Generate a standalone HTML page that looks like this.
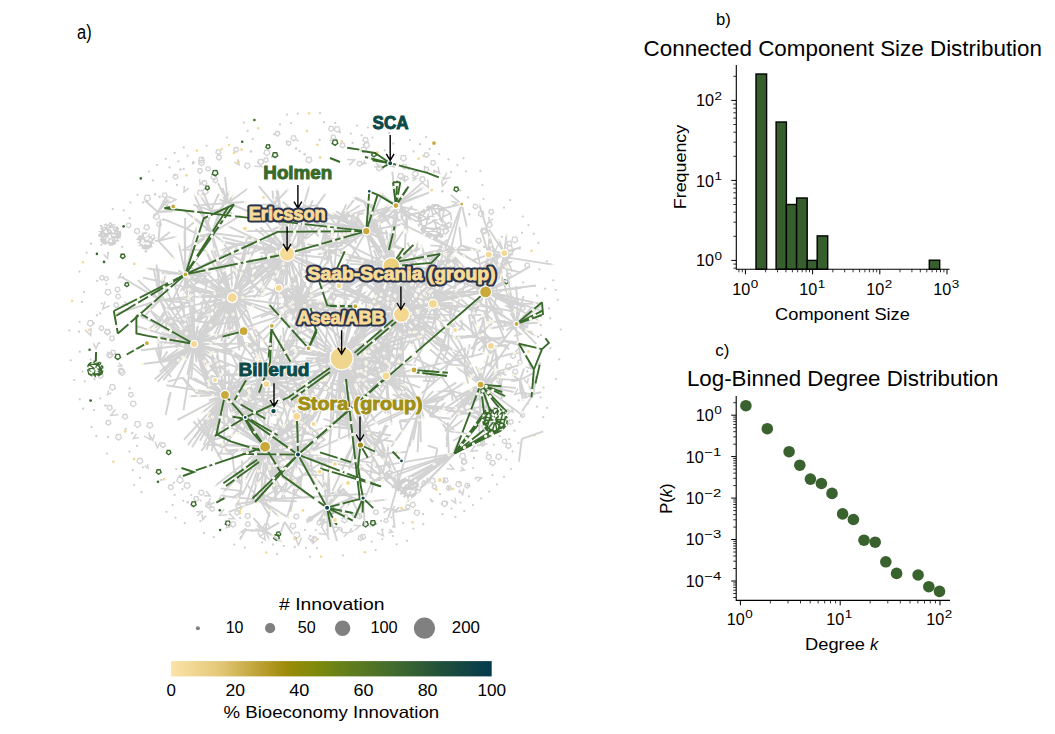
<!DOCTYPE html>
<html><head><meta charset="utf-8"><style>
html,body{margin:0;padding:0;background:#fff;width:1055px;height:734px;overflow:hidden}
svg{display:block}
text{font-family:"Liberation Sans", sans-serif}
</style></head><body>
<svg width="1055" height="734" viewBox="0 0 1055 734">
<rect width="1055" height="734" fill="#fff"/>
<circle cx="559.3" cy="359.4" r="1.1" fill="#cdcdcd"/>
<circle cx="555.9" cy="379.0" r="1.1" fill="#cdcdcd"/>
<circle cx="547.1" cy="407.8" r="1.1" fill="#cdcdcd"/>
<circle cx="543.3" cy="417.2" r="1.1" fill="#cdcdcd"/>
<circle cx="534.2" cy="435.3" r="1.3" fill="#f3d998"/>
<circle cx="510.9" cy="469.0" r="1.1" fill="#cdcdcd"/>
<circle cx="504.0" cy="476.8" r="1.1" fill="#cdcdcd"/>
<circle cx="496.8" cy="484.3" r="1.1" fill="#cdcdcd"/>
<circle cx="489.2" cy="491.6" r="1.1" fill="#cdcdcd"/>
<circle cx="481.2" cy="498.5" r="1.1" fill="#cdcdcd"/>
<circle cx="472.9" cy="505.0" r="1.1" fill="#cdcdcd"/>
<circle cx="464.3" cy="511.2" r="1.1" fill="#cdcdcd"/>
<circle cx="455.4" cy="517.1" r="1.1" fill="#cdcdcd"/>
<circle cx="407.0" cy="540.8" r="1.1" fill="#cdcdcd"/>
<circle cx="396.7" cy="544.3" r="1.1" fill="#cdcdcd"/>
<circle cx="375.6" cy="550.0" r="1.1" fill="#cdcdcd"/>
<circle cx="364.8" cy="552.3" r="1.3" fill="#f3d998"/>
<circle cx="343.0" cy="555.4" r="1.1" fill="#cdcdcd"/>
<circle cx="321.0" cy="556.8" r="1.3" fill="#f3d998"/>
<circle cx="310.0" cy="556.8" r="1.1" fill="#cdcdcd"/>
<circle cx="277.1" cy="554.2" r="1.1" fill="#cdcdcd"/>
<circle cx="266.2" cy="552.5" r="1.3" fill="#f3d998"/>
<circle cx="244.8" cy="547.6" r="1.1" fill="#cdcdcd"/>
<circle cx="234.3" cy="544.6" r="1.1" fill="#cdcdcd"/>
<circle cx="213.8" cy="537.2" r="1.1" fill="#cdcdcd"/>
<circle cx="203.9" cy="532.9" r="1.1" fill="#cdcdcd"/>
<circle cx="184.7" cy="523.1" r="1.1" fill="#cdcdcd"/>
<circle cx="175.5" cy="517.7" r="1.1" fill="#cdcdcd"/>
<circle cx="166.5" cy="511.8" r="1.1" fill="#cdcdcd"/>
<circle cx="141.6" cy="492.2" r="1.1" fill="#cdcdcd"/>
<circle cx="134.0" cy="485.0" r="1.1" fill="#cdcdcd"/>
<circle cx="113.3" cy="461.7" r="1.3" fill="#f3d998"/>
<circle cx="107.2" cy="453.5" r="1.1" fill="#cdcdcd"/>
<circle cx="96.3" cy="436.2" r="1.1" fill="#cdcdcd"/>
<circle cx="91.5" cy="427.2" r="1.1" fill="#cdcdcd"/>
<circle cx="83.2" cy="408.7" r="1.1" fill="#cdcdcd"/>
<circle cx="79.8" cy="399.3" r="1.1" fill="#cdcdcd"/>
<circle cx="74.3" cy="380.0" r="1.1" fill="#cdcdcd"/>
<circle cx="70.8" cy="360.3" r="1.1" fill="#cdcdcd"/>
<circle cx="69.3" cy="330.5" r="1.1" fill="#cdcdcd"/>
<circle cx="72.2" cy="300.8" r="1.3" fill="#f3d998"/>
<circle cx="79.5" cy="271.6" r="1.1" fill="#cdcdcd"/>
<circle cx="82.9" cy="262.2" r="1.3" fill="#f3d998"/>
<circle cx="86.7" cy="252.8" r="1.1" fill="#cdcdcd"/>
<circle cx="91.0" cy="243.7" r="1.1" fill="#cdcdcd"/>
<circle cx="101.0" cy="225.9" r="1.1" fill="#cdcdcd"/>
<circle cx="112.7" cy="209.0" r="1.1" fill="#cdcdcd"/>
<circle cx="140.8" cy="178.4" r="1.3" fill="#386a2a"/>
<circle cx="148.8" cy="171.5" r="1.1" fill="#cdcdcd"/>
<circle cx="157.1" cy="165.0" r="1.1" fill="#cdcdcd"/>
<circle cx="165.7" cy="158.8" r="1.1" fill="#cdcdcd"/>
<circle cx="174.6" cy="152.9" r="1.1" fill="#cdcdcd"/>
<circle cx="183.8" cy="147.4" r="1.1" fill="#cdcdcd"/>
<circle cx="243.8" cy="122.6" r="1.1" fill="#cdcdcd"/>
<circle cx="254.4" cy="120.0" r="1.3" fill="#386a2a"/>
<circle cx="287.0" cy="114.6" r="1.1" fill="#cdcdcd"/>
<circle cx="297.9" cy="113.7" r="1.1" fill="#cdcdcd"/>
<circle cx="309.0" cy="113.2" r="1.3" fill="#f3d998"/>
<circle cx="320.0" cy="113.2" r="1.1" fill="#cdcdcd"/>
<circle cx="395.7" cy="125.4" r="1.1" fill="#cdcdcd"/>
<circle cx="426.1" cy="137.1" r="1.1" fill="#cdcdcd"/>
<circle cx="463.5" cy="158.2" r="1.1" fill="#cdcdcd"/>
<circle cx="480.4" cy="170.9" r="1.1" fill="#cdcdcd"/>
<circle cx="510.2" cy="200.2" r="1.1" fill="#cdcdcd"/>
<circle cx="522.8" cy="216.5" r="1.1" fill="#cdcdcd"/>
<circle cx="528.5" cy="225.1" r="1.1" fill="#cdcdcd"/>
<circle cx="533.7" cy="233.8" r="1.1" fill="#cdcdcd"/>
<circle cx="538.5" cy="242.8" r="1.1" fill="#cdcdcd"/>
<circle cx="546.8" cy="261.3" r="1.1" fill="#cdcdcd"/>
<circle cx="553.2" cy="280.3" r="1.1" fill="#cdcdcd"/>
<circle cx="555.7" cy="290.0" r="1.1" fill="#cdcdcd"/>
<circle cx="557.7" cy="299.8" r="1.1" fill="#cdcdcd"/>
<circle cx="560.7" cy="329.5" r="1.1" fill="#cdcdcd"/>
<circle cx="550.4" cy="348.2" r="1.1" fill="#cdcdcd"/>
<circle cx="543.6" cy="387.6" r="1.1" fill="#cdcdcd"/>
<circle cx="540.6" cy="397.3" r="1.1" fill="#cdcdcd"/>
<circle cx="537.1" cy="406.7" r="1.1" fill="#cdcdcd"/>
<circle cx="518.4" cy="442.9" r="1.1" fill="#cdcdcd"/>
<circle cx="512.6" cy="451.4" r="1.1" fill="#cdcdcd"/>
<circle cx="506.3" cy="459.6" r="1.1" fill="#cdcdcd"/>
<circle cx="492.5" cy="475.2" r="1.1" fill="#cdcdcd"/>
<circle cx="469.0" cy="496.3" r="1.1" fill="#cdcdcd"/>
<circle cx="460.5" cy="502.6" r="1.1" fill="#cdcdcd"/>
<circle cx="451.6" cy="508.6" r="1.1" fill="#cdcdcd"/>
<circle cx="442.4" cy="514.2" r="1.1" fill="#cdcdcd"/>
<circle cx="423.3" cy="524.2" r="1.1" fill="#cdcdcd"/>
<circle cx="413.4" cy="528.6" r="1.1" fill="#cdcdcd"/>
<circle cx="392.9" cy="536.0" r="1.1" fill="#cdcdcd"/>
<circle cx="382.3" cy="539.1" r="1.1" fill="#cdcdcd"/>
<circle cx="371.7" cy="541.7" r="1.1" fill="#cdcdcd"/>
<circle cx="316.9" cy="548.0" r="1.1" fill="#cdcdcd"/>
<circle cx="305.9" cy="547.8" r="1.1" fill="#cdcdcd"/>
<circle cx="294.8" cy="547.2" r="1.1" fill="#cdcdcd"/>
<circle cx="283.8" cy="546.1" r="1.1" fill="#cdcdcd"/>
<circle cx="272.9" cy="544.5" r="1.1" fill="#cdcdcd"/>
<circle cx="262.1" cy="542.5" r="1.1" fill="#cdcdcd"/>
<circle cx="240.8" cy="537.1" r="1.1" fill="#cdcdcd"/>
<circle cx="220.1" cy="530.0" r="1.3" fill="#386a2a"/>
<circle cx="200.3" cy="521.1" r="1.1" fill="#cdcdcd"/>
<circle cx="172.6" cy="504.8" r="1.1" fill="#cdcdcd"/>
<circle cx="140.0" cy="477.8" r="1.1" fill="#cdcdcd"/>
<circle cx="132.8" cy="470.2" r="1.1" fill="#cdcdcd"/>
<circle cx="108.0" cy="437.2" r="1.1" fill="#cdcdcd"/>
<circle cx="94.2" cy="410.0" r="1.1" fill="#cdcdcd"/>
<circle cx="90.6" cy="400.6" r="1.3" fill="#386a2a"/>
<circle cx="84.8" cy="381.3" r="1.1" fill="#cdcdcd"/>
<circle cx="82.6" cy="371.5" r="1.1" fill="#cdcdcd"/>
<circle cx="79.8" cy="351.7" r="1.1" fill="#cdcdcd"/>
<circle cx="79.1" cy="331.7" r="1.1" fill="#cdcdcd"/>
<circle cx="79.6" cy="321.8" r="1.1" fill="#cdcdcd"/>
<circle cx="82.0" cy="301.9" r="1.1" fill="#cdcdcd"/>
<circle cx="84.0" cy="292.1" r="1.1" fill="#cdcdcd"/>
<circle cx="96.9" cy="253.9" r="1.3" fill="#386a2a"/>
<circle cx="101.3" cy="244.8" r="1.1" fill="#cdcdcd"/>
<circle cx="106.2" cy="235.9" r="1.1" fill="#cdcdcd"/>
<circle cx="123.7" cy="210.4" r="1.1" fill="#cdcdcd"/>
<circle cx="130.4" cy="202.5" r="1.1" fill="#cdcdcd"/>
<circle cx="137.5" cy="194.8" r="1.1" fill="#cdcdcd"/>
<circle cx="152.8" cy="180.4" r="1.1" fill="#cdcdcd"/>
<circle cx="169.5" cy="167.4" r="1.1" fill="#cdcdcd"/>
<circle cx="178.4" cy="161.4" r="1.1" fill="#cdcdcd"/>
<circle cx="187.6" cy="155.8" r="1.1" fill="#cdcdcd"/>
<circle cx="197.0" cy="150.6" r="1.3" fill="#f3d998"/>
<circle cx="206.7" cy="145.8" r="1.1" fill="#cdcdcd"/>
<circle cx="226.8" cy="137.5" r="1.1" fill="#cdcdcd"/>
<circle cx="247.7" cy="130.9" r="1.1" fill="#cdcdcd"/>
<circle cx="258.3" cy="128.3" r="1.3" fill="#f3d998"/>
<circle cx="280.0" cy="124.4" r="1.1" fill="#cdcdcd"/>
<circle cx="291.0" cy="123.1" r="1.1" fill="#cdcdcd"/>
<circle cx="324.1" cy="122.2" r="1.1" fill="#cdcdcd"/>
<circle cx="335.2" cy="122.8" r="1.1" fill="#cdcdcd"/>
<circle cx="357.1" cy="125.5" r="1.1" fill="#cdcdcd"/>
<circle cx="367.9" cy="127.5" r="1.1" fill="#cdcdcd"/>
<circle cx="378.7" cy="129.9" r="1.1" fill="#cdcdcd"/>
<circle cx="389.2" cy="132.9" r="1.1" fill="#cdcdcd"/>
<circle cx="409.9" cy="140.0" r="1.1" fill="#cdcdcd"/>
<circle cx="419.9" cy="144.2" r="1.1" fill="#cdcdcd"/>
<circle cx="429.7" cy="148.9" r="1.1" fill="#cdcdcd"/>
<circle cx="439.2" cy="154.0" r="1.1" fill="#cdcdcd"/>
<circle cx="448.5" cy="159.4" r="1.1" fill="#cdcdcd"/>
<circle cx="457.4" cy="165.2" r="1.1" fill="#cdcdcd"/>
<circle cx="466.1" cy="171.5" r="1.1" fill="#cdcdcd"/>
<circle cx="482.4" cy="185.0" r="1.1" fill="#cdcdcd"/>
<circle cx="504.0" cy="207.6" r="1.1" fill="#cdcdcd"/>
<circle cx="522.0" cy="232.8" r="1.1" fill="#cdcdcd"/>
<circle cx="531.6" cy="250.8" r="1.3" fill="#f3d998"/>
<circle cx="539.4" cy="269.4" r="1.1" fill="#cdcdcd"/>
<circle cx="545.2" cy="288.7" r="1.1" fill="#cdcdcd"/>
<circle cx="549.0" cy="308.4" r="1.1" fill="#cdcdcd"/>
<circle cx="550.2" cy="318.3" r="1.1" fill="#cdcdcd"/>
<circle cx="541.0" cy="335.2" r="1.1" fill="#cdcdcd"/>
<circle cx="538.6" cy="364.9" r="1.1" fill="#cdcdcd"/>
<circle cx="534.3" cy="384.4" r="1.1" fill="#cdcdcd"/>
<circle cx="531.4" cy="394.0" r="1.1" fill="#cdcdcd"/>
<circle cx="527.9" cy="403.4" r="1.1" fill="#cdcdcd"/>
<circle cx="519.6" cy="421.8" r="1.1" fill="#cdcdcd"/>
<circle cx="514.6" cy="430.7" r="1.1" fill="#cdcdcd"/>
<circle cx="509.2" cy="439.3" r="1.1" fill="#cdcdcd"/>
<circle cx="490.3" cy="463.7" r="1.1" fill="#cdcdcd"/>
<circle cx="475.6" cy="478.5" r="1.1" fill="#cdcdcd"/>
<circle cx="467.7" cy="485.4" r="1.1" fill="#cdcdcd"/>
<circle cx="459.4" cy="492.0" r="1.1" fill="#cdcdcd"/>
<circle cx="441.8" cy="503.9" r="1.1" fill="#cdcdcd"/>
<circle cx="423.0" cy="514.2" r="1.1" fill="#cdcdcd"/>
<circle cx="403.2" cy="522.9" r="1.1" fill="#cdcdcd"/>
<circle cx="393.0" cy="526.5" r="1.1" fill="#cdcdcd"/>
<circle cx="382.6" cy="529.7" r="1.1" fill="#cdcdcd"/>
<circle cx="328.6" cy="538.7" r="1.1" fill="#cdcdcd"/>
<circle cx="317.6" cy="539.0" r="1.3" fill="#f3d998"/>
<circle cx="295.6" cy="538.3" r="1.3" fill="#386a2a"/>
<circle cx="252.3" cy="531.0" r="1.1" fill="#cdcdcd"/>
<circle cx="201.8" cy="511.6" r="1.1" fill="#cdcdcd"/>
<circle cx="192.4" cy="506.4" r="1.1" fill="#cdcdcd"/>
<circle cx="183.3" cy="500.8" r="1.1" fill="#cdcdcd"/>
<circle cx="174.6" cy="494.9" r="1.1" fill="#cdcdcd"/>
<circle cx="158.0" cy="481.8" r="1.3" fill="#386a2a"/>
<circle cx="142.9" cy="467.3" r="1.1" fill="#cdcdcd"/>
<circle cx="129.5" cy="451.6" r="1.1" fill="#cdcdcd"/>
<circle cx="100.2" cy="398.4" r="1.1" fill="#cdcdcd"/>
<circle cx="94.4" cy="379.2" r="1.1" fill="#cdcdcd"/>
<circle cx="92.2" cy="369.4" r="1.1" fill="#cdcdcd"/>
<circle cx="90.6" cy="359.6" r="1.1" fill="#cdcdcd"/>
<circle cx="89.6" cy="349.7" r="1.3" fill="#386a2a"/>
<circle cx="89.1" cy="329.9" r="1.3" fill="#f3d998"/>
<circle cx="97.1" cy="280.8" r="1.1" fill="#cdcdcd"/>
<circle cx="104.0" cy="261.9" r="1.3" fill="#386a2a"/>
<circle cx="108.2" cy="252.8" r="1.1" fill="#cdcdcd"/>
<circle cx="112.8" cy="243.8" r="1.1" fill="#cdcdcd"/>
<circle cx="123.6" cy="226.4" r="1.3" fill="#386a2a"/>
<circle cx="129.7" cy="218.2" r="1.1" fill="#cdcdcd"/>
<circle cx="143.2" cy="202.4" r="1.1" fill="#cdcdcd"/>
<circle cx="166.4" cy="181.3" r="1.1" fill="#cdcdcd"/>
<circle cx="174.9" cy="174.9" r="1.1" fill="#cdcdcd"/>
<circle cx="183.7" cy="168.9" r="1.1" fill="#cdcdcd"/>
<circle cx="192.8" cy="163.4" r="1.1" fill="#cdcdcd"/>
<circle cx="202.2" cy="158.2" r="1.1" fill="#cdcdcd"/>
<circle cx="221.7" cy="149.1" r="1.3" fill="#f3d998"/>
<circle cx="242.2" cy="141.8" r="1.3" fill="#386a2a"/>
<circle cx="252.7" cy="138.9" r="1.1" fill="#cdcdcd"/>
<circle cx="274.1" cy="134.3" r="1.1" fill="#cdcdcd"/>
<circle cx="306.9" cy="131.1" r="1.3" fill="#f3d998"/>
<circle cx="339.9" cy="132.2" r="1.1" fill="#cdcdcd"/>
<circle cx="350.8" cy="133.5" r="1.1" fill="#cdcdcd"/>
<circle cx="361.6" cy="135.3" r="1.1" fill="#cdcdcd"/>
<circle cx="372.4" cy="137.6" r="1.1" fill="#cdcdcd"/>
<circle cx="393.3" cy="143.6" r="1.1" fill="#cdcdcd"/>
<circle cx="413.6" cy="151.4" r="1.1" fill="#cdcdcd"/>
<circle cx="423.4" cy="155.9" r="1.3" fill="#f3d998"/>
<circle cx="451.1" cy="172.1" r="1.1" fill="#cdcdcd"/>
<circle cx="483.5" cy="199.0" r="1.1" fill="#cdcdcd"/>
<circle cx="519.7" cy="248.6" r="1.1" fill="#cdcdcd"/>
<circle cx="534.4" cy="286.0" r="1.1" fill="#cdcdcd"/>
<circle cx="536.8" cy="295.7" r="1.1" fill="#cdcdcd"/>
<circle cx="540.0" cy="315.3" r="1.1" fill="#cdcdcd"/>
<circle cx="540.7" cy="325.2" r="1.1" fill="#cdcdcd"/>
<circle cx="529.1" cy="361.6" r="1.1" fill="#cdcdcd"/>
<circle cx="527.3" cy="371.4" r="1.1" fill="#cdcdcd"/>
<circle cx="518.7" cy="400.3" r="1.1" fill="#cdcdcd"/>
<circle cx="499.8" cy="436.2" r="1.1" fill="#cdcdcd"/>
<circle cx="493.8" cy="444.6" r="1.1" fill="#cdcdcd"/>
<circle cx="487.4" cy="452.7" r="1.1" fill="#cdcdcd"/>
<circle cx="473.2" cy="468.0" r="1.1" fill="#cdcdcd"/>
<circle cx="448.8" cy="488.2" r="1.1" fill="#cdcdcd"/>
<circle cx="440.0" cy="494.2" r="1.1" fill="#cdcdcd"/>
<circle cx="430.8" cy="499.7" r="1.1" fill="#cdcdcd"/>
<circle cx="391.4" cy="517.5" r="1.1" fill="#cdcdcd"/>
<circle cx="381.0" cy="520.8" r="1.1" fill="#cdcdcd"/>
<circle cx="359.7" cy="525.9" r="1.1" fill="#cdcdcd"/>
<circle cx="326.8" cy="529.8" r="1.1" fill="#cdcdcd"/>
<circle cx="315.8" cy="530.1" r="1.1" fill="#cdcdcd"/>
<circle cx="304.8" cy="529.9" r="1.1" fill="#cdcdcd"/>
<circle cx="240.1" cy="518.0" r="1.1" fill="#cdcdcd"/>
<circle cx="229.9" cy="514.3" r="1.1" fill="#cdcdcd"/>
<circle cx="219.8" cy="510.2" r="1.3" fill="#386a2a"/>
<circle cx="200.5" cy="500.5" r="1.1" fill="#cdcdcd"/>
<circle cx="191.3" cy="495.0" r="1.1" fill="#cdcdcd"/>
<circle cx="182.4" cy="489.1" r="1.1" fill="#cdcdcd"/>
<circle cx="173.9" cy="482.8" r="1.1" fill="#cdcdcd"/>
<circle cx="137.1" cy="445.8" r="1.1" fill="#cdcdcd"/>
<circle cx="125.5" cy="428.9" r="1.1" fill="#cdcdcd"/>
<circle cx="101.1" cy="363.0" r="1.1" fill="#cdcdcd"/>
<circle cx="99.1" cy="343.2" r="1.1" fill="#cdcdcd"/>
<circle cx="100.2" cy="313.4" r="1.1" fill="#cdcdcd"/>
<circle cx="101.7" cy="303.5" r="1.1" fill="#cdcdcd"/>
<circle cx="106.4" cy="284.0" r="1.1" fill="#cdcdcd"/>
<circle cx="122.2" cy="246.8" r="1.1" fill="#cdcdcd"/>
<circle cx="176.9" cy="184.9" r="1.1" fill="#cdcdcd"/>
<circle cx="286.7" cy="141.6" r="1.1" fill="#cdcdcd"/>
<circle cx="297.6" cy="140.5" r="1.1" fill="#cdcdcd"/>
<circle cx="319.7" cy="139.9" r="1.1" fill="#cdcdcd"/>
<circle cx="330.7" cy="140.4" r="1.1" fill="#cdcdcd"/>
<circle cx="341.7" cy="141.4" r="1.3" fill="#f3d998"/>
<circle cx="352.6" cy="142.9" r="1.1" fill="#cdcdcd"/>
<circle cx="363.5" cy="144.8" r="1.1" fill="#cdcdcd"/>
<circle cx="384.7" cy="150.3" r="1.1" fill="#cdcdcd"/>
<circle cx="424.7" cy="166.9" r="1.1" fill="#cdcdcd"/>
<circle cx="434.1" cy="172.2" r="1.1" fill="#cdcdcd"/>
<circle cx="443.2" cy="177.9" r="1.1" fill="#cdcdcd"/>
<circle cx="460.2" cy="190.5" r="1.1" fill="#cdcdcd"/>
<circle cx="468.2" cy="197.4" r="1.1" fill="#cdcdcd"/>
<circle cx="483.0" cy="212.2" r="1.1" fill="#cdcdcd"/>
<circle cx="501.8" cy="236.8" r="1.1" fill="#cdcdcd"/>
<circle cx="511.9" cy="254.5" r="1.1" fill="#cdcdcd"/>
<circle cx="523.2" cy="282.6" r="1.1" fill="#cdcdcd"/>
<circle cx="529.6" cy="311.9" r="1.1" fill="#cdcdcd"/>
<circle cx="531.1" cy="331.8" r="1.3" fill="#f3d998"/>
<polygon points="207.0,183.7 204.5,185.7 201.9,183.8 202.8,180.8 206.0,180.7" fill="none" stroke="#d3d3d3" stroke-width="1.3"/>
<circle cx="161.3" cy="479.9" r="1.2" fill="#cdcdcd"/>
<polygon points="161.4,225.0 159.0,226.8 156.6,225.0 157.5,222.2 160.5,222.1" fill="none" stroke="#d3d3d3" stroke-width="1.3"/>
<path d="M301.7,537.7 l-3.3,7.2 l-3.2,-7.3" fill="none" stroke="#d3d3d3" stroke-width="1.5"/>
<polygon points="295.9,526.7 293.0,528.8 290.1,526.8 291.2,523.4 294.8,523.3" fill="none" stroke="#d3d3d3" stroke-width="1.3"/>
<circle cx="538.1" cy="336.7" r="1.2" fill="#cdcdcd"/>
<polygon points="403.5,177.0 400.7,179.1 397.8,177.1 398.9,173.7 402.4,173.7" fill="none" stroke="#d3d3d3" stroke-width="1.3"/>
<path d="M487.4,443.9 l-6.3,0.9 l3.5,-5.3" fill="none" stroke="#d3d3d3" stroke-width="1.5"/>
<circle cx="442.3" cy="191.2" r="1.2" fill="#cdcdcd"/>
<polygon points="121.5,437.9 118.6,440.1 115.6,438.0 116.7,434.5 120.3,434.4" fill="none" stroke="#d3d3d3" stroke-width="1.3"/>
<path d="M370.0,520.6 l6.4,3.5 l-6.9,2.5" fill="none" stroke="#d3d3d3" stroke-width="1.5"/>
<polygon points="240.6,506.5 238.2,508.3 235.8,506.6 236.6,503.8 239.6,503.7" fill="none" stroke="#d3d3d3" stroke-width="1.3"/>
<polygon points="103.3,376.3 100.5,378.4 97.7,376.4 98.7,373.1 102.2,373.0" fill="none" stroke="#d3d3d3" stroke-width="1.3"/>
<path d="M478.2,450.4 l-7.3,0.8 l4.3,-5.9" fill="none" stroke="#d3d3d3" stroke-width="1.5"/>
<polygon points="208.2,192.3 205.4,194.4 202.6,192.4 203.6,189.1 207.1,189.0" fill="none" stroke="#d3d3d3" stroke-width="1.3"/>
<path d="M331.8,527.2 l8.0,0.3 l-5.5,5.8" fill="none" stroke="#d3d3d3" stroke-width="1.5"/>
<path d="M376.2,162.8 l3.4,4.4 l-5.5,-0.4" fill="none" stroke="#d3d3d3" stroke-width="1.5"/>
<polygon points="120.1,290.3 117.7,292.2 115.1,290.4 116.0,287.4 119.1,287.4" fill="none" stroke="#d3d3d3" stroke-width="1.3"/>
<polygon points="216.8,177.8 214.0,179.9 211.1,177.9 212.1,174.5 215.7,174.5" fill="none" stroke="#d3d3d3" stroke-width="1.3"/>
<path d="M206.1,515.5 l-3.4,4.1 l-0.7,-5.3" fill="none" stroke="#d3d3d3" stroke-width="1.5"/>
<polygon points="408.3,178.9 406.1,180.5 403.9,179.0 404.7,176.4 407.4,176.3" fill="none" stroke="#d3d3d3" stroke-width="1.3"/>
<polygon points="221.5,158.2 219.0,160.1 216.4,158.3 217.4,155.3 220.5,155.3" fill="none" stroke="#d3d3d3" stroke-width="1.3"/>
<polygon points="428.8,170.1 426.5,171.9 424.2,170.2 425.0,167.5 427.9,167.4" fill="none" stroke="#d3d3d3" stroke-width="1.3"/>
<polygon points="425.9,484.3 423.8,485.9 421.6,484.3 422.4,481.8 425.0,481.7" fill="none" stroke="#d3d3d3" stroke-width="1.3"/>
<path d="M498.1,245.0 l-3.2,6.3 l-2.6,-6.6" fill="none" stroke="#d3d3d3" stroke-width="1.5"/>
<polygon points="407.0,167.3 404.5,169.1 401.9,167.3 402.8,164.4 405.9,164.3" fill="none" stroke="#d3d3d3" stroke-width="1.3"/>
<path d="M521.5,353.1 l-7.1,0.4 l4.5,-5.6" fill="none" stroke="#d3d3d3" stroke-width="1.5"/>
<polygon points="202.4,171.6 200.0,173.4 197.5,171.6 198.4,168.7 201.4,168.7" fill="none" stroke="#d3d3d3" stroke-width="1.3"/>
<polygon points="198.8,499.5 196.3,501.4 193.8,499.6 194.7,496.7 197.8,496.6" fill="none" stroke="#d3d3d3" stroke-width="1.3"/>
<circle cx="93.5" cy="323.2" r="1.2" fill="#cdcdcd"/>
<circle cx="163.2" cy="219.5" r="1.2" fill="#cdcdcd"/>
<polygon points="492.3,225.7 489.7,227.7 487.0,225.8 488.0,222.7 491.2,222.7" fill="none" stroke="#d3d3d3" stroke-width="1.3"/>
<circle cx="452.8" cy="488.8" r="1.4" fill="#f3d998"/>
<circle cx="96.9" cy="315.1" r="1.2" fill="#cdcdcd"/>
<path d="M389.1,529.3 l3.5,2.5 l-4.2,0.9" fill="none" stroke="#d3d3d3" stroke-width="1.5"/>
<path d="M322.3,528.1 l3.9,6.6 l-7.6,-1.5" fill="none" stroke="#d3d3d3" stroke-width="1.5"/>
<polygon points="183.2,481.0 180.1,483.3 176.9,481.1 178.1,477.4 181.9,477.4" fill="none" stroke="#d3d3d3" stroke-width="1.3"/>
<path d="M463.9,488.7 l-1.2,6.1 l-3.8,-5.0" fill="none" stroke="#d3d3d3" stroke-width="1.5"/>
<circle cx="294.6" cy="538.5" r="1.4" fill="#f3d998"/>
<polygon points="406.4,159.1 403.5,161.2 400.5,159.1 401.6,155.7 405.3,155.6" fill="none" stroke="#d3d3d3" stroke-width="1.3"/>
<polygon points="263.5,533.8 260.8,535.8 258.1,533.9 259.1,530.7 262.4,530.7" fill="none" stroke="#d3d3d3" stroke-width="1.3"/>
<path d="M412.0,177.5 l4.0,1.0 l-3.4,2.3" fill="none" stroke="#d3d3d3" stroke-width="1.5"/>
<circle cx="412.5" cy="522.3" r="1.4" fill="#f3d998"/>
<path d="M203.9,180.5 l-3.8,4.1 l-0.5,-5.5" fill="none" stroke="#d3d3d3" stroke-width="1.5"/>
<polygon points="130.9,226.1 128.7,227.8 126.3,226.2 127.2,223.4 130.0,223.4" fill="none" stroke="#d3d3d3" stroke-width="1.3"/>
<polygon points="123.7,371.5 121.1,373.5 118.3,371.6 119.3,368.4 122.7,368.4" fill="none" stroke="#d3d3d3" stroke-width="1.3"/>
<polygon points="415.5,505.6 412.8,507.6 410.1,505.7 411.1,502.5 414.4,502.4" fill="none" stroke="#d3d3d3" stroke-width="1.3"/>
<polygon points="211.0,505.8 208.3,507.9 205.5,505.9 206.5,502.6 209.9,502.6" fill="none" stroke="#d3d3d3" stroke-width="1.3"/>
<path d="M455.2,497.6 l0.5,5.6 l-4.5,-3.3" fill="none" stroke="#d3d3d3" stroke-width="1.5"/>
<circle cx="159.6" cy="196.8" r="1.2" fill="#cdcdcd"/>
<circle cx="317.3" cy="144.8" r="1.4" fill="#f3d998"/>
<polygon points="435.7,163.6 433.1,165.5 430.6,163.7 431.5,160.7 434.6,160.6" fill="none" stroke="#d3d3d3" stroke-width="1.3"/>
<path d="M108.0,252.8 l-0.4,5.7 l-4.0,-4.1" fill="none" stroke="#d3d3d3" stroke-width="1.5"/>
<polygon points="486.5,231.4 483.7,233.5 480.8,231.5 481.9,228.1 485.4,228.1" fill="none" stroke="#d3d3d3" stroke-width="1.3"/>
<path d="M492.9,218.5 l-3.7,3.7 l-0.3,-5.2" fill="none" stroke="#d3d3d3" stroke-width="1.5"/>
<polygon points="155.0,238.2 152.5,240.0 149.9,238.2 150.8,235.2 154.0,235.2" fill="none" stroke="#d3d3d3" stroke-width="1.3"/>
<polygon points="110.5,332.8 107.7,334.9 104.9,332.9 105.9,329.5 109.4,329.5" fill="none" stroke="#d3d3d3" stroke-width="1.3"/>
<polygon points="118.7,305.9 116.2,307.8 113.7,306.0 114.6,303.1 117.7,303.0" fill="none" stroke="#d3d3d3" stroke-width="1.3"/>
<polygon points="335.1,511.4 332.3,513.5 329.5,511.5 330.5,508.2 334.0,508.1" fill="none" stroke="#386a2a" stroke-width="1.4"/>
<polygon points="204.4,160.8 201.5,163.0 198.5,160.9 199.6,157.4 203.2,157.4" fill="none" stroke="#d3d3d3" stroke-width="1.3"/>
<path d="M353.9,530.8 l-4.2,1.3 l1.8,-4.0" fill="none" stroke="#d3d3d3" stroke-width="1.5"/>
<path d="M366.9,163.2 l-4.0,0.6 l2.2,-3.4" fill="none" stroke="#d3d3d3" stroke-width="1.5"/>
<polygon points="324.9,519.5 322.8,521.1 320.6,519.5 321.4,517.0 324.1,517.0" fill="none" stroke="#d3d3d3" stroke-width="1.3"/>
<polygon points="493.7,212.6 491.2,214.4 488.8,212.6 489.7,209.7 492.7,209.7" fill="none" stroke="#d3d3d3" stroke-width="1.3"/>
<polygon points="151.1,246.1 148.1,248.4 145.0,246.2 146.1,242.6 149.9,242.6" fill="none" stroke="#d3d3d3" stroke-width="1.3"/>
<circle cx="239.9" cy="513.2" r="1.4" fill="#f3d998"/>
<polygon points="525.4,308.7 523.1,310.5 520.6,308.8 521.5,306.0 524.5,305.9" fill="none" stroke="#d3d3d3" stroke-width="1.3"/>
<polygon points="517.7,240.7 514.8,242.9 511.8,240.7 512.9,237.2 516.5,237.2" fill="none" stroke="#d3d3d3" stroke-width="1.3"/>
<polygon points="190.1,486.5 187.1,488.7 184.1,486.6 185.2,483.0 188.9,483.0" fill="none" stroke="#d3d3d3" stroke-width="1.3"/>
<path d="M515.1,329.8 l6.2,4.3 l-7.3,1.8" fill="none" stroke="#d3d3d3" stroke-width="1.5"/>
<circle cx="502.0" cy="389.8" r="1.2" fill="#cdcdcd"/>
<polygon points="230.5,524.1 227.9,526.0 225.3,524.2 226.2,521.1 229.4,521.1" fill="none" stroke="#386a2a" stroke-width="1.4"/>
<circle cx="459.6" cy="482.8" r="1.4" fill="#f3d998"/>
<polygon points="133.3,395.4 130.9,397.2 128.5,395.5 129.4,392.6 132.4,392.6" fill="none" stroke="#d3d3d3" stroke-width="1.3"/>
<polygon points="268.3,160.7 266.0,162.5 263.6,160.8 264.5,158.0 267.3,158.0" fill="none" stroke="#d3d3d3" stroke-width="1.3"/>
<polygon points="204.3,163.7 201.6,165.7 198.8,163.7 199.8,160.4 203.2,160.4" fill="none" stroke="#d3d3d3" stroke-width="1.3"/>
<polygon points="477.8,207.2 475.4,208.9 473.0,207.2 473.9,204.4 476.9,204.3" fill="none" stroke="#d3d3d3" stroke-width="1.3"/>
<polygon points="512.5,248.7 509.8,250.7 507.0,248.8 508.0,245.5 511.4,245.5" fill="none" stroke="#d3d3d3" stroke-width="1.3"/>
<polygon points="511.1,446.6 508.5,448.6 505.8,446.7 506.8,443.6 510.0,443.5" fill="none" stroke="#d3d3d3" stroke-width="1.3"/>
<path d="M124.3,301.2 l3.1,3.9 l-5.0,-0.3" fill="none" stroke="#d3d3d3" stroke-width="1.5"/>
<polygon points="382.2,168.8 379.3,171.0 376.4,168.9 377.5,165.5 381.0,165.5" fill="none" stroke="#d3d3d3" stroke-width="1.3"/>
<path d="M320.2,518.2 l6.3,4.2 l-7.3,1.9" fill="none" stroke="#d3d3d3" stroke-width="1.5"/>
<path d="M508.3,321.5 l-3.9,3.9 l-0.3,-5.5" fill="none" stroke="#d3d3d3" stroke-width="1.5"/>
<polygon points="508.4,253.9 505.7,255.8 503.0,253.9 504.0,250.8 507.3,250.7" fill="none" stroke="#d3d3d3" stroke-width="1.3"/>
<path d="M188.7,188.1 l-4.7,3.8 l0.3,-6.1" fill="none" stroke="#d3d3d3" stroke-width="1.5"/>
<path d="M91.2,327.8 l-0.5,7.8 l-5.5,-5.6" fill="none" stroke="#d3d3d3" stroke-width="1.5"/>
<polygon points="419.7,513.4 417.0,515.5 414.2,513.5 415.2,510.3 418.6,510.3" fill="none" stroke="#d3d3d3" stroke-width="1.3"/>
<circle cx="334.2" cy="522.9" r="1.2" fill="#cdcdcd"/>
<polygon points="368.2,140.7 365.6,142.6 363.0,140.7 363.9,137.7 367.1,137.6" fill="none" stroke="#d3d3d3" stroke-width="1.3"/>
<path d="M353.5,525.2 l6.3,0.7 l-4.8,4.3" fill="none" stroke="#d3d3d3" stroke-width="1.5"/>
<polygon points="270.1,147.3 268.0,148.8 265.9,147.3 266.7,144.9 269.2,144.8" fill="none" stroke="#386a2a" stroke-width="1.4"/>
<path d="M426.8,477.4 l1.2,5.6 l-5.0,-2.9" fill="none" stroke="#d3d3d3" stroke-width="1.5"/>
<polygon points="300.0,535.9 297.0,538.2 293.9,536.0 295.0,532.4 298.8,532.4" fill="none" stroke="#d3d3d3" stroke-width="1.3"/>
<circle cx="121.8" cy="254.4" r="1.2" fill="#cdcdcd"/>
<polygon points="332.1,514.0 330.0,515.6 327.8,514.0 328.6,511.5 331.2,511.5" fill="none" stroke="#d3d3d3" stroke-width="1.3"/>
<path d="M230.1,514.0 l4.3,4.7 l-6.4,0.1" fill="none" stroke="#d3d3d3" stroke-width="1.5"/>
<polygon points="506.8,442.0 504.5,443.8 502.1,442.1 503.0,439.3 505.9,439.2" fill="none" stroke="#d3d3d3" stroke-width="1.3"/>
<circle cx="432.2" cy="501.2" r="1.2" fill="#cdcdcd"/>
<polygon points="362.0,164.4 359.6,166.3 357.1,164.5 358.0,161.6 361.1,161.5" fill="none" stroke="#d3d3d3" stroke-width="1.3"/>
<polygon points="365.6,537.6 363.0,539.5 360.4,537.7 361.3,534.6 364.6,534.6" fill="none" stroke="#d3d3d3" stroke-width="1.3"/>
<polygon points="333.8,129.4 331.2,131.3 328.7,129.5 329.6,126.4 332.8,126.4" fill="none" stroke="#d3d3d3" stroke-width="1.3"/>
<polygon points="311.9,160.8 308.9,163.0 305.8,160.9 306.9,157.3 310.7,157.2" fill="none" stroke="#d3d3d3" stroke-width="1.3"/>
<polygon points="448.1,481.1 445.6,483.0 443.0,481.2 443.9,478.2 447.1,478.1" fill="none" stroke="#d3d3d3" stroke-width="1.3"/>
<circle cx="487.0" cy="415.9" r="1.4" fill="#f3d998"/>
<polygon points="335.7,137.9 333.4,139.7 331.0,138.0 331.8,135.2 334.8,135.2" fill="none" stroke="#d3d3d3" stroke-width="1.3"/>
<path d="M124.0,276.7 l-5.3,1.1 l2.7,-4.7" fill="none" stroke="#d3d3d3" stroke-width="1.5"/>
<path d="M195.9,511.6 l5.6,0.7 l-4.2,3.7" fill="none" stroke="#d3d3d3" stroke-width="1.5"/>
<polygon points="203.1,193.7 200.3,195.8 197.5,193.8 198.5,190.5 202.0,190.4" fill="none" stroke="#d3d3d3" stroke-width="1.3"/>
<polygon points="458.6,190.0 456.3,191.7 454.0,190.0 454.8,187.3 457.7,187.2" fill="none" stroke="#386a2a" stroke-width="1.4"/>
<polygon points="142.8,461.9 139.9,464.0 137.0,461.9 138.1,458.5 141.6,458.5" fill="none" stroke="#d3d3d3" stroke-width="1.3"/>
<polygon points="362.0,517.0 359.4,519.0 356.7,517.1 357.7,513.9 361.0,513.9" fill="none" stroke="#d3d3d3" stroke-width="1.3"/>
<polygon points="420.7,490.7 418.2,492.6 415.6,490.8 416.5,487.7 419.7,487.7" fill="none" stroke="#d3d3d3" stroke-width="1.3"/>
<circle cx="239.8" cy="511.3" r="1.4" fill="#f3d998"/>
<polygon points="220.8,152.7 218.4,154.6 215.9,152.8 216.8,149.8 219.8,149.8" fill="none" stroke="#d3d3d3" stroke-width="1.3"/>
<polygon points="513.2,422.8 510.9,424.5 508.5,422.8 509.3,420.0 512.3,420.0" fill="none" stroke="#d3d3d3" stroke-width="1.3"/>
<polygon points="515.6,356.7 513.1,358.6 510.6,356.8 511.5,353.8 514.6,353.8" fill="none" stroke="#d3d3d3" stroke-width="1.3"/>
<polygon points="511.8,244.4 509.4,246.2 506.9,244.4 507.8,241.5 510.9,241.5" fill="none" stroke="#d3d3d3" stroke-width="1.3"/>
<polygon points="447.4,504.6 444.6,506.7 441.7,504.7 442.7,501.3 446.3,501.2" fill="none" stroke="#d3d3d3" stroke-width="1.3"/>
<polygon points="279.9,134.3 277.5,136.1 275.0,134.4 275.9,131.5 278.9,131.5" fill="none" stroke="#d3d3d3" stroke-width="1.3"/>
<polygon points="170.9,453.0 168.7,454.7 166.5,453.1 167.3,450.5 170.0,450.5" fill="none" stroke="#386a2a" stroke-width="1.4"/>
<polygon points="345.0,146.1 342.5,147.9 340.0,146.2 340.9,143.2 344.0,143.2" fill="none" stroke="#d3d3d3" stroke-width="1.3"/>
<polygon points="332.0,510.7 329.3,512.7 326.6,510.8 327.6,507.5 330.9,507.5" fill="none" stroke="#d3d3d3" stroke-width="1.3"/>
<polygon points="517.8,372.4 515.2,374.4 512.5,372.5 513.5,369.3 516.8,369.3" fill="none" stroke="#d3d3d3" stroke-width="1.3"/>
<polygon points="461.5,484.9 458.7,487.0 455.8,485.0 456.9,481.6 460.4,481.6" fill="none" stroke="#d3d3d3" stroke-width="1.3"/>
<polygon points="217.8,181.1 215.4,182.9 213.0,181.2 213.9,178.4 216.9,178.3" fill="none" stroke="#d3d3d3" stroke-width="1.3"/>
<polygon points="269.9,153.5 266.9,155.8 263.9,153.6 265.0,150.1 268.7,150.0" fill="none" stroke="#d3d3d3" stroke-width="1.3"/>
<polygon points="347.8,517.4 345.5,519.1 343.2,517.4 344.1,514.7 346.9,514.6" fill="none" stroke="#d3d3d3" stroke-width="1.3"/>
<path d="M502.3,379.2 l-1.5,7.1 l-4.3,-5.8" fill="none" stroke="#d3d3d3" stroke-width="1.5"/>
<path d="M516.3,306.9 l-4.7,1.2 l2.2,-4.3" fill="none" stroke="#d3d3d3" stroke-width="1.5"/>
<circle cx="234.0" cy="152.9" r="1.4" fill="#f3d998"/>
<path d="M451.3,201.2 l5.5,1.6 l-4.8,3.0" fill="none" stroke="#d3d3d3" stroke-width="1.5"/>
<polygon points="165.4,445.8 163.0,447.6 160.5,445.9 161.4,443.0 164.4,443.0" fill="none" stroke="#d3d3d3" stroke-width="1.3"/>
<polygon points="114.5,339.1 112.0,341.0 109.5,339.2 110.4,336.2 113.5,336.2" fill="none" stroke="#d3d3d3" stroke-width="1.3"/>
<path d="M118.6,362.8 l3.2,3.0 l-4.4,0.4" fill="none" stroke="#d3d3d3" stroke-width="1.5"/>
<polygon points="204.1,493.5 201.4,495.5 198.7,493.5 199.7,490.3 203.0,490.3" fill="none" stroke="#d3d3d3" stroke-width="1.3"/>
<circle cx="250.9" cy="151.5" r="1.2" fill="#cdcdcd"/>
<polygon points="522.2,362.7 520.0,364.3 517.8,362.7 518.6,360.2 521.3,360.1" fill="none" stroke="#d3d3d3" stroke-width="1.3"/>
<path d="M154.4,434.4 l-1.6,5.7 l-3.2,-4.9" fill="none" stroke="#d3d3d3" stroke-width="1.5"/>
<polygon points="225.1,498.0 222.7,499.8 220.2,498.1 221.1,495.2 224.2,495.1" fill="none" stroke="#d3d3d3" stroke-width="1.3"/>
<polygon points="483.9,214.6 481.1,216.7 478.3,214.7 479.3,211.4 482.8,211.3" fill="none" stroke="#d3d3d3" stroke-width="1.3"/>
<path d="M397.2,509.5 l-5.4,0.8 l3.0,-4.5" fill="none" stroke="#d3d3d3" stroke-width="1.5"/>
<circle cx="113.0" cy="240.4" r="1.2" fill="#cdcdcd"/>
<polygon points="167.3,196.1 164.8,198.0 162.2,196.2 163.2,193.2 166.3,193.1" fill="none" stroke="#d3d3d3" stroke-width="1.3"/>
<polygon points="280.7,534.7 278.5,536.4 276.2,534.7 277.0,532.1 279.8,532.0" fill="none" stroke="#386a2a" stroke-width="1.4"/>
<polygon points="481.2,241.6 478.6,243.5 476.0,241.6 477.0,238.5 480.2,238.5" fill="none" stroke="#d3d3d3" stroke-width="1.3"/>
<circle cx="240.8" cy="508.5" r="1.4" fill="#f3d998"/>
<polygon points="435.4,481.7 432.6,483.8 429.8,481.8 430.8,478.5 434.3,478.4" fill="none" stroke="#d3d3d3" stroke-width="1.3"/>
<path d="M333.7,508.2 l1.6,4.7 l-4.6,-1.9" fill="none" stroke="#d3d3d3" stroke-width="1.5"/>
<path d="M98.4,342.9 l-2.4,5.8 l-2.7,-5.6" fill="none" stroke="#d3d3d3" stroke-width="1.5"/>
<polygon points="429.0,155.6 426.5,157.4 424.0,155.7 424.9,152.8 428.0,152.8" fill="none" stroke="#d3d3d3" stroke-width="1.3"/>
<circle cx="469.4" cy="214.2" r="1.2" fill="#cdcdcd"/>
<circle cx="241.6" cy="149.6" r="1.4" fill="#f3d998"/>
<path d="M404.5,175.0 l0.2,6.3 l-4.8,-4.0" fill="none" stroke="#d3d3d3" stroke-width="1.5"/>
<circle cx="176.3" cy="469.1" r="1.2" fill="#cdcdcd"/>
<polygon points="120.6,297.2 118.2,299.0 115.7,297.3 116.6,294.4 119.6,294.4" fill="none" stroke="#d3d3d3" stroke-width="1.3"/>
<polygon points="410.0,507.5 407.8,509.1 405.6,507.5 406.4,505.0 409.1,504.9" fill="none" stroke="#d3d3d3" stroke-width="1.3"/>
<circle cx="493.4" cy="409.2" r="1.2" fill="#cdcdcd"/>
<circle cx="474.0" cy="458.0" r="1.2" fill="#cdcdcd"/>
<polygon points="120.5,357.5 117.8,359.6 115.1,357.6 116.1,354.4 119.4,354.4" fill="none" stroke="#386a2a" stroke-width="1.4"/>
<path d="M505.8,395.1 l-4.5,3.3 l0.5,-5.5" fill="none" stroke="#d3d3d3" stroke-width="1.5"/>
<circle cx="272.1" cy="156.8" r="1.2" fill="#cdcdcd"/>
<circle cx="219.8" cy="498.9" r="1.2" fill="#cdcdcd"/>
<path d="M437.9,166.6 l1.7,6.6 l-6.1,-3.2" fill="none" stroke="#d3d3d3" stroke-width="1.5"/>
<circle cx="155.0" cy="194.2" r="1.2" fill="#cdcdcd"/>
<path d="M460.9,467.1 l3.5,3.1 l-4.7,0.5" fill="none" stroke="#d3d3d3" stroke-width="1.5"/>
<circle cx="528.6" cy="351.7" r="1.4" fill="#f3d998"/>
<path d="M509.2,302.0 l1.6,6.3 l-5.8,-3.0" fill="none" stroke="#d3d3d3" stroke-width="1.5"/>
<circle cx="134.0" cy="459.0" r="1.4" fill="#f3d998"/>
<polygon points="526.1,395.2 523.9,396.8 521.8,395.3 522.6,392.8 525.2,392.7" fill="none" stroke="#d3d3d3" stroke-width="1.3"/>
<circle cx="265.7" cy="528.3" r="1.4" fill="#f3d998"/>
<polygon points="466.9,462.6 464.3,464.5 461.6,462.7 462.6,459.5 465.8,459.5" fill="none" stroke="#d3d3d3" stroke-width="1.3"/>
<polygon points="112.6,355.7 109.7,357.9 106.8,355.8 107.8,352.4 111.5,352.3" fill="none" stroke="#d3d3d3" stroke-width="1.3"/>
<polygon points="425.2,180.2 422.5,182.2 419.7,180.2 420.7,177.0 424.1,177.0" fill="none" stroke="#d3d3d3" stroke-width="1.3"/>
<polygon points="339.9,130.1 337.1,132.2 334.3,130.2 335.3,126.8 338.8,126.8" fill="none" stroke="#d3d3d3" stroke-width="1.3"/>
<polygon points="104.2,278.6 101.9,280.2 99.6,278.6 100.5,275.9 103.3,275.9" fill="none" stroke="#d3d3d3" stroke-width="1.3"/>
<polygon points="495.3,463.7 492.7,465.6 490.1,463.8 491.1,460.7 494.3,460.7" fill="none" stroke="#d3d3d3" stroke-width="1.3"/>
<polygon points="466.6,462.6 463.9,464.6 461.2,462.7 462.2,459.5 465.5,459.5" fill="none" stroke="#d3d3d3" stroke-width="1.3"/>
<polygon points="451.1,488.7 448.8,490.4 446.4,488.7 447.3,486.0 450.1,485.9" fill="none" stroke="#d3d3d3" stroke-width="1.3"/>
<polygon points="112.2,356.4 110.1,358.0 107.9,356.5 108.7,354.0 111.4,353.9" fill="none" stroke="#d3d3d3" stroke-width="1.3"/>
<polygon points="524.7,415.9 522.5,417.5 520.4,415.9 521.1,413.4 523.8,413.3" fill="none" stroke="#d3d3d3" stroke-width="1.3"/>
<circle cx="401.7" cy="508.3" r="1.4" fill="#f3d998"/>
<path d="M381.5,528.9 l1.9,7.0 l-6.5,-3.2" fill="none" stroke="#d3d3d3" stroke-width="1.5"/>
<path d="M160.4,442.0 l-3.1,5.7 l-2.2,-6.1" fill="none" stroke="#d3d3d3" stroke-width="1.5"/>
<polygon points="279.3,538.3 276.5,540.4 273.6,538.3 274.7,535.0 278.2,534.9" fill="none" stroke="#386a2a" stroke-width="1.4"/>
<circle cx="105.5" cy="405.5" r="1.2" fill="#cdcdcd"/>
<polygon points="404.2,491.9 402.0,493.5 399.8,492.0 400.6,489.3 403.3,489.3" fill="none" stroke="#d3d3d3" stroke-width="1.3"/>
<circle cx="498.7" cy="419.1" r="1.2" fill="#cdcdcd"/>
<polygon points="239.4,513.4 237.1,515.1 234.8,513.5 235.6,510.8 238.5,510.7" fill="none" stroke="#d3d3d3" stroke-width="1.3"/>
<path d="M501.8,290.9 l-5.9,4.0 l0.9,-7.1" fill="none" stroke="#d3d3d3" stroke-width="1.5"/>
<circle cx="296.0" cy="148.5" r="1.2" fill="#cdcdcd"/>
<circle cx="418.7" cy="158.7" r="1.4" fill="#f3d998"/>
<polygon points="501.5,457.7 498.7,459.8 495.8,457.8 496.9,454.4 500.4,454.4" fill="none" stroke="#d3d3d3" stroke-width="1.3"/>
<polygon points="317.0,540.2 314.3,542.2 311.6,540.3 312.6,537.1 315.9,537.0" fill="none" stroke="#d3d3d3" stroke-width="1.3"/>
<polygon points="347.3,520.9 344.6,522.9 341.8,521.0 342.8,517.7 346.2,517.6" fill="none" stroke="#d3d3d3" stroke-width="1.3"/>
<path d="M391.8,162.3 l2.3,4.6 l-4.9,-1.4" fill="none" stroke="#d3d3d3" stroke-width="1.5"/>
<polygon points="486.8,232.1 484.3,233.9 481.9,232.2 482.8,229.3 485.8,229.2" fill="none" stroke="#d3d3d3" stroke-width="1.3"/>
<circle cx="304.5" cy="154.2" r="1.2" fill="#cdcdcd"/>
<polygon points="108.5,279.3 106.3,281.0 104.1,279.4 104.9,276.8 107.6,276.8" fill="none" stroke="#d3d3d3" stroke-width="1.3"/>
<polygon points="445.2,480.9 443.2,482.4 441.0,480.9 441.8,478.4 444.4,478.4" fill="none" stroke="#d3d3d3" stroke-width="1.3"/>
<polygon points="110.1,332.8 107.5,334.8 104.8,332.9 105.8,329.7 109.0,329.7" fill="none" stroke="#d3d3d3" stroke-width="1.3"/>
<polygon points="508.5,282.3 506.3,283.9 504.1,282.4 504.9,279.8 507.7,279.7" fill="none" stroke="#386a2a" stroke-width="1.4"/>
<circle cx="320.1" cy="157.5" r="1.4" fill="#f3d998"/>
<polygon points="110.9,423.4 108.4,425.3 105.8,423.5 106.8,420.5 109.9,420.5" fill="none" stroke="#d3d3d3" stroke-width="1.3"/>
<polygon points="263.5,162.8 260.7,164.9 257.9,162.9 258.9,159.6 262.4,159.5" fill="none" stroke="#d3d3d3" stroke-width="1.3"/>
<polygon points="511.1,276.1 508.7,278.0 506.2,276.2 507.1,273.3 510.1,273.3" fill="none" stroke="#d3d3d3" stroke-width="1.3"/>
<path d="M512.7,323.2 l2.5,6.1 l-6.2,-2.2" fill="none" stroke="#d3d3d3" stroke-width="1.5"/>
<polygon points="368.3,525.0 365.6,527.0 362.9,525.0 363.9,521.8 367.2,521.8" fill="none" stroke="#386a2a" stroke-width="1.4"/>
<path d="M169.0,197.0 l6.9,2.6 l-6.5,3.4" fill="none" stroke="#d3d3d3" stroke-width="1.5"/>
<path d="M237.7,159.3 l1.4,5.4 l-4.9,-2.5" fill="none" stroke="#d3d3d3" stroke-width="1.5"/>
<path d="M341.9,527.5 l-0.2,4.1 l-2.9,-2.9" fill="none" stroke="#d3d3d3" stroke-width="1.5"/>
<path d="M169.2,199.5 l-2.3,7.4 l-4.0,-6.6" fill="none" stroke="#d3d3d3" stroke-width="1.5"/>
<circle cx="436.4" cy="489.7" r="1.4" fill="#f3d998"/>
<circle cx="299.6" cy="151.1" r="1.2" fill="#cdcdcd"/>
<polygon points="524.1,323.2 522.1,324.7 520.1,323.2 520.8,320.8 523.3,320.8" fill="none" stroke="#386a2a" stroke-width="1.4"/>
<polygon points="528.4,324.1 525.5,326.3 522.5,324.1 523.6,320.6 527.2,320.6" fill="none" stroke="#d3d3d3" stroke-width="1.3"/>
<circle cx="180.4" cy="169.5" r="1.2" fill="#cdcdcd"/>
<circle cx="377.4" cy="152.5" r="1.4" fill="#f3d998"/>
<circle cx="521.5" cy="415.4" r="1.2" fill="#cdcdcd"/>
<path d="M314.0,535.9 l-0.8,7.4 l-5.0,-5.6" fill="none" stroke="#d3d3d3" stroke-width="1.5"/>
<path d="M382.6,507.8 l6.1,1.4 l-5.1,3.6" fill="none" stroke="#d3d3d3" stroke-width="1.5"/>
<polygon points="366.7,150.7 363.8,152.9 360.8,150.8 361.9,147.3 365.5,147.3" fill="none" stroke="#d3d3d3" stroke-width="1.3"/>
<path d="M450.6,177.2 l-6.9,2.1 l3.0,-6.5" fill="none" stroke="#d3d3d3" stroke-width="1.5"/>
<polygon points="436.5,487.5 434.4,489.1 432.2,487.6 433.0,485.0 435.6,485.0" fill="none" stroke="#d3d3d3" stroke-width="1.3"/>
<circle cx="187.8" cy="502.2" r="1.2" fill="#cdcdcd"/>
<polygon points="465.6,457.0 462.6,459.2 459.6,457.1 460.7,453.6 464.4,453.5" fill="none" stroke="#d3d3d3" stroke-width="1.3"/>
<polygon points="150.5,199.0 147.4,201.3 144.3,199.1 145.4,195.4 149.3,195.4" fill="none" stroke="#d3d3d3" stroke-width="1.3"/>
<polygon points="375.6,523.6 373.0,525.6 370.4,523.7 371.4,520.6 374.6,520.6" fill="none" stroke="#386a2a" stroke-width="1.4"/>
<polygon points="388.1,521.2 386.0,522.8 383.9,521.3 384.7,518.8 387.3,518.7" fill="none" stroke="#d3d3d3" stroke-width="1.3"/>
<path d="M206.0,491.0 l4.1,4.9 l-6.4,-0.2" fill="none" stroke="#d3d3d3" stroke-width="1.5"/>
<polygon points="250.1,166.6 247.3,168.7 244.5,166.7 245.5,163.3 249.0,163.3" fill="none" stroke="#d3d3d3" stroke-width="1.3"/>
<polygon points="125.0,373.2 122.0,375.5 118.9,373.3 120.0,369.7 123.8,369.6" fill="none" stroke="#d3d3d3" stroke-width="1.3"/>
<polygon points="159.5,217.5 156.4,219.8 153.2,217.5 154.4,213.8 158.3,213.8" fill="none" stroke="#d3d3d3" stroke-width="1.3"/>
<polygon points="238.6,150.4 236.2,152.2 233.8,150.4 234.6,147.6 237.6,147.5" fill="none" stroke="#d3d3d3" stroke-width="1.3"/>
<path d="M148.9,432.5 l1.7,7.1 l-6.4,-3.4" fill="none" stroke="#d3d3d3" stroke-width="1.5"/>
<path d="M138.8,437.4 l-5.3,1.0 l2.8,-4.6" fill="none" stroke="#d3d3d3" stroke-width="1.5"/>
<path d="M257.1,160.9 l4.7,5.8 l-7.5,-0.4" fill="none" stroke="#d3d3d3" stroke-width="1.5"/>
<path d="M264.0,532.2 l1.1,7.7 l-6.4,-4.3" fill="none" stroke="#d3d3d3" stroke-width="1.5"/>
<path d="M147.4,464.0 l0.7,4.2 l-3.6,-2.3" fill="none" stroke="#d3d3d3" stroke-width="1.5"/>
<polygon points="140.7,425.2 137.6,427.5 134.5,425.3 135.6,421.6 139.5,421.6" fill="none" stroke="#d3d3d3" stroke-width="1.3"/>
<path d="M256.8,525.0 l4.1,3.9 l-5.6,0.4" fill="none" stroke="#d3d3d3" stroke-width="1.5"/>
<polygon points="469.9,486.3 467.4,488.2 464.8,486.4 465.7,483.4 468.9,483.3" fill="none" stroke="#d3d3d3" stroke-width="1.3"/>
<polygon points="196.1,504.7 193.7,506.6 191.2,504.8 192.1,501.9 195.1,501.8" fill="none" stroke="#386a2a" stroke-width="1.4"/>
<polygon points="128.8,285.2 126.8,286.6 124.8,285.2 125.5,282.9 128.0,282.8" fill="none" stroke="#386a2a" stroke-width="1.4"/>
<circle cx="179.8" cy="476.0" r="1.2" fill="#cdcdcd"/>
<polygon points="217.9,173.8 215.2,175.9 212.3,173.9 213.4,170.6 216.8,170.5" fill="none" stroke="#386a2a" stroke-width="1.4"/>
<path d="M528.8,363.4 l2.5,5.3 l-5.6,-1.7" fill="none" stroke="#d3d3d3" stroke-width="1.5"/>
<path d="M227.3,514.7 l-7.9,0.7 l4.7,-6.4" fill="none" stroke="#d3d3d3" stroke-width="1.5"/>
<circle cx="522.1" cy="326.3" r="1.2" fill="#cdcdcd"/>
<circle cx="186.4" cy="175.3" r="1.4" fill="#f3d998"/>
<polygon points="509.5,412.8 506.8,414.8 503.9,412.9 505.0,409.6 508.4,409.5" fill="none" stroke="#d3d3d3" stroke-width="1.3"/>
<polygon points="363.2,538.7 360.7,540.5 358.2,538.7 359.1,535.8 362.2,535.8" fill="none" stroke="#d3d3d3" stroke-width="1.3"/>
<circle cx="444.1" cy="481.4" r="1.2" fill="#cdcdcd"/>
<path d="M487.1,425.0 l-2.6,6.5 l-3.1,-6.3" fill="none" stroke="#d3d3d3" stroke-width="1.5"/>
<circle cx="310.2" cy="536.0" r="1.2" fill="#cdcdcd"/>
<path d="M347.1,159.4 l7.4,0.4 l-5.2,5.3" fill="none" stroke="#d3d3d3" stroke-width="1.5"/>
<polygon points="529.7,266.1 527.3,268.0 524.8,266.2 525.7,263.3 528.8,263.3" fill="none" stroke="#d3d3d3" stroke-width="1.3"/>
<polygon points="110.9,293.0 108.0,295.2 105.0,293.1 106.1,289.7 109.7,289.6" fill="none" stroke="#d3d3d3" stroke-width="1.3"/>
<polygon points="250.4,516.8 247.7,518.8 245.0,516.9 246.0,513.7 249.3,513.7" fill="none" stroke="#d3d3d3" stroke-width="1.3"/>
<path d="M449.4,463.7 l4.3,5.7 l-7.1,-0.6" fill="none" stroke="#d3d3d3" stroke-width="1.5"/>
<polygon points="321.5,523.5 319.2,525.2 316.9,523.5 317.8,520.8 320.6,520.8" fill="none" stroke="#d3d3d3" stroke-width="1.3"/>
<path d="M111.4,392.6 l-3.9,2.0 l1.1,-4.3" fill="none" stroke="#d3d3d3" stroke-width="1.5"/>
<circle cx="431.7" cy="190.2" r="1.4" fill="#f3d998"/>
<path d="M109.8,305.7 l-7.1,3.3 l2.3,-7.5" fill="none" stroke="#d3d3d3" stroke-width="1.5"/>
<polygon points="152.8,426.2 149.9,428.3 146.9,426.2 148.0,422.8 151.6,422.7" fill="none" stroke="#d3d3d3" stroke-width="1.3"/>
<polygon points="296.3,139.0 293.7,141.0 291.0,139.1 291.9,135.9 295.2,135.9" fill="none" stroke="#d3d3d3" stroke-width="1.3"/>
<polygon points="511.7,367.6 508.6,369.9 505.5,367.7 506.6,364.1 510.5,364.0" fill="none" stroke="#d3d3d3" stroke-width="1.3"/>
<polygon points="178.0,177.5 175.5,179.3 173.0,177.5 173.9,174.6 177.0,174.5" fill="none" stroke="#d3d3d3" stroke-width="1.3"/>
<polygon points="496.4,422.3 493.3,424.5 490.3,422.4 491.4,418.8 495.1,418.7" fill="none" stroke="#d3d3d3" stroke-width="1.3"/>
<path d="M214.9,502.5 l-7.3,2.7 l2.8,-7.2" fill="none" stroke="#d3d3d3" stroke-width="1.5"/>
<polygon points="125.0,256.8 122.8,258.5 120.5,256.8 121.3,254.2 124.1,254.1" fill="none" stroke="#386a2a" stroke-width="1.4"/>
<polygon points="250.3,525.0 247.9,526.8 245.4,525.0 246.3,522.1 249.4,522.1" fill="none" stroke="#d3d3d3" stroke-width="1.3"/>
<polygon points="127.7,417.4 125.1,419.3 122.6,417.5 123.5,414.5 126.7,414.5" fill="none" stroke="#d3d3d3" stroke-width="1.3"/>
<circle cx="129.7" cy="388.4" r="1.2" fill="#cdcdcd"/>
<path d="M511.5,407.5 l1.5,4.7 l-4.5,-2.0" fill="none" stroke="#d3d3d3" stroke-width="1.5"/>
<polygon points="485.2,444.6 482.7,446.5 480.0,444.7 481.0,441.6 484.2,441.5" fill="none" stroke="#d3d3d3" stroke-width="1.3"/>
<path d="M342.2,532.5 l5.6,0.2 l-3.9,4.1" fill="none" stroke="#d3d3d3" stroke-width="1.5"/>
<path d="M503.6,298.4 l-5.4,0.7 l3.1,-4.5" fill="none" stroke="#d3d3d3" stroke-width="1.5"/>
<polygon points="149.4,228.2 146.7,230.2 143.9,228.3 144.9,225.1 148.3,225.0" fill="none" stroke="#d3d3d3" stroke-width="1.3"/>
<path d="M142.1,236.7 l-0.4,7.0 l-5.0,-4.9" fill="none" stroke="#d3d3d3" stroke-width="1.5"/>
<polygon points="502.7,393.7 500.3,395.4 497.9,393.7 498.8,390.9 501.7,390.9" fill="none" stroke="#d3d3d3" stroke-width="1.3"/>
<polygon points="376.3,155.2 374.0,156.9 371.7,155.3 372.5,152.6 375.3,152.6" fill="none" stroke="#386a2a" stroke-width="1.4"/>
<polygon points="269.6,527.7 266.5,530.0 263.3,527.8 264.5,524.1 268.3,524.1" fill="none" stroke="#d3d3d3" stroke-width="1.3"/>
<polygon points="418.4,174.7 415.4,176.9 412.5,174.8 413.5,171.3 417.2,171.3" fill="none" stroke="#d3d3d3" stroke-width="1.3"/>
<polygon points="369.5,146.1 366.6,148.2 363.7,146.2 364.8,142.8 368.3,142.7" fill="none" stroke="#d3d3d3" stroke-width="1.3"/>
<path d="M521.1,392.8 l-6.4,1.5 l3.1,-5.7" fill="none" stroke="#d3d3d3" stroke-width="1.5"/>
<circle cx="540.0" cy="363.7" r="1.2" fill="#cdcdcd"/>
<circle cx="145.9" cy="251.3" r="1.2" fill="#cdcdcd"/>
<circle cx="125.2" cy="431.5" r="1.4" fill="#f3d998"/>
<circle cx="484.3" cy="246.9" r="1.2" fill="#cdcdcd"/>
<polygon points="112.3,408.5 109.8,410.4 107.2,408.5 108.1,405.5 111.3,405.5" fill="none" stroke="#d3d3d3" stroke-width="1.3"/>
<polygon points="136.1,404.6 133.3,406.7 130.4,404.7 131.5,401.3 135.0,401.3" fill="none" stroke="#d3d3d3" stroke-width="1.3"/>
<circle cx="492.4" cy="412.2" r="1.2" fill="#cdcdcd"/>
<polygon points="210.3,169.4 208.1,171.1 205.8,169.5 206.6,166.9 209.4,166.8" fill="none" stroke="#d3d3d3" stroke-width="1.3"/>
<path d="M231.0,526.4 l-4.7,1.2 l2.3,-4.3" fill="none" stroke="#d3d3d3" stroke-width="1.5"/>
<circle cx="132.2" cy="432.9" r="1.2" fill="#cdcdcd"/>
<path d="M475.8,477.2 l5.7,0.6 l-4.2,3.9" fill="none" stroke="#d3d3d3" stroke-width="1.5"/>
<polygon points="161.1,472.5 158.7,474.2 156.3,472.5 157.2,469.7 160.1,469.7" fill="none" stroke="#386a2a" stroke-width="1.4"/>
<circle cx="238.3" cy="161.4" r="1.2" fill="#cdcdcd"/>
<polygon points="491.5,457.9 488.8,459.9 486.1,458.0 487.1,454.8 490.4,454.7" fill="none" stroke="#d3d3d3" stroke-width="1.3"/>
<polygon points="378.4,513.0 375.9,514.8 373.4,513.0 374.3,510.1 377.4,510.1" fill="none" stroke="#d3d3d3" stroke-width="1.3"/>
<polygon points="139.8,231.9 137.1,233.9 134.4,232.0 135.4,228.8 138.7,228.7" fill="none" stroke="#d3d3d3" stroke-width="1.3"/>
<path d="M427.8,179.5 l0.5,7.9 l-6.2,-4.9" fill="none" stroke="#d3d3d3" stroke-width="1.5"/>
<polygon points="214.5,509.8 212.2,511.5 209.8,509.8 210.6,507.0 213.6,507.0" fill="none" stroke="#d3d3d3" stroke-width="1.3"/>
<polygon points="290.9,144.0 288.8,145.6 286.6,144.0 287.4,141.5 290.0,141.4" fill="none" stroke="#d3d3d3" stroke-width="1.3"/>
<circle cx="408.6" cy="168.7" r="1.2" fill="#cdcdcd"/>
<path d="M118.4,414.8 l-7.6,0.6 l4.6,-6.1" fill="none" stroke="#d3d3d3" stroke-width="1.5"/>
<polygon points="115.3,388.1 112.4,390.2 109.5,388.1 110.6,384.7 114.1,384.7" fill="none" stroke="#d3d3d3" stroke-width="1.3"/>
<circle cx="478.3" cy="445.4" r="1.2" fill="#cdcdcd"/>
<path d="M528.3,378.1 l-0.9,5.3 l-3.4,-4.1" fill="none" stroke="#d3d3d3" stroke-width="1.5"/>
<circle cx="447.1" cy="502.6" r="1.2" fill="#cdcdcd"/>
<circle cx="382.4" cy="168.6" r="1.2" fill="#cdcdcd"/>
<path d="M354.3,512.1 l-1.5,4.2 l-2.1,-3.9" fill="none" stroke="#d3d3d3" stroke-width="1.5"/>
<polygon points="337.8,143.3 335.1,145.3 332.2,143.4 333.3,140.1 336.7,140.0" fill="none" stroke="#386a2a" stroke-width="1.4"/>
<circle cx="238.2" cy="162.3" r="1.4" fill="#f3d998"/>
<polygon points="277.7,155.7 275.1,157.6 272.5,155.8 273.4,152.7 276.7,152.7" fill="none" stroke="#386a2a" stroke-width="1.4"/>
<polygon points="299.0,517.3 296.4,519.3 293.7,517.4 294.7,514.3 298.0,514.2" fill="none" stroke="#d3d3d3" stroke-width="1.3"/>
<polygon points="312.7,519.4 310.5,521.0 308.2,519.5 309.0,516.8 311.8,516.8" fill="none" stroke="#d3d3d3" stroke-width="1.3"/>
<polygon points="115.5,353.1 113.2,354.9 110.8,353.2 111.7,350.4 114.6,350.3" fill="none" stroke="#d3d3d3" stroke-width="1.3"/>
<polygon points="93.3,324.2 90.4,326.4 87.4,324.3 88.5,320.7 92.2,320.7" fill="none" stroke="#d3d3d3" stroke-width="1.3"/>
<path d="M446.6,181.3 l-4.1,4.6 l-0.7,-6.1" fill="none" stroke="#d3d3d3" stroke-width="1.5"/>
<circle cx="193.5" cy="162.2" r="1.2" fill="#cdcdcd"/>
<circle cx="303.0" cy="510.4" r="1.4" fill="#f3d998"/>
<polygon points="173.3,487.9 170.8,489.8 168.2,488.0 169.1,485.0 172.3,484.9" fill="none" stroke="#d3d3d3" stroke-width="1.3"/>
<circle cx="164.1" cy="479.2" r="1.4" fill="#f3d998"/>
<polygon points="103.8,328.9 101.5,330.6 99.2,329.0 100.0,326.2 102.9,326.2" fill="none" stroke="#d3d3d3" stroke-width="1.3"/>
<circle cx="502.1" cy="280.0" r="1.4" fill="#f3d998"/>
<polygon points="209.4,188.4 207.4,189.9 205.4,188.5 206.1,186.1 208.6,186.1" fill="none" stroke="#386a2a" stroke-width="1.4"/>
<circle cx="134.3" cy="263.9" r="1.4" fill="#f3d998"/>
<polygon points="235.9,525.0 233.1,527.1 230.3,525.1 231.3,521.8 234.8,521.8" fill="none" stroke="#d3d3d3" stroke-width="1.3"/>
<path d="M491.4,407.4 l-6.7,0.4 l4.2,-5.3" fill="none" stroke="#d3d3d3" stroke-width="1.5"/>
<line x1="341.6" y1="358.3" x2="388.0" y2="298.8" stroke="#d3d3d3" stroke-width="1.9"/>
<line x1="341.6" y1="358.3" x2="314.1" y2="354.6" stroke="#d3d3d3" stroke-width="1.9"/>
<line x1="341.6" y1="358.3" x2="307.1" y2="352.4" stroke="#d3d3d3" stroke-width="1.9"/>
<line x1="341.6" y1="358.3" x2="295.8" y2="350.5" stroke="#d3d3d3" stroke-width="1.9"/>
<line x1="341.6" y1="358.3" x2="305.8" y2="358.5" stroke="#d3d3d3" stroke-width="1.9"/>
<line x1="341.6" y1="358.3" x2="327.5" y2="309.6" stroke="#d3d3d3" stroke-width="1.9"/>
<line x1="341.6" y1="358.3" x2="313.9" y2="360.8" stroke="#d3d3d3" stroke-width="1.9"/>
<line x1="341.6" y1="358.3" x2="281.7" y2="363.2" stroke="#d3d3d3" stroke-width="1.9"/>
<line x1="341.6" y1="358.3" x2="401.1" y2="347.9" stroke="#d3d3d3" stroke-width="1.9"/>
<line x1="341.6" y1="358.3" x2="369.9" y2="390.4" stroke="#d3d3d3" stroke-width="1.9"/>
<line x1="341.6" y1="358.3" x2="305.8" y2="418.3" stroke="#d3d3d3" stroke-width="1.9"/>
<line x1="341.6" y1="358.3" x2="423.5" y2="325.2" stroke="#d3d3d3" stroke-width="1.9"/>
<line x1="341.6" y1="358.3" x2="422.4" y2="332.0" stroke="#d3d3d3" stroke-width="1.9"/>
<line x1="341.6" y1="358.3" x2="395.6" y2="291.9" stroke="#d3d3d3" stroke-width="1.9"/>
<line x1="341.6" y1="358.3" x2="396.7" y2="365.3" stroke="#d3d3d3" stroke-width="1.9"/>
<line x1="341.6" y1="358.3" x2="283.7" y2="321.2" stroke="#d3d3d3" stroke-width="1.9"/>
<line x1="341.6" y1="358.3" x2="293.1" y2="316.7" stroke="#d3d3d3" stroke-width="1.9"/>
<line x1="341.6" y1="358.3" x2="367.5" y2="346.8" stroke="#d3d3d3" stroke-width="1.9"/>
<line x1="341.6" y1="358.3" x2="255.0" y2="347.8" stroke="#d3d3d3" stroke-width="1.9"/>
<line x1="341.6" y1="358.3" x2="371.0" y2="364.3" stroke="#d3d3d3" stroke-width="1.9"/>
<line x1="341.6" y1="358.3" x2="400.8" y2="294.4" stroke="#d3d3d3" stroke-width="1.9"/>
<line x1="341.6" y1="358.3" x2="366.0" y2="362.0" stroke="#d3d3d3" stroke-width="1.9"/>
<line x1="341.6" y1="358.3" x2="374.7" y2="297.8" stroke="#d3d3d3" stroke-width="1.9"/>
<line x1="341.6" y1="358.3" x2="280.4" y2="350.7" stroke="#d3d3d3" stroke-width="1.9"/>
<line x1="341.6" y1="358.3" x2="345.2" y2="281.4" stroke="#d3d3d3" stroke-width="1.9"/>
<line x1="341.6" y1="358.3" x2="368.7" y2="358.4" stroke="#d3d3d3" stroke-width="1.9"/>
<line x1="341.6" y1="358.3" x2="365.8" y2="273.3" stroke="#d3d3d3" stroke-width="1.9"/>
<line x1="341.6" y1="358.3" x2="366.6" y2="315.0" stroke="#d3d3d3" stroke-width="1.9"/>
<line x1="341.6" y1="358.3" x2="318.1" y2="397.7" stroke="#d3d3d3" stroke-width="1.9"/>
<line x1="341.6" y1="358.3" x2="415.8" y2="365.3" stroke="#d3d3d3" stroke-width="1.9"/>
<line x1="341.6" y1="358.3" x2="336.8" y2="420.1" stroke="#d3d3d3" stroke-width="1.9"/>
<line x1="341.6" y1="358.3" x2="297.1" y2="350.9" stroke="#d3d3d3" stroke-width="1.9"/>
<line x1="341.6" y1="358.3" x2="317.4" y2="310.9" stroke="#d3d3d3" stroke-width="1.9"/>
<line x1="341.6" y1="358.3" x2="349.6" y2="439.9" stroke="#d3d3d3" stroke-width="1.9"/>
<line x1="341.6" y1="358.3" x2="356.3" y2="387.4" stroke="#d3d3d3" stroke-width="1.9"/>
<line x1="341.6" y1="358.3" x2="340.4" y2="413.1" stroke="#d3d3d3" stroke-width="1.9"/>
<line x1="341.6" y1="358.3" x2="351.0" y2="314.3" stroke="#d3d3d3" stroke-width="1.9"/>
<line x1="341.6" y1="358.3" x2="346.5" y2="424.8" stroke="#d3d3d3" stroke-width="1.9"/>
<line x1="341.6" y1="358.3" x2="337.9" y2="416.0" stroke="#d3d3d3" stroke-width="1.9"/>
<line x1="341.6" y1="358.3" x2="339.1" y2="440.0" stroke="#d3d3d3" stroke-width="1.9"/>
<line x1="341.6" y1="358.3" x2="356.9" y2="393.3" stroke="#d3d3d3" stroke-width="1.9"/>
<line x1="341.6" y1="358.3" x2="327.4" y2="400.7" stroke="#d3d3d3" stroke-width="1.9"/>
<line x1="341.6" y1="358.3" x2="331.6" y2="291.0" stroke="#d3d3d3" stroke-width="1.9"/>
<line x1="341.6" y1="358.3" x2="356.4" y2="301.2" stroke="#d3d3d3" stroke-width="1.9"/>
<line x1="341.6" y1="358.3" x2="406.8" y2="393.4" stroke="#d3d3d3" stroke-width="1.9"/>
<line x1="341.6" y1="358.3" x2="342.9" y2="395.5" stroke="#d3d3d3" stroke-width="1.9"/>
<line x1="341.6" y1="358.3" x2="264.9" y2="404.1" stroke="#d3d3d3" stroke-width="1.9"/>
<line x1="341.6" y1="358.3" x2="309.6" y2="392.1" stroke="#d3d3d3" stroke-width="1.9"/>
<line x1="341.6" y1="358.3" x2="417.3" y2="310.9" stroke="#d3d3d3" stroke-width="1.9"/>
<line x1="341.6" y1="358.3" x2="317.6" y2="378.9" stroke="#d3d3d3" stroke-width="1.9"/>
<line x1="341.6" y1="358.3" x2="360.2" y2="285.3" stroke="#d3d3d3" stroke-width="1.9"/>
<line x1="341.6" y1="358.3" x2="301.7" y2="422.8" stroke="#d3d3d3" stroke-width="1.9"/>
<line x1="341.6" y1="358.3" x2="311.2" y2="387.1" stroke="#d3d3d3" stroke-width="1.9"/>
<line x1="341.6" y1="358.3" x2="281.2" y2="318.2" stroke="#d3d3d3" stroke-width="1.9"/>
<line x1="341.6" y1="358.3" x2="264.8" y2="370.0" stroke="#d3d3d3" stroke-width="1.9"/>
<line x1="341.6" y1="358.3" x2="397.6" y2="363.2" stroke="#d3d3d3" stroke-width="1.9"/>
<line x1="341.6" y1="358.3" x2="321.9" y2="376.7" stroke="#d3d3d3" stroke-width="1.9"/>
<line x1="341.6" y1="358.3" x2="369.3" y2="341.8" stroke="#d3d3d3" stroke-width="1.9"/>
<line x1="341.6" y1="358.3" x2="364.1" y2="436.9" stroke="#d3d3d3" stroke-width="1.9"/>
<line x1="341.6" y1="358.3" x2="424.4" y2="337.3" stroke="#d3d3d3" stroke-width="1.9"/>
<line x1="341.6" y1="358.3" x2="295.0" y2="429.8" stroke="#d3d3d3" stroke-width="1.9"/>
<line x1="341.6" y1="358.3" x2="386.1" y2="413.3" stroke="#d3d3d3" stroke-width="1.9"/>
<line x1="341.6" y1="358.3" x2="375.1" y2="346.4" stroke="#d3d3d3" stroke-width="1.9"/>
<line x1="341.6" y1="358.3" x2="386.5" y2="409.7" stroke="#d3d3d3" stroke-width="1.9"/>
<line x1="341.6" y1="358.3" x2="394.5" y2="310.2" stroke="#d3d3d3" stroke-width="1.9"/>
<line x1="341.6" y1="358.3" x2="392.1" y2="341.6" stroke="#d3d3d3" stroke-width="1.9"/>
<line x1="341.6" y1="358.3" x2="320.3" y2="380.3" stroke="#d3d3d3" stroke-width="1.9"/>
<line x1="341.6" y1="358.3" x2="329.2" y2="443.3" stroke="#d3d3d3" stroke-width="1.9"/>
<line x1="341.6" y1="358.3" x2="373.1" y2="373.5" stroke="#d3d3d3" stroke-width="1.9"/>
<line x1="341.6" y1="358.3" x2="326.7" y2="379.4" stroke="#d3d3d3" stroke-width="1.9"/>
<line x1="341.6" y1="358.3" x2="329.4" y2="390.9" stroke="#d3d3d3" stroke-width="1.9"/>
<line x1="341.6" y1="358.3" x2="383.2" y2="398.8" stroke="#d3d3d3" stroke-width="1.9"/>
<line x1="341.6" y1="358.3" x2="282.7" y2="343.1" stroke="#d3d3d3" stroke-width="1.9"/>
<line x1="341.6" y1="358.3" x2="346.1" y2="300.4" stroke="#d3d3d3" stroke-width="1.9"/>
<line x1="341.6" y1="358.3" x2="368.1" y2="349.2" stroke="#d3d3d3" stroke-width="1.9"/>
<line x1="341.6" y1="358.3" x2="346.3" y2="385.6" stroke="#d3d3d3" stroke-width="1.9"/>
<line x1="341.6" y1="358.3" x2="314.7" y2="427.1" stroke="#d3d3d3" stroke-width="1.9"/>
<line x1="341.6" y1="358.3" x2="391.8" y2="332.4" stroke="#d3d3d3" stroke-width="1.9"/>
<line x1="341.6" y1="358.3" x2="365.5" y2="396.2" stroke="#d3d3d3" stroke-width="1.9"/>
<line x1="341.6" y1="358.3" x2="303.1" y2="340.6" stroke="#d3d3d3" stroke-width="1.9"/>
<line x1="341.6" y1="358.3" x2="365.0" y2="273.3" stroke="#d3d3d3" stroke-width="1.9"/>
<line x1="341.6" y1="358.3" x2="280.4" y2="374.1" stroke="#d3d3d3" stroke-width="1.9"/>
<line x1="341.6" y1="358.3" x2="372.2" y2="313.9" stroke="#d3d3d3" stroke-width="1.9"/>
<line x1="341.6" y1="358.3" x2="372.9" y2="438.6" stroke="#d3d3d3" stroke-width="1.9"/>
<line x1="341.6" y1="358.3" x2="365.5" y2="355.0" stroke="#d3d3d3" stroke-width="1.9"/>
<line x1="341.6" y1="358.3" x2="345.5" y2="308.9" stroke="#d3d3d3" stroke-width="1.9"/>
<line x1="341.6" y1="358.3" x2="373.3" y2="369.0" stroke="#d3d3d3" stroke-width="1.9"/>
<line x1="341.6" y1="358.3" x2="375.2" y2="422.2" stroke="#d3d3d3" stroke-width="1.9"/>
<line x1="341.6" y1="358.3" x2="347.3" y2="381.4" stroke="#d3d3d3" stroke-width="1.9"/>
<line x1="341.6" y1="358.3" x2="356.0" y2="433.4" stroke="#d3d3d3" stroke-width="1.9"/>
<line x1="401.5" y1="314.4" x2="340.5" y2="314.7" stroke="#d3d3d3" stroke-width="1.9"/>
<line x1="401.5" y1="314.4" x2="370.3" y2="321.3" stroke="#d3d3d3" stroke-width="1.9"/>
<line x1="401.5" y1="314.4" x2="440.8" y2="318.2" stroke="#d3d3d3" stroke-width="1.9"/>
<line x1="401.5" y1="314.4" x2="437.0" y2="323.9" stroke="#d3d3d3" stroke-width="1.9"/>
<line x1="401.5" y1="314.4" x2="369.6" y2="284.9" stroke="#d3d3d3" stroke-width="1.9"/>
<line x1="401.5" y1="314.4" x2="343.1" y2="324.4" stroke="#d3d3d3" stroke-width="1.9"/>
<line x1="401.5" y1="314.4" x2="384.0" y2="353.3" stroke="#d3d3d3" stroke-width="1.9"/>
<line x1="401.5" y1="314.4" x2="443.7" y2="276.7" stroke="#d3d3d3" stroke-width="1.9"/>
<line x1="401.5" y1="314.4" x2="354.6" y2="341.3" stroke="#d3d3d3" stroke-width="1.9"/>
<line x1="401.5" y1="314.4" x2="361.6" y2="324.6" stroke="#d3d3d3" stroke-width="1.9"/>
<line x1="401.5" y1="314.4" x2="431.5" y2="296.3" stroke="#d3d3d3" stroke-width="1.9"/>
<line x1="401.5" y1="314.4" x2="469.0" y2="285.6" stroke="#d3d3d3" stroke-width="1.9"/>
<line x1="401.5" y1="314.4" x2="424.1" y2="293.7" stroke="#d3d3d3" stroke-width="1.9"/>
<line x1="401.5" y1="314.4" x2="320.1" y2="309.9" stroke="#d3d3d3" stroke-width="1.9"/>
<line x1="401.5" y1="314.4" x2="394.0" y2="344.7" stroke="#d3d3d3" stroke-width="1.9"/>
<line x1="401.5" y1="314.4" x2="395.6" y2="279.7" stroke="#d3d3d3" stroke-width="1.9"/>
<line x1="401.5" y1="314.4" x2="375.2" y2="299.2" stroke="#d3d3d3" stroke-width="1.9"/>
<line x1="401.5" y1="314.4" x2="437.6" y2="302.0" stroke="#d3d3d3" stroke-width="1.9"/>
<line x1="401.5" y1="314.4" x2="453.3" y2="350.5" stroke="#d3d3d3" stroke-width="1.9"/>
<line x1="401.5" y1="314.4" x2="369.9" y2="359.7" stroke="#d3d3d3" stroke-width="1.9"/>
<line x1="401.5" y1="314.4" x2="323.8" y2="315.8" stroke="#d3d3d3" stroke-width="1.9"/>
<line x1="401.5" y1="314.4" x2="357.6" y2="310.5" stroke="#d3d3d3" stroke-width="1.9"/>
<line x1="401.5" y1="314.4" x2="452.8" y2="314.9" stroke="#d3d3d3" stroke-width="1.9"/>
<line x1="401.5" y1="314.4" x2="394.8" y2="370.2" stroke="#d3d3d3" stroke-width="1.9"/>
<line x1="401.5" y1="314.4" x2="368.2" y2="278.1" stroke="#d3d3d3" stroke-width="1.9"/>
<line x1="401.5" y1="314.4" x2="444.9" y2="341.9" stroke="#d3d3d3" stroke-width="1.9"/>
<line x1="401.5" y1="314.4" x2="341.6" y2="321.3" stroke="#d3d3d3" stroke-width="1.9"/>
<line x1="401.5" y1="314.4" x2="438.8" y2="307.3" stroke="#d3d3d3" stroke-width="1.9"/>
<line x1="401.5" y1="314.4" x2="377.3" y2="323.5" stroke="#d3d3d3" stroke-width="1.9"/>
<line x1="401.5" y1="314.4" x2="412.3" y2="281.0" stroke="#d3d3d3" stroke-width="1.9"/>
<line x1="401.5" y1="314.4" x2="434.9" y2="252.9" stroke="#d3d3d3" stroke-width="1.9"/>
<line x1="401.5" y1="314.4" x2="399.3" y2="390.9" stroke="#d3d3d3" stroke-width="1.9"/>
<line x1="401.5" y1="314.4" x2="354.5" y2="313.2" stroke="#d3d3d3" stroke-width="1.9"/>
<line x1="401.5" y1="314.4" x2="327.1" y2="287.5" stroke="#d3d3d3" stroke-width="1.9"/>
<line x1="401.5" y1="314.4" x2="351.1" y2="317.6" stroke="#d3d3d3" stroke-width="1.9"/>
<line x1="401.5" y1="314.4" x2="383.2" y2="384.7" stroke="#d3d3d3" stroke-width="1.9"/>
<line x1="401.5" y1="314.4" x2="359.7" y2="313.6" stroke="#d3d3d3" stroke-width="1.9"/>
<line x1="401.5" y1="314.4" x2="412.7" y2="346.4" stroke="#d3d3d3" stroke-width="1.9"/>
<line x1="401.5" y1="314.4" x2="437.0" y2="253.7" stroke="#d3d3d3" stroke-width="1.9"/>
<line x1="401.5" y1="314.4" x2="478.2" y2="304.1" stroke="#d3d3d3" stroke-width="1.9"/>
<line x1="401.5" y1="314.4" x2="373.8" y2="250.2" stroke="#d3d3d3" stroke-width="1.9"/>
<line x1="401.5" y1="314.4" x2="384.6" y2="245.7" stroke="#d3d3d3" stroke-width="1.9"/>
<line x1="401.5" y1="314.4" x2="411.5" y2="284.5" stroke="#d3d3d3" stroke-width="1.9"/>
<line x1="401.5" y1="314.4" x2="417.1" y2="278.2" stroke="#d3d3d3" stroke-width="1.9"/>
<line x1="401.5" y1="314.4" x2="404.4" y2="391.9" stroke="#d3d3d3" stroke-width="1.9"/>
<line x1="401.5" y1="314.4" x2="453.3" y2="321.9" stroke="#d3d3d3" stroke-width="1.9"/>
<line x1="401.5" y1="314.4" x2="363.0" y2="372.4" stroke="#d3d3d3" stroke-width="1.9"/>
<line x1="401.5" y1="314.4" x2="342.3" y2="265.1" stroke="#d3d3d3" stroke-width="1.9"/>
<line x1="401.5" y1="314.4" x2="456.6" y2="289.5" stroke="#d3d3d3" stroke-width="1.9"/>
<line x1="401.5" y1="314.4" x2="458.4" y2="338.8" stroke="#d3d3d3" stroke-width="1.9"/>
<line x1="401.5" y1="314.4" x2="464.4" y2="366.0" stroke="#d3d3d3" stroke-width="1.9"/>
<line x1="401.5" y1="314.4" x2="429.0" y2="285.6" stroke="#d3d3d3" stroke-width="1.9"/>
<line x1="401.5" y1="314.4" x2="426.4" y2="372.9" stroke="#d3d3d3" stroke-width="1.9"/>
<line x1="401.5" y1="314.4" x2="405.7" y2="232.9" stroke="#d3d3d3" stroke-width="1.9"/>
<line x1="401.5" y1="314.4" x2="381.2" y2="294.6" stroke="#d3d3d3" stroke-width="1.9"/>
<line x1="401.5" y1="314.4" x2="398.0" y2="290.4" stroke="#d3d3d3" stroke-width="1.9"/>
<line x1="401.5" y1="314.4" x2="447.5" y2="264.0" stroke="#d3d3d3" stroke-width="1.9"/>
<line x1="401.5" y1="314.4" x2="418.0" y2="241.6" stroke="#d3d3d3" stroke-width="1.9"/>
<line x1="401.5" y1="314.4" x2="329.8" y2="281.1" stroke="#d3d3d3" stroke-width="1.9"/>
<line x1="401.5" y1="314.4" x2="368.7" y2="275.2" stroke="#d3d3d3" stroke-width="1.9"/>
<line x1="401.5" y1="314.4" x2="369.7" y2="342.6" stroke="#d3d3d3" stroke-width="1.9"/>
<line x1="401.5" y1="314.4" x2="431.8" y2="318.8" stroke="#d3d3d3" stroke-width="1.9"/>
<line x1="401.5" y1="314.4" x2="411.3" y2="281.0" stroke="#d3d3d3" stroke-width="1.9"/>
<line x1="391.3" y1="266.2" x2="355.8" y2="214.9" stroke="#d3d3d3" stroke-width="1.9"/>
<line x1="391.3" y1="266.2" x2="375.0" y2="221.3" stroke="#d3d3d3" stroke-width="1.9"/>
<line x1="391.3" y1="266.2" x2="377.6" y2="297.4" stroke="#d3d3d3" stroke-width="1.9"/>
<line x1="391.3" y1="266.2" x2="412.5" y2="317.2" stroke="#d3d3d3" stroke-width="1.9"/>
<line x1="391.3" y1="266.2" x2="363.3" y2="200.1" stroke="#d3d3d3" stroke-width="1.9"/>
<line x1="391.3" y1="266.2" x2="356.9" y2="328.2" stroke="#d3d3d3" stroke-width="1.9"/>
<line x1="391.3" y1="266.2" x2="421.1" y2="247.7" stroke="#d3d3d3" stroke-width="1.9"/>
<line x1="391.3" y1="266.2" x2="442.5" y2="250.3" stroke="#d3d3d3" stroke-width="1.9"/>
<line x1="391.3" y1="266.2" x2="451.9" y2="251.7" stroke="#d3d3d3" stroke-width="1.9"/>
<line x1="391.3" y1="266.2" x2="374.1" y2="296.0" stroke="#d3d3d3" stroke-width="1.9"/>
<line x1="391.3" y1="266.2" x2="345.6" y2="259.7" stroke="#d3d3d3" stroke-width="1.9"/>
<line x1="391.3" y1="266.2" x2="456.9" y2="281.0" stroke="#d3d3d3" stroke-width="1.9"/>
<line x1="391.3" y1="266.2" x2="347.1" y2="256.2" stroke="#d3d3d3" stroke-width="1.9"/>
<line x1="391.3" y1="266.2" x2="390.2" y2="233.4" stroke="#d3d3d3" stroke-width="1.9"/>
<line x1="391.3" y1="266.2" x2="407.4" y2="315.0" stroke="#d3d3d3" stroke-width="1.9"/>
<line x1="391.3" y1="266.2" x2="393.3" y2="303.3" stroke="#d3d3d3" stroke-width="1.9"/>
<line x1="391.3" y1="266.2" x2="410.9" y2="275.4" stroke="#d3d3d3" stroke-width="1.9"/>
<line x1="391.3" y1="266.2" x2="361.6" y2="304.4" stroke="#d3d3d3" stroke-width="1.9"/>
<line x1="391.3" y1="266.2" x2="443.2" y2="248.9" stroke="#d3d3d3" stroke-width="1.9"/>
<line x1="391.3" y1="266.2" x2="355.5" y2="287.5" stroke="#d3d3d3" stroke-width="1.9"/>
<line x1="391.3" y1="266.2" x2="395.5" y2="311.4" stroke="#d3d3d3" stroke-width="1.9"/>
<line x1="391.3" y1="266.2" x2="416.1" y2="259.7" stroke="#d3d3d3" stroke-width="1.9"/>
<line x1="391.3" y1="266.2" x2="339.0" y2="289.6" stroke="#d3d3d3" stroke-width="1.9"/>
<line x1="391.3" y1="266.2" x2="395.2" y2="216.4" stroke="#d3d3d3" stroke-width="1.9"/>
<line x1="391.3" y1="266.2" x2="346.1" y2="210.8" stroke="#d3d3d3" stroke-width="1.9"/>
<line x1="391.3" y1="266.2" x2="418.2" y2="247.3" stroke="#d3d3d3" stroke-width="1.9"/>
<line x1="391.3" y1="266.2" x2="318.9" y2="247.0" stroke="#d3d3d3" stroke-width="1.9"/>
<line x1="391.3" y1="266.2" x2="362.3" y2="261.1" stroke="#d3d3d3" stroke-width="1.9"/>
<line x1="391.3" y1="266.2" x2="393.5" y2="244.4" stroke="#d3d3d3" stroke-width="1.9"/>
<line x1="391.3" y1="266.2" x2="420.5" y2="306.5" stroke="#d3d3d3" stroke-width="1.9"/>
<line x1="391.3" y1="266.2" x2="382.9" y2="324.8" stroke="#d3d3d3" stroke-width="1.9"/>
<line x1="391.3" y1="266.2" x2="386.0" y2="229.9" stroke="#d3d3d3" stroke-width="1.9"/>
<line x1="391.3" y1="266.2" x2="397.2" y2="211.3" stroke="#d3d3d3" stroke-width="1.9"/>
<line x1="391.3" y1="266.2" x2="379.2" y2="223.5" stroke="#d3d3d3" stroke-width="1.9"/>
<line x1="391.3" y1="266.2" x2="368.7" y2="276.4" stroke="#d3d3d3" stroke-width="1.9"/>
<line x1="391.3" y1="266.2" x2="319.8" y2="277.6" stroke="#d3d3d3" stroke-width="1.9"/>
<line x1="391.3" y1="266.2" x2="408.0" y2="252.1" stroke="#d3d3d3" stroke-width="1.9"/>
<line x1="391.3" y1="266.2" x2="421.9" y2="280.8" stroke="#d3d3d3" stroke-width="1.9"/>
<line x1="391.3" y1="266.2" x2="376.5" y2="225.4" stroke="#d3d3d3" stroke-width="1.9"/>
<line x1="391.3" y1="266.2" x2="420.9" y2="296.9" stroke="#d3d3d3" stroke-width="1.9"/>
<line x1="391.3" y1="266.2" x2="337.0" y2="239.3" stroke="#d3d3d3" stroke-width="1.9"/>
<line x1="391.3" y1="266.2" x2="346.0" y2="297.8" stroke="#d3d3d3" stroke-width="1.9"/>
<line x1="391.3" y1="266.2" x2="369.0" y2="217.7" stroke="#d3d3d3" stroke-width="1.9"/>
<line x1="391.3" y1="266.2" x2="447.5" y2="283.1" stroke="#d3d3d3" stroke-width="1.9"/>
<line x1="391.3" y1="266.2" x2="406.4" y2="282.0" stroke="#d3d3d3" stroke-width="1.9"/>
<line x1="391.3" y1="266.2" x2="371.9" y2="269.4" stroke="#d3d3d3" stroke-width="1.9"/>
<line x1="391.3" y1="266.2" x2="427.8" y2="284.2" stroke="#d3d3d3" stroke-width="1.9"/>
<line x1="391.3" y1="266.2" x2="367.1" y2="271.0" stroke="#d3d3d3" stroke-width="1.9"/>
<line x1="391.3" y1="266.2" x2="455.2" y2="247.1" stroke="#d3d3d3" stroke-width="1.9"/>
<line x1="391.3" y1="266.2" x2="339.7" y2="270.5" stroke="#d3d3d3" stroke-width="1.9"/>
<line x1="391.3" y1="266.2" x2="361.6" y2="334.1" stroke="#d3d3d3" stroke-width="1.9"/>
<line x1="391.3" y1="266.2" x2="417.5" y2="290.7" stroke="#d3d3d3" stroke-width="1.9"/>
<line x1="391.3" y1="266.2" x2="403.5" y2="332.5" stroke="#d3d3d3" stroke-width="1.9"/>
<line x1="391.3" y1="266.2" x2="349.5" y2="263.9" stroke="#d3d3d3" stroke-width="1.9"/>
<line x1="287.1" y1="253.7" x2="237.4" y2="290.4" stroke="#d3d3d3" stroke-width="1.9"/>
<line x1="287.1" y1="253.7" x2="284.4" y2="310.6" stroke="#d3d3d3" stroke-width="1.9"/>
<line x1="287.1" y1="253.7" x2="276.8" y2="215.5" stroke="#d3d3d3" stroke-width="1.9"/>
<line x1="287.1" y1="253.7" x2="261.2" y2="282.8" stroke="#d3d3d3" stroke-width="1.9"/>
<line x1="287.1" y1="253.7" x2="255.7" y2="263.3" stroke="#d3d3d3" stroke-width="1.9"/>
<line x1="287.1" y1="253.7" x2="260.3" y2="227.2" stroke="#d3d3d3" stroke-width="1.9"/>
<line x1="287.1" y1="253.7" x2="268.6" y2="306.5" stroke="#d3d3d3" stroke-width="1.9"/>
<line x1="287.1" y1="253.7" x2="247.9" y2="265.1" stroke="#d3d3d3" stroke-width="1.9"/>
<line x1="287.1" y1="253.7" x2="316.1" y2="226.3" stroke="#d3d3d3" stroke-width="1.9"/>
<line x1="287.1" y1="253.7" x2="242.7" y2="297.5" stroke="#d3d3d3" stroke-width="1.9"/>
<line x1="287.1" y1="253.7" x2="343.1" y2="245.3" stroke="#d3d3d3" stroke-width="1.9"/>
<line x1="287.1" y1="253.7" x2="245.7" y2="283.2" stroke="#d3d3d3" stroke-width="1.9"/>
<line x1="287.1" y1="253.7" x2="285.3" y2="221.9" stroke="#d3d3d3" stroke-width="1.9"/>
<line x1="287.1" y1="253.7" x2="276.5" y2="189.6" stroke="#d3d3d3" stroke-width="1.9"/>
<line x1="287.1" y1="253.7" x2="258.8" y2="211.6" stroke="#d3d3d3" stroke-width="1.9"/>
<line x1="287.1" y1="253.7" x2="241.2" y2="273.5" stroke="#d3d3d3" stroke-width="1.9"/>
<line x1="287.1" y1="253.7" x2="295.5" y2="308.9" stroke="#d3d3d3" stroke-width="1.9"/>
<line x1="287.1" y1="253.7" x2="222.6" y2="237.5" stroke="#d3d3d3" stroke-width="1.9"/>
<line x1="287.1" y1="253.7" x2="258.3" y2="298.1" stroke="#d3d3d3" stroke-width="1.9"/>
<line x1="287.1" y1="253.7" x2="324.8" y2="257.7" stroke="#d3d3d3" stroke-width="1.9"/>
<line x1="287.1" y1="253.7" x2="290.2" y2="223.8" stroke="#d3d3d3" stroke-width="1.9"/>
<line x1="287.1" y1="253.7" x2="265.9" y2="235.3" stroke="#d3d3d3" stroke-width="1.9"/>
<line x1="287.1" y1="253.7" x2="233.2" y2="293.7" stroke="#d3d3d3" stroke-width="1.9"/>
<line x1="287.1" y1="253.7" x2="307.9" y2="313.3" stroke="#d3d3d3" stroke-width="1.9"/>
<line x1="287.1" y1="253.7" x2="330.3" y2="270.7" stroke="#d3d3d3" stroke-width="1.9"/>
<line x1="287.1" y1="253.7" x2="312.8" y2="200.3" stroke="#d3d3d3" stroke-width="1.9"/>
<line x1="287.1" y1="253.7" x2="250.8" y2="283.2" stroke="#d3d3d3" stroke-width="1.9"/>
<line x1="287.1" y1="253.7" x2="274.0" y2="199.8" stroke="#d3d3d3" stroke-width="1.9"/>
<line x1="287.1" y1="253.7" x2="286.1" y2="207.5" stroke="#d3d3d3" stroke-width="1.9"/>
<line x1="287.1" y1="253.7" x2="286.6" y2="306.3" stroke="#d3d3d3" stroke-width="1.9"/>
<line x1="287.1" y1="253.7" x2="245.9" y2="237.0" stroke="#d3d3d3" stroke-width="1.9"/>
<line x1="287.1" y1="253.7" x2="310.8" y2="251.8" stroke="#d3d3d3" stroke-width="1.9"/>
<line x1="287.1" y1="253.7" x2="293.5" y2="221.0" stroke="#d3d3d3" stroke-width="1.9"/>
<line x1="287.1" y1="253.7" x2="277.6" y2="189.4" stroke="#d3d3d3" stroke-width="1.9"/>
<line x1="287.1" y1="253.7" x2="280.1" y2="298.8" stroke="#d3d3d3" stroke-width="1.9"/>
<line x1="287.1" y1="253.7" x2="245.8" y2="246.3" stroke="#d3d3d3" stroke-width="1.9"/>
<line x1="287.1" y1="253.7" x2="311.3" y2="295.8" stroke="#d3d3d3" stroke-width="1.9"/>
<line x1="287.1" y1="253.7" x2="326.7" y2="222.4" stroke="#d3d3d3" stroke-width="1.9"/>
<line x1="287.1" y1="253.7" x2="273.1" y2="309.6" stroke="#d3d3d3" stroke-width="1.9"/>
<line x1="287.1" y1="253.7" x2="265.9" y2="265.4" stroke="#d3d3d3" stroke-width="1.9"/>
<line x1="287.1" y1="253.7" x2="255.5" y2="228.9" stroke="#d3d3d3" stroke-width="1.9"/>
<line x1="287.1" y1="253.7" x2="221.2" y2="241.2" stroke="#d3d3d3" stroke-width="1.9"/>
<line x1="287.1" y1="253.7" x2="228.1" y2="226.2" stroke="#d3d3d3" stroke-width="1.9"/>
<line x1="287.1" y1="253.7" x2="253.9" y2="297.9" stroke="#d3d3d3" stroke-width="1.9"/>
<line x1="287.1" y1="253.7" x2="315.7" y2="268.3" stroke="#d3d3d3" stroke-width="1.9"/>
<line x1="232.3" y1="297.7" x2="213.8" y2="249.3" stroke="#d3d3d3" stroke-width="1.9"/>
<line x1="232.3" y1="297.7" x2="249.4" y2="265.9" stroke="#d3d3d3" stroke-width="1.9"/>
<line x1="232.3" y1="297.7" x2="227.1" y2="332.3" stroke="#d3d3d3" stroke-width="1.9"/>
<line x1="232.3" y1="297.7" x2="214.7" y2="293.5" stroke="#d3d3d3" stroke-width="1.9"/>
<line x1="232.3" y1="297.7" x2="196.9" y2="333.3" stroke="#d3d3d3" stroke-width="1.9"/>
<line x1="232.3" y1="297.7" x2="251.7" y2="323.9" stroke="#d3d3d3" stroke-width="1.9"/>
<line x1="232.3" y1="297.7" x2="277.0" y2="251.7" stroke="#d3d3d3" stroke-width="1.9"/>
<line x1="232.3" y1="297.7" x2="232.3" y2="323.6" stroke="#d3d3d3" stroke-width="1.9"/>
<line x1="232.3" y1="297.7" x2="248.0" y2="312.0" stroke="#d3d3d3" stroke-width="1.9"/>
<line x1="232.3" y1="297.7" x2="247.1" y2="245.5" stroke="#d3d3d3" stroke-width="1.9"/>
<line x1="232.3" y1="297.7" x2="228.5" y2="339.2" stroke="#d3d3d3" stroke-width="1.9"/>
<line x1="232.3" y1="297.7" x2="226.1" y2="280.5" stroke="#d3d3d3" stroke-width="1.9"/>
<line x1="232.3" y1="297.7" x2="257.6" y2="242.9" stroke="#d3d3d3" stroke-width="1.9"/>
<line x1="232.3" y1="297.7" x2="244.9" y2="348.6" stroke="#d3d3d3" stroke-width="1.9"/>
<line x1="232.3" y1="297.7" x2="221.7" y2="265.5" stroke="#d3d3d3" stroke-width="1.9"/>
<line x1="232.3" y1="297.7" x2="252.5" y2="278.4" stroke="#d3d3d3" stroke-width="1.9"/>
<line x1="232.3" y1="297.7" x2="200.0" y2="303.0" stroke="#d3d3d3" stroke-width="1.9"/>
<line x1="232.3" y1="297.7" x2="178.1" y2="318.4" stroke="#d3d3d3" stroke-width="1.9"/>
<line x1="232.3" y1="297.7" x2="189.1" y2="277.4" stroke="#d3d3d3" stroke-width="1.9"/>
<line x1="232.3" y1="297.7" x2="260.4" y2="295.4" stroke="#d3d3d3" stroke-width="1.9"/>
<line x1="232.3" y1="297.7" x2="240.5" y2="345.2" stroke="#d3d3d3" stroke-width="1.9"/>
<line x1="232.3" y1="297.7" x2="270.8" y2="350.9" stroke="#d3d3d3" stroke-width="1.9"/>
<line x1="232.3" y1="297.7" x2="211.1" y2="330.6" stroke="#d3d3d3" stroke-width="1.9"/>
<line x1="232.3" y1="297.7" x2="178.9" y2="322.3" stroke="#d3d3d3" stroke-width="1.9"/>
<line x1="232.3" y1="297.7" x2="276.4" y2="271.8" stroke="#d3d3d3" stroke-width="1.9"/>
<line x1="232.3" y1="297.7" x2="248.8" y2="328.4" stroke="#d3d3d3" stroke-width="1.9"/>
<line x1="232.3" y1="297.7" x2="224.8" y2="270.9" stroke="#d3d3d3" stroke-width="1.9"/>
<line x1="232.3" y1="297.7" x2="277.5" y2="256.7" stroke="#d3d3d3" stroke-width="1.9"/>
<line x1="232.3" y1="297.7" x2="237.5" y2="332.6" stroke="#d3d3d3" stroke-width="1.9"/>
<line x1="232.3" y1="297.7" x2="239.4" y2="350.5" stroke="#d3d3d3" stroke-width="1.9"/>
<line x1="232.3" y1="297.7" x2="282.1" y2="312.9" stroke="#d3d3d3" stroke-width="1.9"/>
<line x1="232.3" y1="297.7" x2="287.2" y2="320.5" stroke="#d3d3d3" stroke-width="1.9"/>
<line x1="232.3" y1="297.7" x2="187.6" y2="285.2" stroke="#d3d3d3" stroke-width="1.9"/>
<line x1="232.3" y1="297.7" x2="248.1" y2="308.5" stroke="#d3d3d3" stroke-width="1.9"/>
<line x1="232.3" y1="297.7" x2="192.0" y2="350.9" stroke="#d3d3d3" stroke-width="1.9"/>
<line x1="232.3" y1="297.7" x2="183.4" y2="262.1" stroke="#d3d3d3" stroke-width="1.9"/>
<line x1="232.3" y1="297.7" x2="252.6" y2="306.1" stroke="#d3d3d3" stroke-width="1.9"/>
<line x1="232.3" y1="297.7" x2="284.0" y2="304.5" stroke="#d3d3d3" stroke-width="1.9"/>
<line x1="232.3" y1="297.7" x2="246.0" y2="325.2" stroke="#d3d3d3" stroke-width="1.9"/>
<line x1="232.3" y1="297.7" x2="206.4" y2="252.5" stroke="#d3d3d3" stroke-width="1.9"/>
<line x1="232.3" y1="297.7" x2="214.5" y2="334.1" stroke="#d3d3d3" stroke-width="1.9"/>
<line x1="232.3" y1="297.7" x2="221.3" y2="341.6" stroke="#d3d3d3" stroke-width="1.9"/>
<line x1="232.3" y1="297.7" x2="210.6" y2="325.3" stroke="#d3d3d3" stroke-width="1.9"/>
<line x1="232.3" y1="297.7" x2="232.5" y2="329.4" stroke="#d3d3d3" stroke-width="1.9"/>
<line x1="232.3" y1="297.7" x2="231.1" y2="315.4" stroke="#d3d3d3" stroke-width="1.9"/>
<line x1="232.3" y1="297.7" x2="214.9" y2="341.2" stroke="#d3d3d3" stroke-width="1.9"/>
<line x1="232.3" y1="297.7" x2="229.7" y2="320.1" stroke="#d3d3d3" stroke-width="1.9"/>
<line x1="232.3" y1="297.7" x2="255.3" y2="264.2" stroke="#d3d3d3" stroke-width="1.9"/>
<line x1="232.3" y1="297.7" x2="199.7" y2="295.3" stroke="#d3d3d3" stroke-width="1.9"/>
<line x1="232.3" y1="297.7" x2="274.1" y2="261.8" stroke="#d3d3d3" stroke-width="1.9"/>
<line x1="232.3" y1="297.7" x2="196.2" y2="262.7" stroke="#d3d3d3" stroke-width="1.9"/>
<line x1="232.3" y1="297.7" x2="217.4" y2="258.2" stroke="#d3d3d3" stroke-width="1.9"/>
<line x1="232.3" y1="297.7" x2="201.0" y2="316.7" stroke="#d3d3d3" stroke-width="1.9"/>
<line x1="232.3" y1="297.7" x2="191.7" y2="296.6" stroke="#d3d3d3" stroke-width="1.9"/>
<line x1="232.3" y1="297.7" x2="189.2" y2="289.8" stroke="#d3d3d3" stroke-width="1.9"/>
<line x1="232.3" y1="297.7" x2="247.2" y2="237.5" stroke="#d3d3d3" stroke-width="1.9"/>
<line x1="232.3" y1="297.7" x2="235.2" y2="315.5" stroke="#d3d3d3" stroke-width="1.9"/>
<line x1="232.3" y1="297.7" x2="226.5" y2="315.2" stroke="#d3d3d3" stroke-width="1.9"/>
<line x1="232.3" y1="297.7" x2="246.2" y2="251.5" stroke="#d3d3d3" stroke-width="1.9"/>
<line x1="232.3" y1="297.7" x2="226.4" y2="323.6" stroke="#d3d3d3" stroke-width="1.9"/>
<line x1="232.3" y1="297.7" x2="272.5" y2="254.2" stroke="#d3d3d3" stroke-width="1.9"/>
<line x1="232.3" y1="297.7" x2="211.3" y2="250.3" stroke="#d3d3d3" stroke-width="1.9"/>
<line x1="232.3" y1="297.7" x2="230.9" y2="257.8" stroke="#d3d3d3" stroke-width="1.9"/>
<line x1="366.3" y1="231.1" x2="338.4" y2="252.1" stroke="#d3d3d3" stroke-width="1.9"/>
<line x1="366.3" y1="231.1" x2="404.4" y2="195.5" stroke="#d3d3d3" stroke-width="1.9"/>
<line x1="366.3" y1="231.1" x2="406.2" y2="208.2" stroke="#d3d3d3" stroke-width="1.9"/>
<line x1="366.3" y1="231.1" x2="386.7" y2="241.4" stroke="#d3d3d3" stroke-width="1.9"/>
<line x1="366.3" y1="231.1" x2="400.3" y2="224.8" stroke="#d3d3d3" stroke-width="1.9"/>
<line x1="366.3" y1="231.1" x2="341.1" y2="228.7" stroke="#d3d3d3" stroke-width="1.9"/>
<line x1="366.3" y1="231.1" x2="388.0" y2="205.6" stroke="#d3d3d3" stroke-width="1.9"/>
<line x1="366.3" y1="231.1" x2="382.4" y2="230.1" stroke="#d3d3d3" stroke-width="1.9"/>
<line x1="366.3" y1="231.1" x2="379.9" y2="230.5" stroke="#d3d3d3" stroke-width="1.9"/>
<line x1="366.3" y1="231.1" x2="383.3" y2="253.9" stroke="#d3d3d3" stroke-width="1.9"/>
<line x1="366.3" y1="231.1" x2="355.1" y2="217.7" stroke="#d3d3d3" stroke-width="1.9"/>
<line x1="366.3" y1="231.1" x2="320.0" y2="211.9" stroke="#d3d3d3" stroke-width="1.9"/>
<line x1="366.3" y1="231.1" x2="326.7" y2="248.1" stroke="#d3d3d3" stroke-width="1.9"/>
<line x1="366.3" y1="231.1" x2="336.1" y2="211.4" stroke="#d3d3d3" stroke-width="1.9"/>
<line x1="366.3" y1="231.1" x2="380.9" y2="258.9" stroke="#d3d3d3" stroke-width="1.9"/>
<line x1="366.3" y1="231.1" x2="398.4" y2="207.9" stroke="#d3d3d3" stroke-width="1.9"/>
<line x1="366.3" y1="231.1" x2="372.7" y2="261.2" stroke="#d3d3d3" stroke-width="1.9"/>
<line x1="366.3" y1="231.1" x2="340.9" y2="224.0" stroke="#d3d3d3" stroke-width="1.9"/>
<line x1="366.3" y1="231.1" x2="332.8" y2="213.3" stroke="#d3d3d3" stroke-width="1.9"/>
<line x1="366.3" y1="231.1" x2="388.0" y2="233.5" stroke="#d3d3d3" stroke-width="1.9"/>
<line x1="366.3" y1="231.1" x2="354.4" y2="213.1" stroke="#d3d3d3" stroke-width="1.9"/>
<line x1="366.3" y1="231.1" x2="405.0" y2="250.1" stroke="#d3d3d3" stroke-width="1.9"/>
<line x1="366.3" y1="231.1" x2="340.7" y2="275.0" stroke="#d3d3d3" stroke-width="1.9"/>
<line x1="366.3" y1="231.1" x2="350.3" y2="224.9" stroke="#d3d3d3" stroke-width="1.9"/>
<line x1="366.3" y1="231.1" x2="351.0" y2="213.3" stroke="#d3d3d3" stroke-width="1.9"/>
<line x1="366.3" y1="231.1" x2="382.7" y2="192.8" stroke="#d3d3d3" stroke-width="1.9"/>
<line x1="366.3" y1="231.1" x2="367.1" y2="215.7" stroke="#d3d3d3" stroke-width="1.9"/>
<line x1="485.6" y1="291.9" x2="541.5" y2="304.1" stroke="#d3d3d3" stroke-width="1.9"/>
<line x1="485.6" y1="291.9" x2="502.8" y2="312.8" stroke="#d3d3d3" stroke-width="1.9"/>
<line x1="485.6" y1="291.9" x2="510.3" y2="296.6" stroke="#d3d3d3" stroke-width="1.9"/>
<line x1="485.6" y1="291.9" x2="421.1" y2="302.7" stroke="#d3d3d3" stroke-width="1.9"/>
<line x1="485.6" y1="291.9" x2="472.6" y2="318.9" stroke="#d3d3d3" stroke-width="1.9"/>
<line x1="485.6" y1="291.9" x2="497.9" y2="268.8" stroke="#d3d3d3" stroke-width="1.9"/>
<line x1="485.6" y1="291.9" x2="453.9" y2="255.9" stroke="#d3d3d3" stroke-width="1.9"/>
<line x1="485.6" y1="291.9" x2="503.1" y2="284.4" stroke="#d3d3d3" stroke-width="1.9"/>
<line x1="485.6" y1="291.9" x2="452.2" y2="277.9" stroke="#d3d3d3" stroke-width="1.9"/>
<line x1="485.6" y1="291.9" x2="498.8" y2="265.4" stroke="#d3d3d3" stroke-width="1.9"/>
<line x1="485.6" y1="291.9" x2="479.9" y2="266.3" stroke="#d3d3d3" stroke-width="1.9"/>
<line x1="485.6" y1="291.9" x2="419.7" y2="293.9" stroke="#d3d3d3" stroke-width="1.9"/>
<line x1="485.6" y1="291.9" x2="487.6" y2="322.8" stroke="#d3d3d3" stroke-width="1.9"/>
<line x1="485.6" y1="291.9" x2="529.9" y2="266.6" stroke="#d3d3d3" stroke-width="1.9"/>
<line x1="485.6" y1="291.9" x2="509.7" y2="302.5" stroke="#d3d3d3" stroke-width="1.9"/>
<line x1="485.6" y1="291.9" x2="488.1" y2="323.3" stroke="#d3d3d3" stroke-width="1.9"/>
<line x1="485.6" y1="291.9" x2="514.9" y2="248.5" stroke="#d3d3d3" stroke-width="1.9"/>
<line x1="485.6" y1="291.9" x2="536.0" y2="285.5" stroke="#d3d3d3" stroke-width="1.9"/>
<line x1="485.6" y1="291.9" x2="460.4" y2="265.8" stroke="#d3d3d3" stroke-width="1.9"/>
<line x1="485.6" y1="291.9" x2="477.1" y2="250.9" stroke="#d3d3d3" stroke-width="1.9"/>
<line x1="485.6" y1="291.9" x2="524.6" y2="307.0" stroke="#d3d3d3" stroke-width="1.9"/>
<line x1="485.6" y1="291.9" x2="452.9" y2="321.0" stroke="#d3d3d3" stroke-width="1.9"/>
<line x1="485.6" y1="291.9" x2="503.0" y2="297.4" stroke="#d3d3d3" stroke-width="1.9"/>
<line x1="485.6" y1="291.9" x2="521.1" y2="288.1" stroke="#d3d3d3" stroke-width="1.9"/>
<line x1="485.6" y1="291.9" x2="473.8" y2="313.3" stroke="#d3d3d3" stroke-width="1.9"/>
<line x1="485.6" y1="291.9" x2="432.8" y2="257.2" stroke="#d3d3d3" stroke-width="1.9"/>
<line x1="485.6" y1="291.9" x2="503.5" y2="330.1" stroke="#d3d3d3" stroke-width="1.9"/>
<line x1="485.6" y1="291.9" x2="430.0" y2="292.0" stroke="#d3d3d3" stroke-width="1.9"/>
<line x1="485.6" y1="291.9" x2="459.0" y2="280.4" stroke="#d3d3d3" stroke-width="1.9"/>
<line x1="485.6" y1="291.9" x2="505.4" y2="341.7" stroke="#d3d3d3" stroke-width="1.9"/>
<line x1="485.6" y1="291.9" x2="539.1" y2="320.5" stroke="#d3d3d3" stroke-width="1.9"/>
<line x1="485.6" y1="291.9" x2="511.5" y2="297.4" stroke="#d3d3d3" stroke-width="1.9"/>
<line x1="485.6" y1="291.9" x2="427.2" y2="303.9" stroke="#d3d3d3" stroke-width="1.9"/>
<line x1="485.6" y1="291.9" x2="445.7" y2="254.6" stroke="#d3d3d3" stroke-width="1.9"/>
<line x1="485.6" y1="291.9" x2="489.3" y2="238.6" stroke="#d3d3d3" stroke-width="1.9"/>
<line x1="485.6" y1="291.9" x2="541.2" y2="310.6" stroke="#d3d3d3" stroke-width="1.9"/>
<line x1="194.1" y1="344.0" x2="209.1" y2="364.1" stroke="#d3d3d3" stroke-width="1.9"/>
<line x1="194.1" y1="344.0" x2="211.9" y2="348.3" stroke="#d3d3d3" stroke-width="1.9"/>
<line x1="194.1" y1="344.0" x2="220.0" y2="318.7" stroke="#d3d3d3" stroke-width="1.9"/>
<line x1="194.1" y1="344.0" x2="210.6" y2="353.9" stroke="#d3d3d3" stroke-width="1.9"/>
<line x1="194.1" y1="344.0" x2="221.0" y2="305.1" stroke="#d3d3d3" stroke-width="1.9"/>
<line x1="194.1" y1="344.0" x2="210.3" y2="334.6" stroke="#d3d3d3" stroke-width="1.9"/>
<line x1="194.1" y1="344.0" x2="218.0" y2="364.4" stroke="#d3d3d3" stroke-width="1.9"/>
<line x1="194.1" y1="344.0" x2="202.3" y2="365.0" stroke="#d3d3d3" stroke-width="1.9"/>
<line x1="194.1" y1="344.0" x2="209.2" y2="390.9" stroke="#d3d3d3" stroke-width="1.9"/>
<line x1="194.1" y1="344.0" x2="206.6" y2="366.1" stroke="#d3d3d3" stroke-width="1.9"/>
<line x1="194.1" y1="344.0" x2="159.1" y2="336.1" stroke="#d3d3d3" stroke-width="1.9"/>
<line x1="194.1" y1="344.0" x2="221.0" y2="380.9" stroke="#d3d3d3" stroke-width="1.9"/>
<line x1="194.1" y1="344.0" x2="157.6" y2="342.2" stroke="#d3d3d3" stroke-width="1.9"/>
<line x1="194.1" y1="344.0" x2="175.5" y2="347.0" stroke="#d3d3d3" stroke-width="1.9"/>
<line x1="194.1" y1="344.0" x2="174.1" y2="326.4" stroke="#d3d3d3" stroke-width="1.9"/>
<line x1="194.1" y1="344.0" x2="185.2" y2="358.9" stroke="#d3d3d3" stroke-width="1.9"/>
<line x1="194.1" y1="344.0" x2="229.6" y2="313.8" stroke="#d3d3d3" stroke-width="1.9"/>
<line x1="194.1" y1="344.0" x2="159.6" y2="371.8" stroke="#d3d3d3" stroke-width="1.9"/>
<line x1="194.1" y1="344.0" x2="216.0" y2="335.3" stroke="#d3d3d3" stroke-width="1.9"/>
<line x1="194.1" y1="344.0" x2="154.9" y2="379.3" stroke="#d3d3d3" stroke-width="1.9"/>
<line x1="194.1" y1="344.0" x2="157.5" y2="381.9" stroke="#d3d3d3" stroke-width="1.9"/>
<line x1="194.1" y1="344.0" x2="210.0" y2="333.7" stroke="#d3d3d3" stroke-width="1.9"/>
<line x1="194.1" y1="344.0" x2="187.3" y2="375.0" stroke="#d3d3d3" stroke-width="1.9"/>
<line x1="194.1" y1="344.0" x2="194.2" y2="287.4" stroke="#d3d3d3" stroke-width="1.9"/>
<line x1="194.1" y1="344.0" x2="174.2" y2="283.5" stroke="#d3d3d3" stroke-width="1.9"/>
<line x1="194.1" y1="344.0" x2="208.6" y2="377.8" stroke="#d3d3d3" stroke-width="1.9"/>
<line x1="194.1" y1="344.0" x2="227.6" y2="299.6" stroke="#d3d3d3" stroke-width="1.9"/>
<line x1="194.1" y1="344.0" x2="244.6" y2="387.2" stroke="#d3d3d3" stroke-width="1.9"/>
<line x1="194.1" y1="344.0" x2="190.5" y2="283.4" stroke="#d3d3d3" stroke-width="1.9"/>
<line x1="194.1" y1="344.0" x2="163.3" y2="380.2" stroke="#d3d3d3" stroke-width="1.9"/>
<line x1="194.1" y1="344.0" x2="254.4" y2="328.0" stroke="#d3d3d3" stroke-width="1.9"/>
<line x1="194.1" y1="344.0" x2="139.3" y2="315.2" stroke="#d3d3d3" stroke-width="1.9"/>
<line x1="194.1" y1="344.0" x2="253.5" y2="343.6" stroke="#d3d3d3" stroke-width="1.9"/>
<line x1="194.1" y1="344.0" x2="157.6" y2="289.6" stroke="#d3d3d3" stroke-width="1.9"/>
<line x1="194.1" y1="344.0" x2="217.2" y2="373.3" stroke="#d3d3d3" stroke-width="1.9"/>
<line x1="194.1" y1="344.0" x2="172.4" y2="334.8" stroke="#d3d3d3" stroke-width="1.9"/>
<line x1="194.1" y1="344.0" x2="197.9" y2="324.4" stroke="#d3d3d3" stroke-width="1.9"/>
<line x1="194.1" y1="344.0" x2="172.7" y2="321.5" stroke="#d3d3d3" stroke-width="1.9"/>
<line x1="194.1" y1="344.0" x2="173.1" y2="386.7" stroke="#d3d3d3" stroke-width="1.9"/>
<line x1="194.1" y1="344.0" x2="208.3" y2="380.9" stroke="#d3d3d3" stroke-width="1.9"/>
<line x1="194.1" y1="344.0" x2="235.8" y2="291.8" stroke="#d3d3d3" stroke-width="1.9"/>
<line x1="194.1" y1="344.0" x2="191.3" y2="379.3" stroke="#d3d3d3" stroke-width="1.9"/>
<line x1="194.1" y1="344.0" x2="184.9" y2="319.2" stroke="#d3d3d3" stroke-width="1.9"/>
<line x1="194.1" y1="344.0" x2="209.8" y2="322.1" stroke="#d3d3d3" stroke-width="1.9"/>
<line x1="194.1" y1="344.0" x2="162.2" y2="332.1" stroke="#d3d3d3" stroke-width="1.9"/>
<line x1="194.1" y1="344.0" x2="211.0" y2="344.1" stroke="#d3d3d3" stroke-width="1.9"/>
<line x1="194.1" y1="344.0" x2="227.6" y2="344.4" stroke="#d3d3d3" stroke-width="1.9"/>
<line x1="194.1" y1="344.0" x2="183.5" y2="410.2" stroke="#d3d3d3" stroke-width="1.9"/>
<line x1="194.1" y1="344.0" x2="181.0" y2="328.6" stroke="#d3d3d3" stroke-width="1.9"/>
<line x1="194.1" y1="344.0" x2="188.0" y2="316.0" stroke="#d3d3d3" stroke-width="1.9"/>
<line x1="194.1" y1="344.0" x2="141.0" y2="350.2" stroke="#d3d3d3" stroke-width="1.9"/>
<line x1="194.1" y1="344.0" x2="234.0" y2="293.7" stroke="#d3d3d3" stroke-width="1.9"/>
<line x1="194.1" y1="344.0" x2="165.1" y2="359.7" stroke="#d3d3d3" stroke-width="1.9"/>
<line x1="194.1" y1="344.0" x2="167.9" y2="363.6" stroke="#d3d3d3" stroke-width="1.9"/>
<line x1="194.1" y1="344.0" x2="192.0" y2="303.7" stroke="#d3d3d3" stroke-width="1.9"/>
<line x1="194.1" y1="344.0" x2="184.4" y2="321.4" stroke="#d3d3d3" stroke-width="1.9"/>
<line x1="194.1" y1="344.0" x2="207.6" y2="279.6" stroke="#d3d3d3" stroke-width="1.9"/>
<line x1="194.1" y1="344.0" x2="208.1" y2="390.0" stroke="#d3d3d3" stroke-width="1.9"/>
<line x1="194.1" y1="344.0" x2="203.9" y2="359.9" stroke="#d3d3d3" stroke-width="1.9"/>
<line x1="194.1" y1="344.0" x2="171.7" y2="357.5" stroke="#d3d3d3" stroke-width="1.9"/>
<line x1="194.1" y1="344.0" x2="188.6" y2="298.5" stroke="#d3d3d3" stroke-width="1.9"/>
<line x1="194.1" y1="344.0" x2="164.0" y2="285.4" stroke="#d3d3d3" stroke-width="1.9"/>
<line x1="194.1" y1="344.0" x2="214.5" y2="351.8" stroke="#d3d3d3" stroke-width="1.9"/>
<line x1="194.1" y1="344.0" x2="233.2" y2="352.9" stroke="#d3d3d3" stroke-width="1.9"/>
<line x1="194.1" y1="344.0" x2="217.3" y2="298.0" stroke="#d3d3d3" stroke-width="1.9"/>
<line x1="194.1" y1="344.0" x2="136.6" y2="326.2" stroke="#d3d3d3" stroke-width="1.9"/>
<line x1="194.1" y1="344.0" x2="178.4" y2="360.3" stroke="#d3d3d3" stroke-width="1.9"/>
<line x1="194.1" y1="344.0" x2="182.7" y2="329.9" stroke="#d3d3d3" stroke-width="1.9"/>
<line x1="194.1" y1="344.0" x2="196.5" y2="362.2" stroke="#d3d3d3" stroke-width="1.9"/>
<line x1="194.1" y1="344.0" x2="204.7" y2="361.1" stroke="#d3d3d3" stroke-width="1.9"/>
<line x1="194.1" y1="344.0" x2="171.2" y2="339.4" stroke="#d3d3d3" stroke-width="1.9"/>
<line x1="194.1" y1="344.0" x2="147.4" y2="308.5" stroke="#d3d3d3" stroke-width="1.9"/>
<line x1="265.1" y1="446.8" x2="252.3" y2="465.8" stroke="#d3d3d3" stroke-width="1.9"/>
<line x1="265.1" y1="446.8" x2="239.6" y2="399.5" stroke="#d3d3d3" stroke-width="1.9"/>
<line x1="265.1" y1="446.8" x2="298.6" y2="416.9" stroke="#d3d3d3" stroke-width="1.9"/>
<line x1="265.1" y1="446.8" x2="212.4" y2="416.9" stroke="#d3d3d3" stroke-width="1.9"/>
<line x1="265.1" y1="446.8" x2="235.9" y2="387.4" stroke="#d3d3d3" stroke-width="1.9"/>
<line x1="265.1" y1="446.8" x2="252.2" y2="501.4" stroke="#d3d3d3" stroke-width="1.9"/>
<line x1="265.1" y1="446.8" x2="237.8" y2="416.7" stroke="#d3d3d3" stroke-width="1.9"/>
<line x1="265.1" y1="446.8" x2="306.0" y2="449.6" stroke="#d3d3d3" stroke-width="1.9"/>
<line x1="265.1" y1="446.8" x2="261.1" y2="494.0" stroke="#d3d3d3" stroke-width="1.9"/>
<line x1="265.1" y1="446.8" x2="222.5" y2="444.3" stroke="#d3d3d3" stroke-width="1.9"/>
<line x1="265.1" y1="446.8" x2="287.0" y2="455.3" stroke="#d3d3d3" stroke-width="1.9"/>
<line x1="265.1" y1="446.8" x2="224.9" y2="414.8" stroke="#d3d3d3" stroke-width="1.9"/>
<line x1="265.1" y1="446.8" x2="322.0" y2="443.4" stroke="#d3d3d3" stroke-width="1.9"/>
<line x1="265.1" y1="446.8" x2="255.1" y2="485.5" stroke="#d3d3d3" stroke-width="1.9"/>
<line x1="265.1" y1="446.8" x2="207.6" y2="444.7" stroke="#d3d3d3" stroke-width="1.9"/>
<line x1="265.1" y1="446.8" x2="215.1" y2="485.9" stroke="#d3d3d3" stroke-width="1.9"/>
<line x1="265.1" y1="446.8" x2="228.3" y2="450.5" stroke="#d3d3d3" stroke-width="1.9"/>
<line x1="265.1" y1="446.8" x2="230.4" y2="451.2" stroke="#d3d3d3" stroke-width="1.9"/>
<line x1="265.1" y1="446.8" x2="284.3" y2="446.8" stroke="#d3d3d3" stroke-width="1.9"/>
<line x1="265.1" y1="446.8" x2="248.2" y2="459.1" stroke="#d3d3d3" stroke-width="1.9"/>
<line x1="265.1" y1="446.8" x2="254.4" y2="424.8" stroke="#d3d3d3" stroke-width="1.9"/>
<line x1="265.1" y1="446.8" x2="287.8" y2="477.7" stroke="#d3d3d3" stroke-width="1.9"/>
<line x1="265.1" y1="446.8" x2="220.6" y2="413.6" stroke="#d3d3d3" stroke-width="1.9"/>
<line x1="265.1" y1="446.8" x2="235.2" y2="457.7" stroke="#d3d3d3" stroke-width="1.9"/>
<line x1="265.1" y1="446.8" x2="223.4" y2="492.4" stroke="#d3d3d3" stroke-width="1.9"/>
<line x1="265.1" y1="446.8" x2="269.1" y2="463.8" stroke="#d3d3d3" stroke-width="1.9"/>
<line x1="265.1" y1="446.8" x2="296.2" y2="419.6" stroke="#d3d3d3" stroke-width="1.9"/>
<line x1="265.1" y1="446.8" x2="281.1" y2="464.4" stroke="#d3d3d3" stroke-width="1.9"/>
<line x1="265.1" y1="446.8" x2="307.4" y2="412.0" stroke="#d3d3d3" stroke-width="1.9"/>
<line x1="265.1" y1="446.8" x2="312.0" y2="466.9" stroke="#d3d3d3" stroke-width="1.9"/>
<line x1="265.1" y1="446.8" x2="274.0" y2="485.2" stroke="#d3d3d3" stroke-width="1.9"/>
<line x1="265.1" y1="446.8" x2="249.7" y2="434.9" stroke="#d3d3d3" stroke-width="1.9"/>
<line x1="265.1" y1="446.8" x2="296.2" y2="433.5" stroke="#d3d3d3" stroke-width="1.9"/>
<line x1="265.1" y1="446.8" x2="300.0" y2="491.1" stroke="#d3d3d3" stroke-width="1.9"/>
<line x1="265.1" y1="446.8" x2="279.6" y2="458.7" stroke="#d3d3d3" stroke-width="1.9"/>
<line x1="265.1" y1="446.8" x2="241.6" y2="413.6" stroke="#d3d3d3" stroke-width="1.9"/>
<line x1="265.1" y1="446.8" x2="311.3" y2="413.5" stroke="#d3d3d3" stroke-width="1.9"/>
<line x1="265.1" y1="446.8" x2="270.3" y2="465.2" stroke="#d3d3d3" stroke-width="1.9"/>
<line x1="265.1" y1="446.8" x2="232.7" y2="422.2" stroke="#d3d3d3" stroke-width="1.9"/>
<line x1="265.1" y1="446.8" x2="245.1" y2="506.9" stroke="#d3d3d3" stroke-width="1.9"/>
<line x1="265.1" y1="446.8" x2="277.9" y2="494.6" stroke="#d3d3d3" stroke-width="1.9"/>
<line x1="265.1" y1="446.8" x2="322.1" y2="475.2" stroke="#d3d3d3" stroke-width="1.9"/>
<line x1="265.1" y1="446.8" x2="310.8" y2="431.6" stroke="#d3d3d3" stroke-width="1.9"/>
<line x1="265.1" y1="446.8" x2="242.2" y2="495.2" stroke="#d3d3d3" stroke-width="1.9"/>
<line x1="265.1" y1="446.8" x2="312.0" y2="414.2" stroke="#d3d3d3" stroke-width="1.9"/>
<line x1="265.1" y1="446.8" x2="306.1" y2="457.5" stroke="#d3d3d3" stroke-width="1.9"/>
<line x1="265.1" y1="446.8" x2="293.5" y2="481.1" stroke="#d3d3d3" stroke-width="1.9"/>
<line x1="265.1" y1="446.8" x2="322.8" y2="428.1" stroke="#d3d3d3" stroke-width="1.9"/>
<line x1="265.1" y1="446.8" x2="265.4" y2="491.6" stroke="#d3d3d3" stroke-width="1.9"/>
<line x1="265.1" y1="446.8" x2="254.7" y2="470.0" stroke="#d3d3d3" stroke-width="1.9"/>
<line x1="265.1" y1="446.8" x2="262.9" y2="391.5" stroke="#d3d3d3" stroke-width="1.9"/>
<line x1="265.1" y1="446.8" x2="245.3" y2="479.4" stroke="#d3d3d3" stroke-width="1.9"/>
<line x1="265.1" y1="446.8" x2="247.4" y2="396.1" stroke="#d3d3d3" stroke-width="1.9"/>
<line x1="265.1" y1="446.8" x2="242.8" y2="452.0" stroke="#d3d3d3" stroke-width="1.9"/>
<line x1="265.1" y1="446.8" x2="286.1" y2="461.2" stroke="#d3d3d3" stroke-width="1.9"/>
<line x1="265.1" y1="446.8" x2="284.5" y2="409.5" stroke="#d3d3d3" stroke-width="1.9"/>
<line x1="265.1" y1="446.8" x2="243.4" y2="419.0" stroke="#d3d3d3" stroke-width="1.9"/>
<line x1="265.1" y1="446.8" x2="247.6" y2="465.7" stroke="#d3d3d3" stroke-width="1.9"/>
<line x1="265.1" y1="446.8" x2="312.0" y2="439.2" stroke="#d3d3d3" stroke-width="1.9"/>
<line x1="265.1" y1="446.8" x2="301.3" y2="484.7" stroke="#d3d3d3" stroke-width="1.9"/>
<line x1="265.1" y1="446.8" x2="226.0" y2="419.1" stroke="#d3d3d3" stroke-width="1.9"/>
<line x1="265.1" y1="446.8" x2="271.0" y2="399.5" stroke="#d3d3d3" stroke-width="1.9"/>
<line x1="265.1" y1="446.8" x2="312.2" y2="400.6" stroke="#d3d3d3" stroke-width="1.9"/>
<line x1="480.6" y1="384.6" x2="443.8" y2="409.0" stroke="#d3d3d3" stroke-width="1.9"/>
<line x1="480.6" y1="384.6" x2="457.0" y2="408.4" stroke="#d3d3d3" stroke-width="1.9"/>
<line x1="480.6" y1="384.6" x2="451.2" y2="417.5" stroke="#d3d3d3" stroke-width="1.9"/>
<line x1="480.6" y1="384.6" x2="462.1" y2="409.3" stroke="#d3d3d3" stroke-width="1.9"/>
<line x1="480.6" y1="384.6" x2="509.7" y2="342.8" stroke="#d3d3d3" stroke-width="1.9"/>
<line x1="480.6" y1="384.6" x2="456.9" y2="337.2" stroke="#d3d3d3" stroke-width="1.9"/>
<line x1="480.6" y1="384.6" x2="447.5" y2="413.4" stroke="#d3d3d3" stroke-width="1.9"/>
<line x1="480.6" y1="384.6" x2="480.4" y2="413.8" stroke="#d3d3d3" stroke-width="1.9"/>
<line x1="480.6" y1="384.6" x2="521.7" y2="414.7" stroke="#d3d3d3" stroke-width="1.9"/>
<line x1="480.6" y1="384.6" x2="505.8" y2="371.0" stroke="#d3d3d3" stroke-width="1.9"/>
<line x1="480.6" y1="384.6" x2="466.0" y2="398.6" stroke="#d3d3d3" stroke-width="1.9"/>
<line x1="480.6" y1="384.6" x2="508.0" y2="418.7" stroke="#d3d3d3" stroke-width="1.9"/>
<line x1="480.6" y1="384.6" x2="495.2" y2="372.8" stroke="#d3d3d3" stroke-width="1.9"/>
<line x1="480.6" y1="384.6" x2="479.2" y2="433.7" stroke="#d3d3d3" stroke-width="1.9"/>
<line x1="480.6" y1="384.6" x2="488.8" y2="438.5" stroke="#d3d3d3" stroke-width="1.9"/>
<line x1="480.6" y1="384.6" x2="458.7" y2="413.6" stroke="#d3d3d3" stroke-width="1.9"/>
<line x1="480.6" y1="384.6" x2="489.0" y2="411.4" stroke="#d3d3d3" stroke-width="1.9"/>
<line x1="480.6" y1="384.6" x2="456.1" y2="397.2" stroke="#d3d3d3" stroke-width="1.9"/>
<line x1="480.6" y1="384.6" x2="478.5" y2="368.4" stroke="#d3d3d3" stroke-width="1.9"/>
<line x1="480.6" y1="384.6" x2="447.7" y2="345.5" stroke="#d3d3d3" stroke-width="1.9"/>
<line x1="480.6" y1="384.6" x2="469.7" y2="405.6" stroke="#d3d3d3" stroke-width="1.9"/>
<line x1="480.6" y1="384.6" x2="494.1" y2="397.2" stroke="#d3d3d3" stroke-width="1.9"/>
<line x1="480.6" y1="384.6" x2="491.6" y2="343.9" stroke="#d3d3d3" stroke-width="1.9"/>
<line x1="480.6" y1="384.6" x2="515.8" y2="388.0" stroke="#d3d3d3" stroke-width="1.9"/>
<line x1="480.6" y1="384.6" x2="456.7" y2="367.5" stroke="#d3d3d3" stroke-width="1.9"/>
<line x1="480.6" y1="384.6" x2="513.7" y2="392.0" stroke="#d3d3d3" stroke-width="1.9"/>
<line x1="480.6" y1="384.6" x2="445.0" y2="431.3" stroke="#d3d3d3" stroke-width="1.9"/>
<line x1="516.5" y1="323.9" x2="496.7" y2="347.9" stroke="#d3d3d3" stroke-width="1.9"/>
<line x1="516.5" y1="323.9" x2="531.7" y2="307.3" stroke="#d3d3d3" stroke-width="1.9"/>
<line x1="516.5" y1="323.9" x2="536.3" y2="344.0" stroke="#d3d3d3" stroke-width="1.9"/>
<line x1="516.5" y1="323.9" x2="535.1" y2="335.7" stroke="#d3d3d3" stroke-width="1.9"/>
<line x1="516.5" y1="323.9" x2="525.1" y2="329.9" stroke="#d3d3d3" stroke-width="1.9"/>
<line x1="516.5" y1="323.9" x2="506.2" y2="330.4" stroke="#d3d3d3" stroke-width="1.9"/>
<line x1="516.5" y1="323.9" x2="539.0" y2="322.8" stroke="#d3d3d3" stroke-width="1.9"/>
<line x1="516.5" y1="323.9" x2="542.0" y2="304.7" stroke="#d3d3d3" stroke-width="1.9"/>
<line x1="516.5" y1="323.9" x2="517.7" y2="299.7" stroke="#d3d3d3" stroke-width="1.9"/>
<line x1="516.5" y1="323.9" x2="489.4" y2="328.5" stroke="#d3d3d3" stroke-width="1.9"/>
<line x1="516.5" y1="323.9" x2="510.6" y2="313.3" stroke="#d3d3d3" stroke-width="1.9"/>
<line x1="516.5" y1="323.9" x2="498.3" y2="320.4" stroke="#d3d3d3" stroke-width="1.9"/>
<line x1="516.5" y1="323.9" x2="490.7" y2="321.4" stroke="#d3d3d3" stroke-width="1.9"/>
<line x1="516.5" y1="323.9" x2="508.1" y2="303.2" stroke="#d3d3d3" stroke-width="1.9"/>
<line x1="516.5" y1="323.9" x2="523.4" y2="296.1" stroke="#d3d3d3" stroke-width="1.9"/>
<line x1="516.5" y1="323.9" x2="526.4" y2="330.4" stroke="#d3d3d3" stroke-width="1.9"/>
<line x1="516.5" y1="323.9" x2="528.2" y2="327.5" stroke="#d3d3d3" stroke-width="1.9"/>
<line x1="516.5" y1="323.9" x2="531.9" y2="319.8" stroke="#d3d3d3" stroke-width="1.9"/>
<line x1="386.0" y1="376.0" x2="356.8" y2="387.8" stroke="#d3d3d3" stroke-width="1.9"/>
<line x1="386.0" y1="376.0" x2="363.8" y2="366.5" stroke="#d3d3d3" stroke-width="1.9"/>
<line x1="386.0" y1="376.0" x2="390.7" y2="350.2" stroke="#d3d3d3" stroke-width="1.9"/>
<line x1="386.0" y1="376.0" x2="411.3" y2="339.1" stroke="#d3d3d3" stroke-width="1.9"/>
<line x1="386.0" y1="376.0" x2="420.7" y2="376.2" stroke="#d3d3d3" stroke-width="1.9"/>
<line x1="386.0" y1="376.0" x2="426.0" y2="402.5" stroke="#d3d3d3" stroke-width="1.9"/>
<line x1="386.0" y1="376.0" x2="407.4" y2="386.0" stroke="#d3d3d3" stroke-width="1.9"/>
<line x1="386.0" y1="376.0" x2="390.3" y2="339.9" stroke="#d3d3d3" stroke-width="1.9"/>
<line x1="386.0" y1="376.0" x2="371.4" y2="350.5" stroke="#d3d3d3" stroke-width="1.9"/>
<line x1="386.0" y1="376.0" x2="365.0" y2="373.3" stroke="#d3d3d3" stroke-width="1.9"/>
<line x1="386.0" y1="376.0" x2="363.4" y2="381.4" stroke="#d3d3d3" stroke-width="1.9"/>
<line x1="386.0" y1="376.0" x2="378.2" y2="360.5" stroke="#d3d3d3" stroke-width="1.9"/>
<line x1="386.0" y1="376.0" x2="399.6" y2="391.9" stroke="#d3d3d3" stroke-width="1.9"/>
<line x1="386.0" y1="376.0" x2="350.7" y2="368.6" stroke="#d3d3d3" stroke-width="1.9"/>
<line x1="386.0" y1="376.0" x2="438.0" y2="377.0" stroke="#d3d3d3" stroke-width="1.9"/>
<line x1="386.0" y1="376.0" x2="400.4" y2="351.9" stroke="#d3d3d3" stroke-width="1.9"/>
<line x1="386.0" y1="376.0" x2="410.7" y2="414.4" stroke="#d3d3d3" stroke-width="1.9"/>
<line x1="386.0" y1="376.0" x2="405.9" y2="373.1" stroke="#d3d3d3" stroke-width="1.9"/>
<line x1="386.0" y1="376.0" x2="387.7" y2="330.7" stroke="#d3d3d3" stroke-width="1.9"/>
<line x1="386.0" y1="376.0" x2="405.7" y2="367.8" stroke="#d3d3d3" stroke-width="1.9"/>
<line x1="386.0" y1="376.0" x2="400.2" y2="389.5" stroke="#d3d3d3" stroke-width="1.9"/>
<line x1="386.0" y1="376.0" x2="391.7" y2="424.2" stroke="#d3d3d3" stroke-width="1.9"/>
<line x1="386.0" y1="376.0" x2="412.8" y2="359.0" stroke="#d3d3d3" stroke-width="1.9"/>
<line x1="386.0" y1="376.0" x2="404.8" y2="395.4" stroke="#d3d3d3" stroke-width="1.9"/>
<line x1="386.0" y1="376.0" x2="388.1" y2="414.6" stroke="#d3d3d3" stroke-width="1.9"/>
<line x1="386.0" y1="376.0" x2="377.8" y2="333.1" stroke="#d3d3d3" stroke-width="1.9"/>
<line x1="386.0" y1="376.0" x2="357.3" y2="388.0" stroke="#d3d3d3" stroke-width="1.9"/>
<line x1="433.0" y1="303.8" x2="405.9" y2="309.4" stroke="#d3d3d3" stroke-width="1.9"/>
<line x1="433.0" y1="303.8" x2="394.5" y2="315.0" stroke="#d3d3d3" stroke-width="1.9"/>
<line x1="433.0" y1="303.8" x2="426.7" y2="278.6" stroke="#d3d3d3" stroke-width="1.9"/>
<line x1="433.0" y1="303.8" x2="415.8" y2="296.1" stroke="#d3d3d3" stroke-width="1.9"/>
<line x1="433.0" y1="303.8" x2="460.2" y2="311.7" stroke="#d3d3d3" stroke-width="1.9"/>
<line x1="433.0" y1="303.8" x2="423.9" y2="314.9" stroke="#d3d3d3" stroke-width="1.9"/>
<line x1="433.0" y1="303.8" x2="459.2" y2="318.1" stroke="#d3d3d3" stroke-width="1.9"/>
<line x1="433.0" y1="303.8" x2="476.1" y2="287.4" stroke="#d3d3d3" stroke-width="1.9"/>
<line x1="433.0" y1="303.8" x2="458.1" y2="308.6" stroke="#d3d3d3" stroke-width="1.9"/>
<line x1="433.0" y1="303.8" x2="415.8" y2="322.4" stroke="#d3d3d3" stroke-width="1.9"/>
<line x1="433.0" y1="303.8" x2="456.7" y2="331.4" stroke="#d3d3d3" stroke-width="1.9"/>
<line x1="433.0" y1="303.8" x2="447.9" y2="279.9" stroke="#d3d3d3" stroke-width="1.9"/>
<line x1="433.0" y1="303.8" x2="440.7" y2="319.3" stroke="#d3d3d3" stroke-width="1.9"/>
<line x1="433.0" y1="303.8" x2="476.1" y2="307.9" stroke="#d3d3d3" stroke-width="1.9"/>
<line x1="433.0" y1="303.8" x2="438.0" y2="345.1" stroke="#d3d3d3" stroke-width="1.9"/>
<line x1="433.0" y1="303.8" x2="437.2" y2="287.9" stroke="#d3d3d3" stroke-width="1.9"/>
<line x1="433.0" y1="303.8" x2="442.6" y2="327.5" stroke="#d3d3d3" stroke-width="1.9"/>
<line x1="433.0" y1="303.8" x2="438.0" y2="262.0" stroke="#d3d3d3" stroke-width="1.9"/>
<line x1="433.0" y1="303.8" x2="422.9" y2="333.0" stroke="#d3d3d3" stroke-width="1.9"/>
<line x1="433.0" y1="303.8" x2="413.6" y2="328.8" stroke="#d3d3d3" stroke-width="1.9"/>
<line x1="433.0" y1="303.8" x2="439.3" y2="281.2" stroke="#d3d3d3" stroke-width="1.9"/>
<line x1="433.0" y1="303.8" x2="451.3" y2="258.0" stroke="#d3d3d3" stroke-width="1.9"/>
<line x1="433.0" y1="303.8" x2="392.0" y2="273.6" stroke="#d3d3d3" stroke-width="1.9"/>
<line x1="433.0" y1="303.8" x2="451.4" y2="296.3" stroke="#d3d3d3" stroke-width="1.9"/>
<line x1="433.0" y1="303.8" x2="454.0" y2="302.7" stroke="#d3d3d3" stroke-width="1.9"/>
<line x1="433.0" y1="303.8" x2="439.0" y2="286.9" stroke="#d3d3d3" stroke-width="1.9"/>
<line x1="433.0" y1="303.8" x2="423.1" y2="332.7" stroke="#d3d3d3" stroke-width="1.9"/>
<line x1="327.1" y1="507.7" x2="342.3" y2="483.5" stroke="#d3d3d3" stroke-width="1.9"/>
<line x1="327.1" y1="507.7" x2="337.0" y2="540.9" stroke="#d3d3d3" stroke-width="1.9"/>
<line x1="327.1" y1="507.7" x2="342.8" y2="490.0" stroke="#d3d3d3" stroke-width="1.9"/>
<line x1="327.1" y1="507.7" x2="343.6" y2="513.1" stroke="#d3d3d3" stroke-width="1.9"/>
<line x1="327.1" y1="507.7" x2="321.5" y2="528.1" stroke="#d3d3d3" stroke-width="1.9"/>
<line x1="327.1" y1="507.7" x2="351.5" y2="498.5" stroke="#d3d3d3" stroke-width="1.9"/>
<line x1="327.1" y1="507.7" x2="331.9" y2="497.4" stroke="#d3d3d3" stroke-width="1.9"/>
<line x1="327.1" y1="507.7" x2="327.9" y2="537.6" stroke="#d3d3d3" stroke-width="1.9"/>
<line x1="327.1" y1="507.7" x2="318.6" y2="521.0" stroke="#d3d3d3" stroke-width="1.9"/>
<line x1="327.1" y1="507.7" x2="337.1" y2="511.9" stroke="#d3d3d3" stroke-width="1.9"/>
<line x1="327.1" y1="507.7" x2="306.0" y2="520.6" stroke="#d3d3d3" stroke-width="1.9"/>
<line x1="327.1" y1="507.7" x2="306.7" y2="522.6" stroke="#d3d3d3" stroke-width="1.9"/>
<line x1="327.1" y1="507.7" x2="324.6" y2="517.2" stroke="#d3d3d3" stroke-width="1.9"/>
<line x1="298.0" y1="454.6" x2="285.9" y2="431.2" stroke="#d3d3d3" stroke-width="1.9"/>
<line x1="298.0" y1="454.6" x2="270.0" y2="456.1" stroke="#d3d3d3" stroke-width="1.9"/>
<line x1="298.0" y1="454.6" x2="296.1" y2="469.6" stroke="#d3d3d3" stroke-width="1.9"/>
<line x1="298.0" y1="454.6" x2="290.8" y2="478.4" stroke="#d3d3d3" stroke-width="1.9"/>
<line x1="298.0" y1="454.6" x2="308.7" y2="464.0" stroke="#d3d3d3" stroke-width="1.9"/>
<line x1="298.0" y1="454.6" x2="284.2" y2="456.3" stroke="#d3d3d3" stroke-width="1.9"/>
<line x1="298.0" y1="454.6" x2="317.8" y2="435.8" stroke="#d3d3d3" stroke-width="1.9"/>
<line x1="298.0" y1="454.6" x2="266.3" y2="466.3" stroke="#d3d3d3" stroke-width="1.9"/>
<line x1="298.0" y1="454.6" x2="314.9" y2="457.2" stroke="#d3d3d3" stroke-width="1.9"/>
<line x1="298.0" y1="454.6" x2="305.7" y2="420.4" stroke="#d3d3d3" stroke-width="1.9"/>
<line x1="298.0" y1="454.6" x2="271.4" y2="455.7" stroke="#d3d3d3" stroke-width="1.9"/>
<line x1="298.0" y1="454.6" x2="298.3" y2="421.7" stroke="#d3d3d3" stroke-width="1.9"/>
<line x1="298.0" y1="454.6" x2="310.1" y2="410.2" stroke="#d3d3d3" stroke-width="1.9"/>
<line x1="298.0" y1="454.6" x2="330.8" y2="428.8" stroke="#d3d3d3" stroke-width="1.9"/>
<line x1="298.0" y1="454.6" x2="283.6" y2="426.8" stroke="#d3d3d3" stroke-width="1.9"/>
<line x1="298.0" y1="454.6" x2="262.9" y2="447.1" stroke="#d3d3d3" stroke-width="1.9"/>
<line x1="298.0" y1="454.6" x2="253.2" y2="447.4" stroke="#d3d3d3" stroke-width="1.9"/>
<line x1="298.0" y1="454.6" x2="307.5" y2="442.8" stroke="#d3d3d3" stroke-width="1.9"/>
<line x1="298.0" y1="454.6" x2="298.5" y2="417.2" stroke="#d3d3d3" stroke-width="1.9"/>
<line x1="298.0" y1="454.6" x2="258.2" y2="426.3" stroke="#d3d3d3" stroke-width="1.9"/>
<line x1="298.0" y1="454.6" x2="328.3" y2="464.4" stroke="#d3d3d3" stroke-width="1.9"/>
<line x1="298.0" y1="454.6" x2="262.2" y2="490.2" stroke="#d3d3d3" stroke-width="1.9"/>
<line x1="298.0" y1="454.6" x2="316.0" y2="484.9" stroke="#d3d3d3" stroke-width="1.9"/>
<line x1="298.0" y1="454.6" x2="324.4" y2="488.3" stroke="#d3d3d3" stroke-width="1.9"/>
<line x1="298.0" y1="454.6" x2="256.0" y2="457.5" stroke="#d3d3d3" stroke-width="1.9"/>
<line x1="298.0" y1="454.6" x2="281.2" y2="499.5" stroke="#d3d3d3" stroke-width="1.9"/>
<line x1="298.0" y1="454.6" x2="319.9" y2="455.6" stroke="#d3d3d3" stroke-width="1.9"/>
<line x1="395.9" y1="205.6" x2="392.3" y2="171.7" stroke="#d3d3d3" stroke-width="1.9"/>
<line x1="395.9" y1="205.6" x2="398.8" y2="188.7" stroke="#d3d3d3" stroke-width="1.9"/>
<line x1="395.9" y1="205.6" x2="421.5" y2="219.9" stroke="#d3d3d3" stroke-width="1.9"/>
<line x1="395.9" y1="205.6" x2="394.6" y2="194.6" stroke="#d3d3d3" stroke-width="1.9"/>
<line x1="395.9" y1="205.6" x2="418.1" y2="196.0" stroke="#d3d3d3" stroke-width="1.9"/>
<line x1="395.9" y1="205.6" x2="418.3" y2="210.4" stroke="#d3d3d3" stroke-width="1.9"/>
<line x1="395.9" y1="205.6" x2="389.4" y2="216.1" stroke="#d3d3d3" stroke-width="1.9"/>
<line x1="395.9" y1="205.6" x2="422.7" y2="182.1" stroke="#d3d3d3" stroke-width="1.9"/>
<line x1="395.9" y1="205.6" x2="411.5" y2="221.0" stroke="#d3d3d3" stroke-width="1.9"/>
<line x1="395.9" y1="205.6" x2="391.8" y2="233.6" stroke="#d3d3d3" stroke-width="1.9"/>
<line x1="395.9" y1="205.6" x2="410.4" y2="217.5" stroke="#d3d3d3" stroke-width="1.9"/>
<line x1="395.9" y1="205.6" x2="376.7" y2="217.7" stroke="#d3d3d3" stroke-width="1.9"/>
<line x1="395.9" y1="205.6" x2="371.9" y2="216.0" stroke="#d3d3d3" stroke-width="1.9"/>
<line x1="395.9" y1="205.6" x2="429.0" y2="192.5" stroke="#d3d3d3" stroke-width="1.9"/>
<line x1="395.9" y1="205.6" x2="423.2" y2="187.6" stroke="#d3d3d3" stroke-width="1.9"/>
<line x1="395.9" y1="205.6" x2="398.1" y2="221.7" stroke="#d3d3d3" stroke-width="1.9"/>
<line x1="395.9" y1="205.6" x2="369.3" y2="212.5" stroke="#d3d3d3" stroke-width="1.9"/>
<line x1="395.9" y1="205.6" x2="380.8" y2="193.7" stroke="#d3d3d3" stroke-width="1.9"/>
<line x1="185.4" y1="274.4" x2="210.8" y2="273.1" stroke="#d3d3d3" stroke-width="1.9"/>
<line x1="185.4" y1="274.4" x2="202.0" y2="276.4" stroke="#d3d3d3" stroke-width="1.9"/>
<line x1="185.4" y1="274.4" x2="196.0" y2="314.9" stroke="#d3d3d3" stroke-width="1.9"/>
<line x1="185.4" y1="274.4" x2="193.4" y2="262.0" stroke="#d3d3d3" stroke-width="1.9"/>
<line x1="185.4" y1="274.4" x2="187.3" y2="297.0" stroke="#d3d3d3" stroke-width="1.9"/>
<line x1="185.4" y1="274.4" x2="196.4" y2="227.2" stroke="#d3d3d3" stroke-width="1.9"/>
<line x1="185.4" y1="274.4" x2="184.0" y2="291.5" stroke="#d3d3d3" stroke-width="1.9"/>
<line x1="185.4" y1="274.4" x2="235.7" y2="263.8" stroke="#d3d3d3" stroke-width="1.9"/>
<line x1="185.4" y1="274.4" x2="178.8" y2="243.4" stroke="#d3d3d3" stroke-width="1.9"/>
<line x1="185.4" y1="274.4" x2="184.5" y2="231.1" stroke="#d3d3d3" stroke-width="1.9"/>
<line x1="185.4" y1="274.4" x2="161.6" y2="273.0" stroke="#d3d3d3" stroke-width="1.9"/>
<line x1="185.4" y1="274.4" x2="146.7" y2="268.2" stroke="#d3d3d3" stroke-width="1.9"/>
<line x1="185.4" y1="274.4" x2="168.2" y2="308.6" stroke="#d3d3d3" stroke-width="1.9"/>
<line x1="185.4" y1="274.4" x2="216.4" y2="315.3" stroke="#d3d3d3" stroke-width="1.9"/>
<line x1="185.4" y1="274.4" x2="190.7" y2="295.8" stroke="#d3d3d3" stroke-width="1.9"/>
<line x1="185.4" y1="274.4" x2="234.4" y2="261.9" stroke="#d3d3d3" stroke-width="1.9"/>
<line x1="185.4" y1="274.4" x2="226.6" y2="253.5" stroke="#d3d3d3" stroke-width="1.9"/>
<line x1="185.4" y1="274.4" x2="211.8" y2="237.4" stroke="#d3d3d3" stroke-width="1.9"/>
<line x1="228.0" y1="203.0" x2="219.6" y2="199.3" stroke="#d3d3d3" stroke-width="1.9"/>
<line x1="228.0" y1="203.0" x2="225.0" y2="176.9" stroke="#d3d3d3" stroke-width="1.9"/>
<line x1="228.0" y1="203.0" x2="232.4" y2="195.8" stroke="#d3d3d3" stroke-width="1.9"/>
<line x1="228.0" y1="203.0" x2="250.2" y2="212.0" stroke="#d3d3d3" stroke-width="1.9"/>
<line x1="228.0" y1="203.0" x2="200.5" y2="205.1" stroke="#d3d3d3" stroke-width="1.9"/>
<line x1="228.0" y1="203.0" x2="245.5" y2="202.0" stroke="#d3d3d3" stroke-width="1.9"/>
<line x1="228.0" y1="203.0" x2="217.9" y2="183.0" stroke="#d3d3d3" stroke-width="1.9"/>
<line x1="228.0" y1="203.0" x2="222.5" y2="188.2" stroke="#d3d3d3" stroke-width="1.9"/>
<line x1="228.0" y1="203.0" x2="222.2" y2="196.1" stroke="#d3d3d3" stroke-width="1.9"/>
<line x1="228.0" y1="203.0" x2="247.2" y2="189.0" stroke="#d3d3d3" stroke-width="1.9"/>
<line x1="212.0" y1="233.0" x2="220.7" y2="207.6" stroke="#d3d3d3" stroke-width="1.9"/>
<line x1="212.0" y1="233.0" x2="219.4" y2="258.4" stroke="#d3d3d3" stroke-width="1.9"/>
<line x1="212.0" y1="233.0" x2="199.4" y2="206.0" stroke="#d3d3d3" stroke-width="1.9"/>
<line x1="212.0" y1="233.0" x2="220.8" y2="240.2" stroke="#d3d3d3" stroke-width="1.9"/>
<line x1="212.0" y1="233.0" x2="196.4" y2="244.7" stroke="#d3d3d3" stroke-width="1.9"/>
<line x1="212.0" y1="233.0" x2="214.7" y2="251.5" stroke="#d3d3d3" stroke-width="1.9"/>
<line x1="212.0" y1="233.0" x2="182.0" y2="250.5" stroke="#d3d3d3" stroke-width="1.9"/>
<line x1="212.0" y1="233.0" x2="241.1" y2="215.3" stroke="#d3d3d3" stroke-width="1.9"/>
<line x1="212.0" y1="233.0" x2="252.2" y2="238.3" stroke="#d3d3d3" stroke-width="1.9"/>
<line x1="212.0" y1="233.0" x2="184.1" y2="210.3" stroke="#d3d3d3" stroke-width="1.9"/>
<line x1="212.0" y1="233.0" x2="194.5" y2="217.8" stroke="#d3d3d3" stroke-width="1.9"/>
<line x1="212.0" y1="233.0" x2="204.7" y2="244.6" stroke="#d3d3d3" stroke-width="1.9"/>
<line x1="212.0" y1="233.0" x2="205.3" y2="221.8" stroke="#d3d3d3" stroke-width="1.9"/>
<line x1="212.0" y1="233.0" x2="194.4" y2="194.9" stroke="#d3d3d3" stroke-width="1.9"/>
<line x1="212.0" y1="233.0" x2="196.4" y2="205.4" stroke="#d3d3d3" stroke-width="1.9"/>
<line x1="212.0" y1="233.0" x2="227.6" y2="192.2" stroke="#d3d3d3" stroke-width="1.9"/>
<line x1="212.0" y1="233.0" x2="229.1" y2="191.7" stroke="#d3d3d3" stroke-width="1.9"/>
<line x1="212.0" y1="233.0" x2="200.6" y2="235.9" stroke="#d3d3d3" stroke-width="1.9"/>
<line x1="158.0" y1="212.0" x2="144.8" y2="200.5" stroke="#d3d3d3" stroke-width="1.9"/>
<line x1="158.0" y1="212.0" x2="169.1" y2="199.1" stroke="#d3d3d3" stroke-width="1.9"/>
<line x1="158.0" y1="212.0" x2="154.0" y2="216.6" stroke="#d3d3d3" stroke-width="1.9"/>
<line x1="158.0" y1="212.0" x2="166.4" y2="196.9" stroke="#d3d3d3" stroke-width="1.9"/>
<line x1="158.0" y1="212.0" x2="174.6" y2="210.5" stroke="#d3d3d3" stroke-width="1.9"/>
<line x1="158.0" y1="212.0" x2="170.0" y2="196.1" stroke="#d3d3d3" stroke-width="1.9"/>
<line x1="158.0" y1="212.0" x2="172.3" y2="211.2" stroke="#d3d3d3" stroke-width="1.9"/>
<line x1="225.0" y1="394.9" x2="252.5" y2="374.1" stroke="#d3d3d3" stroke-width="1.9"/>
<line x1="225.0" y1="394.9" x2="256.1" y2="397.1" stroke="#d3d3d3" stroke-width="1.9"/>
<line x1="225.0" y1="394.9" x2="187.8" y2="445.3" stroke="#d3d3d3" stroke-width="1.9"/>
<line x1="225.0" y1="394.9" x2="202.3" y2="412.5" stroke="#d3d3d3" stroke-width="1.9"/>
<line x1="225.0" y1="394.9" x2="217.6" y2="375.9" stroke="#d3d3d3" stroke-width="1.9"/>
<line x1="225.0" y1="394.9" x2="213.2" y2="427.2" stroke="#d3d3d3" stroke-width="1.9"/>
<line x1="225.0" y1="394.9" x2="256.2" y2="425.9" stroke="#d3d3d3" stroke-width="1.9"/>
<line x1="225.0" y1="394.9" x2="177.5" y2="419.9" stroke="#d3d3d3" stroke-width="1.9"/>
<line x1="225.0" y1="394.9" x2="192.0" y2="447.3" stroke="#d3d3d3" stroke-width="1.9"/>
<line x1="225.0" y1="394.9" x2="238.7" y2="433.4" stroke="#d3d3d3" stroke-width="1.9"/>
<line x1="225.0" y1="394.9" x2="227.4" y2="411.1" stroke="#d3d3d3" stroke-width="1.9"/>
<line x1="225.0" y1="394.9" x2="206.5" y2="449.9" stroke="#d3d3d3" stroke-width="1.9"/>
<line x1="225.0" y1="394.9" x2="215.0" y2="432.4" stroke="#d3d3d3" stroke-width="1.9"/>
<line x1="225.0" y1="394.9" x2="197.0" y2="390.6" stroke="#d3d3d3" stroke-width="1.9"/>
<line x1="225.0" y1="394.9" x2="206.6" y2="390.8" stroke="#d3d3d3" stroke-width="1.9"/>
<line x1="225.0" y1="394.9" x2="207.9" y2="418.6" stroke="#d3d3d3" stroke-width="1.9"/>
<line x1="225.0" y1="394.9" x2="245.8" y2="347.1" stroke="#d3d3d3" stroke-width="1.9"/>
<line x1="225.0" y1="394.9" x2="211.7" y2="353.1" stroke="#d3d3d3" stroke-width="1.9"/>
<line x1="225.0" y1="394.9" x2="258.9" y2="357.1" stroke="#d3d3d3" stroke-width="1.9"/>
<line x1="225.0" y1="394.9" x2="245.6" y2="402.4" stroke="#d3d3d3" stroke-width="1.9"/>
<line x1="225.0" y1="394.9" x2="224.3" y2="339.5" stroke="#d3d3d3" stroke-width="1.9"/>
<line x1="225.0" y1="394.9" x2="277.3" y2="391.4" stroke="#d3d3d3" stroke-width="1.9"/>
<line x1="225.0" y1="394.9" x2="248.3" y2="430.5" stroke="#d3d3d3" stroke-width="1.9"/>
<line x1="225.0" y1="394.9" x2="193.5" y2="363.7" stroke="#d3d3d3" stroke-width="1.9"/>
<line x1="225.0" y1="394.9" x2="265.8" y2="440.9" stroke="#d3d3d3" stroke-width="1.9"/>
<line x1="225.0" y1="394.9" x2="196.6" y2="393.0" stroke="#d3d3d3" stroke-width="1.9"/>
<line x1="225.0" y1="394.9" x2="258.7" y2="390.8" stroke="#d3d3d3" stroke-width="1.9"/>
<line x1="225.0" y1="394.9" x2="267.9" y2="415.1" stroke="#d3d3d3" stroke-width="1.9"/>
<line x1="225.0" y1="394.9" x2="223.4" y2="420.9" stroke="#d3d3d3" stroke-width="1.9"/>
<line x1="225.0" y1="394.9" x2="210.6" y2="436.9" stroke="#d3d3d3" stroke-width="1.9"/>
<line x1="225.0" y1="394.9" x2="205.0" y2="437.6" stroke="#d3d3d3" stroke-width="1.9"/>
<line x1="225.0" y1="394.9" x2="276.8" y2="359.8" stroke="#d3d3d3" stroke-width="1.9"/>
<line x1="225.0" y1="394.9" x2="270.4" y2="356.8" stroke="#d3d3d3" stroke-width="1.9"/>
<line x1="225.0" y1="394.9" x2="223.9" y2="449.6" stroke="#d3d3d3" stroke-width="1.9"/>
<line x1="225.0" y1="394.9" x2="261.5" y2="418.0" stroke="#d3d3d3" stroke-width="1.9"/>
<line x1="225.0" y1="394.9" x2="243.2" y2="404.2" stroke="#d3d3d3" stroke-width="1.9"/>
<line x1="225.0" y1="394.9" x2="245.6" y2="388.0" stroke="#d3d3d3" stroke-width="1.9"/>
<line x1="225.0" y1="394.9" x2="216.7" y2="355.1" stroke="#d3d3d3" stroke-width="1.9"/>
<line x1="225.0" y1="394.9" x2="278.2" y2="395.3" stroke="#d3d3d3" stroke-width="1.9"/>
<line x1="225.0" y1="394.9" x2="278.5" y2="416.4" stroke="#d3d3d3" stroke-width="1.9"/>
<line x1="225.0" y1="394.9" x2="241.4" y2="359.3" stroke="#d3d3d3" stroke-width="1.9"/>
<line x1="225.0" y1="394.9" x2="208.9" y2="400.5" stroke="#d3d3d3" stroke-width="1.9"/>
<line x1="225.0" y1="394.9" x2="219.6" y2="378.2" stroke="#d3d3d3" stroke-width="1.9"/>
<line x1="225.0" y1="394.9" x2="166.3" y2="385.2" stroke="#d3d3d3" stroke-width="1.9"/>
<line x1="225.0" y1="394.9" x2="215.7" y2="375.8" stroke="#d3d3d3" stroke-width="1.9"/>
<line x1="225.0" y1="394.9" x2="216.2" y2="346.8" stroke="#d3d3d3" stroke-width="1.9"/>
<line x1="225.0" y1="394.9" x2="200.1" y2="440.8" stroke="#d3d3d3" stroke-width="1.9"/>
<line x1="225.0" y1="394.9" x2="193.9" y2="378.1" stroke="#d3d3d3" stroke-width="1.9"/>
<line x1="225.0" y1="394.9" x2="196.6" y2="390.3" stroke="#d3d3d3" stroke-width="1.9"/>
<line x1="225.0" y1="394.9" x2="211.6" y2="451.1" stroke="#d3d3d3" stroke-width="1.9"/>
<line x1="225.0" y1="394.9" x2="194.5" y2="437.2" stroke="#d3d3d3" stroke-width="1.9"/>
<line x1="225.0" y1="394.9" x2="208.4" y2="413.3" stroke="#d3d3d3" stroke-width="1.9"/>
<line x1="225.0" y1="394.9" x2="286.3" y2="395.4" stroke="#d3d3d3" stroke-width="1.9"/>
<line x1="225.0" y1="394.9" x2="225.6" y2="332.8" stroke="#d3d3d3" stroke-width="1.9"/>
<line x1="225.0" y1="394.9" x2="209.2" y2="385.0" stroke="#d3d3d3" stroke-width="1.9"/>
<line x1="225.0" y1="394.9" x2="234.4" y2="410.4" stroke="#d3d3d3" stroke-width="1.9"/>
<line x1="225.0" y1="394.9" x2="190.6" y2="365.6" stroke="#d3d3d3" stroke-width="1.9"/>
<line x1="225.0" y1="394.9" x2="253.6" y2="386.7" stroke="#d3d3d3" stroke-width="1.9"/>
<line x1="225.0" y1="394.9" x2="227.7" y2="421.0" stroke="#d3d3d3" stroke-width="1.9"/>
<line x1="225.0" y1="394.9" x2="235.3" y2="408.6" stroke="#d3d3d3" stroke-width="1.9"/>
<line x1="225.0" y1="394.9" x2="189.4" y2="396.3" stroke="#d3d3d3" stroke-width="1.9"/>
<line x1="225.0" y1="394.9" x2="184.0" y2="439.7" stroke="#d3d3d3" stroke-width="1.9"/>
<line x1="225.0" y1="394.9" x2="203.6" y2="445.4" stroke="#d3d3d3" stroke-width="1.9"/>
<line x1="300.0" y1="300.0" x2="280.8" y2="296.0" stroke="#d3d3d3" stroke-width="1.9"/>
<line x1="300.0" y1="300.0" x2="341.7" y2="307.8" stroke="#d3d3d3" stroke-width="1.9"/>
<line x1="300.0" y1="300.0" x2="312.2" y2="287.7" stroke="#d3d3d3" stroke-width="1.9"/>
<line x1="300.0" y1="300.0" x2="292.4" y2="275.7" stroke="#d3d3d3" stroke-width="1.9"/>
<line x1="300.0" y1="300.0" x2="279.8" y2="251.6" stroke="#d3d3d3" stroke-width="1.9"/>
<line x1="300.0" y1="300.0" x2="296.3" y2="274.3" stroke="#d3d3d3" stroke-width="1.9"/>
<line x1="300.0" y1="300.0" x2="332.6" y2="348.6" stroke="#d3d3d3" stroke-width="1.9"/>
<line x1="300.0" y1="300.0" x2="348.8" y2="271.4" stroke="#d3d3d3" stroke-width="1.9"/>
<line x1="300.0" y1="300.0" x2="283.3" y2="295.6" stroke="#d3d3d3" stroke-width="1.9"/>
<line x1="300.0" y1="300.0" x2="262.0" y2="341.1" stroke="#d3d3d3" stroke-width="1.9"/>
<line x1="300.0" y1="300.0" x2="325.8" y2="311.6" stroke="#d3d3d3" stroke-width="1.9"/>
<line x1="300.0" y1="300.0" x2="352.7" y2="314.3" stroke="#d3d3d3" stroke-width="1.9"/>
<line x1="300.0" y1="300.0" x2="288.7" y2="314.9" stroke="#d3d3d3" stroke-width="1.9"/>
<line x1="300.0" y1="300.0" x2="285.1" y2="319.0" stroke="#d3d3d3" stroke-width="1.9"/>
<line x1="300.0" y1="300.0" x2="261.0" y2="317.4" stroke="#d3d3d3" stroke-width="1.9"/>
<line x1="300.0" y1="300.0" x2="289.4" y2="283.8" stroke="#d3d3d3" stroke-width="1.9"/>
<line x1="300.0" y1="300.0" x2="282.9" y2="296.2" stroke="#d3d3d3" stroke-width="1.9"/>
<line x1="300.0" y1="300.0" x2="252.1" y2="318.4" stroke="#d3d3d3" stroke-width="1.9"/>
<line x1="300.0" y1="300.0" x2="295.9" y2="351.9" stroke="#d3d3d3" stroke-width="1.9"/>
<line x1="300.0" y1="300.0" x2="301.2" y2="332.7" stroke="#d3d3d3" stroke-width="1.9"/>
<line x1="300.0" y1="300.0" x2="304.0" y2="285.4" stroke="#d3d3d3" stroke-width="1.9"/>
<line x1="300.0" y1="300.0" x2="263.1" y2="287.0" stroke="#d3d3d3" stroke-width="1.9"/>
<line x1="300.0" y1="300.0" x2="287.4" y2="243.7" stroke="#d3d3d3" stroke-width="1.9"/>
<line x1="300.0" y1="300.0" x2="291.4" y2="276.4" stroke="#d3d3d3" stroke-width="1.9"/>
<line x1="300.0" y1="300.0" x2="311.5" y2="334.8" stroke="#d3d3d3" stroke-width="1.9"/>
<line x1="300.0" y1="300.0" x2="292.2" y2="339.1" stroke="#d3d3d3" stroke-width="1.9"/>
<line x1="300.0" y1="300.0" x2="339.1" y2="324.7" stroke="#d3d3d3" stroke-width="1.9"/>
<line x1="300.0" y1="300.0" x2="285.1" y2="308.6" stroke="#d3d3d3" stroke-width="1.9"/>
<line x1="300.0" y1="300.0" x2="341.5" y2="339.2" stroke="#d3d3d3" stroke-width="1.9"/>
<line x1="300.0" y1="300.0" x2="331.9" y2="255.6" stroke="#d3d3d3" stroke-width="1.9"/>
<line x1="300.0" y1="300.0" x2="254.4" y2="337.9" stroke="#d3d3d3" stroke-width="1.9"/>
<line x1="300.0" y1="300.0" x2="323.0" y2="341.8" stroke="#d3d3d3" stroke-width="1.9"/>
<line x1="300.0" y1="300.0" x2="322.8" y2="291.3" stroke="#d3d3d3" stroke-width="1.9"/>
<line x1="300.0" y1="300.0" x2="320.7" y2="300.5" stroke="#d3d3d3" stroke-width="1.9"/>
<line x1="300.0" y1="300.0" x2="344.3" y2="325.6" stroke="#d3d3d3" stroke-width="1.9"/>
<line x1="300.0" y1="300.0" x2="271.4" y2="277.5" stroke="#d3d3d3" stroke-width="1.9"/>
<line x1="270.0" y1="380.0" x2="307.2" y2="412.6" stroke="#d3d3d3" stroke-width="1.9"/>
<line x1="270.0" y1="380.0" x2="285.4" y2="397.9" stroke="#d3d3d3" stroke-width="1.9"/>
<line x1="270.0" y1="380.0" x2="228.9" y2="352.5" stroke="#d3d3d3" stroke-width="1.9"/>
<line x1="270.0" y1="380.0" x2="288.5" y2="324.2" stroke="#d3d3d3" stroke-width="1.9"/>
<line x1="270.0" y1="380.0" x2="291.0" y2="404.5" stroke="#d3d3d3" stroke-width="1.9"/>
<line x1="270.0" y1="380.0" x2="295.8" y2="412.8" stroke="#d3d3d3" stroke-width="1.9"/>
<line x1="270.0" y1="380.0" x2="329.8" y2="390.8" stroke="#d3d3d3" stroke-width="1.9"/>
<line x1="270.0" y1="380.0" x2="245.9" y2="327.4" stroke="#d3d3d3" stroke-width="1.9"/>
<line x1="270.0" y1="380.0" x2="207.1" y2="384.6" stroke="#d3d3d3" stroke-width="1.9"/>
<line x1="270.0" y1="380.0" x2="299.9" y2="329.3" stroke="#d3d3d3" stroke-width="1.9"/>
<line x1="270.0" y1="380.0" x2="279.6" y2="353.9" stroke="#d3d3d3" stroke-width="1.9"/>
<line x1="270.0" y1="380.0" x2="258.9" y2="396.3" stroke="#d3d3d3" stroke-width="1.9"/>
<line x1="270.0" y1="380.0" x2="273.7" y2="339.3" stroke="#d3d3d3" stroke-width="1.9"/>
<line x1="270.0" y1="380.0" x2="301.4" y2="377.3" stroke="#d3d3d3" stroke-width="1.9"/>
<line x1="270.0" y1="380.0" x2="214.9" y2="405.5" stroke="#d3d3d3" stroke-width="1.9"/>
<line x1="270.0" y1="380.0" x2="324.1" y2="369.3" stroke="#d3d3d3" stroke-width="1.9"/>
<line x1="270.0" y1="380.0" x2="317.1" y2="337.2" stroke="#d3d3d3" stroke-width="1.9"/>
<line x1="270.0" y1="380.0" x2="263.5" y2="427.7" stroke="#d3d3d3" stroke-width="1.9"/>
<line x1="270.0" y1="380.0" x2="317.1" y2="399.9" stroke="#d3d3d3" stroke-width="1.9"/>
<line x1="270.0" y1="380.0" x2="310.6" y2="367.5" stroke="#d3d3d3" stroke-width="1.9"/>
<line x1="270.0" y1="380.0" x2="297.8" y2="416.2" stroke="#d3d3d3" stroke-width="1.9"/>
<line x1="270.0" y1="380.0" x2="306.9" y2="396.1" stroke="#d3d3d3" stroke-width="1.9"/>
<line x1="270.0" y1="380.0" x2="303.3" y2="398.3" stroke="#d3d3d3" stroke-width="1.9"/>
<line x1="270.0" y1="380.0" x2="292.5" y2="330.6" stroke="#d3d3d3" stroke-width="1.9"/>
<line x1="270.0" y1="380.0" x2="294.2" y2="348.1" stroke="#d3d3d3" stroke-width="1.9"/>
<line x1="270.0" y1="380.0" x2="251.7" y2="387.1" stroke="#d3d3d3" stroke-width="1.9"/>
<line x1="270.0" y1="380.0" x2="281.1" y2="335.6" stroke="#d3d3d3" stroke-width="1.9"/>
<line x1="270.0" y1="380.0" x2="249.7" y2="393.2" stroke="#d3d3d3" stroke-width="1.9"/>
<line x1="270.0" y1="380.0" x2="250.6" y2="385.2" stroke="#d3d3d3" stroke-width="1.9"/>
<line x1="270.0" y1="380.0" x2="285.2" y2="394.3" stroke="#d3d3d3" stroke-width="1.9"/>
<line x1="270.0" y1="380.0" x2="248.8" y2="390.8" stroke="#d3d3d3" stroke-width="1.9"/>
<line x1="270.0" y1="380.0" x2="292.3" y2="337.8" stroke="#d3d3d3" stroke-width="1.9"/>
<line x1="270.0" y1="380.0" x2="300.1" y2="346.7" stroke="#d3d3d3" stroke-width="1.9"/>
<line x1="270.0" y1="380.0" x2="286.6" y2="406.0" stroke="#d3d3d3" stroke-width="1.9"/>
<line x1="270.0" y1="380.0" x2="294.8" y2="340.7" stroke="#d3d3d3" stroke-width="1.9"/>
<line x1="270.0" y1="380.0" x2="240.3" y2="341.1" stroke="#d3d3d3" stroke-width="1.9"/>
<line x1="420.0" y1="405.0" x2="440.0" y2="411.2" stroke="#d3d3d3" stroke-width="1.9"/>
<line x1="420.0" y1="405.0" x2="377.9" y2="424.3" stroke="#d3d3d3" stroke-width="1.9"/>
<line x1="420.0" y1="405.0" x2="454.1" y2="392.3" stroke="#d3d3d3" stroke-width="1.9"/>
<line x1="420.0" y1="405.0" x2="419.1" y2="419.9" stroke="#d3d3d3" stroke-width="1.9"/>
<line x1="420.0" y1="405.0" x2="392.7" y2="394.4" stroke="#d3d3d3" stroke-width="1.9"/>
<line x1="420.0" y1="405.0" x2="439.3" y2="396.0" stroke="#d3d3d3" stroke-width="1.9"/>
<line x1="420.0" y1="405.0" x2="423.9" y2="418.2" stroke="#d3d3d3" stroke-width="1.9"/>
<line x1="420.0" y1="405.0" x2="464.2" y2="413.1" stroke="#d3d3d3" stroke-width="1.9"/>
<line x1="420.0" y1="405.0" x2="433.2" y2="391.1" stroke="#d3d3d3" stroke-width="1.9"/>
<line x1="420.0" y1="405.0" x2="455.6" y2="408.5" stroke="#d3d3d3" stroke-width="1.9"/>
<line x1="420.0" y1="405.0" x2="420.8" y2="442.3" stroke="#d3d3d3" stroke-width="1.9"/>
<line x1="420.0" y1="405.0" x2="456.2" y2="382.6" stroke="#d3d3d3" stroke-width="1.9"/>
<line x1="420.0" y1="405.0" x2="413.1" y2="441.4" stroke="#d3d3d3" stroke-width="1.9"/>
<line x1="420.0" y1="405.0" x2="409.4" y2="446.7" stroke="#d3d3d3" stroke-width="1.9"/>
<line x1="420.0" y1="405.0" x2="417.6" y2="452.3" stroke="#d3d3d3" stroke-width="1.9"/>
<line x1="420.0" y1="405.0" x2="399.0" y2="361.6" stroke="#d3d3d3" stroke-width="1.9"/>
<line x1="420.0" y1="405.0" x2="391.3" y2="446.8" stroke="#d3d3d3" stroke-width="1.9"/>
<line x1="420.0" y1="405.0" x2="399.8" y2="393.5" stroke="#d3d3d3" stroke-width="1.9"/>
<line x1="420.0" y1="405.0" x2="404.7" y2="384.8" stroke="#d3d3d3" stroke-width="1.9"/>
<line x1="420.0" y1="405.0" x2="431.1" y2="414.6" stroke="#d3d3d3" stroke-width="1.9"/>
<line x1="420.0" y1="405.0" x2="402.6" y2="390.5" stroke="#d3d3d3" stroke-width="1.9"/>
<line x1="420.0" y1="405.0" x2="455.3" y2="430.7" stroke="#d3d3d3" stroke-width="1.9"/>
<line x1="360.0" y1="430.0" x2="390.7" y2="468.1" stroke="#d3d3d3" stroke-width="1.9"/>
<line x1="360.0" y1="430.0" x2="355.5" y2="461.0" stroke="#d3d3d3" stroke-width="1.9"/>
<line x1="360.0" y1="430.0" x2="407.7" y2="408.5" stroke="#d3d3d3" stroke-width="1.9"/>
<line x1="360.0" y1="430.0" x2="390.0" y2="379.0" stroke="#d3d3d3" stroke-width="1.9"/>
<line x1="360.0" y1="430.0" x2="314.6" y2="395.4" stroke="#d3d3d3" stroke-width="1.9"/>
<line x1="360.0" y1="430.0" x2="330.4" y2="401.3" stroke="#d3d3d3" stroke-width="1.9"/>
<line x1="360.0" y1="430.0" x2="345.6" y2="458.7" stroke="#d3d3d3" stroke-width="1.9"/>
<line x1="360.0" y1="430.0" x2="336.4" y2="418.9" stroke="#d3d3d3" stroke-width="1.9"/>
<line x1="360.0" y1="430.0" x2="326.2" y2="388.1" stroke="#d3d3d3" stroke-width="1.9"/>
<line x1="360.0" y1="430.0" x2="355.3" y2="405.3" stroke="#d3d3d3" stroke-width="1.9"/>
<line x1="360.0" y1="430.0" x2="391.0" y2="435.5" stroke="#d3d3d3" stroke-width="1.9"/>
<line x1="360.0" y1="430.0" x2="311.4" y2="451.4" stroke="#d3d3d3" stroke-width="1.9"/>
<line x1="360.0" y1="430.0" x2="323.4" y2="418.8" stroke="#d3d3d3" stroke-width="1.9"/>
<line x1="360.0" y1="430.0" x2="328.6" y2="405.4" stroke="#d3d3d3" stroke-width="1.9"/>
<line x1="360.0" y1="430.0" x2="342.5" y2="393.9" stroke="#d3d3d3" stroke-width="1.9"/>
<line x1="360.0" y1="430.0" x2="335.8" y2="421.7" stroke="#d3d3d3" stroke-width="1.9"/>
<line x1="360.0" y1="430.0" x2="384.8" y2="454.4" stroke="#d3d3d3" stroke-width="1.9"/>
<line x1="360.0" y1="430.0" x2="403.6" y2="392.3" stroke="#d3d3d3" stroke-width="1.9"/>
<line x1="360.0" y1="430.0" x2="349.0" y2="469.4" stroke="#d3d3d3" stroke-width="1.9"/>
<line x1="360.0" y1="430.0" x2="324.8" y2="425.9" stroke="#d3d3d3" stroke-width="1.9"/>
<line x1="360.0" y1="430.0" x2="382.0" y2="475.5" stroke="#d3d3d3" stroke-width="1.9"/>
<line x1="360.0" y1="430.0" x2="381.7" y2="442.9" stroke="#d3d3d3" stroke-width="1.9"/>
<line x1="360.0" y1="430.0" x2="355.7" y2="453.7" stroke="#d3d3d3" stroke-width="1.9"/>
<line x1="360.0" y1="430.0" x2="366.5" y2="447.4" stroke="#d3d3d3" stroke-width="1.9"/>
<line x1="360.0" y1="430.0" x2="337.5" y2="426.7" stroke="#d3d3d3" stroke-width="1.9"/>
<line x1="360.0" y1="430.0" x2="333.8" y2="397.2" stroke="#d3d3d3" stroke-width="1.9"/>
<line x1="360.0" y1="430.0" x2="334.0" y2="404.2" stroke="#d3d3d3" stroke-width="1.9"/>
<line x1="461.7" y1="204.1" x2="450.9" y2="194.9" stroke="#d3d3d3" stroke-width="1.9"/>
<line x1="461.7" y1="204.1" x2="439.3" y2="209.3" stroke="#d3d3d3" stroke-width="1.9"/>
<line x1="461.7" y1="204.1" x2="466.9" y2="227.5" stroke="#d3d3d3" stroke-width="1.9"/>
<line x1="160.0" y1="300.0" x2="122.1" y2="277.4" stroke="#d3d3d3" stroke-width="1.9"/>
<line x1="160.0" y1="300.0" x2="137.8" y2="280.1" stroke="#d3d3d3" stroke-width="1.9"/>
<line x1="160.0" y1="300.0" x2="162.4" y2="279.2" stroke="#d3d3d3" stroke-width="1.9"/>
<line x1="160.0" y1="300.0" x2="142.0" y2="318.6" stroke="#d3d3d3" stroke-width="1.9"/>
<line x1="160.0" y1="300.0" x2="156.6" y2="264.6" stroke="#d3d3d3" stroke-width="1.9"/>
<line x1="160.0" y1="300.0" x2="177.2" y2="339.9" stroke="#d3d3d3" stroke-width="1.9"/>
<line x1="160.0" y1="300.0" x2="187.8" y2="296.9" stroke="#d3d3d3" stroke-width="1.9"/>
<line x1="160.0" y1="300.0" x2="192.2" y2="299.1" stroke="#d3d3d3" stroke-width="1.9"/>
<line x1="160.0" y1="300.0" x2="149.4" y2="309.4" stroke="#d3d3d3" stroke-width="1.9"/>
<line x1="160.0" y1="300.0" x2="191.0" y2="303.4" stroke="#d3d3d3" stroke-width="1.9"/>
<line x1="160.0" y1="300.0" x2="153.7" y2="268.6" stroke="#d3d3d3" stroke-width="1.9"/>
<line x1="160.0" y1="300.0" x2="165.3" y2="274.6" stroke="#d3d3d3" stroke-width="1.9"/>
<line x1="160.0" y1="300.0" x2="158.4" y2="268.4" stroke="#d3d3d3" stroke-width="1.9"/>
<line x1="210.0" y1="440.0" x2="193.5" y2="421.5" stroke="#d3d3d3" stroke-width="1.9"/>
<line x1="210.0" y1="440.0" x2="197.5" y2="418.2" stroke="#d3d3d3" stroke-width="1.9"/>
<line x1="210.0" y1="440.0" x2="233.9" y2="455.3" stroke="#d3d3d3" stroke-width="1.9"/>
<line x1="210.0" y1="440.0" x2="203.9" y2="419.5" stroke="#d3d3d3" stroke-width="1.9"/>
<line x1="210.0" y1="440.0" x2="232.5" y2="435.7" stroke="#d3d3d3" stroke-width="1.9"/>
<line x1="210.0" y1="440.0" x2="221.9" y2="460.6" stroke="#d3d3d3" stroke-width="1.9"/>
<line x1="210.0" y1="440.0" x2="201.2" y2="450.9" stroke="#d3d3d3" stroke-width="1.9"/>
<line x1="210.0" y1="440.0" x2="221.0" y2="430.7" stroke="#d3d3d3" stroke-width="1.9"/>
<line x1="210.0" y1="440.0" x2="206.7" y2="426.2" stroke="#d3d3d3" stroke-width="1.9"/>
<line x1="260.0" y1="500.0" x2="222.8" y2="496.0" stroke="#d3d3d3" stroke-width="1.9"/>
<line x1="260.0" y1="500.0" x2="288.5" y2="517.7" stroke="#d3d3d3" stroke-width="1.9"/>
<line x1="260.0" y1="500.0" x2="296.8" y2="501.4" stroke="#d3d3d3" stroke-width="1.9"/>
<line x1="260.0" y1="500.0" x2="278.5" y2="488.0" stroke="#d3d3d3" stroke-width="1.9"/>
<line x1="260.0" y1="500.0" x2="245.5" y2="483.0" stroke="#d3d3d3" stroke-width="1.9"/>
<line x1="260.0" y1="500.0" x2="270.0" y2="516.6" stroke="#d3d3d3" stroke-width="1.9"/>
<line x1="260.0" y1="500.0" x2="228.5" y2="512.2" stroke="#d3d3d3" stroke-width="1.9"/>
<line x1="260.0" y1="500.0" x2="278.5" y2="516.1" stroke="#d3d3d3" stroke-width="1.9"/>
<line x1="260.0" y1="500.0" x2="235.5" y2="504.4" stroke="#d3d3d3" stroke-width="1.9"/>
<line x1="260.0" y1="500.0" x2="266.9" y2="474.7" stroke="#d3d3d3" stroke-width="1.9"/>
<line x1="300.0" y1="218.0" x2="283.2" y2="251.7" stroke="#d3d3d3" stroke-width="1.9"/>
<line x1="300.0" y1="218.0" x2="285.6" y2="207.7" stroke="#d3d3d3" stroke-width="1.9"/>
<line x1="300.0" y1="218.0" x2="266.4" y2="207.7" stroke="#d3d3d3" stroke-width="1.9"/>
<line x1="300.0" y1="218.0" x2="327.5" y2="226.3" stroke="#d3d3d3" stroke-width="1.9"/>
<line x1="300.0" y1="218.0" x2="281.9" y2="219.4" stroke="#d3d3d3" stroke-width="1.9"/>
<line x1="300.0" y1="218.0" x2="308.9" y2="231.9" stroke="#d3d3d3" stroke-width="1.9"/>
<line x1="300.0" y1="218.0" x2="279.6" y2="226.4" stroke="#d3d3d3" stroke-width="1.9"/>
<line x1="300.0" y1="218.0" x2="285.8" y2="207.5" stroke="#d3d3d3" stroke-width="1.9"/>
<line x1="300.0" y1="218.0" x2="282.8" y2="201.8" stroke="#d3d3d3" stroke-width="1.9"/>
<line x1="300.0" y1="218.0" x2="309.4" y2="186.1" stroke="#d3d3d3" stroke-width="1.9"/>
<line x1="300.0" y1="218.0" x2="303.1" y2="256.2" stroke="#d3d3d3" stroke-width="1.9"/>
<line x1="300.0" y1="218.0" x2="281.3" y2="212.4" stroke="#d3d3d3" stroke-width="1.9"/>
<line x1="300.0" y1="218.0" x2="299.1" y2="248.6" stroke="#d3d3d3" stroke-width="1.9"/>
<line x1="300.0" y1="218.0" x2="272.6" y2="229.5" stroke="#d3d3d3" stroke-width="1.9"/>
<line x1="300.0" y1="218.0" x2="298.7" y2="252.9" stroke="#d3d3d3" stroke-width="1.9"/>
<line x1="300.0" y1="218.0" x2="296.8" y2="253.1" stroke="#d3d3d3" stroke-width="1.9"/>
<line x1="300.0" y1="218.0" x2="280.1" y2="226.1" stroke="#d3d3d3" stroke-width="1.9"/>
<line x1="300.0" y1="218.0" x2="277.9" y2="206.3" stroke="#d3d3d3" stroke-width="1.9"/>
<line x1="340.0" y1="218.0" x2="318.9" y2="211.4" stroke="#d3d3d3" stroke-width="1.9"/>
<line x1="340.0" y1="218.0" x2="365.3" y2="209.8" stroke="#d3d3d3" stroke-width="1.9"/>
<line x1="340.0" y1="218.0" x2="367.3" y2="235.9" stroke="#d3d3d3" stroke-width="1.9"/>
<line x1="340.0" y1="218.0" x2="349.5" y2="218.9" stroke="#d3d3d3" stroke-width="1.9"/>
<line x1="340.0" y1="218.0" x2="346.3" y2="204.3" stroke="#d3d3d3" stroke-width="1.9"/>
<line x1="340.0" y1="218.0" x2="352.4" y2="220.3" stroke="#d3d3d3" stroke-width="1.9"/>
<line x1="340.0" y1="218.0" x2="310.9" y2="218.9" stroke="#d3d3d3" stroke-width="1.9"/>
<line x1="340.0" y1="218.0" x2="352.2" y2="219.5" stroke="#d3d3d3" stroke-width="1.9"/>
<line x1="340.0" y1="218.0" x2="349.5" y2="218.8" stroke="#d3d3d3" stroke-width="1.9"/>
<line x1="340.0" y1="218.0" x2="331.9" y2="236.7" stroke="#d3d3d3" stroke-width="1.9"/>
<line x1="340.0" y1="218.0" x2="363.8" y2="213.2" stroke="#d3d3d3" stroke-width="1.9"/>
<line x1="340.0" y1="218.0" x2="354.0" y2="199.9" stroke="#d3d3d3" stroke-width="1.9"/>
<line x1="340.0" y1="218.0" x2="361.1" y2="204.7" stroke="#d3d3d3" stroke-width="1.9"/>
<line x1="520.0" y1="380.0" x2="520.9" y2="394.3" stroke="#d3d3d3" stroke-width="1.9"/>
<line x1="520.0" y1="380.0" x2="511.1" y2="381.1" stroke="#d3d3d3" stroke-width="1.9"/>
<line x1="520.0" y1="380.0" x2="534.7" y2="372.4" stroke="#d3d3d3" stroke-width="1.9"/>
<line x1="520.0" y1="380.0" x2="525.1" y2="395.9" stroke="#d3d3d3" stroke-width="1.9"/>
<line x1="520.0" y1="380.0" x2="524.2" y2="368.4" stroke="#d3d3d3" stroke-width="1.9"/>
<line x1="520.0" y1="380.0" x2="512.7" y2="375.5" stroke="#d3d3d3" stroke-width="1.9"/>
<line x1="520.0" y1="380.0" x2="520.6" y2="390.5" stroke="#d3d3d3" stroke-width="1.9"/>
<line x1="520.0" y1="380.0" x2="499.3" y2="379.3" stroke="#d3d3d3" stroke-width="1.9"/>
<line x1="520.0" y1="380.0" x2="522.9" y2="400.5" stroke="#d3d3d3" stroke-width="1.9"/>
<line x1="455.0" y1="250.0" x2="428.9" y2="234.3" stroke="#d3d3d3" stroke-width="1.9"/>
<line x1="455.0" y1="250.0" x2="473.7" y2="249.5" stroke="#d3d3d3" stroke-width="1.9"/>
<line x1="455.0" y1="250.0" x2="477.2" y2="249.5" stroke="#d3d3d3" stroke-width="1.9"/>
<line x1="455.0" y1="250.0" x2="440.7" y2="249.1" stroke="#d3d3d3" stroke-width="1.9"/>
<line x1="455.0" y1="250.0" x2="478.7" y2="264.0" stroke="#d3d3d3" stroke-width="1.9"/>
<line x1="455.0" y1="250.0" x2="463.3" y2="256.2" stroke="#d3d3d3" stroke-width="1.9"/>
<line x1="455.0" y1="250.0" x2="476.3" y2="262.4" stroke="#d3d3d3" stroke-width="1.9"/>
<line x1="488.7" y1="254.6" x2="493.2" y2="267.3" stroke="#d3d3d3" stroke-width="1.9"/>
<line x1="488.7" y1="254.6" x2="490.6" y2="237.2" stroke="#d3d3d3" stroke-width="1.9"/>
<line x1="488.7" y1="254.6" x2="502.4" y2="272.8" stroke="#d3d3d3" stroke-width="1.9"/>
<line x1="488.7" y1="254.6" x2="510.2" y2="253.9" stroke="#d3d3d3" stroke-width="1.9"/>
<line x1="488.7" y1="254.6" x2="470.2" y2="261.2" stroke="#d3d3d3" stroke-width="1.9"/>
<line x1="488.7" y1="254.6" x2="481.0" y2="229.4" stroke="#d3d3d3" stroke-width="1.9"/>
<line x1="488.7" y1="254.6" x2="491.6" y2="241.8" stroke="#d3d3d3" stroke-width="1.9"/>
<line x1="488.7" y1="254.6" x2="490.5" y2="244.9" stroke="#d3d3d3" stroke-width="1.9"/>
<line x1="488.7" y1="254.6" x2="501.8" y2="268.3" stroke="#d3d3d3" stroke-width="1.9"/>
<line x1="504.3" y1="253.1" x2="512.3" y2="271.6" stroke="#d3d3d3" stroke-width="1.9"/>
<line x1="504.3" y1="253.1" x2="498.2" y2="281.2" stroke="#d3d3d3" stroke-width="1.9"/>
<line x1="504.3" y1="253.1" x2="480.7" y2="263.6" stroke="#d3d3d3" stroke-width="1.9"/>
<line x1="504.3" y1="253.1" x2="520.9" y2="247.1" stroke="#d3d3d3" stroke-width="1.9"/>
<line x1="504.3" y1="253.1" x2="506.5" y2="234.7" stroke="#d3d3d3" stroke-width="1.9"/>
<line x1="504.3" y1="253.1" x2="496.0" y2="259.2" stroke="#d3d3d3" stroke-width="1.9"/>
<line x1="504.3" y1="253.1" x2="489.0" y2="229.4" stroke="#d3d3d3" stroke-width="1.9"/>
<line x1="504.3" y1="253.1" x2="498.7" y2="239.6" stroke="#d3d3d3" stroke-width="1.9"/>
<line x1="504.3" y1="253.1" x2="489.0" y2="250.7" stroke="#d3d3d3" stroke-width="1.9"/>
<line x1="298.6" y1="300.3" x2="292.1" y2="320.6" stroke="#d3d3d3" stroke-width="1.9"/>
<line x1="298.6" y1="300.3" x2="281.9" y2="304.8" stroke="#d3d3d3" stroke-width="1.9"/>
<line x1="298.6" y1="300.3" x2="304.7" y2="294.7" stroke="#d3d3d3" stroke-width="1.9"/>
<line x1="298.6" y1="300.3" x2="291.7" y2="315.1" stroke="#d3d3d3" stroke-width="1.9"/>
<line x1="298.6" y1="300.3" x2="295.0" y2="284.1" stroke="#d3d3d3" stroke-width="1.9"/>
<line x1="478.4" y1="335.7" x2="466.4" y2="336.3" stroke="#d3d3d3" stroke-width="1.9"/>
<line x1="478.4" y1="335.7" x2="471.6" y2="357.8" stroke="#d3d3d3" stroke-width="1.9"/>
<line x1="478.4" y1="335.7" x2="458.8" y2="338.2" stroke="#d3d3d3" stroke-width="1.9"/>
<line x1="478.4" y1="335.7" x2="488.5" y2="350.7" stroke="#d3d3d3" stroke-width="1.9"/>
<line x1="478.4" y1="335.7" x2="486.9" y2="343.5" stroke="#d3d3d3" stroke-width="1.9"/>
<line x1="461.2" y1="245.4" x2="455.7" y2="251.4" stroke="#d3d3d3" stroke-width="1.9"/>
<line x1="461.2" y1="245.4" x2="459.4" y2="226.9" stroke="#d3d3d3" stroke-width="1.9"/>
<line x1="461.2" y1="245.4" x2="480.7" y2="251.1" stroke="#d3d3d3" stroke-width="1.9"/>
<line x1="461.2" y1="245.4" x2="471.9" y2="250.2" stroke="#d3d3d3" stroke-width="1.9"/>
<line x1="248.4" y1="411.7" x2="265.4" y2="413.6" stroke="#d3d3d3" stroke-width="1.9"/>
<line x1="248.4" y1="411.7" x2="254.8" y2="426.7" stroke="#d3d3d3" stroke-width="1.9"/>
<line x1="248.4" y1="411.7" x2="251.7" y2="431.7" stroke="#d3d3d3" stroke-width="1.9"/>
<line x1="248.4" y1="411.7" x2="243.6" y2="431.8" stroke="#d3d3d3" stroke-width="1.9"/>
<line x1="248.4" y1="411.7" x2="233.7" y2="412.2" stroke="#d3d3d3" stroke-width="1.9"/>
<line x1="248.4" y1="411.7" x2="237.0" y2="398.7" stroke="#d3d3d3" stroke-width="1.9"/>
<line x1="383.1" y1="341.5" x2="400.4" y2="325.2" stroke="#d3d3d3" stroke-width="1.9"/>
<line x1="383.1" y1="341.5" x2="392.6" y2="323.5" stroke="#d3d3d3" stroke-width="1.9"/>
<line x1="383.1" y1="341.5" x2="376.9" y2="325.8" stroke="#d3d3d3" stroke-width="1.9"/>
<line x1="383.1" y1="341.5" x2="383.2" y2="351.1" stroke="#d3d3d3" stroke-width="1.9"/>
<line x1="372.4" y1="380.6" x2="359.8" y2="385.9" stroke="#d3d3d3" stroke-width="1.9"/>
<line x1="372.4" y1="380.6" x2="381.1" y2="374.3" stroke="#d3d3d3" stroke-width="1.9"/>
<line x1="372.4" y1="380.6" x2="379.0" y2="375.9" stroke="#d3d3d3" stroke-width="1.9"/>
<line x1="372.4" y1="380.6" x2="382.4" y2="392.4" stroke="#d3d3d3" stroke-width="1.9"/>
<line x1="372.4" y1="380.6" x2="363.4" y2="380.3" stroke="#d3d3d3" stroke-width="1.9"/>
<line x1="372.4" y1="380.6" x2="352.4" y2="370.5" stroke="#d3d3d3" stroke-width="1.9"/>
<line x1="237.7" y1="244.5" x2="252.6" y2="241.8" stroke="#d3d3d3" stroke-width="1.9"/>
<line x1="237.7" y1="244.5" x2="220.3" y2="250.6" stroke="#d3d3d3" stroke-width="1.9"/>
<line x1="237.7" y1="244.5" x2="229.4" y2="264.1" stroke="#d3d3d3" stroke-width="1.9"/>
<line x1="237.7" y1="244.5" x2="223.0" y2="252.9" stroke="#d3d3d3" stroke-width="1.9"/>
<line x1="237.7" y1="244.5" x2="224.0" y2="242.8" stroke="#d3d3d3" stroke-width="1.9"/>
<line x1="237.7" y1="244.5" x2="250.1" y2="245.3" stroke="#d3d3d3" stroke-width="1.9"/>
<line x1="407.6" y1="306.9" x2="410.7" y2="294.8" stroke="#d3d3d3" stroke-width="1.9"/>
<line x1="407.6" y1="306.9" x2="429.5" y2="309.5" stroke="#d3d3d3" stroke-width="1.9"/>
<line x1="324.9" y1="246.9" x2="307.2" y2="244.3" stroke="#d3d3d3" stroke-width="1.9"/>
<line x1="324.9" y1="246.9" x2="346.3" y2="240.3" stroke="#d3d3d3" stroke-width="1.9"/>
<line x1="324.9" y1="246.9" x2="341.4" y2="235.5" stroke="#d3d3d3" stroke-width="1.9"/>
<line x1="324.9" y1="246.9" x2="327.0" y2="260.1" stroke="#d3d3d3" stroke-width="1.9"/>
<line x1="324.9" y1="246.9" x2="323.7" y2="228.4" stroke="#d3d3d3" stroke-width="1.9"/>
<line x1="324.9" y1="246.9" x2="338.7" y2="240.5" stroke="#d3d3d3" stroke-width="1.9"/>
<line x1="324.9" y1="246.9" x2="327.4" y2="223.3" stroke="#d3d3d3" stroke-width="1.9"/>
<line x1="292.9" y1="379.4" x2="310.9" y2="371.8" stroke="#d3d3d3" stroke-width="1.9"/>
<line x1="292.9" y1="379.4" x2="272.9" y2="370.3" stroke="#d3d3d3" stroke-width="1.9"/>
<line x1="292.9" y1="379.4" x2="298.3" y2="390.9" stroke="#d3d3d3" stroke-width="1.9"/>
<line x1="292.9" y1="379.4" x2="276.2" y2="373.8" stroke="#d3d3d3" stroke-width="1.9"/>
<line x1="292.9" y1="379.4" x2="311.0" y2="374.2" stroke="#d3d3d3" stroke-width="1.9"/>
<line x1="307.2" y1="223.4" x2="318.3" y2="211.4" stroke="#d3d3d3" stroke-width="1.9"/>
<line x1="307.2" y1="223.4" x2="318.8" y2="236.6" stroke="#d3d3d3" stroke-width="1.9"/>
<line x1="307.2" y1="223.4" x2="305.3" y2="240.6" stroke="#d3d3d3" stroke-width="1.9"/>
<line x1="362.2" y1="277.6" x2="369.3" y2="287.3" stroke="#d3d3d3" stroke-width="1.9"/>
<line x1="362.2" y1="277.6" x2="368.4" y2="283.3" stroke="#d3d3d3" stroke-width="1.9"/>
<line x1="362.2" y1="277.6" x2="342.6" y2="274.4" stroke="#d3d3d3" stroke-width="1.9"/>
<line x1="362.2" y1="277.6" x2="343.8" y2="290.5" stroke="#d3d3d3" stroke-width="1.9"/>
<line x1="362.2" y1="277.6" x2="347.8" y2="265.9" stroke="#d3d3d3" stroke-width="1.9"/>
<line x1="454.9" y1="267.4" x2="455.8" y2="290.6" stroke="#d3d3d3" stroke-width="1.9"/>
<line x1="454.9" y1="267.4" x2="450.5" y2="257.5" stroke="#d3d3d3" stroke-width="1.9"/>
<line x1="454.9" y1="267.4" x2="453.7" y2="257.0" stroke="#d3d3d3" stroke-width="1.9"/>
<line x1="454.9" y1="267.4" x2="444.4" y2="276.7" stroke="#d3d3d3" stroke-width="1.9"/>
<line x1="454.9" y1="267.4" x2="447.9" y2="279.3" stroke="#d3d3d3" stroke-width="1.9"/>
<line x1="454.9" y1="267.4" x2="462.6" y2="279.6" stroke="#d3d3d3" stroke-width="1.9"/>
<line x1="454.9" y1="267.4" x2="472.2" y2="278.9" stroke="#d3d3d3" stroke-width="1.9"/>
<line x1="195.6" y1="321.4" x2="209.6" y2="308.2" stroke="#d3d3d3" stroke-width="1.9"/>
<line x1="195.6" y1="321.4" x2="207.8" y2="302.4" stroke="#d3d3d3" stroke-width="1.9"/>
<line x1="195.6" y1="321.4" x2="208.8" y2="315.2" stroke="#d3d3d3" stroke-width="1.9"/>
<line x1="213.5" y1="368.2" x2="202.3" y2="376.3" stroke="#d3d3d3" stroke-width="1.9"/>
<line x1="213.5" y1="368.2" x2="229.0" y2="365.2" stroke="#d3d3d3" stroke-width="1.9"/>
<line x1="213.5" y1="368.2" x2="215.7" y2="360.4" stroke="#d3d3d3" stroke-width="1.9"/>
<line x1="213.5" y1="368.2" x2="212.1" y2="359.5" stroke="#d3d3d3" stroke-width="1.9"/>
<line x1="406.7" y1="216.0" x2="395.9" y2="206.2" stroke="#d3d3d3" stroke-width="1.9"/>
<line x1="406.7" y1="216.0" x2="421.4" y2="211.8" stroke="#d3d3d3" stroke-width="1.9"/>
<line x1="406.7" y1="216.0" x2="405.0" y2="228.8" stroke="#d3d3d3" stroke-width="1.9"/>
<line x1="406.7" y1="216.0" x2="419.8" y2="212.4" stroke="#d3d3d3" stroke-width="1.9"/>
<line x1="406.7" y1="216.0" x2="407.5" y2="232.5" stroke="#d3d3d3" stroke-width="1.9"/>
<line x1="406.7" y1="216.0" x2="395.6" y2="195.8" stroke="#d3d3d3" stroke-width="1.9"/>
<line x1="406.7" y1="216.0" x2="418.4" y2="222.3" stroke="#d3d3d3" stroke-width="1.9"/>
<line x1="484.8" y1="384.6" x2="494.9" y2="369.7" stroke="#d3d3d3" stroke-width="1.9"/>
<line x1="484.8" y1="384.6" x2="475.0" y2="374.5" stroke="#d3d3d3" stroke-width="1.9"/>
<line x1="484.8" y1="384.6" x2="486.3" y2="399.2" stroke="#d3d3d3" stroke-width="1.9"/>
<line x1="484.8" y1="384.6" x2="480.1" y2="371.4" stroke="#d3d3d3" stroke-width="1.9"/>
<line x1="484.8" y1="384.6" x2="476.0" y2="366.5" stroke="#d3d3d3" stroke-width="1.9"/>
<line x1="484.8" y1="384.6" x2="501.1" y2="375.4" stroke="#d3d3d3" stroke-width="1.9"/>
<line x1="484.8" y1="384.6" x2="498.7" y2="377.1" stroke="#d3d3d3" stroke-width="1.9"/>
<line x1="493.8" y1="308.0" x2="497.3" y2="292.3" stroke="#d3d3d3" stroke-width="1.9"/>
<line x1="493.8" y1="308.0" x2="480.0" y2="305.9" stroke="#d3d3d3" stroke-width="1.9"/>
<line x1="493.8" y1="308.0" x2="514.6" y2="311.6" stroke="#d3d3d3" stroke-width="1.9"/>
<line x1="493.8" y1="308.0" x2="477.5" y2="321.6" stroke="#d3d3d3" stroke-width="1.9"/>
<line x1="493.8" y1="308.0" x2="505.5" y2="317.2" stroke="#d3d3d3" stroke-width="1.9"/>
<line x1="517.7" y1="303.7" x2="534.4" y2="303.7" stroke="#d3d3d3" stroke-width="1.9"/>
<line x1="517.7" y1="303.7" x2="515.8" y2="286.2" stroke="#d3d3d3" stroke-width="1.9"/>
<line x1="517.7" y1="303.7" x2="507.1" y2="305.2" stroke="#d3d3d3" stroke-width="1.9"/>
<line x1="517.7" y1="303.7" x2="508.3" y2="292.0" stroke="#d3d3d3" stroke-width="1.9"/>
<line x1="362.1" y1="364.7" x2="366.2" y2="351.0" stroke="#d3d3d3" stroke-width="1.9"/>
<line x1="362.1" y1="364.7" x2="356.9" y2="375.3" stroke="#d3d3d3" stroke-width="1.9"/>
<line x1="497.6" y1="266.9" x2="506.5" y2="267.0" stroke="#d3d3d3" stroke-width="1.9"/>
<line x1="497.6" y1="266.9" x2="520.3" y2="272.3" stroke="#d3d3d3" stroke-width="1.9"/>
<line x1="497.6" y1="266.9" x2="509.6" y2="255.4" stroke="#d3d3d3" stroke-width="1.9"/>
<line x1="497.6" y1="266.9" x2="513.1" y2="260.9" stroke="#d3d3d3" stroke-width="1.9"/>
<line x1="497.6" y1="266.9" x2="493.5" y2="258.1" stroke="#d3d3d3" stroke-width="1.9"/>
<line x1="340.6" y1="320.5" x2="353.0" y2="311.8" stroke="#d3d3d3" stroke-width="1.9"/>
<line x1="340.6" y1="320.5" x2="331.0" y2="301.5" stroke="#d3d3d3" stroke-width="1.9"/>
<line x1="340.6" y1="320.5" x2="328.9" y2="321.2" stroke="#d3d3d3" stroke-width="1.9"/>
<line x1="340.6" y1="320.5" x2="350.6" y2="304.0" stroke="#d3d3d3" stroke-width="1.9"/>
<line x1="340.6" y1="320.5" x2="339.5" y2="302.5" stroke="#d3d3d3" stroke-width="1.9"/>
<line x1="340.6" y1="320.5" x2="363.8" y2="316.8" stroke="#d3d3d3" stroke-width="1.9"/>
<line x1="340.6" y1="320.5" x2="342.2" y2="307.3" stroke="#d3d3d3" stroke-width="1.9"/>
<line x1="485.6" y1="337.3" x2="469.7" y2="349.6" stroke="#d3d3d3" stroke-width="1.9"/>
<line x1="485.6" y1="337.3" x2="500.9" y2="339.8" stroke="#d3d3d3" stroke-width="1.9"/>
<line x1="485.6" y1="337.3" x2="483.3" y2="354.1" stroke="#d3d3d3" stroke-width="1.9"/>
<line x1="485.6" y1="337.3" x2="483.2" y2="315.7" stroke="#d3d3d3" stroke-width="1.9"/>
<line x1="485.6" y1="337.3" x2="466.5" y2="336.5" stroke="#d3d3d3" stroke-width="1.9"/>
<line x1="393.0" y1="246.5" x2="395.7" y2="234.2" stroke="#d3d3d3" stroke-width="1.9"/>
<line x1="393.0" y1="246.5" x2="414.3" y2="253.2" stroke="#d3d3d3" stroke-width="1.9"/>
<line x1="393.0" y1="246.5" x2="383.9" y2="267.2" stroke="#d3d3d3" stroke-width="1.9"/>
<line x1="393.0" y1="246.5" x2="369.7" y2="246.6" stroke="#d3d3d3" stroke-width="1.9"/>
<line x1="393.0" y1="246.5" x2="403.7" y2="230.4" stroke="#d3d3d3" stroke-width="1.9"/>
<line x1="393.0" y1="246.5" x2="375.2" y2="261.2" stroke="#d3d3d3" stroke-width="1.9"/>
<line x1="365.4" y1="343.2" x2="355.1" y2="345.8" stroke="#d3d3d3" stroke-width="1.9"/>
<line x1="365.4" y1="343.2" x2="364.3" y2="354.1" stroke="#d3d3d3" stroke-width="1.9"/>
<line x1="365.4" y1="343.2" x2="369.7" y2="350.7" stroke="#d3d3d3" stroke-width="1.9"/>
<line x1="343.3" y1="362.6" x2="329.8" y2="369.7" stroke="#d3d3d3" stroke-width="1.9"/>
<line x1="343.3" y1="362.6" x2="359.8" y2="354.5" stroke="#d3d3d3" stroke-width="1.9"/>
<line x1="343.3" y1="362.6" x2="323.8" y2="366.8" stroke="#d3d3d3" stroke-width="1.9"/>
<line x1="343.3" y1="362.6" x2="342.5" y2="349.7" stroke="#d3d3d3" stroke-width="1.9"/>
<line x1="343.3" y1="362.6" x2="361.2" y2="370.9" stroke="#d3d3d3" stroke-width="1.9"/>
<line x1="343.3" y1="362.6" x2="343.1" y2="345.0" stroke="#d3d3d3" stroke-width="1.9"/>
<line x1="343.3" y1="362.6" x2="358.1" y2="375.9" stroke="#d3d3d3" stroke-width="1.9"/>
<line x1="249.9" y1="281.1" x2="250.2" y2="257.3" stroke="#d3d3d3" stroke-width="1.9"/>
<line x1="249.9" y1="281.1" x2="247.6" y2="264.2" stroke="#d3d3d3" stroke-width="1.9"/>
<line x1="249.9" y1="281.1" x2="240.2" y2="270.8" stroke="#d3d3d3" stroke-width="1.9"/>
<line x1="249.9" y1="281.1" x2="263.5" y2="294.3" stroke="#d3d3d3" stroke-width="1.9"/>
<line x1="249.9" y1="281.1" x2="246.1" y2="269.6" stroke="#d3d3d3" stroke-width="1.9"/>
<line x1="249.9" y1="281.1" x2="252.5" y2="259.4" stroke="#d3d3d3" stroke-width="1.9"/>
<line x1="249.9" y1="281.1" x2="234.2" y2="294.9" stroke="#d3d3d3" stroke-width="1.9"/>
<line x1="284.0" y1="341.6" x2="305.3" y2="338.8" stroke="#d3d3d3" stroke-width="1.9"/>
<line x1="284.0" y1="341.6" x2="283.1" y2="327.7" stroke="#d3d3d3" stroke-width="1.9"/>
<line x1="284.0" y1="341.6" x2="286.6" y2="356.4" stroke="#d3d3d3" stroke-width="1.9"/>
<line x1="284.0" y1="341.6" x2="292.3" y2="354.5" stroke="#d3d3d3" stroke-width="1.9"/>
<line x1="372.9" y1="206.2" x2="355.1" y2="197.2" stroke="#d3d3d3" stroke-width="1.9"/>
<line x1="372.9" y1="206.2" x2="353.1" y2="197.7" stroke="#d3d3d3" stroke-width="1.9"/>
<line x1="383.4" y1="300.3" x2="366.2" y2="306.4" stroke="#d3d3d3" stroke-width="1.9"/>
<line x1="383.4" y1="300.3" x2="387.5" y2="283.4" stroke="#d3d3d3" stroke-width="1.9"/>
<line x1="383.4" y1="300.3" x2="394.9" y2="295.8" stroke="#d3d3d3" stroke-width="1.9"/>
<line x1="383.4" y1="300.3" x2="401.0" y2="287.0" stroke="#d3d3d3" stroke-width="1.9"/>
<line x1="383.4" y1="300.3" x2="378.6" y2="307.3" stroke="#d3d3d3" stroke-width="1.9"/>
<line x1="291.0" y1="398.0" x2="306.4" y2="392.2" stroke="#d3d3d3" stroke-width="1.9"/>
<line x1="291.0" y1="398.0" x2="295.5" y2="421.4" stroke="#d3d3d3" stroke-width="1.9"/>
<line x1="291.0" y1="398.0" x2="285.2" y2="375.4" stroke="#d3d3d3" stroke-width="1.9"/>
<line x1="291.0" y1="398.0" x2="305.1" y2="379.2" stroke="#d3d3d3" stroke-width="1.9"/>
<line x1="291.0" y1="398.0" x2="301.9" y2="391.6" stroke="#d3d3d3" stroke-width="1.9"/>
<line x1="291.0" y1="398.0" x2="311.1" y2="409.5" stroke="#d3d3d3" stroke-width="1.9"/>
<line x1="293.4" y1="496.6" x2="295.4" y2="487.8" stroke="#d3d3d3" stroke-width="1.9"/>
<line x1="293.4" y1="496.6" x2="290.4" y2="511.7" stroke="#d3d3d3" stroke-width="1.9"/>
<line x1="293.4" y1="496.6" x2="287.2" y2="516.9" stroke="#d3d3d3" stroke-width="1.9"/>
<line x1="260.7" y1="272.6" x2="264.9" y2="290.4" stroke="#d3d3d3" stroke-width="1.9"/>
<line x1="260.7" y1="272.6" x2="248.1" y2="261.7" stroke="#d3d3d3" stroke-width="1.9"/>
<line x1="284.5" y1="521.9" x2="280.6" y2="532.8" stroke="#d3d3d3" stroke-width="1.9"/>
<line x1="284.5" y1="521.9" x2="293.3" y2="535.0" stroke="#d3d3d3" stroke-width="1.9"/>
<line x1="239.3" y1="333.7" x2="244.5" y2="347.7" stroke="#d3d3d3" stroke-width="1.9"/>
<line x1="239.3" y1="333.7" x2="222.6" y2="350.5" stroke="#d3d3d3" stroke-width="1.9"/>
<line x1="239.3" y1="333.7" x2="254.2" y2="327.7" stroke="#d3d3d3" stroke-width="1.9"/>
<line x1="239.3" y1="333.7" x2="226.4" y2="346.4" stroke="#d3d3d3" stroke-width="1.9"/>
<line x1="298.2" y1="365.0" x2="290.5" y2="374.5" stroke="#d3d3d3" stroke-width="1.9"/>
<line x1="298.2" y1="365.0" x2="291.2" y2="357.8" stroke="#d3d3d3" stroke-width="1.9"/>
<line x1="298.2" y1="365.0" x2="302.4" y2="373.5" stroke="#d3d3d3" stroke-width="1.9"/>
<line x1="298.2" y1="365.0" x2="289.9" y2="353.5" stroke="#d3d3d3" stroke-width="1.9"/>
<line x1="300.3" y1="476.6" x2="283.5" y2="493.5" stroke="#d3d3d3" stroke-width="1.9"/>
<line x1="300.3" y1="476.6" x2="301.0" y2="490.7" stroke="#d3d3d3" stroke-width="1.9"/>
<line x1="300.3" y1="476.6" x2="292.7" y2="492.0" stroke="#d3d3d3" stroke-width="1.9"/>
<line x1="300.3" y1="476.6" x2="288.6" y2="482.0" stroke="#d3d3d3" stroke-width="1.9"/>
<line x1="170.6" y1="392.4" x2="167.9" y2="400.9" stroke="#d3d3d3" stroke-width="1.9"/>
<line x1="170.6" y1="392.4" x2="165.6" y2="415.0" stroke="#d3d3d3" stroke-width="1.9"/>
<line x1="264.8" y1="530.9" x2="273.0" y2="535.3" stroke="#d3d3d3" stroke-width="1.9"/>
<line x1="264.8" y1="530.9" x2="270.3" y2="508.5" stroke="#d3d3d3" stroke-width="1.9"/>
<line x1="264.8" y1="530.9" x2="279.0" y2="522.6" stroke="#d3d3d3" stroke-width="1.9"/>
<line x1="264.8" y1="530.9" x2="281.9" y2="542.0" stroke="#d3d3d3" stroke-width="1.9"/>
<line x1="264.8" y1="530.9" x2="244.3" y2="530.0" stroke="#d3d3d3" stroke-width="1.9"/>
<line x1="264.8" y1="530.9" x2="253.4" y2="518.1" stroke="#d3d3d3" stroke-width="1.9"/>
<line x1="264.8" y1="530.9" x2="269.7" y2="539.9" stroke="#d3d3d3" stroke-width="1.9"/>
<line x1="381.6" y1="214.4" x2="400.8" y2="220.5" stroke="#d3d3d3" stroke-width="1.9"/>
<line x1="381.6" y1="214.4" x2="388.7" y2="221.0" stroke="#d3d3d3" stroke-width="1.9"/>
<line x1="381.6" y1="214.4" x2="391.8" y2="209.1" stroke="#d3d3d3" stroke-width="1.9"/>
<line x1="381.6" y1="214.4" x2="367.3" y2="204.7" stroke="#d3d3d3" stroke-width="1.9"/>
<line x1="381.6" y1="214.4" x2="370.6" y2="222.5" stroke="#d3d3d3" stroke-width="1.9"/>
<line x1="381.6" y1="214.4" x2="393.8" y2="229.2" stroke="#d3d3d3" stroke-width="1.9"/>
<line x1="240.0" y1="340.9" x2="255.5" y2="350.1" stroke="#d3d3d3" stroke-width="1.9"/>
<line x1="240.0" y1="340.9" x2="256.3" y2="347.2" stroke="#d3d3d3" stroke-width="1.9"/>
<line x1="329.3" y1="307.2" x2="320.2" y2="306.4" stroke="#d3d3d3" stroke-width="1.9"/>
<line x1="329.3" y1="307.2" x2="339.8" y2="319.5" stroke="#d3d3d3" stroke-width="1.9"/>
<line x1="329.3" y1="307.2" x2="318.2" y2="304.5" stroke="#d3d3d3" stroke-width="1.9"/>
<line x1="329.3" y1="307.2" x2="318.1" y2="300.7" stroke="#d3d3d3" stroke-width="1.9"/>
<line x1="329.3" y1="307.2" x2="326.7" y2="298.8" stroke="#d3d3d3" stroke-width="1.9"/>
<line x1="329.3" y1="307.2" x2="337.6" y2="294.5" stroke="#d3d3d3" stroke-width="1.9"/>
<line x1="329.3" y1="307.2" x2="335.2" y2="318.4" stroke="#d3d3d3" stroke-width="1.9"/>
<line x1="314.8" y1="395.6" x2="307.1" y2="373.7" stroke="#d3d3d3" stroke-width="1.9"/>
<line x1="314.8" y1="395.6" x2="307.6" y2="387.3" stroke="#d3d3d3" stroke-width="1.9"/>
<line x1="314.8" y1="395.6" x2="302.7" y2="385.5" stroke="#d3d3d3" stroke-width="1.9"/>
<line x1="272.7" y1="481.5" x2="276.1" y2="498.8" stroke="#d3d3d3" stroke-width="1.9"/>
<line x1="272.7" y1="481.5" x2="273.3" y2="489.9" stroke="#d3d3d3" stroke-width="1.9"/>
<line x1="272.7" y1="481.5" x2="265.2" y2="460.9" stroke="#d3d3d3" stroke-width="1.9"/>
<line x1="272.7" y1="481.5" x2="280.2" y2="461.2" stroke="#d3d3d3" stroke-width="1.9"/>
<line x1="272.7" y1="481.5" x2="275.7" y2="494.1" stroke="#d3d3d3" stroke-width="1.9"/>
<line x1="272.7" y1="481.5" x2="258.3" y2="471.0" stroke="#d3d3d3" stroke-width="1.9"/>
<line x1="337.7" y1="361.7" x2="325.6" y2="362.8" stroke="#d3d3d3" stroke-width="1.9"/>
<line x1="337.7" y1="361.7" x2="334.3" y2="376.8" stroke="#d3d3d3" stroke-width="1.9"/>
<line x1="337.7" y1="361.7" x2="331.4" y2="353.5" stroke="#d3d3d3" stroke-width="1.9"/>
<line x1="432.6" y1="275.2" x2="446.7" y2="275.7" stroke="#d3d3d3" stroke-width="1.9"/>
<line x1="432.6" y1="275.2" x2="424.3" y2="285.1" stroke="#d3d3d3" stroke-width="1.9"/>
<line x1="432.6" y1="275.2" x2="443.4" y2="280.1" stroke="#d3d3d3" stroke-width="1.9"/>
<line x1="432.6" y1="275.2" x2="447.7" y2="276.8" stroke="#d3d3d3" stroke-width="1.9"/>
<line x1="432.6" y1="275.2" x2="420.9" y2="276.5" stroke="#d3d3d3" stroke-width="1.9"/>
<line x1="432.6" y1="275.2" x2="452.3" y2="265.0" stroke="#d3d3d3" stroke-width="1.9"/>
<line x1="450.1" y1="317.7" x2="452.5" y2="304.2" stroke="#d3d3d3" stroke-width="1.9"/>
<line x1="450.1" y1="317.7" x2="449.3" y2="304.1" stroke="#d3d3d3" stroke-width="1.9"/>
<line x1="450.1" y1="317.7" x2="456.9" y2="330.7" stroke="#d3d3d3" stroke-width="1.9"/>
<line x1="450.1" y1="317.7" x2="464.8" y2="330.4" stroke="#d3d3d3" stroke-width="1.9"/>
<line x1="384.9" y1="290.4" x2="375.1" y2="288.9" stroke="#d3d3d3" stroke-width="1.9"/>
<line x1="384.9" y1="290.4" x2="374.1" y2="301.6" stroke="#d3d3d3" stroke-width="1.9"/>
<line x1="384.9" y1="290.4" x2="400.4" y2="291.5" stroke="#d3d3d3" stroke-width="1.9"/>
<line x1="384.9" y1="290.4" x2="398.2" y2="274.2" stroke="#d3d3d3" stroke-width="1.9"/>
<line x1="384.9" y1="290.4" x2="398.6" y2="283.6" stroke="#d3d3d3" stroke-width="1.9"/>
<line x1="384.9" y1="290.4" x2="373.9" y2="302.7" stroke="#d3d3d3" stroke-width="1.9"/>
<line x1="313.1" y1="278.9" x2="309.0" y2="261.1" stroke="#d3d3d3" stroke-width="1.9"/>
<line x1="313.1" y1="278.9" x2="324.4" y2="279.0" stroke="#d3d3d3" stroke-width="1.9"/>
<line x1="313.1" y1="278.9" x2="302.6" y2="269.1" stroke="#d3d3d3" stroke-width="1.9"/>
<line x1="383.5" y1="355.6" x2="373.2" y2="364.0" stroke="#d3d3d3" stroke-width="1.9"/>
<line x1="383.5" y1="355.6" x2="368.9" y2="351.7" stroke="#d3d3d3" stroke-width="1.9"/>
<line x1="383.5" y1="355.6" x2="388.5" y2="346.2" stroke="#d3d3d3" stroke-width="1.9"/>
<line x1="383.5" y1="355.6" x2="375.0" y2="346.8" stroke="#d3d3d3" stroke-width="1.9"/>
<line x1="383.5" y1="355.6" x2="375.3" y2="334.3" stroke="#d3d3d3" stroke-width="1.9"/>
<line x1="383.5" y1="355.6" x2="382.1" y2="377.1" stroke="#d3d3d3" stroke-width="1.9"/>
<line x1="383.5" y1="355.6" x2="360.7" y2="359.5" stroke="#d3d3d3" stroke-width="1.9"/>
<line x1="309.4" y1="451.9" x2="318.9" y2="431.2" stroke="#d3d3d3" stroke-width="1.9"/>
<line x1="309.4" y1="451.9" x2="311.7" y2="467.5" stroke="#d3d3d3" stroke-width="1.9"/>
<line x1="309.4" y1="451.9" x2="324.4" y2="439.4" stroke="#d3d3d3" stroke-width="1.9"/>
<line x1="309.4" y1="451.9" x2="290.3" y2="440.3" stroke="#d3d3d3" stroke-width="1.9"/>
<line x1="309.4" y1="451.9" x2="317.8" y2="447.5" stroke="#d3d3d3" stroke-width="1.9"/>
<line x1="374.6" y1="480.7" x2="371.1" y2="493.1" stroke="#d3d3d3" stroke-width="1.9"/>
<line x1="374.6" y1="480.7" x2="391.7" y2="469.1" stroke="#d3d3d3" stroke-width="1.9"/>
<line x1="374.6" y1="480.7" x2="384.0" y2="479.3" stroke="#d3d3d3" stroke-width="1.9"/>
<line x1="374.6" y1="480.7" x2="360.7" y2="466.6" stroke="#d3d3d3" stroke-width="1.9"/>
<line x1="374.6" y1="480.7" x2="393.4" y2="475.4" stroke="#d3d3d3" stroke-width="1.9"/>
<line x1="415.0" y1="258.7" x2="407.4" y2="242.6" stroke="#d3d3d3" stroke-width="1.9"/>
<line x1="415.0" y1="258.7" x2="408.9" y2="265.2" stroke="#d3d3d3" stroke-width="1.9"/>
<line x1="415.0" y1="258.7" x2="403.4" y2="268.7" stroke="#d3d3d3" stroke-width="1.9"/>
<line x1="415.0" y1="258.7" x2="420.2" y2="279.9" stroke="#d3d3d3" stroke-width="1.9"/>
<line x1="273.7" y1="204.1" x2="276.8" y2="196.3" stroke="#d3d3d3" stroke-width="1.9"/>
<line x1="273.7" y1="204.1" x2="287.9" y2="189.5" stroke="#d3d3d3" stroke-width="1.9"/>
<line x1="273.7" y1="204.1" x2="272.5" y2="190.7" stroke="#d3d3d3" stroke-width="1.9"/>
<line x1="273.7" y1="204.1" x2="250.6" y2="205.3" stroke="#d3d3d3" stroke-width="1.9"/>
<line x1="273.7" y1="204.1" x2="282.3" y2="207.6" stroke="#d3d3d3" stroke-width="1.9"/>
<line x1="273.7" y1="204.1" x2="258.9" y2="186.2" stroke="#d3d3d3" stroke-width="1.9"/>
<line x1="273.7" y1="204.1" x2="280.2" y2="213.0" stroke="#d3d3d3" stroke-width="1.9"/>
<line x1="399.4" y1="328.2" x2="382.3" y2="324.1" stroke="#d3d3d3" stroke-width="1.9"/>
<line x1="399.4" y1="328.2" x2="411.0" y2="334.5" stroke="#d3d3d3" stroke-width="1.9"/>
<line x1="399.4" y1="328.2" x2="391.0" y2="307.8" stroke="#d3d3d3" stroke-width="1.9"/>
<line x1="399.4" y1="328.2" x2="409.6" y2="332.3" stroke="#d3d3d3" stroke-width="1.9"/>
<line x1="399.4" y1="328.2" x2="414.8" y2="320.5" stroke="#d3d3d3" stroke-width="1.9"/>
<line x1="399.4" y1="328.2" x2="392.5" y2="324.0" stroke="#d3d3d3" stroke-width="1.9"/>
<line x1="399.4" y1="328.2" x2="418.7" y2="336.9" stroke="#d3d3d3" stroke-width="1.9"/>
<line x1="309.8" y1="375.7" x2="295.6" y2="391.9" stroke="#d3d3d3" stroke-width="1.9"/>
<line x1="309.8" y1="375.7" x2="295.3" y2="365.4" stroke="#d3d3d3" stroke-width="1.9"/>
<line x1="309.8" y1="375.7" x2="329.8" y2="363.8" stroke="#d3d3d3" stroke-width="1.9"/>
<line x1="309.8" y1="375.7" x2="319.6" y2="387.1" stroke="#d3d3d3" stroke-width="1.9"/>
<line x1="309.8" y1="375.7" x2="324.4" y2="384.4" stroke="#d3d3d3" stroke-width="1.9"/>
<line x1="309.8" y1="375.7" x2="312.9" y2="394.7" stroke="#d3d3d3" stroke-width="1.9"/>
<line x1="309.8" y1="375.7" x2="304.8" y2="382.1" stroke="#d3d3d3" stroke-width="1.9"/>
<line x1="466.3" y1="413.4" x2="456.7" y2="415.1" stroke="#d3d3d3" stroke-width="1.9"/>
<line x1="466.3" y1="413.4" x2="459.0" y2="390.7" stroke="#d3d3d3" stroke-width="1.9"/>
<line x1="466.3" y1="413.4" x2="480.8" y2="412.9" stroke="#d3d3d3" stroke-width="1.9"/>
<line x1="466.3" y1="413.4" x2="480.9" y2="421.0" stroke="#d3d3d3" stroke-width="1.9"/>
<line x1="466.3" y1="413.4" x2="487.4" y2="421.1" stroke="#d3d3d3" stroke-width="1.9"/>
<line x1="466.3" y1="413.4" x2="451.4" y2="411.0" stroke="#d3d3d3" stroke-width="1.9"/>
<line x1="380.0" y1="438.0" x2="385.0" y2="457.1" stroke="#d3d3d3" stroke-width="1.9"/>
<line x1="380.0" y1="438.0" x2="372.3" y2="446.4" stroke="#d3d3d3" stroke-width="1.9"/>
<line x1="380.0" y1="438.0" x2="385.2" y2="451.7" stroke="#d3d3d3" stroke-width="1.9"/>
<line x1="380.0" y1="438.0" x2="387.8" y2="425.1" stroke="#d3d3d3" stroke-width="1.9"/>
<line x1="380.0" y1="438.0" x2="386.0" y2="423.7" stroke="#d3d3d3" stroke-width="1.9"/>
<line x1="380.0" y1="438.0" x2="369.5" y2="432.1" stroke="#d3d3d3" stroke-width="1.9"/>
<line x1="296.2" y1="304.2" x2="298.6" y2="313.6" stroke="#d3d3d3" stroke-width="1.9"/>
<line x1="296.2" y1="304.2" x2="304.5" y2="305.7" stroke="#d3d3d3" stroke-width="1.9"/>
<line x1="296.2" y1="304.2" x2="288.4" y2="316.0" stroke="#d3d3d3" stroke-width="1.9"/>
<line x1="296.2" y1="304.2" x2="300.5" y2="325.5" stroke="#d3d3d3" stroke-width="1.9"/>
<line x1="296.2" y1="304.2" x2="287.6" y2="286.0" stroke="#d3d3d3" stroke-width="1.9"/>
<line x1="206.1" y1="250.5" x2="211.0" y2="262.6" stroke="#d3d3d3" stroke-width="1.9"/>
<line x1="206.1" y1="250.5" x2="184.7" y2="249.4" stroke="#d3d3d3" stroke-width="1.9"/>
<line x1="353.0" y1="400.9" x2="363.1" y2="396.6" stroke="#d3d3d3" stroke-width="1.9"/>
<line x1="353.0" y1="400.9" x2="346.9" y2="412.5" stroke="#d3d3d3" stroke-width="1.9"/>
<line x1="260.7" y1="378.5" x2="256.2" y2="388.3" stroke="#d3d3d3" stroke-width="1.9"/>
<line x1="260.7" y1="378.5" x2="266.4" y2="370.5" stroke="#d3d3d3" stroke-width="1.9"/>
<line x1="260.7" y1="378.5" x2="250.0" y2="382.8" stroke="#d3d3d3" stroke-width="1.9"/>
<line x1="260.7" y1="378.5" x2="261.3" y2="402.4" stroke="#d3d3d3" stroke-width="1.9"/>
<line x1="260.7" y1="378.5" x2="256.3" y2="359.2" stroke="#d3d3d3" stroke-width="1.9"/>
<line x1="258.9" y1="348.3" x2="259.4" y2="331.8" stroke="#d3d3d3" stroke-width="1.9"/>
<line x1="258.9" y1="348.3" x2="250.8" y2="353.8" stroke="#d3d3d3" stroke-width="1.9"/>
<line x1="258.9" y1="348.3" x2="256.9" y2="359.0" stroke="#d3d3d3" stroke-width="1.9"/>
<line x1="258.9" y1="348.3" x2="247.6" y2="336.4" stroke="#d3d3d3" stroke-width="1.9"/>
<line x1="258.9" y1="348.3" x2="266.9" y2="350.3" stroke="#d3d3d3" stroke-width="1.9"/>
<line x1="258.9" y1="348.3" x2="277.6" y2="360.3" stroke="#d3d3d3" stroke-width="1.9"/>
<line x1="258.9" y1="348.3" x2="245.9" y2="328.5" stroke="#d3d3d3" stroke-width="1.9"/>
<line x1="375.0" y1="383.2" x2="368.9" y2="402.7" stroke="#d3d3d3" stroke-width="1.9"/>
<line x1="375.0" y1="383.2" x2="359.6" y2="379.3" stroke="#d3d3d3" stroke-width="1.9"/>
<line x1="375.0" y1="383.2" x2="352.6" y2="379.5" stroke="#d3d3d3" stroke-width="1.9"/>
<line x1="375.0" y1="383.2" x2="382.3" y2="370.9" stroke="#d3d3d3" stroke-width="1.9"/>
<line x1="375.0" y1="383.2" x2="381.5" y2="374.6" stroke="#d3d3d3" stroke-width="1.9"/>
<line x1="375.0" y1="383.2" x2="367.3" y2="393.9" stroke="#d3d3d3" stroke-width="1.9"/>
<line x1="375.0" y1="383.2" x2="388.8" y2="387.4" stroke="#d3d3d3" stroke-width="1.9"/>
<line x1="158.4" y1="240.9" x2="174.3" y2="258.3" stroke="#d3d3d3" stroke-width="1.9"/>
<line x1="158.4" y1="240.9" x2="160.5" y2="219.1" stroke="#d3d3d3" stroke-width="1.9"/>
<line x1="158.4" y1="240.9" x2="169.8" y2="231.9" stroke="#d3d3d3" stroke-width="1.9"/>
<line x1="158.4" y1="240.9" x2="175.9" y2="236.6" stroke="#d3d3d3" stroke-width="1.9"/>
<line x1="158.4" y1="240.9" x2="137.2" y2="240.6" stroke="#d3d3d3" stroke-width="1.9"/>
<line x1="200.0" y1="322.0" x2="194.0" y2="306.6" stroke="#d3d3d3" stroke-width="1.9"/>
<line x1="200.0" y1="322.0" x2="203.4" y2="310.3" stroke="#d3d3d3" stroke-width="1.9"/>
<line x1="200.0" y1="322.0" x2="213.7" y2="321.6" stroke="#d3d3d3" stroke-width="1.9"/>
<line x1="200.0" y1="322.0" x2="190.5" y2="316.2" stroke="#d3d3d3" stroke-width="1.9"/>
<line x1="443.4" y1="345.4" x2="448.3" y2="326.5" stroke="#d3d3d3" stroke-width="1.9"/>
<line x1="443.4" y1="345.4" x2="430.5" y2="339.6" stroke="#d3d3d3" stroke-width="1.9"/>
<line x1="443.4" y1="345.4" x2="435.3" y2="364.9" stroke="#d3d3d3" stroke-width="1.9"/>
<line x1="443.4" y1="345.4" x2="448.1" y2="322.8" stroke="#d3d3d3" stroke-width="1.9"/>
<line x1="443.4" y1="345.4" x2="459.0" y2="352.5" stroke="#d3d3d3" stroke-width="1.9"/>
<line x1="420.9" y1="351.0" x2="424.6" y2="332.0" stroke="#d3d3d3" stroke-width="1.9"/>
<line x1="420.9" y1="351.0" x2="413.4" y2="364.1" stroke="#d3d3d3" stroke-width="1.9"/>
<line x1="420.9" y1="351.0" x2="424.5" y2="342.3" stroke="#d3d3d3" stroke-width="1.9"/>
<line x1="420.9" y1="351.0" x2="417.6" y2="332.0" stroke="#d3d3d3" stroke-width="1.9"/>
<line x1="407.6" y1="331.6" x2="412.6" y2="345.2" stroke="#d3d3d3" stroke-width="1.9"/>
<line x1="407.6" y1="331.6" x2="403.5" y2="347.0" stroke="#d3d3d3" stroke-width="1.9"/>
<line x1="407.6" y1="331.6" x2="408.3" y2="307.7" stroke="#d3d3d3" stroke-width="1.9"/>
<line x1="407.6" y1="331.6" x2="425.9" y2="320.0" stroke="#d3d3d3" stroke-width="1.9"/>
<line x1="407.6" y1="331.6" x2="427.1" y2="328.6" stroke="#d3d3d3" stroke-width="1.9"/>
<line x1="464.5" y1="370.4" x2="465.0" y2="347.8" stroke="#d3d3d3" stroke-width="1.9"/>
<line x1="464.5" y1="370.4" x2="470.5" y2="377.8" stroke="#d3d3d3" stroke-width="1.9"/>
<line x1="464.5" y1="370.4" x2="471.3" y2="364.8" stroke="#d3d3d3" stroke-width="1.9"/>
<line x1="464.5" y1="370.4" x2="468.3" y2="383.5" stroke="#d3d3d3" stroke-width="1.9"/>
<line x1="464.5" y1="370.4" x2="473.4" y2="375.0" stroke="#d3d3d3" stroke-width="1.9"/>
<line x1="232.2" y1="454.0" x2="220.0" y2="443.7" stroke="#d3d3d3" stroke-width="1.9"/>
<line x1="232.2" y1="454.0" x2="217.6" y2="453.4" stroke="#d3d3d3" stroke-width="1.9"/>
<line x1="232.2" y1="454.0" x2="239.6" y2="449.0" stroke="#d3d3d3" stroke-width="1.9"/>
<line x1="232.2" y1="454.0" x2="234.6" y2="474.5" stroke="#d3d3d3" stroke-width="1.9"/>
<line x1="476.6" y1="271.6" x2="454.7" y2="270.8" stroke="#d3d3d3" stroke-width="1.9"/>
<line x1="476.6" y1="271.6" x2="475.0" y2="280.3" stroke="#d3d3d3" stroke-width="1.9"/>
<line x1="476.6" y1="271.6" x2="492.6" y2="261.7" stroke="#d3d3d3" stroke-width="1.9"/>
<line x1="476.6" y1="271.6" x2="477.1" y2="291.2" stroke="#d3d3d3" stroke-width="1.9"/>
<line x1="471.5" y1="308.3" x2="459.7" y2="298.3" stroke="#d3d3d3" stroke-width="1.9"/>
<line x1="471.5" y1="308.3" x2="487.7" y2="312.1" stroke="#d3d3d3" stroke-width="1.9"/>
<line x1="471.5" y1="308.3" x2="479.7" y2="299.0" stroke="#d3d3d3" stroke-width="1.9"/>
<line x1="471.5" y1="308.3" x2="476.2" y2="325.6" stroke="#d3d3d3" stroke-width="1.9"/>
<line x1="471.5" y1="308.3" x2="472.6" y2="317.8" stroke="#d3d3d3" stroke-width="1.9"/>
<line x1="341.2" y1="244.1" x2="322.6" y2="232.3" stroke="#d3d3d3" stroke-width="1.9"/>
<line x1="341.2" y1="244.1" x2="348.4" y2="234.1" stroke="#d3d3d3" stroke-width="1.9"/>
<line x1="341.2" y1="244.1" x2="324.0" y2="260.1" stroke="#d3d3d3" stroke-width="1.9"/>
<line x1="341.2" y1="244.1" x2="358.3" y2="237.6" stroke="#d3d3d3" stroke-width="1.9"/>
<line x1="327.1" y1="354.5" x2="343.4" y2="361.3" stroke="#d3d3d3" stroke-width="1.9"/>
<line x1="327.1" y1="354.5" x2="339.9" y2="349.4" stroke="#d3d3d3" stroke-width="1.9"/>
<line x1="327.1" y1="354.5" x2="326.2" y2="373.0" stroke="#d3d3d3" stroke-width="1.9"/>
<line x1="327.1" y1="354.5" x2="341.6" y2="362.3" stroke="#d3d3d3" stroke-width="1.9"/>
<line x1="217.9" y1="288.9" x2="221.2" y2="278.5" stroke="#d3d3d3" stroke-width="1.9"/>
<line x1="217.9" y1="288.9" x2="205.2" y2="305.4" stroke="#d3d3d3" stroke-width="1.9"/>
<line x1="217.9" y1="288.9" x2="212.6" y2="307.9" stroke="#d3d3d3" stroke-width="1.9"/>
<line x1="217.9" y1="288.9" x2="202.9" y2="278.1" stroke="#d3d3d3" stroke-width="1.9"/>
<line x1="217.9" y1="288.9" x2="231.4" y2="291.4" stroke="#d3d3d3" stroke-width="1.9"/>
<line x1="217.9" y1="288.9" x2="231.8" y2="287.6" stroke="#d3d3d3" stroke-width="1.9"/>
<line x1="217.9" y1="288.9" x2="213.6" y2="312.5" stroke="#d3d3d3" stroke-width="1.9"/>
<line x1="244.8" y1="374.2" x2="236.4" y2="382.8" stroke="#d3d3d3" stroke-width="1.9"/>
<line x1="244.8" y1="374.2" x2="257.0" y2="355.1" stroke="#d3d3d3" stroke-width="1.9"/>
<line x1="244.8" y1="374.2" x2="252.8" y2="363.6" stroke="#d3d3d3" stroke-width="1.9"/>
<line x1="244.8" y1="374.2" x2="222.6" y2="375.2" stroke="#d3d3d3" stroke-width="1.9"/>
<line x1="244.8" y1="374.2" x2="221.0" y2="374.6" stroke="#d3d3d3" stroke-width="1.9"/>
<line x1="244.8" y1="374.2" x2="235.7" y2="367.8" stroke="#d3d3d3" stroke-width="1.9"/>
<line x1="298.3" y1="302.0" x2="305.6" y2="282.0" stroke="#d3d3d3" stroke-width="1.9"/>
<line x1="298.3" y1="302.0" x2="290.0" y2="304.4" stroke="#d3d3d3" stroke-width="1.9"/>
<line x1="298.3" y1="302.0" x2="297.3" y2="292.8" stroke="#d3d3d3" stroke-width="1.9"/>
<line x1="298.3" y1="302.0" x2="290.1" y2="300.1" stroke="#d3d3d3" stroke-width="1.9"/>
<line x1="298.3" y1="302.0" x2="309.9" y2="302.6" stroke="#d3d3d3" stroke-width="1.9"/>
<line x1="298.3" y1="302.0" x2="285.6" y2="286.4" stroke="#d3d3d3" stroke-width="1.9"/>
<line x1="160.2" y1="362.2" x2="171.1" y2="377.0" stroke="#d3d3d3" stroke-width="1.9"/>
<line x1="160.2" y1="362.2" x2="182.4" y2="357.2" stroke="#d3d3d3" stroke-width="1.9"/>
<line x1="160.2" y1="362.2" x2="167.5" y2="351.4" stroke="#d3d3d3" stroke-width="1.9"/>
<line x1="160.2" y1="362.2" x2="157.8" y2="339.4" stroke="#d3d3d3" stroke-width="1.9"/>
<line x1="160.2" y1="362.2" x2="179.2" y2="348.4" stroke="#d3d3d3" stroke-width="1.9"/>
<line x1="160.2" y1="362.2" x2="161.8" y2="341.7" stroke="#d3d3d3" stroke-width="1.9"/>
<line x1="160.2" y1="362.2" x2="155.8" y2="348.1" stroke="#d3d3d3" stroke-width="1.9"/>
<line x1="256.5" y1="378.6" x2="259.5" y2="396.8" stroke="#d3d3d3" stroke-width="1.9"/>
<line x1="256.5" y1="378.6" x2="255.3" y2="365.9" stroke="#d3d3d3" stroke-width="1.9"/>
<line x1="381.0" y1="344.3" x2="402.3" y2="337.9" stroke="#d3d3d3" stroke-width="1.9"/>
<line x1="381.0" y1="344.3" x2="372.3" y2="347.7" stroke="#d3d3d3" stroke-width="1.9"/>
<line x1="381.0" y1="344.3" x2="389.0" y2="349.6" stroke="#d3d3d3" stroke-width="1.9"/>
<line x1="381.0" y1="344.3" x2="394.9" y2="356.1" stroke="#d3d3d3" stroke-width="1.9"/>
<line x1="381.0" y1="344.3" x2="385.9" y2="361.7" stroke="#d3d3d3" stroke-width="1.9"/>
<line x1="381.0" y1="344.3" x2="396.3" y2="359.7" stroke="#d3d3d3" stroke-width="1.9"/>
<line x1="381.0" y1="344.3" x2="399.3" y2="349.3" stroke="#d3d3d3" stroke-width="1.9"/>
<line x1="303.2" y1="427.5" x2="301.4" y2="403.7" stroke="#d3d3d3" stroke-width="1.9"/>
<line x1="303.2" y1="427.5" x2="314.6" y2="415.7" stroke="#d3d3d3" stroke-width="1.9"/>
<line x1="303.2" y1="427.5" x2="301.8" y2="406.5" stroke="#d3d3d3" stroke-width="1.9"/>
<line x1="303.2" y1="427.5" x2="284.4" y2="425.1" stroke="#d3d3d3" stroke-width="1.9"/>
<line x1="303.2" y1="427.5" x2="316.1" y2="410.6" stroke="#d3d3d3" stroke-width="1.9"/>
<line x1="303.2" y1="427.5" x2="307.8" y2="434.6" stroke="#d3d3d3" stroke-width="1.9"/>
<line x1="303.2" y1="427.5" x2="297.5" y2="407.2" stroke="#d3d3d3" stroke-width="1.9"/>
<line x1="302.5" y1="287.8" x2="298.8" y2="264.2" stroke="#d3d3d3" stroke-width="1.9"/>
<line x1="302.5" y1="287.8" x2="286.1" y2="304.4" stroke="#d3d3d3" stroke-width="1.9"/>
<line x1="302.5" y1="287.8" x2="279.2" y2="291.0" stroke="#d3d3d3" stroke-width="1.9"/>
<line x1="442.3" y1="301.0" x2="437.1" y2="285.0" stroke="#d3d3d3" stroke-width="1.9"/>
<line x1="442.3" y1="301.0" x2="455.3" y2="293.3" stroke="#d3d3d3" stroke-width="1.9"/>
<line x1="442.3" y1="301.0" x2="432.3" y2="307.2" stroke="#d3d3d3" stroke-width="1.9"/>
<line x1="442.3" y1="301.0" x2="449.7" y2="290.2" stroke="#d3d3d3" stroke-width="1.9"/>
<line x1="442.3" y1="301.0" x2="449.5" y2="296.5" stroke="#d3d3d3" stroke-width="1.9"/>
<line x1="461.0" y1="436.2" x2="453.4" y2="451.9" stroke="#d3d3d3" stroke-width="1.9"/>
<line x1="461.0" y1="436.2" x2="453.2" y2="440.8" stroke="#d3d3d3" stroke-width="1.9"/>
<line x1="384.7" y1="440.1" x2="375.9" y2="442.2" stroke="#d3d3d3" stroke-width="1.9"/>
<line x1="384.7" y1="440.1" x2="395.1" y2="442.0" stroke="#d3d3d3" stroke-width="1.9"/>
<line x1="183.6" y1="305.7" x2="195.9" y2="287.8" stroke="#d3d3d3" stroke-width="1.9"/>
<line x1="183.6" y1="305.7" x2="184.8" y2="325.5" stroke="#d3d3d3" stroke-width="1.9"/>
<line x1="183.6" y1="305.7" x2="170.9" y2="321.5" stroke="#d3d3d3" stroke-width="1.9"/>
<line x1="183.6" y1="305.7" x2="178.6" y2="298.0" stroke="#d3d3d3" stroke-width="1.9"/>
<line x1="183.6" y1="305.7" x2="169.0" y2="308.5" stroke="#d3d3d3" stroke-width="1.9"/>
<line x1="183.6" y1="305.7" x2="167.2" y2="309.9" stroke="#d3d3d3" stroke-width="1.9"/>
<line x1="380.1" y1="376.0" x2="375.4" y2="365.9" stroke="#d3d3d3" stroke-width="1.9"/>
<line x1="380.1" y1="376.0" x2="388.1" y2="385.4" stroke="#d3d3d3" stroke-width="1.9"/>
<line x1="329.4" y1="494.0" x2="325.0" y2="480.8" stroke="#d3d3d3" stroke-width="1.9"/>
<line x1="329.4" y1="494.0" x2="328.9" y2="477.9" stroke="#d3d3d3" stroke-width="1.9"/>
<line x1="329.4" y1="494.0" x2="344.7" y2="489.3" stroke="#d3d3d3" stroke-width="1.9"/>
<line x1="329.4" y1="494.0" x2="316.9" y2="479.6" stroke="#d3d3d3" stroke-width="1.9"/>
<line x1="329.4" y1="494.0" x2="321.9" y2="486.1" stroke="#d3d3d3" stroke-width="1.9"/>
<line x1="231.4" y1="384.0" x2="233.3" y2="375.8" stroke="#d3d3d3" stroke-width="1.9"/>
<line x1="231.4" y1="384.0" x2="209.8" y2="375.0" stroke="#d3d3d3" stroke-width="1.9"/>
<line x1="231.4" y1="384.0" x2="230.5" y2="396.7" stroke="#d3d3d3" stroke-width="1.9"/>
<line x1="471.8" y1="408.3" x2="481.5" y2="418.2" stroke="#d3d3d3" stroke-width="1.9"/>
<line x1="471.8" y1="408.3" x2="484.2" y2="415.5" stroke="#d3d3d3" stroke-width="1.9"/>
<line x1="471.8" y1="408.3" x2="456.8" y2="413.0" stroke="#d3d3d3" stroke-width="1.9"/>
<line x1="471.8" y1="408.3" x2="488.1" y2="406.0" stroke="#d3d3d3" stroke-width="1.9"/>
<line x1="218.9" y1="284.0" x2="235.4" y2="270.3" stroke="#d3d3d3" stroke-width="1.9"/>
<line x1="218.9" y1="284.0" x2="233.3" y2="276.9" stroke="#d3d3d3" stroke-width="1.9"/>
<line x1="218.9" y1="284.0" x2="218.9" y2="292.0" stroke="#d3d3d3" stroke-width="1.9"/>
<line x1="218.9" y1="284.0" x2="223.7" y2="299.9" stroke="#d3d3d3" stroke-width="1.9"/>
<line x1="218.9" y1="284.0" x2="224.2" y2="275.4" stroke="#d3d3d3" stroke-width="1.9"/>
<line x1="218.9" y1="284.0" x2="217.5" y2="267.5" stroke="#d3d3d3" stroke-width="1.9"/>
<line x1="343.0" y1="367.5" x2="357.9" y2="380.4" stroke="#d3d3d3" stroke-width="1.9"/>
<line x1="343.0" y1="367.5" x2="347.6" y2="380.8" stroke="#d3d3d3" stroke-width="1.9"/>
<line x1="343.0" y1="367.5" x2="332.4" y2="361.4" stroke="#d3d3d3" stroke-width="1.9"/>
<line x1="437.3" y1="448.6" x2="434.1" y2="464.2" stroke="#d3d3d3" stroke-width="1.9"/>
<line x1="437.3" y1="448.6" x2="427.7" y2="445.6" stroke="#d3d3d3" stroke-width="1.9"/>
<line x1="283.2" y1="487.9" x2="269.4" y2="502.4" stroke="#d3d3d3" stroke-width="1.9"/>
<line x1="283.2" y1="487.9" x2="271.6" y2="483.8" stroke="#d3d3d3" stroke-width="1.9"/>
<line x1="271.3" y1="453.7" x2="269.3" y2="445.6" stroke="#d3d3d3" stroke-width="1.9"/>
<line x1="271.3" y1="453.7" x2="260.4" y2="444.5" stroke="#d3d3d3" stroke-width="1.9"/>
<line x1="271.3" y1="453.7" x2="288.6" y2="446.5" stroke="#d3d3d3" stroke-width="1.9"/>
<line x1="271.3" y1="453.7" x2="279.1" y2="448.9" stroke="#d3d3d3" stroke-width="1.9"/>
<line x1="271.3" y1="453.7" x2="265.2" y2="465.2" stroke="#d3d3d3" stroke-width="1.9"/>
<line x1="271.3" y1="453.7" x2="279.9" y2="475.9" stroke="#d3d3d3" stroke-width="1.9"/>
<line x1="275.7" y1="478.6" x2="293.5" y2="466.8" stroke="#d3d3d3" stroke-width="1.9"/>
<line x1="275.7" y1="478.6" x2="285.5" y2="498.7" stroke="#d3d3d3" stroke-width="1.9"/>
<line x1="275.7" y1="478.6" x2="269.6" y2="466.2" stroke="#d3d3d3" stroke-width="1.9"/>
<line x1="275.7" y1="478.6" x2="275.2" y2="463.8" stroke="#d3d3d3" stroke-width="1.9"/>
<line x1="435.2" y1="381.5" x2="447.3" y2="371.6" stroke="#d3d3d3" stroke-width="1.9"/>
<line x1="435.2" y1="381.5" x2="420.5" y2="394.2" stroke="#d3d3d3" stroke-width="1.9"/>
<line x1="435.2" y1="381.5" x2="430.5" y2="373.3" stroke="#d3d3d3" stroke-width="1.9"/>
<line x1="435.2" y1="381.5" x2="422.8" y2="380.8" stroke="#d3d3d3" stroke-width="1.9"/>
<line x1="318.4" y1="364.9" x2="327.5" y2="377.1" stroke="#d3d3d3" stroke-width="1.9"/>
<line x1="318.4" y1="364.9" x2="319.4" y2="351.0" stroke="#d3d3d3" stroke-width="1.9"/>
<line x1="318.4" y1="364.9" x2="334.4" y2="368.9" stroke="#d3d3d3" stroke-width="1.9"/>
<line x1="318.4" y1="364.9" x2="325.0" y2="377.6" stroke="#d3d3d3" stroke-width="1.9"/>
<line x1="264.4" y1="400.4" x2="283.8" y2="389.9" stroke="#d3d3d3" stroke-width="1.9"/>
<line x1="264.4" y1="400.4" x2="285.1" y2="409.5" stroke="#d3d3d3" stroke-width="1.9"/>
<line x1="264.4" y1="400.4" x2="266.0" y2="410.4" stroke="#d3d3d3" stroke-width="1.9"/>
<line x1="264.4" y1="400.4" x2="254.3" y2="391.4" stroke="#d3d3d3" stroke-width="1.9"/>
<line x1="264.4" y1="400.4" x2="272.0" y2="416.5" stroke="#d3d3d3" stroke-width="1.9"/>
<line x1="264.4" y1="400.4" x2="248.2" y2="396.7" stroke="#d3d3d3" stroke-width="1.9"/>
<line x1="490.8" y1="338.9" x2="478.4" y2="350.7" stroke="#d3d3d3" stroke-width="1.9"/>
<line x1="490.8" y1="338.9" x2="478.0" y2="338.6" stroke="#d3d3d3" stroke-width="1.9"/>
<line x1="490.8" y1="338.9" x2="488.7" y2="354.5" stroke="#d3d3d3" stroke-width="1.9"/>
<line x1="490.8" y1="338.9" x2="498.7" y2="342.8" stroke="#d3d3d3" stroke-width="1.9"/>
<line x1="490.8" y1="338.9" x2="509.1" y2="349.2" stroke="#d3d3d3" stroke-width="1.9"/>
<line x1="490.8" y1="338.9" x2="478.4" y2="327.6" stroke="#d3d3d3" stroke-width="1.9"/>
<line x1="490.8" y1="338.9" x2="506.8" y2="337.0" stroke="#d3d3d3" stroke-width="1.9"/>
<line x1="277.5" y1="290.3" x2="268.8" y2="300.6" stroke="#d3d3d3" stroke-width="1.9"/>
<line x1="277.5" y1="290.3" x2="292.9" y2="307.0" stroke="#d3d3d3" stroke-width="1.9"/>
<line x1="277.5" y1="290.3" x2="261.4" y2="296.4" stroke="#d3d3d3" stroke-width="1.9"/>
<line x1="277.5" y1="290.3" x2="278.2" y2="313.2" stroke="#d3d3d3" stroke-width="1.9"/>
<line x1="277.5" y1="290.3" x2="292.6" y2="302.1" stroke="#d3d3d3" stroke-width="1.9"/>
<line x1="277.5" y1="290.3" x2="292.7" y2="296.9" stroke="#d3d3d3" stroke-width="1.9"/>
<line x1="157.5" y1="321.9" x2="166.4" y2="308.8" stroke="#d3d3d3" stroke-width="1.9"/>
<line x1="157.5" y1="321.9" x2="148.7" y2="329.3" stroke="#d3d3d3" stroke-width="1.9"/>
<line x1="169.0" y1="336.7" x2="171.3" y2="344.6" stroke="#d3d3d3" stroke-width="1.9"/>
<line x1="169.0" y1="336.7" x2="175.3" y2="330.6" stroke="#d3d3d3" stroke-width="1.9"/>
<line x1="169.0" y1="336.7" x2="163.2" y2="344.7" stroke="#d3d3d3" stroke-width="1.9"/>
<line x1="169.0" y1="336.7" x2="178.1" y2="331.9" stroke="#d3d3d3" stroke-width="1.9"/>
<line x1="169.0" y1="336.7" x2="175.9" y2="343.5" stroke="#d3d3d3" stroke-width="1.9"/>
<line x1="357.1" y1="369.1" x2="366.2" y2="363.4" stroke="#d3d3d3" stroke-width="1.9"/>
<line x1="357.1" y1="369.1" x2="347.9" y2="354.4" stroke="#d3d3d3" stroke-width="1.9"/>
<line x1="357.1" y1="369.1" x2="365.9" y2="367.5" stroke="#d3d3d3" stroke-width="1.9"/>
<line x1="357.1" y1="369.1" x2="366.1" y2="369.1" stroke="#d3d3d3" stroke-width="1.9"/>
<line x1="357.1" y1="369.1" x2="363.4" y2="391.8" stroke="#d3d3d3" stroke-width="1.9"/>
<line x1="234.2" y1="396.3" x2="242.1" y2="393.2" stroke="#d3d3d3" stroke-width="1.9"/>
<line x1="234.2" y1="396.3" x2="232.1" y2="413.5" stroke="#d3d3d3" stroke-width="1.9"/>
<line x1="375.0" y1="319.0" x2="360.4" y2="331.3" stroke="#d3d3d3" stroke-width="1.9"/>
<line x1="375.0" y1="319.0" x2="383.4" y2="305.4" stroke="#d3d3d3" stroke-width="1.9"/>
<line x1="375.0" y1="319.0" x2="387.7" y2="303.3" stroke="#d3d3d3" stroke-width="1.9"/>
<line x1="375.0" y1="319.0" x2="358.5" y2="329.0" stroke="#d3d3d3" stroke-width="1.9"/>
<line x1="375.0" y1="319.0" x2="365.3" y2="318.0" stroke="#d3d3d3" stroke-width="1.9"/>
<line x1="375.0" y1="319.0" x2="392.4" y2="306.3" stroke="#d3d3d3" stroke-width="1.9"/>
<line x1="521.8" y1="438.8" x2="519.0" y2="461.7" stroke="#d3d3d3" stroke-width="1.9"/>
<line x1="521.8" y1="438.8" x2="543.2" y2="431.4" stroke="#d3d3d3" stroke-width="1.9"/>
<line x1="315.1" y1="337.3" x2="308.3" y2="326.9" stroke="#d3d3d3" stroke-width="1.9"/>
<line x1="315.1" y1="337.3" x2="318.9" y2="348.5" stroke="#d3d3d3" stroke-width="1.9"/>
<line x1="315.1" y1="337.3" x2="308.3" y2="350.5" stroke="#d3d3d3" stroke-width="1.9"/>
<line x1="448.2" y1="349.1" x2="441.9" y2="361.9" stroke="#d3d3d3" stroke-width="1.9"/>
<line x1="448.2" y1="349.1" x2="448.8" y2="326.3" stroke="#d3d3d3" stroke-width="1.9"/>
<line x1="448.2" y1="349.1" x2="433.9" y2="343.0" stroke="#d3d3d3" stroke-width="1.9"/>
<line x1="448.2" y1="349.1" x2="438.5" y2="351.8" stroke="#d3d3d3" stroke-width="1.9"/>
<line x1="367.0" y1="317.6" x2="376.2" y2="325.0" stroke="#d3d3d3" stroke-width="1.9"/>
<line x1="367.0" y1="317.6" x2="365.5" y2="297.9" stroke="#d3d3d3" stroke-width="1.9"/>
<line x1="367.0" y1="317.6" x2="353.5" y2="335.2" stroke="#d3d3d3" stroke-width="1.9"/>
<line x1="367.0" y1="317.6" x2="373.0" y2="327.6" stroke="#d3d3d3" stroke-width="1.9"/>
<line x1="367.0" y1="317.6" x2="352.1" y2="310.5" stroke="#d3d3d3" stroke-width="1.9"/>
<line x1="367.0" y1="317.6" x2="370.2" y2="305.1" stroke="#d3d3d3" stroke-width="1.9"/>
<line x1="241.6" y1="484.5" x2="234.9" y2="470.4" stroke="#d3d3d3" stroke-width="1.9"/>
<line x1="241.6" y1="484.5" x2="237.6" y2="505.7" stroke="#d3d3d3" stroke-width="1.9"/>
<line x1="241.6" y1="484.5" x2="233.5" y2="475.1" stroke="#d3d3d3" stroke-width="1.9"/>
<line x1="241.6" y1="484.5" x2="242.1" y2="460.6" stroke="#d3d3d3" stroke-width="1.9"/>
<line x1="241.6" y1="484.5" x2="236.2" y2="475.0" stroke="#d3d3d3" stroke-width="1.9"/>
<line x1="241.6" y1="484.5" x2="235.1" y2="479.5" stroke="#d3d3d3" stroke-width="1.9"/>
<line x1="316.9" y1="436.7" x2="301.6" y2="431.7" stroke="#d3d3d3" stroke-width="1.9"/>
<line x1="316.9" y1="436.7" x2="302.7" y2="446.1" stroke="#d3d3d3" stroke-width="1.9"/>
<line x1="316.9" y1="436.7" x2="331.8" y2="427.5" stroke="#d3d3d3" stroke-width="1.9"/>
<line x1="533.3" y1="394.2" x2="523.7" y2="393.4" stroke="#d3d3d3" stroke-width="1.9"/>
<line x1="533.3" y1="394.2" x2="536.2" y2="376.0" stroke="#d3d3d3" stroke-width="1.9"/>
<line x1="533.3" y1="394.2" x2="528.4" y2="384.9" stroke="#d3d3d3" stroke-width="1.9"/>
<line x1="533.3" y1="394.2" x2="541.1" y2="392.2" stroke="#d3d3d3" stroke-width="1.9"/>
<line x1="533.3" y1="394.2" x2="524.2" y2="398.1" stroke="#d3d3d3" stroke-width="1.9"/>
<line x1="533.3" y1="394.2" x2="521.5" y2="412.3" stroke="#d3d3d3" stroke-width="1.9"/>
<line x1="331.6" y1="293.8" x2="322.9" y2="308.2" stroke="#d3d3d3" stroke-width="1.9"/>
<line x1="331.6" y1="293.8" x2="349.7" y2="299.6" stroke="#d3d3d3" stroke-width="1.9"/>
<line x1="331.6" y1="293.8" x2="335.7" y2="278.5" stroke="#d3d3d3" stroke-width="1.9"/>
<line x1="331.6" y1="293.8" x2="353.5" y2="296.2" stroke="#d3d3d3" stroke-width="1.9"/>
<line x1="331.6" y1="293.8" x2="347.6" y2="281.5" stroke="#d3d3d3" stroke-width="1.9"/>
<line x1="331.6" y1="293.8" x2="330.0" y2="312.5" stroke="#d3d3d3" stroke-width="1.9"/>
<line x1="279.2" y1="429.6" x2="274.2" y2="440.9" stroke="#d3d3d3" stroke-width="1.9"/>
<line x1="279.2" y1="429.6" x2="267.2" y2="425.7" stroke="#d3d3d3" stroke-width="1.9"/>
<line x1="279.2" y1="429.6" x2="277.1" y2="416.9" stroke="#d3d3d3" stroke-width="1.9"/>
<line x1="279.2" y1="429.6" x2="286.9" y2="425.5" stroke="#d3d3d3" stroke-width="1.9"/>
<line x1="354.1" y1="234.4" x2="358.4" y2="214.4" stroke="#d3d3d3" stroke-width="1.9"/>
<line x1="354.1" y1="234.4" x2="344.2" y2="233.6" stroke="#d3d3d3" stroke-width="1.9"/>
<line x1="354.1" y1="234.4" x2="341.1" y2="232.3" stroke="#d3d3d3" stroke-width="1.9"/>
<line x1="354.1" y1="234.4" x2="355.9" y2="243.4" stroke="#d3d3d3" stroke-width="1.9"/>
<line x1="164.3" y1="361.3" x2="142.6" y2="364.0" stroke="#d3d3d3" stroke-width="1.9"/>
<line x1="164.3" y1="361.3" x2="177.2" y2="354.7" stroke="#d3d3d3" stroke-width="1.9"/>
<line x1="308.4" y1="329.0" x2="292.6" y2="315.5" stroke="#d3d3d3" stroke-width="1.9"/>
<line x1="308.4" y1="329.0" x2="290.4" y2="338.1" stroke="#d3d3d3" stroke-width="1.9"/>
<line x1="308.4" y1="329.0" x2="316.0" y2="332.6" stroke="#d3d3d3" stroke-width="1.9"/>
<line x1="308.4" y1="329.0" x2="305.8" y2="305.1" stroke="#d3d3d3" stroke-width="1.9"/>
<line x1="308.4" y1="329.0" x2="318.1" y2="349.9" stroke="#d3d3d3" stroke-width="1.9"/>
<line x1="308.4" y1="329.0" x2="297.1" y2="312.0" stroke="#d3d3d3" stroke-width="1.9"/>
<line x1="497.9" y1="357.5" x2="479.1" y2="370.7" stroke="#d3d3d3" stroke-width="1.9"/>
<line x1="497.9" y1="357.5" x2="514.3" y2="352.9" stroke="#d3d3d3" stroke-width="1.9"/>
<line x1="497.5" y1="371.6" x2="502.1" y2="391.9" stroke="#d3d3d3" stroke-width="1.9"/>
<line x1="497.5" y1="371.6" x2="490.4" y2="385.6" stroke="#d3d3d3" stroke-width="1.9"/>
<line x1="497.5" y1="371.6" x2="520.3" y2="364.7" stroke="#d3d3d3" stroke-width="1.9"/>
<line x1="497.5" y1="371.6" x2="496.8" y2="354.5" stroke="#d3d3d3" stroke-width="1.9"/>
<line x1="497.5" y1="371.6" x2="506.3" y2="375.2" stroke="#d3d3d3" stroke-width="1.9"/>
<line x1="497.5" y1="371.6" x2="484.4" y2="361.4" stroke="#d3d3d3" stroke-width="1.9"/>
<line x1="265.9" y1="256.6" x2="261.9" y2="238.1" stroke="#d3d3d3" stroke-width="1.9"/>
<line x1="265.9" y1="256.6" x2="274.1" y2="237.5" stroke="#d3d3d3" stroke-width="1.9"/>
<line x1="376.8" y1="444.3" x2="368.8" y2="433.3" stroke="#d3d3d3" stroke-width="1.9"/>
<line x1="376.8" y1="444.3" x2="380.2" y2="430.9" stroke="#d3d3d3" stroke-width="1.9"/>
<line x1="376.8" y1="444.3" x2="386.9" y2="425.6" stroke="#d3d3d3" stroke-width="1.9"/>
<line x1="376.8" y1="444.3" x2="384.1" y2="459.4" stroke="#d3d3d3" stroke-width="1.9"/>
<line x1="376.8" y1="444.3" x2="367.4" y2="447.6" stroke="#d3d3d3" stroke-width="1.9"/>
<line x1="376.8" y1="444.3" x2="388.3" y2="437.3" stroke="#d3d3d3" stroke-width="1.9"/>
<line x1="263.0" y1="397.5" x2="265.1" y2="384.7" stroke="#d3d3d3" stroke-width="1.9"/>
<line x1="263.0" y1="397.5" x2="271.0" y2="411.5" stroke="#d3d3d3" stroke-width="1.9"/>
<line x1="263.0" y1="397.5" x2="252.1" y2="400.2" stroke="#d3d3d3" stroke-width="1.9"/>
<line x1="263.0" y1="397.5" x2="277.8" y2="414.0" stroke="#d3d3d3" stroke-width="1.9"/>
<line x1="263.0" y1="397.5" x2="250.3" y2="409.1" stroke="#d3d3d3" stroke-width="1.9"/>
<line x1="263.0" y1="397.5" x2="263.0" y2="380.7" stroke="#d3d3d3" stroke-width="1.9"/>
<line x1="263.0" y1="397.5" x2="264.1" y2="376.8" stroke="#d3d3d3" stroke-width="1.9"/>
<line x1="503.7" y1="340.8" x2="496.8" y2="347.1" stroke="#d3d3d3" stroke-width="1.9"/>
<line x1="503.7" y1="340.8" x2="514.7" y2="343.5" stroke="#d3d3d3" stroke-width="1.9"/>
<line x1="503.7" y1="340.8" x2="518.4" y2="342.3" stroke="#d3d3d3" stroke-width="1.9"/>
<line x1="503.7" y1="340.8" x2="487.6" y2="356.0" stroke="#d3d3d3" stroke-width="1.9"/>
<line x1="503.7" y1="340.8" x2="526.6" y2="347.1" stroke="#d3d3d3" stroke-width="1.9"/>
<line x1="401.5" y1="217.9" x2="409.4" y2="229.3" stroke="#d3d3d3" stroke-width="1.9"/>
<line x1="401.5" y1="217.9" x2="401.3" y2="199.1" stroke="#d3d3d3" stroke-width="1.9"/>
<line x1="401.5" y1="217.9" x2="412.4" y2="206.0" stroke="#d3d3d3" stroke-width="1.9"/>
<line x1="365.0" y1="372.9" x2="356.1" y2="386.5" stroke="#d3d3d3" stroke-width="1.9"/>
<line x1="365.0" y1="372.9" x2="362.4" y2="387.3" stroke="#d3d3d3" stroke-width="1.9"/>
<line x1="365.0" y1="372.9" x2="375.3" y2="366.7" stroke="#d3d3d3" stroke-width="1.9"/>
<line x1="365.0" y1="372.9" x2="345.0" y2="383.2" stroke="#d3d3d3" stroke-width="1.9"/>
<line x1="365.0" y1="372.9" x2="345.0" y2="379.2" stroke="#d3d3d3" stroke-width="1.9"/>
<line x1="477.5" y1="336.0" x2="481.2" y2="326.0" stroke="#d3d3d3" stroke-width="1.9"/>
<line x1="477.5" y1="336.0" x2="454.2" y2="336.8" stroke="#d3d3d3" stroke-width="1.9"/>
<line x1="477.5" y1="336.0" x2="459.4" y2="320.5" stroke="#d3d3d3" stroke-width="1.9"/>
<line x1="477.5" y1="336.0" x2="472.4" y2="349.6" stroke="#d3d3d3" stroke-width="1.9"/>
<line x1="477.5" y1="336.0" x2="493.0" y2="322.5" stroke="#d3d3d3" stroke-width="1.9"/>
<line x1="477.5" y1="336.0" x2="487.6" y2="346.9" stroke="#d3d3d3" stroke-width="1.9"/>
<line x1="477.5" y1="336.0" x2="472.2" y2="320.8" stroke="#d3d3d3" stroke-width="1.9"/>
<line x1="261.6" y1="266.1" x2="273.5" y2="277.4" stroke="#d3d3d3" stroke-width="1.9"/>
<line x1="261.6" y1="266.1" x2="261.8" y2="255.5" stroke="#d3d3d3" stroke-width="1.9"/>
<line x1="261.6" y1="266.1" x2="240.8" y2="271.3" stroke="#d3d3d3" stroke-width="1.9"/>
<line x1="261.6" y1="266.1" x2="283.3" y2="268.0" stroke="#d3d3d3" stroke-width="1.9"/>
<line x1="178.2" y1="334.9" x2="167.5" y2="318.8" stroke="#d3d3d3" stroke-width="1.9"/>
<line x1="178.2" y1="334.9" x2="194.3" y2="322.5" stroke="#d3d3d3" stroke-width="1.9"/>
<line x1="178.2" y1="334.9" x2="186.5" y2="333.4" stroke="#d3d3d3" stroke-width="1.9"/>
<line x1="178.2" y1="334.9" x2="186.8" y2="330.3" stroke="#d3d3d3" stroke-width="1.9"/>
<line x1="178.2" y1="334.9" x2="186.9" y2="347.3" stroke="#d3d3d3" stroke-width="1.9"/>
<line x1="178.2" y1="334.9" x2="182.8" y2="344.3" stroke="#d3d3d3" stroke-width="1.9"/>
<line x1="350.5" y1="496.5" x2="342.3" y2="488.3" stroke="#d3d3d3" stroke-width="1.9"/>
<line x1="350.5" y1="496.5" x2="364.8" y2="502.7" stroke="#d3d3d3" stroke-width="1.9"/>
<line x1="350.5" y1="496.5" x2="335.8" y2="491.6" stroke="#d3d3d3" stroke-width="1.9"/>
<line x1="350.5" y1="496.5" x2="342.7" y2="492.1" stroke="#d3d3d3" stroke-width="1.9"/>
<line x1="350.5" y1="496.5" x2="337.0" y2="513.0" stroke="#d3d3d3" stroke-width="1.9"/>
<line x1="350.5" y1="496.5" x2="347.8" y2="507.2" stroke="#d3d3d3" stroke-width="1.9"/>
<line x1="350.5" y1="496.5" x2="360.5" y2="517.3" stroke="#d3d3d3" stroke-width="1.9"/>
<line x1="430.3" y1="416.5" x2="450.7" y2="418.8" stroke="#d3d3d3" stroke-width="1.9"/>
<line x1="430.3" y1="416.5" x2="446.0" y2="402.0" stroke="#d3d3d3" stroke-width="1.9"/>
<line x1="430.3" y1="416.5" x2="428.5" y2="404.8" stroke="#d3d3d3" stroke-width="1.9"/>
<line x1="430.3" y1="416.5" x2="436.5" y2="403.7" stroke="#d3d3d3" stroke-width="1.9"/>
<line x1="447.8" y1="431.1" x2="441.9" y2="423.1" stroke="#d3d3d3" stroke-width="1.9"/>
<line x1="447.8" y1="431.1" x2="446.7" y2="447.0" stroke="#d3d3d3" stroke-width="1.9"/>
<line x1="447.8" y1="431.1" x2="447.9" y2="422.2" stroke="#d3d3d3" stroke-width="1.9"/>
<line x1="447.8" y1="431.1" x2="463.8" y2="419.5" stroke="#d3d3d3" stroke-width="1.9"/>
<line x1="447.8" y1="431.1" x2="468.6" y2="433.9" stroke="#d3d3d3" stroke-width="1.9"/>
<line x1="447.8" y1="431.1" x2="446.3" y2="439.9" stroke="#d3d3d3" stroke-width="1.9"/>
<line x1="447.8" y1="431.1" x2="448.9" y2="454.7" stroke="#d3d3d3" stroke-width="1.9"/>
<line x1="297.1" y1="394.1" x2="313.7" y2="394.6" stroke="#d3d3d3" stroke-width="1.9"/>
<line x1="297.1" y1="394.1" x2="305.8" y2="403.7" stroke="#d3d3d3" stroke-width="1.9"/>
<line x1="297.1" y1="394.1" x2="293.1" y2="408.9" stroke="#d3d3d3" stroke-width="1.9"/>
<line x1="297.1" y1="394.1" x2="315.4" y2="386.7" stroke="#d3d3d3" stroke-width="1.9"/>
<line x1="297.1" y1="394.1" x2="275.5" y2="404.3" stroke="#d3d3d3" stroke-width="1.9"/>
<line x1="297.1" y1="394.1" x2="296.8" y2="405.1" stroke="#d3d3d3" stroke-width="1.9"/>
<line x1="348.5" y1="386.2" x2="341.3" y2="363.7" stroke="#d3d3d3" stroke-width="1.9"/>
<line x1="348.5" y1="386.2" x2="330.1" y2="383.3" stroke="#d3d3d3" stroke-width="1.9"/>
<line x1="348.5" y1="386.2" x2="349.3" y2="365.3" stroke="#d3d3d3" stroke-width="1.9"/>
<line x1="348.5" y1="386.2" x2="345.0" y2="377.0" stroke="#d3d3d3" stroke-width="1.9"/>
<line x1="348.5" y1="386.2" x2="335.4" y2="380.7" stroke="#d3d3d3" stroke-width="1.9"/>
<line x1="348.5" y1="386.2" x2="357.9" y2="371.4" stroke="#d3d3d3" stroke-width="1.9"/>
<line x1="308.5" y1="425.4" x2="320.4" y2="407.4" stroke="#d3d3d3" stroke-width="1.9"/>
<line x1="308.5" y1="425.4" x2="316.5" y2="442.9" stroke="#d3d3d3" stroke-width="1.9"/>
<line x1="308.5" y1="425.4" x2="294.2" y2="423.1" stroke="#d3d3d3" stroke-width="1.9"/>
<line x1="308.5" y1="425.4" x2="325.3" y2="440.4" stroke="#d3d3d3" stroke-width="1.9"/>
<line x1="246.2" y1="528.6" x2="239.9" y2="539.6" stroke="#d3d3d3" stroke-width="1.9"/>
<line x1="246.2" y1="528.6" x2="239.4" y2="533.8" stroke="#d3d3d3" stroke-width="1.9"/>
<line x1="389.9" y1="266.7" x2="405.5" y2="283.9" stroke="#d3d3d3" stroke-width="1.9"/>
<line x1="389.9" y1="266.7" x2="378.8" y2="262.8" stroke="#d3d3d3" stroke-width="1.9"/>
<line x1="389.9" y1="266.7" x2="376.7" y2="271.1" stroke="#d3d3d3" stroke-width="1.9"/>
<line x1="418.9" y1="337.2" x2="402.7" y2="320.4" stroke="#d3d3d3" stroke-width="1.9"/>
<line x1="418.9" y1="337.2" x2="425.4" y2="322.0" stroke="#d3d3d3" stroke-width="1.9"/>
<line x1="418.9" y1="337.2" x2="400.0" y2="334.6" stroke="#d3d3d3" stroke-width="1.9"/>
<line x1="213.8" y1="322.6" x2="209.9" y2="314.9" stroke="#d3d3d3" stroke-width="1.9"/>
<line x1="213.8" y1="322.6" x2="217.9" y2="314.8" stroke="#d3d3d3" stroke-width="1.9"/>
<line x1="468.9" y1="315.0" x2="482.8" y2="314.9" stroke="#d3d3d3" stroke-width="1.9"/>
<line x1="468.9" y1="315.0" x2="471.6" y2="326.8" stroke="#d3d3d3" stroke-width="1.9"/>
<line x1="468.9" y1="315.0" x2="473.4" y2="338.1" stroke="#d3d3d3" stroke-width="1.9"/>
<line x1="317.1" y1="205.2" x2="314.1" y2="215.2" stroke="#d3d3d3" stroke-width="1.9"/>
<line x1="317.1" y1="205.2" x2="325.2" y2="194.1" stroke="#d3d3d3" stroke-width="1.9"/>
<line x1="317.1" y1="205.2" x2="296.7" y2="207.9" stroke="#d3d3d3" stroke-width="1.9"/>
<line x1="317.1" y1="205.2" x2="323.9" y2="219.8" stroke="#d3d3d3" stroke-width="1.9"/>
<line x1="284.2" y1="246.4" x2="272.1" y2="257.1" stroke="#d3d3d3" stroke-width="1.9"/>
<line x1="284.2" y1="246.4" x2="283.4" y2="266.6" stroke="#d3d3d3" stroke-width="1.9"/>
<line x1="284.2" y1="246.4" x2="292.0" y2="238.4" stroke="#d3d3d3" stroke-width="1.9"/>
<line x1="284.2" y1="246.4" x2="273.8" y2="236.5" stroke="#d3d3d3" stroke-width="1.9"/>
<line x1="284.2" y1="246.4" x2="272.1" y2="232.6" stroke="#d3d3d3" stroke-width="1.9"/>
<line x1="284.2" y1="246.4" x2="262.1" y2="239.4" stroke="#d3d3d3" stroke-width="1.9"/>
<line x1="268.3" y1="267.3" x2="260.7" y2="270.6" stroke="#d3d3d3" stroke-width="1.9"/>
<line x1="268.3" y1="267.3" x2="268.0" y2="257.2" stroke="#d3d3d3" stroke-width="1.9"/>
<line x1="456.1" y1="259.5" x2="444.1" y2="253.5" stroke="#d3d3d3" stroke-width="1.9"/>
<line x1="456.1" y1="259.5" x2="448.8" y2="271.1" stroke="#d3d3d3" stroke-width="1.9"/>
<line x1="456.1" y1="259.5" x2="439.8" y2="261.4" stroke="#d3d3d3" stroke-width="1.9"/>
<line x1="456.1" y1="259.5" x2="460.1" y2="272.7" stroke="#d3d3d3" stroke-width="1.9"/>
<line x1="194.9" y1="273.8" x2="186.4" y2="278.8" stroke="#d3d3d3" stroke-width="1.9"/>
<line x1="194.9" y1="273.8" x2="185.5" y2="268.4" stroke="#d3d3d3" stroke-width="1.9"/>
<line x1="194.9" y1="273.8" x2="179.7" y2="291.9" stroke="#d3d3d3" stroke-width="1.9"/>
<line x1="194.9" y1="273.8" x2="179.8" y2="279.1" stroke="#d3d3d3" stroke-width="1.9"/>
<line x1="194.9" y1="273.8" x2="206.8" y2="276.2" stroke="#d3d3d3" stroke-width="1.9"/>
<line x1="194.9" y1="273.8" x2="209.0" y2="284.8" stroke="#d3d3d3" stroke-width="1.9"/>
<line x1="194.9" y1="273.8" x2="201.0" y2="282.7" stroke="#d3d3d3" stroke-width="1.9"/>
<line x1="197.0" y1="282.6" x2="178.4" y2="270.4" stroke="#d3d3d3" stroke-width="1.9"/>
<line x1="197.0" y1="282.6" x2="183.7" y2="294.2" stroke="#d3d3d3" stroke-width="1.9"/>
<line x1="197.0" y1="282.6" x2="219.2" y2="279.6" stroke="#d3d3d3" stroke-width="1.9"/>
<line x1="197.0" y1="282.6" x2="196.9" y2="268.2" stroke="#d3d3d3" stroke-width="1.9"/>
<line x1="406.7" y1="292.6" x2="426.3" y2="301.9" stroke="#d3d3d3" stroke-width="1.9"/>
<line x1="406.7" y1="292.6" x2="398.6" y2="290.7" stroke="#d3d3d3" stroke-width="1.9"/>
<line x1="406.7" y1="292.6" x2="395.5" y2="306.9" stroke="#d3d3d3" stroke-width="1.9"/>
<line x1="406.7" y1="292.6" x2="410.8" y2="313.5" stroke="#d3d3d3" stroke-width="1.9"/>
<line x1="186.3" y1="228.7" x2="164.3" y2="219.4" stroke="#d3d3d3" stroke-width="1.9"/>
<line x1="186.3" y1="228.7" x2="193.8" y2="222.6" stroke="#d3d3d3" stroke-width="1.9"/>
<line x1="186.3" y1="228.7" x2="206.3" y2="238.2" stroke="#d3d3d3" stroke-width="1.9"/>
<line x1="281.7" y1="489.0" x2="301.3" y2="497.3" stroke="#d3d3d3" stroke-width="1.9"/>
<line x1="281.7" y1="489.0" x2="288.7" y2="478.9" stroke="#d3d3d3" stroke-width="1.9"/>
<line x1="300.7" y1="455.4" x2="291.0" y2="447.0" stroke="#d3d3d3" stroke-width="1.9"/>
<line x1="300.7" y1="455.4" x2="319.1" y2="445.4" stroke="#d3d3d3" stroke-width="1.9"/>
<line x1="280.3" y1="252.3" x2="274.6" y2="239.9" stroke="#d3d3d3" stroke-width="1.9"/>
<line x1="280.3" y1="252.3" x2="295.0" y2="243.9" stroke="#d3d3d3" stroke-width="1.9"/>
<line x1="280.3" y1="252.3" x2="260.1" y2="252.8" stroke="#d3d3d3" stroke-width="1.9"/>
<line x1="280.3" y1="252.3" x2="266.2" y2="246.5" stroke="#d3d3d3" stroke-width="1.9"/>
<line x1="250.0" y1="281.4" x2="262.0" y2="294.5" stroke="#d3d3d3" stroke-width="1.9"/>
<line x1="250.0" y1="281.4" x2="232.4" y2="265.7" stroke="#d3d3d3" stroke-width="1.9"/>
<line x1="250.0" y1="281.4" x2="267.2" y2="269.5" stroke="#d3d3d3" stroke-width="1.9"/>
<line x1="250.0" y1="281.4" x2="252.3" y2="266.1" stroke="#d3d3d3" stroke-width="1.9"/>
<line x1="250.0" y1="281.4" x2="242.0" y2="279.8" stroke="#d3d3d3" stroke-width="1.9"/>
<line x1="302.9" y1="474.8" x2="298.6" y2="467.4" stroke="#d3d3d3" stroke-width="1.9"/>
<line x1="302.9" y1="474.8" x2="294.8" y2="480.7" stroke="#d3d3d3" stroke-width="1.9"/>
<line x1="302.9" y1="474.8" x2="295.3" y2="494.9" stroke="#d3d3d3" stroke-width="1.9"/>
<line x1="302.9" y1="474.8" x2="321.3" y2="475.0" stroke="#d3d3d3" stroke-width="1.9"/>
<line x1="302.9" y1="474.8" x2="320.7" y2="463.2" stroke="#d3d3d3" stroke-width="1.9"/>
<line x1="229.1" y1="349.4" x2="210.2" y2="350.7" stroke="#d3d3d3" stroke-width="1.9"/>
<line x1="229.1" y1="349.4" x2="237.6" y2="356.0" stroke="#d3d3d3" stroke-width="1.9"/>
<line x1="229.1" y1="349.4" x2="213.0" y2="352.3" stroke="#d3d3d3" stroke-width="1.9"/>
<line x1="229.1" y1="349.4" x2="237.4" y2="366.0" stroke="#d3d3d3" stroke-width="1.9"/>
<line x1="229.1" y1="349.4" x2="207.6" y2="340.2" stroke="#d3d3d3" stroke-width="1.9"/>
<line x1="229.1" y1="349.4" x2="246.4" y2="344.3" stroke="#d3d3d3" stroke-width="1.9"/>
<line x1="229.1" y1="349.4" x2="243.0" y2="358.0" stroke="#d3d3d3" stroke-width="1.9"/>
<line x1="423.9" y1="253.8" x2="426.9" y2="264.2" stroke="#d3d3d3" stroke-width="1.9"/>
<line x1="423.9" y1="253.8" x2="421.6" y2="245.2" stroke="#d3d3d3" stroke-width="1.9"/>
<line x1="423.9" y1="253.8" x2="442.5" y2="249.7" stroke="#d3d3d3" stroke-width="1.9"/>
<line x1="423.9" y1="253.8" x2="436.0" y2="251.3" stroke="#d3d3d3" stroke-width="1.9"/>
<line x1="423.9" y1="253.8" x2="423.6" y2="262.6" stroke="#d3d3d3" stroke-width="1.9"/>
<line x1="423.9" y1="253.8" x2="433.6" y2="263.9" stroke="#d3d3d3" stroke-width="1.9"/>
<line x1="423.9" y1="253.8" x2="408.0" y2="261.0" stroke="#d3d3d3" stroke-width="1.9"/>
<line x1="270.2" y1="463.5" x2="257.4" y2="483.2" stroke="#d3d3d3" stroke-width="1.9"/>
<line x1="270.2" y1="463.5" x2="277.7" y2="476.1" stroke="#d3d3d3" stroke-width="1.9"/>
<line x1="462.3" y1="328.2" x2="451.7" y2="333.2" stroke="#d3d3d3" stroke-width="1.9"/>
<line x1="462.3" y1="328.2" x2="461.2" y2="318.7" stroke="#d3d3d3" stroke-width="1.9"/>
<line x1="373.0" y1="457.2" x2="379.9" y2="468.3" stroke="#d3d3d3" stroke-width="1.9"/>
<line x1="373.0" y1="457.2" x2="368.1" y2="444.4" stroke="#d3d3d3" stroke-width="1.9"/>
<line x1="373.0" y1="457.2" x2="374.1" y2="465.7" stroke="#d3d3d3" stroke-width="1.9"/>
<line x1="373.0" y1="457.2" x2="376.0" y2="444.7" stroke="#d3d3d3" stroke-width="1.9"/>
<line x1="373.0" y1="457.2" x2="370.2" y2="478.5" stroke="#d3d3d3" stroke-width="1.9"/>
<line x1="387.5" y1="453.5" x2="388.2" y2="445.2" stroke="#d3d3d3" stroke-width="1.9"/>
<line x1="387.5" y1="453.5" x2="382.5" y2="474.2" stroke="#d3d3d3" stroke-width="1.9"/>
<line x1="387.5" y1="453.5" x2="376.8" y2="455.1" stroke="#d3d3d3" stroke-width="1.9"/>
<line x1="387.5" y1="453.5" x2="398.9" y2="452.4" stroke="#d3d3d3" stroke-width="1.9"/>
<line x1="387.5" y1="453.5" x2="395.6" y2="470.8" stroke="#d3d3d3" stroke-width="1.9"/>
<line x1="387.5" y1="453.5" x2="406.8" y2="451.9" stroke="#d3d3d3" stroke-width="1.9"/>
<line x1="211.0" y1="210.7" x2="233.4" y2="213.0" stroke="#d3d3d3" stroke-width="1.9"/>
<line x1="211.0" y1="210.7" x2="218.8" y2="193.9" stroke="#d3d3d3" stroke-width="1.9"/>
<line x1="211.0" y1="210.7" x2="206.1" y2="231.0" stroke="#d3d3d3" stroke-width="1.9"/>
<line x1="211.0" y1="210.7" x2="200.5" y2="196.5" stroke="#d3d3d3" stroke-width="1.9"/>
<line x1="211.0" y1="210.7" x2="193.3" y2="204.7" stroke="#d3d3d3" stroke-width="1.9"/>
<line x1="211.0" y1="210.7" x2="203.8" y2="193.8" stroke="#d3d3d3" stroke-width="1.9"/>
<line x1="211.0" y1="210.7" x2="230.2" y2="208.9" stroke="#d3d3d3" stroke-width="1.9"/>
<line x1="159.8" y1="322.6" x2="145.3" y2="304.0" stroke="#d3d3d3" stroke-width="1.9"/>
<line x1="159.8" y1="322.6" x2="169.1" y2="305.5" stroke="#d3d3d3" stroke-width="1.9"/>
<line x1="159.8" y1="322.6" x2="154.5" y2="329.0" stroke="#d3d3d3" stroke-width="1.9"/>
<line x1="363.2" y1="502.2" x2="357.6" y2="512.1" stroke="#d3d3d3" stroke-width="1.9"/>
<line x1="363.2" y1="502.2" x2="364.9" y2="525.8" stroke="#d3d3d3" stroke-width="1.9"/>
<line x1="363.2" y1="502.2" x2="372.2" y2="501.4" stroke="#d3d3d3" stroke-width="1.9"/>
<line x1="363.2" y1="502.2" x2="362.8" y2="511.4" stroke="#d3d3d3" stroke-width="1.9"/>
<line x1="363.2" y1="502.2" x2="372.8" y2="480.3" stroke="#d3d3d3" stroke-width="1.9"/>
<line x1="363.2" y1="502.2" x2="386.0" y2="499.6" stroke="#d3d3d3" stroke-width="1.9"/>
<line x1="467.2" y1="355.6" x2="454.2" y2="355.5" stroke="#d3d3d3" stroke-width="1.9"/>
<line x1="467.2" y1="355.6" x2="469.7" y2="344.3" stroke="#d3d3d3" stroke-width="1.9"/>
<line x1="298.3" y1="431.5" x2="304.7" y2="426.2" stroke="#d3d3d3" stroke-width="1.9"/>
<line x1="298.3" y1="431.5" x2="278.0" y2="429.6" stroke="#d3d3d3" stroke-width="1.9"/>
<line x1="167.5" y1="317.1" x2="174.9" y2="325.6" stroke="#d3d3d3" stroke-width="1.9"/>
<line x1="167.5" y1="317.1" x2="185.2" y2="324.4" stroke="#d3d3d3" stroke-width="1.9"/>
<line x1="167.5" y1="317.1" x2="155.5" y2="332.0" stroke="#d3d3d3" stroke-width="1.9"/>
<line x1="167.5" y1="317.1" x2="176.8" y2="332.8" stroke="#d3d3d3" stroke-width="1.9"/>
<line x1="167.5" y1="317.1" x2="165.4" y2="331.9" stroke="#d3d3d3" stroke-width="1.9"/>
<line x1="257.5" y1="359.6" x2="249.8" y2="343.4" stroke="#d3d3d3" stroke-width="1.9"/>
<line x1="257.5" y1="359.6" x2="260.7" y2="380.9" stroke="#d3d3d3" stroke-width="1.9"/>
<line x1="373.4" y1="326.0" x2="359.4" y2="307.0" stroke="#d3d3d3" stroke-width="1.9"/>
<line x1="373.4" y1="326.0" x2="359.5" y2="326.4" stroke="#d3d3d3" stroke-width="1.9"/>
<line x1="373.4" y1="326.0" x2="382.2" y2="317.5" stroke="#d3d3d3" stroke-width="1.9"/>
<line x1="373.4" y1="326.0" x2="385.2" y2="318.8" stroke="#d3d3d3" stroke-width="1.9"/>
<line x1="373.4" y1="326.0" x2="355.5" y2="337.7" stroke="#d3d3d3" stroke-width="1.9"/>
<line x1="373.4" y1="326.0" x2="373.8" y2="315.1" stroke="#d3d3d3" stroke-width="1.9"/>
<line x1="359.4" y1="370.0" x2="355.8" y2="384.8" stroke="#d3d3d3" stroke-width="1.9"/>
<line x1="359.4" y1="370.0" x2="369.2" y2="356.4" stroke="#d3d3d3" stroke-width="1.9"/>
<line x1="359.4" y1="370.0" x2="353.7" y2="362.8" stroke="#d3d3d3" stroke-width="1.9"/>
<line x1="359.4" y1="370.0" x2="366.0" y2="384.0" stroke="#d3d3d3" stroke-width="1.9"/>
<line x1="359.4" y1="370.0" x2="360.3" y2="378.3" stroke="#d3d3d3" stroke-width="1.9"/>
<line x1="359.4" y1="370.0" x2="365.0" y2="357.3" stroke="#d3d3d3" stroke-width="1.9"/>
<line x1="399.6" y1="420.7" x2="402.4" y2="431.6" stroke="#d3d3d3" stroke-width="1.9"/>
<line x1="399.6" y1="420.7" x2="420.3" y2="417.9" stroke="#d3d3d3" stroke-width="1.9"/>
<line x1="399.6" y1="420.7" x2="407.7" y2="421.9" stroke="#d3d3d3" stroke-width="1.9"/>
<line x1="182.7" y1="377.6" x2="198.3" y2="395.2" stroke="#d3d3d3" stroke-width="1.9"/>
<line x1="182.7" y1="377.6" x2="167.7" y2="381.6" stroke="#d3d3d3" stroke-width="1.9"/>
<line x1="182.7" y1="377.6" x2="189.6" y2="387.2" stroke="#d3d3d3" stroke-width="1.9"/>
<line x1="274.0" y1="277.2" x2="283.3" y2="263.6" stroke="#d3d3d3" stroke-width="1.9"/>
<line x1="274.0" y1="277.2" x2="284.6" y2="294.0" stroke="#d3d3d3" stroke-width="1.9"/>
<line x1="274.0" y1="277.2" x2="282.8" y2="282.6" stroke="#d3d3d3" stroke-width="1.9"/>
<line x1="274.0" y1="277.2" x2="285.3" y2="287.0" stroke="#d3d3d3" stroke-width="1.9"/>
<line x1="429.4" y1="365.4" x2="425.7" y2="380.8" stroke="#d3d3d3" stroke-width="1.9"/>
<line x1="429.4" y1="365.4" x2="410.9" y2="370.8" stroke="#d3d3d3" stroke-width="1.9"/>
<line x1="429.4" y1="365.4" x2="412.1" y2="357.2" stroke="#d3d3d3" stroke-width="1.9"/>
<line x1="429.4" y1="365.4" x2="441.0" y2="370.6" stroke="#d3d3d3" stroke-width="1.9"/>
<line x1="434.1" y1="270.9" x2="412.0" y2="271.6" stroke="#d3d3d3" stroke-width="1.9"/>
<line x1="434.1" y1="270.9" x2="416.4" y2="266.3" stroke="#d3d3d3" stroke-width="1.9"/>
<line x1="345.1" y1="317.7" x2="332.9" y2="307.5" stroke="#d3d3d3" stroke-width="1.9"/>
<line x1="345.1" y1="317.7" x2="340.8" y2="338.1" stroke="#d3d3d3" stroke-width="1.9"/>
<line x1="345.1" y1="317.7" x2="344.1" y2="330.6" stroke="#d3d3d3" stroke-width="1.9"/>
<line x1="345.1" y1="317.7" x2="356.5" y2="321.1" stroke="#d3d3d3" stroke-width="1.9"/>
<line x1="345.1" y1="317.7" x2="359.0" y2="310.4" stroke="#d3d3d3" stroke-width="1.9"/>
<line x1="345.1" y1="317.7" x2="343.1" y2="302.0" stroke="#d3d3d3" stroke-width="1.9"/>
<line x1="345.1" y1="317.7" x2="343.8" y2="331.3" stroke="#d3d3d3" stroke-width="1.9"/>
<line x1="425.4" y1="325.8" x2="425.5" y2="316.7" stroke="#d3d3d3" stroke-width="1.9"/>
<line x1="425.4" y1="325.8" x2="436.1" y2="334.6" stroke="#d3d3d3" stroke-width="1.9"/>
<line x1="440.3" y1="246.1" x2="433.8" y2="266.0" stroke="#d3d3d3" stroke-width="1.9"/>
<line x1="440.3" y1="246.1" x2="430.3" y2="245.4" stroke="#d3d3d3" stroke-width="1.9"/>
<line x1="440.3" y1="246.1" x2="448.5" y2="265.3" stroke="#d3d3d3" stroke-width="1.9"/>
<line x1="440.3" y1="246.1" x2="447.5" y2="239.5" stroke="#d3d3d3" stroke-width="1.9"/>
<line x1="440.3" y1="246.1" x2="451.8" y2="253.4" stroke="#d3d3d3" stroke-width="1.9"/>
<line x1="247.2" y1="254.2" x2="252.5" y2="239.6" stroke="#d3d3d3" stroke-width="1.9"/>
<line x1="247.2" y1="254.2" x2="268.7" y2="246.6" stroke="#d3d3d3" stroke-width="1.9"/>
<line x1="236.9" y1="321.5" x2="245.7" y2="310.0" stroke="#d3d3d3" stroke-width="1.9"/>
<line x1="236.9" y1="321.5" x2="228.1" y2="331.1" stroke="#d3d3d3" stroke-width="1.9"/>
<line x1="236.9" y1="321.5" x2="227.4" y2="305.5" stroke="#d3d3d3" stroke-width="1.9"/>
<line x1="236.9" y1="321.5" x2="225.1" y2="310.2" stroke="#d3d3d3" stroke-width="1.9"/>
<line x1="236.9" y1="321.5" x2="233.1" y2="314.3" stroke="#d3d3d3" stroke-width="1.9"/>
<line x1="236.9" y1="321.5" x2="218.0" y2="324.1" stroke="#d3d3d3" stroke-width="1.9"/>
<line x1="236.9" y1="321.5" x2="234.2" y2="300.6" stroke="#d3d3d3" stroke-width="1.9"/>
<line x1="356.3" y1="298.5" x2="378.4" y2="306.2" stroke="#d3d3d3" stroke-width="1.9"/>
<line x1="356.3" y1="298.5" x2="357.0" y2="311.5" stroke="#d3d3d3" stroke-width="1.9"/>
<line x1="356.3" y1="298.5" x2="351.2" y2="309.7" stroke="#d3d3d3" stroke-width="1.9"/>
<line x1="356.3" y1="298.5" x2="367.0" y2="291.2" stroke="#d3d3d3" stroke-width="1.9"/>
<line x1="356.3" y1="298.5" x2="350.2" y2="314.3" stroke="#d3d3d3" stroke-width="1.9"/>
<line x1="356.3" y1="298.5" x2="347.4" y2="307.6" stroke="#d3d3d3" stroke-width="1.9"/>
<line x1="447.9" y1="364.4" x2="445.2" y2="372.2" stroke="#d3d3d3" stroke-width="1.9"/>
<line x1="447.9" y1="364.4" x2="463.2" y2="347.4" stroke="#d3d3d3" stroke-width="1.9"/>
<line x1="447.9" y1="364.4" x2="432.9" y2="375.4" stroke="#d3d3d3" stroke-width="1.9"/>
<line x1="447.9" y1="364.4" x2="470.9" y2="366.1" stroke="#d3d3d3" stroke-width="1.9"/>
<line x1="447.9" y1="364.4" x2="429.8" y2="349.2" stroke="#d3d3d3" stroke-width="1.9"/>
<line x1="378.0" y1="359.0" x2="371.0" y2="375.1" stroke="#d3d3d3" stroke-width="1.9"/>
<line x1="378.0" y1="359.0" x2="388.6" y2="369.8" stroke="#d3d3d3" stroke-width="1.9"/>
<line x1="378.0" y1="359.0" x2="364.5" y2="357.3" stroke="#d3d3d3" stroke-width="1.9"/>
<line x1="378.0" y1="359.0" x2="366.2" y2="372.2" stroke="#d3d3d3" stroke-width="1.9"/>
<line x1="378.0" y1="359.0" x2="365.3" y2="351.8" stroke="#d3d3d3" stroke-width="1.9"/>
<line x1="378.0" y1="359.0" x2="372.2" y2="350.6" stroke="#d3d3d3" stroke-width="1.9"/>
<line x1="487.8" y1="266.0" x2="480.1" y2="270.5" stroke="#d3d3d3" stroke-width="1.9"/>
<line x1="487.8" y1="266.0" x2="501.8" y2="275.2" stroke="#d3d3d3" stroke-width="1.9"/>
<line x1="487.8" y1="266.0" x2="488.1" y2="277.7" stroke="#d3d3d3" stroke-width="1.9"/>
<line x1="284.1" y1="428.2" x2="290.0" y2="408.6" stroke="#d3d3d3" stroke-width="1.9"/>
<line x1="284.1" y1="428.2" x2="280.7" y2="447.2" stroke="#d3d3d3" stroke-width="1.9"/>
<line x1="284.1" y1="428.2" x2="295.8" y2="447.4" stroke="#d3d3d3" stroke-width="1.9"/>
<line x1="284.1" y1="428.2" x2="276.9" y2="409.1" stroke="#d3d3d3" stroke-width="1.9"/>
<line x1="284.1" y1="428.2" x2="271.6" y2="423.8" stroke="#d3d3d3" stroke-width="1.9"/>
<line x1="284.1" y1="428.2" x2="297.8" y2="428.2" stroke="#d3d3d3" stroke-width="1.9"/>
<line x1="284.1" y1="428.2" x2="279.7" y2="436.3" stroke="#d3d3d3" stroke-width="1.9"/>
<line x1="231.1" y1="254.9" x2="244.7" y2="262.1" stroke="#d3d3d3" stroke-width="1.9"/>
<line x1="231.1" y1="254.9" x2="235.6" y2="269.8" stroke="#d3d3d3" stroke-width="1.9"/>
<line x1="231.1" y1="254.9" x2="242.1" y2="253.3" stroke="#d3d3d3" stroke-width="1.9"/>
<line x1="231.1" y1="254.9" x2="223.5" y2="270.5" stroke="#d3d3d3" stroke-width="1.9"/>
<line x1="231.1" y1="254.9" x2="224.1" y2="244.1" stroke="#d3d3d3" stroke-width="1.9"/>
<line x1="231.1" y1="254.9" x2="218.5" y2="264.7" stroke="#d3d3d3" stroke-width="1.9"/>
<line x1="262.5" y1="494.5" x2="270.5" y2="510.9" stroke="#d3d3d3" stroke-width="1.9"/>
<line x1="262.5" y1="494.5" x2="259.6" y2="502.4" stroke="#d3d3d3" stroke-width="1.9"/>
<line x1="262.5" y1="494.5" x2="251.5" y2="496.1" stroke="#d3d3d3" stroke-width="1.9"/>
<line x1="262.5" y1="494.5" x2="256.5" y2="502.7" stroke="#d3d3d3" stroke-width="1.9"/>
<line x1="262.5" y1="494.5" x2="251.7" y2="503.8" stroke="#d3d3d3" stroke-width="1.9"/>
<line x1="262.5" y1="494.5" x2="274.6" y2="499.5" stroke="#d3d3d3" stroke-width="1.9"/>
<line x1="359.4" y1="460.9" x2="374.1" y2="463.1" stroke="#d3d3d3" stroke-width="1.9"/>
<line x1="359.4" y1="460.9" x2="349.7" y2="466.6" stroke="#d3d3d3" stroke-width="1.9"/>
<line x1="359.4" y1="460.9" x2="351.2" y2="464.9" stroke="#d3d3d3" stroke-width="1.9"/>
<line x1="359.4" y1="460.9" x2="374.6" y2="454.9" stroke="#d3d3d3" stroke-width="1.9"/>
<line x1="359.4" y1="460.9" x2="355.6" y2="477.2" stroke="#d3d3d3" stroke-width="1.9"/>
<line x1="229.5" y1="390.5" x2="234.9" y2="384.2" stroke="#d3d3d3" stroke-width="1.9"/>
<line x1="229.5" y1="390.5" x2="212.8" y2="395.7" stroke="#d3d3d3" stroke-width="1.9"/>
<line x1="229.5" y1="390.5" x2="228.6" y2="369.6" stroke="#d3d3d3" stroke-width="1.9"/>
<line x1="229.5" y1="390.5" x2="249.7" y2="383.3" stroke="#d3d3d3" stroke-width="1.9"/>
<line x1="229.5" y1="390.5" x2="228.0" y2="401.6" stroke="#d3d3d3" stroke-width="1.9"/>
<line x1="380.7" y1="366.8" x2="362.6" y2="379.1" stroke="#d3d3d3" stroke-width="1.9"/>
<line x1="380.7" y1="366.8" x2="381.4" y2="388.0" stroke="#d3d3d3" stroke-width="1.9"/>
<line x1="380.7" y1="366.8" x2="388.8" y2="363.9" stroke="#d3d3d3" stroke-width="1.9"/>
<line x1="380.7" y1="366.8" x2="375.8" y2="355.7" stroke="#d3d3d3" stroke-width="1.9"/>
<line x1="380.7" y1="366.8" x2="364.9" y2="372.0" stroke="#d3d3d3" stroke-width="1.9"/>
<line x1="380.7" y1="366.8" x2="378.3" y2="345.2" stroke="#d3d3d3" stroke-width="1.9"/>
<line x1="380.7" y1="366.8" x2="388.3" y2="346.0" stroke="#d3d3d3" stroke-width="1.9"/>
<line x1="481.8" y1="397.9" x2="467.0" y2="400.3" stroke="#d3d3d3" stroke-width="1.9"/>
<line x1="481.8" y1="397.9" x2="471.1" y2="389.9" stroke="#d3d3d3" stroke-width="1.9"/>
<line x1="481.8" y1="397.9" x2="486.9" y2="382.0" stroke="#d3d3d3" stroke-width="1.9"/>
<line x1="481.8" y1="397.9" x2="466.9" y2="404.4" stroke="#d3d3d3" stroke-width="1.9"/>
<line x1="451.8" y1="390.8" x2="440.4" y2="375.2" stroke="#d3d3d3" stroke-width="1.9"/>
<line x1="451.8" y1="390.8" x2="472.5" y2="397.1" stroke="#d3d3d3" stroke-width="1.9"/>
<line x1="451.8" y1="390.8" x2="457.7" y2="401.5" stroke="#d3d3d3" stroke-width="1.9"/>
<line x1="451.8" y1="390.8" x2="464.1" y2="382.6" stroke="#d3d3d3" stroke-width="1.9"/>
<line x1="451.8" y1="390.8" x2="452.6" y2="400.8" stroke="#d3d3d3" stroke-width="1.9"/>
<line x1="451.8" y1="390.8" x2="435.7" y2="404.0" stroke="#d3d3d3" stroke-width="1.9"/>
<line x1="451.8" y1="390.8" x2="437.1" y2="391.7" stroke="#d3d3d3" stroke-width="1.9"/>
<line x1="495.4" y1="346.5" x2="490.5" y2="365.5" stroke="#d3d3d3" stroke-width="1.9"/>
<line x1="495.4" y1="346.5" x2="506.8" y2="345.0" stroke="#d3d3d3" stroke-width="1.9"/>
<line x1="495.4" y1="346.5" x2="496.8" y2="370.0" stroke="#d3d3d3" stroke-width="1.9"/>
<line x1="495.4" y1="346.5" x2="477.2" y2="336.4" stroke="#d3d3d3" stroke-width="1.9"/>
<line x1="393.0" y1="512.4" x2="399.3" y2="507.3" stroke="#d3d3d3" stroke-width="1.9"/>
<line x1="393.0" y1="512.4" x2="411.0" y2="508.7" stroke="#d3d3d3" stroke-width="1.9"/>
<line x1="393.0" y1="512.4" x2="394.7" y2="527.9" stroke="#d3d3d3" stroke-width="1.9"/>
<line x1="498.7" y1="270.0" x2="483.9" y2="280.7" stroke="#d3d3d3" stroke-width="1.9"/>
<line x1="498.7" y1="270.0" x2="489.1" y2="271.1" stroke="#d3d3d3" stroke-width="1.9"/>
<line x1="392.5" y1="381.8" x2="409.3" y2="397.9" stroke="#d3d3d3" stroke-width="1.9"/>
<line x1="392.5" y1="381.8" x2="389.4" y2="373.5" stroke="#d3d3d3" stroke-width="1.9"/>
<line x1="242.2" y1="491.1" x2="237.9" y2="498.8" stroke="#d3d3d3" stroke-width="1.9"/>
<line x1="242.2" y1="491.1" x2="220.6" y2="488.4" stroke="#d3d3d3" stroke-width="1.9"/>
<line x1="242.2" y1="491.1" x2="232.3" y2="498.0" stroke="#d3d3d3" stroke-width="1.9"/>
<line x1="484.5" y1="312.3" x2="479.9" y2="335.6" stroke="#d3d3d3" stroke-width="1.9"/>
<line x1="484.5" y1="312.3" x2="492.5" y2="319.9" stroke="#d3d3d3" stroke-width="1.9"/>
<line x1="484.5" y1="312.3" x2="489.5" y2="305.5" stroke="#d3d3d3" stroke-width="1.9"/>
<line x1="484.5" y1="312.3" x2="489.8" y2="327.9" stroke="#d3d3d3" stroke-width="1.9"/>
<line x1="329.2" y1="251.3" x2="327.5" y2="263.5" stroke="#d3d3d3" stroke-width="1.9"/>
<line x1="329.2" y1="251.3" x2="333.3" y2="271.7" stroke="#d3d3d3" stroke-width="1.9"/>
<line x1="329.2" y1="251.3" x2="345.8" y2="252.7" stroke="#d3d3d3" stroke-width="1.9"/>
<line x1="329.2" y1="251.3" x2="341.1" y2="249.2" stroke="#d3d3d3" stroke-width="1.9"/>
<line x1="329.2" y1="251.3" x2="317.8" y2="254.7" stroke="#d3d3d3" stroke-width="1.9"/>
<line x1="329.2" y1="251.3" x2="333.0" y2="269.9" stroke="#d3d3d3" stroke-width="1.9"/>
<line x1="329.2" y1="251.3" x2="340.5" y2="256.3" stroke="#d3d3d3" stroke-width="1.9"/>
<line x1="324.2" y1="232.1" x2="332.0" y2="246.0" stroke="#d3d3d3" stroke-width="1.9"/>
<line x1="324.2" y1="232.1" x2="332.2" y2="233.6" stroke="#d3d3d3" stroke-width="1.9"/>
<line x1="324.2" y1="232.1" x2="321.0" y2="245.8" stroke="#d3d3d3" stroke-width="1.9"/>
<line x1="395.5" y1="270.8" x2="394.5" y2="258.5" stroke="#d3d3d3" stroke-width="1.9"/>
<line x1="395.5" y1="270.8" x2="393.1" y2="249.1" stroke="#d3d3d3" stroke-width="1.9"/>
<line x1="395.5" y1="270.8" x2="398.7" y2="281.5" stroke="#d3d3d3" stroke-width="1.9"/>
<line x1="395.5" y1="270.8" x2="412.0" y2="267.1" stroke="#d3d3d3" stroke-width="1.9"/>
<line x1="395.5" y1="270.8" x2="401.0" y2="250.6" stroke="#d3d3d3" stroke-width="1.9"/>
<line x1="395.5" y1="270.8" x2="403.6" y2="273.8" stroke="#d3d3d3" stroke-width="1.9"/>
<line x1="260.0" y1="500.0" x2="366.8" y2="493.7" stroke="#d3d3d3" stroke-width="1.9"/>
<line x1="300.0" y1="218.0" x2="311.6" y2="289.7" stroke="#d3d3d3" stroke-width="1.9"/>
<line x1="401.5" y1="314.4" x2="451.9" y2="363.6" stroke="#d3d3d3" stroke-width="1.9"/>
<line x1="420.0" y1="405.0" x2="465.3" y2="283.7" stroke="#d3d3d3" stroke-width="1.9"/>
<line x1="401.5" y1="314.4" x2="489.2" y2="267.5" stroke="#d3d3d3" stroke-width="1.9"/>
<line x1="360.0" y1="430.0" x2="338.0" y2="417.7" stroke="#d3d3d3" stroke-width="1.9"/>
<line x1="232.3" y1="297.7" x2="253.8" y2="291.1" stroke="#d3d3d3" stroke-width="1.9"/>
<line x1="386.0" y1="376.0" x2="484.0" y2="353.4" stroke="#d3d3d3" stroke-width="1.9"/>
<line x1="232.3" y1="297.7" x2="172.0" y2="309.4" stroke="#d3d3d3" stroke-width="1.9"/>
<line x1="488.7" y1="254.6" x2="480.8" y2="280.5" stroke="#d3d3d3" stroke-width="1.9"/>
<line x1="516.5" y1="323.9" x2="441.1" y2="280.9" stroke="#d3d3d3" stroke-width="1.9"/>
<line x1="366.3" y1="231.1" x2="338.9" y2="225.3" stroke="#d3d3d3" stroke-width="1.9"/>
<line x1="298.0" y1="454.6" x2="279.4" y2="390.0" stroke="#d3d3d3" stroke-width="1.9"/>
<line x1="341.6" y1="358.3" x2="368.5" y2="306.7" stroke="#d3d3d3" stroke-width="1.9"/>
<line x1="401.5" y1="314.4" x2="402.4" y2="371.2" stroke="#d3d3d3" stroke-width="1.9"/>
<line x1="366.3" y1="231.1" x2="321.2" y2="222.0" stroke="#d3d3d3" stroke-width="1.9"/>
<line x1="270.0" y1="380.0" x2="233.4" y2="269.3" stroke="#d3d3d3" stroke-width="1.9"/>
<line x1="391.3" y1="266.2" x2="303.0" y2="277.1" stroke="#d3d3d3" stroke-width="1.9"/>
<line x1="391.3" y1="266.2" x2="309.7" y2="298.5" stroke="#d3d3d3" stroke-width="1.9"/>
<line x1="360.0" y1="430.0" x2="270.2" y2="363.9" stroke="#d3d3d3" stroke-width="1.9"/>
<line x1="225.0" y1="394.9" x2="282.7" y2="413.4" stroke="#d3d3d3" stroke-width="1.9"/>
<line x1="433.0" y1="303.8" x2="451.6" y2="248.1" stroke="#d3d3d3" stroke-width="1.9"/>
<line x1="225.0" y1="394.9" x2="350.2" y2="368.5" stroke="#d3d3d3" stroke-width="1.9"/>
<line x1="225.0" y1="394.9" x2="218.7" y2="421.4" stroke="#d3d3d3" stroke-width="1.9"/>
<line x1="341.6" y1="358.3" x2="420.1" y2="387.7" stroke="#d3d3d3" stroke-width="1.9"/>
<line x1="298.0" y1="454.6" x2="241.2" y2="401.9" stroke="#d3d3d3" stroke-width="1.9"/>
<line x1="300.0" y1="300.0" x2="344.3" y2="316.9" stroke="#d3d3d3" stroke-width="1.9"/>
<line x1="401.5" y1="314.4" x2="282.1" y2="254.5" stroke="#d3d3d3" stroke-width="1.9"/>
<line x1="401.5" y1="314.4" x2="303.0" y2="271.8" stroke="#d3d3d3" stroke-width="1.9"/>
<line x1="504.3" y1="253.1" x2="521.0" y2="360.6" stroke="#d3d3d3" stroke-width="1.9"/>
<line x1="455.0" y1="250.0" x2="400.7" y2="223.1" stroke="#d3d3d3" stroke-width="1.9"/>
<line x1="340.0" y1="218.0" x2="321.8" y2="252.1" stroke="#d3d3d3" stroke-width="1.9"/>
<line x1="270.0" y1="380.0" x2="172.9" y2="342.6" stroke="#d3d3d3" stroke-width="1.9"/>
<line x1="160.0" y1="300.0" x2="215.3" y2="383.8" stroke="#d3d3d3" stroke-width="1.9"/>
<line x1="366.3" y1="231.1" x2="418.2" y2="311.7" stroke="#d3d3d3" stroke-width="1.9"/>
<line x1="341.6" y1="358.3" x2="360.5" y2="479.5" stroke="#d3d3d3" stroke-width="1.9"/>
<line x1="194.1" y1="344.0" x2="304.9" y2="375.8" stroke="#d3d3d3" stroke-width="1.9"/>
<line x1="461.7" y1="204.1" x2="414.5" y2="332.0" stroke="#d3d3d3" stroke-width="1.9"/>
<line x1="391.3" y1="266.2" x2="472.5" y2="310.9" stroke="#d3d3d3" stroke-width="1.9"/>
<line x1="298.0" y1="454.6" x2="387.1" y2="376.9" stroke="#d3d3d3" stroke-width="1.9"/>
<line x1="420.0" y1="405.0" x2="325.2" y2="388.5" stroke="#d3d3d3" stroke-width="1.9"/>
<line x1="461.7" y1="204.1" x2="431.8" y2="329.5" stroke="#d3d3d3" stroke-width="1.9"/>
<line x1="366.3" y1="231.1" x2="245.3" y2="231.1" stroke="#d3d3d3" stroke-width="1.9"/>
<line x1="488.7" y1="254.6" x2="553.1" y2="264.6" stroke="#d3d3d3" stroke-width="1.9"/>
<line x1="327.1" y1="507.7" x2="320.1" y2="454.7" stroke="#d3d3d3" stroke-width="1.9"/>
<line x1="185.4" y1="274.4" x2="223.7" y2="291.0" stroke="#d3d3d3" stroke-width="1.9"/>
<line x1="194.1" y1="344.0" x2="324.6" y2="301.6" stroke="#d3d3d3" stroke-width="1.9"/>
<line x1="185.4" y1="274.4" x2="185.1" y2="218.0" stroke="#d3d3d3" stroke-width="1.9"/>
<line x1="232.3" y1="297.7" x2="142.9" y2="277.6" stroke="#d3d3d3" stroke-width="1.9"/>
<line x1="300.0" y1="300.0" x2="305.4" y2="203.2" stroke="#d3d3d3" stroke-width="1.9"/>
<line x1="270.0" y1="380.0" x2="218.0" y2="456.3" stroke="#d3d3d3" stroke-width="1.9"/>
<line x1="360.0" y1="430.0" x2="332.4" y2="491.1" stroke="#d3d3d3" stroke-width="1.9"/>
<line x1="516.5" y1="323.9" x2="479.2" y2="204.0" stroke="#d3d3d3" stroke-width="1.9"/>
<line x1="327.1" y1="507.7" x2="332.3" y2="386.9" stroke="#d3d3d3" stroke-width="1.9"/>
<line x1="225.0" y1="394.9" x2="249.8" y2="418.3" stroke="#d3d3d3" stroke-width="1.9"/>
<line x1="327.1" y1="507.7" x2="269.7" y2="468.6" stroke="#d3d3d3" stroke-width="1.9"/>
<line x1="340.0" y1="218.0" x2="324.5" y2="351.8" stroke="#d3d3d3" stroke-width="1.9"/>
<line x1="480.6" y1="384.6" x2="409.6" y2="272.5" stroke="#d3d3d3" stroke-width="1.9"/>
<line x1="160.0" y1="300.0" x2="116.4" y2="313.6" stroke="#d3d3d3" stroke-width="1.9"/>
<line x1="341.6" y1="358.3" x2="367.2" y2="437.8" stroke="#d3d3d3" stroke-width="1.9"/>
<line x1="366.3" y1="231.1" x2="430.6" y2="329.1" stroke="#d3d3d3" stroke-width="1.9"/>
<line x1="401.5" y1="314.4" x2="324.6" y2="209.4" stroke="#d3d3d3" stroke-width="1.9"/>
<line x1="270.0" y1="380.0" x2="381.7" y2="327.7" stroke="#d3d3d3" stroke-width="1.9"/>
<line x1="210.0" y1="440.0" x2="306.0" y2="347.8" stroke="#d3d3d3" stroke-width="1.9"/>
<line x1="298.0" y1="454.6" x2="362.3" y2="465.3" stroke="#d3d3d3" stroke-width="1.9"/>
<line x1="420.0" y1="405.0" x2="388.3" y2="518.0" stroke="#d3d3d3" stroke-width="1.9"/>
<line x1="340.0" y1="218.0" x2="297.9" y2="317.3" stroke="#d3d3d3" stroke-width="1.9"/>
<line x1="455.0" y1="250.0" x2="418.9" y2="289.0" stroke="#d3d3d3" stroke-width="1.9"/>
<line x1="401.5" y1="314.4" x2="320.5" y2="309.6" stroke="#d3d3d3" stroke-width="1.9"/>
<line x1="420.0" y1="405.0" x2="443.8" y2="399.2" stroke="#d3d3d3" stroke-width="1.9"/>
<line x1="360.0" y1="430.0" x2="322.3" y2="380.1" stroke="#d3d3d3" stroke-width="1.9"/>
<line x1="225.0" y1="394.9" x2="188.9" y2="377.5" stroke="#d3d3d3" stroke-width="1.9"/>
<line x1="265.1" y1="446.8" x2="393.0" y2="476.9" stroke="#d3d3d3" stroke-width="1.9"/>
<line x1="225.0" y1="394.9" x2="286.9" y2="351.4" stroke="#d3d3d3" stroke-width="1.9"/>
<line x1="300.0" y1="300.0" x2="268.5" y2="273.9" stroke="#d3d3d3" stroke-width="1.9"/>
<line x1="454.4" y1="453.4" x2="392.6" y2="486.9" stroke="#d3d3d3" stroke-width="1.9"/>
<line x1="454.4" y1="453.4" x2="382.9" y2="480.3" stroke="#d3d3d3" stroke-width="1.9"/>
<line x1="454.4" y1="453.4" x2="400.9" y2="492.0" stroke="#d3d3d3" stroke-width="1.9"/>
<line x1="454.4" y1="453.4" x2="391.7" y2="487.6" stroke="#d3d3d3" stroke-width="1.9"/>
<line x1="454.4" y1="453.4" x2="406.7" y2="502.3" stroke="#d3d3d3" stroke-width="1.9"/>
<line x1="454.4" y1="453.4" x2="398.6" y2="482.7" stroke="#d3d3d3" stroke-width="1.9"/>
<line x1="454.4" y1="453.4" x2="403.4" y2="485.5" stroke="#d3d3d3" stroke-width="1.9"/>
<line x1="454.4" y1="453.4" x2="401.6" y2="488.1" stroke="#d3d3d3" stroke-width="1.9"/>
<line x1="454.4" y1="453.4" x2="400.0" y2="494.3" stroke="#d3d3d3" stroke-width="1.9"/>
<line x1="454.4" y1="453.4" x2="385.5" y2="475.4" stroke="#d3d3d3" stroke-width="1.9"/>
<line x1="454.4" y1="453.4" x2="409.9" y2="499.0" stroke="#d3d3d3" stroke-width="1.9"/>
<line x1="454.4" y1="453.4" x2="394.0" y2="484.4" stroke="#d3d3d3" stroke-width="1.9"/>
<line x1="454.4" y1="453.4" x2="375.0" y2="467.1" stroke="#d3d3d3" stroke-width="1.9"/>
<line x1="399.3" y1="491.4" x2="405.7" y2="481.5" stroke="#d3d3d3" stroke-width="1.9"/>
<line x1="378.8" y1="474.7" x2="380.1" y2="469.8" stroke="#d3d3d3" stroke-width="1.9"/>
<line x1="387.1" y1="481.5" x2="380.3" y2="466.4" stroke="#d3d3d3" stroke-width="1.9"/>
<line x1="402.6" y1="494.0" x2="380.3" y2="449.8" stroke="#d3d3d3" stroke-width="1.9"/>
<line x1="408.7" y1="498.9" x2="386.7" y2="472.4" stroke="#d3d3d3" stroke-width="1.9"/>
<line x1="404.9" y1="495.9" x2="366.1" y2="463.7" stroke="#d3d3d3" stroke-width="1.9"/>
<line x1="397.5" y1="489.9" x2="397.9" y2="470.2" stroke="#d3d3d3" stroke-width="1.9"/>
<line x1="397.2" y1="489.6" x2="388.5" y2="461.0" stroke="#d3d3d3" stroke-width="1.9"/>
<circle cx="388.0" cy="298.8" r="1.2" fill="#f1e4bd" stroke="#fff" stroke-width="0.9"/>
<circle cx="295.8" cy="350.5" r="1.2" fill="#f1e4bd" stroke="#fff" stroke-width="0.9"/>
<circle cx="313.9" cy="360.8" r="1.2" fill="#f1e4bd" stroke="#fff" stroke-width="0.9"/>
<circle cx="369.9" cy="390.4" r="1.2" fill="#f1e4bd" stroke="#fff" stroke-width="0.9"/>
<circle cx="422.4" cy="332.0" r="1.2" fill="#f1e4bd" stroke="#fff" stroke-width="0.9"/>
<circle cx="283.7" cy="321.2" r="1.2" fill="#f1e4bd" stroke="#fff" stroke-width="0.9"/>
<circle cx="255.0" cy="347.8" r="1.2" fill="#f1e4bd" stroke="#fff" stroke-width="0.9"/>
<circle cx="366.0" cy="362.0" r="1.2" fill="#f1e4bd" stroke="#fff" stroke-width="0.9"/>
<circle cx="345.2" cy="281.4" r="1.2" fill="#f1e4bd" stroke="#fff" stroke-width="0.9"/>
<circle cx="366.6" cy="315.0" r="1.2" fill="#f1e4bd" stroke="#fff" stroke-width="0.9"/>
<circle cx="336.8" cy="420.1" r="1.2" fill="#f1e4bd" stroke="#fff" stroke-width="0.9"/>
<circle cx="349.6" cy="439.9" r="1.2" fill="#f1e4bd" stroke="#fff" stroke-width="0.9"/>
<circle cx="351.0" cy="314.3" r="1.2" fill="#f1e4bd" stroke="#fff" stroke-width="0.9"/>
<circle cx="339.1" cy="440.0" r="1.2" fill="#f1e4bd" stroke="#fff" stroke-width="0.9"/>
<circle cx="331.6" cy="291.0" r="1.2" fill="#f1e4bd" stroke="#fff" stroke-width="0.9"/>
<circle cx="342.9" cy="395.5" r="1.2" fill="#f1e4bd" stroke="#fff" stroke-width="0.9"/>
<circle cx="417.3" cy="310.9" r="1.2" fill="#f1e4bd" stroke="#fff" stroke-width="0.9"/>
<circle cx="301.7" cy="422.8" r="1.2" fill="#f1e4bd" stroke="#fff" stroke-width="0.9"/>
<circle cx="264.8" cy="370.0" r="1.2" fill="#f1e4bd" stroke="#fff" stroke-width="0.9"/>
<circle cx="369.3" cy="341.8" r="1.2" fill="#f1e4bd" stroke="#fff" stroke-width="0.9"/>
<circle cx="295.0" cy="429.8" r="1.2" fill="#f1e4bd" stroke="#fff" stroke-width="0.9"/>
<circle cx="386.5" cy="409.7" r="1.2" fill="#f1e4bd" stroke="#fff" stroke-width="0.9"/>
<circle cx="320.3" cy="380.3" r="1.2" fill="#f1e4bd" stroke="#fff" stroke-width="0.9"/>
<circle cx="326.7" cy="379.4" r="1.2" fill="#f1e4bd" stroke="#fff" stroke-width="0.9"/>
<circle cx="282.7" cy="343.1" r="1.2" fill="#f1e4bd" stroke="#fff" stroke-width="0.9"/>
<circle cx="346.3" cy="385.6" r="1.2" fill="#f1e4bd" stroke="#fff" stroke-width="0.9"/>
<circle cx="365.5" cy="396.2" r="1.2" fill="#f1e4bd" stroke="#fff" stroke-width="0.9"/>
<circle cx="280.4" cy="374.1" r="1.2" fill="#f1e4bd" stroke="#fff" stroke-width="0.9"/>
<circle cx="365.5" cy="355.0" r="1.2" fill="#f1e4bd" stroke="#fff" stroke-width="0.9"/>
<circle cx="375.2" cy="422.2" r="1.2" fill="#f1e4bd" stroke="#fff" stroke-width="0.9"/>
<circle cx="340.5" cy="314.7" r="1.2" fill="#f1e4bd" stroke="#fff" stroke-width="0.9"/>
<circle cx="437.0" cy="323.9" r="1.2" fill="#f1e4bd" stroke="#fff" stroke-width="0.9"/>
<circle cx="384.0" cy="353.3" r="1.2" fill="#f1e4bd" stroke="#fff" stroke-width="0.9"/>
<circle cx="361.6" cy="324.6" r="1.2" fill="#f1e4bd" stroke="#fff" stroke-width="0.9"/>
<circle cx="424.1" cy="293.7" r="1.2" fill="#f1e4bd" stroke="#fff" stroke-width="0.9"/>
<circle cx="395.6" cy="279.7" r="1.2" fill="#f1e4bd" stroke="#fff" stroke-width="0.9"/>
<circle cx="453.3" cy="350.5" r="1.2" fill="#f1e4bd" stroke="#fff" stroke-width="0.9"/>
<circle cx="357.6" cy="310.5" r="1.2" fill="#f1e4bd" stroke="#fff" stroke-width="0.9"/>
<circle cx="368.2" cy="278.1" r="1.2" fill="#f1e4bd" stroke="#fff" stroke-width="0.9"/>
<circle cx="438.8" cy="307.3" r="1.2" fill="#f1e4bd" stroke="#fff" stroke-width="0.9"/>
<circle cx="434.9" cy="252.9" r="1.2" fill="#f1e4bd" stroke="#fff" stroke-width="0.9"/>
<circle cx="327.1" cy="287.5" r="1.2" fill="#f1e4bd" stroke="#fff" stroke-width="0.9"/>
<circle cx="359.7" cy="313.6" r="1.2" fill="#f1e4bd" stroke="#fff" stroke-width="0.9"/>
<circle cx="478.2" cy="304.1" r="1.2" fill="#f1e4bd" stroke="#fff" stroke-width="0.9"/>
<circle cx="411.5" cy="284.5" r="1.2" fill="#f1e4bd" stroke="#fff" stroke-width="0.9"/>
<circle cx="453.3" cy="321.9" r="1.2" fill="#f1e4bd" stroke="#fff" stroke-width="0.9"/>
<circle cx="456.6" cy="289.5" r="1.2" fill="#f1e4bd" stroke="#fff" stroke-width="0.9"/>
<circle cx="429.0" cy="285.6" r="1.2" fill="#f1e4bd" stroke="#fff" stroke-width="0.9"/>
<circle cx="381.2" cy="294.6" r="1.2" fill="#f1e4bd" stroke="#fff" stroke-width="0.9"/>
<circle cx="418.0" cy="241.6" r="1.2" fill="#f1e4bd" stroke="#fff" stroke-width="0.9"/>
<circle cx="369.7" cy="342.6" r="1.2" fill="#f1e4bd" stroke="#fff" stroke-width="0.9"/>
<circle cx="355.8" cy="214.9" r="1.2" fill="#f1e4bd" stroke="#fff" stroke-width="0.9"/>
<circle cx="412.5" cy="317.2" r="1.2" fill="#f1e4bd" stroke="#fff" stroke-width="0.9"/>
<circle cx="421.1" cy="247.7" r="1.2" fill="#f1e4bd" stroke="#fff" stroke-width="0.9"/>
<circle cx="374.1" cy="296.0" r="1.2" fill="#f1e4bd" stroke="#fff" stroke-width="0.9"/>
<circle cx="347.1" cy="256.2" r="1.2" fill="#f1e4bd" stroke="#fff" stroke-width="0.9"/>
<circle cx="393.3" cy="303.3" r="1.2" fill="#f1e4bd" stroke="#fff" stroke-width="0.9"/>
<circle cx="443.2" cy="248.9" r="1.2" fill="#f1e4bd" stroke="#fff" stroke-width="0.9"/>
<circle cx="416.1" cy="259.7" r="1.2" fill="#f1e4bd" stroke="#fff" stroke-width="0.9"/>
<circle cx="346.1" cy="210.8" r="1.2" fill="#f1e4bd" stroke="#fff" stroke-width="0.9"/>
<circle cx="362.3" cy="261.1" r="1.2" fill="#f1e4bd" stroke="#fff" stroke-width="0.9"/>
<circle cx="382.9" cy="324.8" r="1.2" fill="#f1e4bd" stroke="#fff" stroke-width="0.9"/>
<circle cx="379.2" cy="223.5" r="1.2" fill="#f1e4bd" stroke="#fff" stroke-width="0.9"/>
<circle cx="408.0" cy="252.1" r="1.2" fill="#f1e4bd" stroke="#fff" stroke-width="0.9"/>
<circle cx="420.9" cy="296.9" r="1.2" fill="#f1e4bd" stroke="#fff" stroke-width="0.9"/>
<circle cx="369.0" cy="217.7" r="1.2" fill="#f1e4bd" stroke="#fff" stroke-width="0.9"/>
<circle cx="371.9" cy="269.4" r="1.2" fill="#f1e4bd" stroke="#fff" stroke-width="0.9"/>
<circle cx="455.2" cy="247.1" r="1.2" fill="#f1e4bd" stroke="#fff" stroke-width="0.9"/>
<circle cx="417.5" cy="290.7" r="1.2" fill="#f1e4bd" stroke="#fff" stroke-width="0.9"/>
<circle cx="237.4" cy="290.4" r="1.2" fill="#f1e4bd" stroke="#fff" stroke-width="0.9"/>
<circle cx="261.2" cy="282.8" r="1.2" fill="#f1e4bd" stroke="#fff" stroke-width="0.9"/>
<circle cx="268.6" cy="306.5" r="1.2" fill="#f1e4bd" stroke="#fff" stroke-width="0.9"/>
<circle cx="242.7" cy="297.5" r="1.2" fill="#f1e4bd" stroke="#fff" stroke-width="0.9"/>
<circle cx="285.3" cy="221.9" r="1.2" fill="#f1e4bd" stroke="#fff" stroke-width="0.9"/>
<circle cx="241.2" cy="273.5" r="1.2" fill="#f1e4bd" stroke="#fff" stroke-width="0.9"/>
<circle cx="258.3" cy="298.1" r="1.2" fill="#f1e4bd" stroke="#fff" stroke-width="0.9"/>
<circle cx="265.9" cy="235.3" r="1.2" fill="#f1e4bd" stroke="#fff" stroke-width="0.9"/>
<circle cx="330.3" cy="270.7" r="1.2" fill="#f1e4bd" stroke="#fff" stroke-width="0.9"/>
<circle cx="274.0" cy="199.8" r="1.2" fill="#f1e4bd" stroke="#fff" stroke-width="0.9"/>
<circle cx="245.9" cy="237.0" r="1.2" fill="#f1e4bd" stroke="#fff" stroke-width="0.9"/>
<circle cx="277.6" cy="189.4" r="1.2" fill="#f1e4bd" stroke="#fff" stroke-width="0.9"/>
<circle cx="311.3" cy="295.8" r="1.2" fill="#f1e4bd" stroke="#fff" stroke-width="0.9"/>
<circle cx="265.9" cy="265.4" r="1.2" fill="#f1e4bd" stroke="#fff" stroke-width="0.9"/>
<circle cx="228.1" cy="226.2" r="1.2" fill="#f1e4bd" stroke="#fff" stroke-width="0.9"/>
<circle cx="213.8" cy="249.3" r="1.2" fill="#f1e4bd" stroke="#fff" stroke-width="0.9"/>
<circle cx="214.7" cy="293.5" r="1.2" fill="#f1e4bd" stroke="#fff" stroke-width="0.9"/>
<circle cx="277.0" cy="251.7" r="1.2" fill="#f1e4bd" stroke="#fff" stroke-width="0.9"/>
<circle cx="247.1" cy="245.5" r="1.2" fill="#f1e4bd" stroke="#fff" stroke-width="0.9"/>
<circle cx="257.6" cy="242.9" r="1.2" fill="#f1e4bd" stroke="#fff" stroke-width="0.9"/>
<circle cx="252.5" cy="278.4" r="1.2" fill="#f1e4bd" stroke="#fff" stroke-width="0.9"/>
<circle cx="189.1" cy="277.4" r="1.2" fill="#f1e4bd" stroke="#fff" stroke-width="0.9"/>
<circle cx="270.8" cy="350.9" r="1.2" fill="#f1e4bd" stroke="#fff" stroke-width="0.9"/>
<circle cx="276.4" cy="271.8" r="1.2" fill="#f1e4bd" stroke="#fff" stroke-width="0.9"/>
<circle cx="277.5" cy="256.7" r="1.2" fill="#f1e4bd" stroke="#fff" stroke-width="0.9"/>
<circle cx="282.1" cy="312.9" r="1.2" fill="#f1e4bd" stroke="#fff" stroke-width="0.9"/>
<circle cx="248.1" cy="308.5" r="1.2" fill="#f1e4bd" stroke="#fff" stroke-width="0.9"/>
<circle cx="252.6" cy="306.1" r="1.2" fill="#f1e4bd" stroke="#fff" stroke-width="0.9"/>
<circle cx="206.4" cy="252.5" r="1.2" fill="#f1e4bd" stroke="#fff" stroke-width="0.9"/>
<circle cx="210.6" cy="325.3" r="1.2" fill="#f1e4bd" stroke="#fff" stroke-width="0.9"/>
<circle cx="214.9" cy="341.2" r="1.2" fill="#f1e4bd" stroke="#fff" stroke-width="0.9"/>
<circle cx="199.7" cy="295.3" r="1.2" fill="#f1e4bd" stroke="#fff" stroke-width="0.9"/>
<circle cx="217.4" cy="258.2" r="1.2" fill="#f1e4bd" stroke="#fff" stroke-width="0.9"/>
<circle cx="189.2" cy="289.8" r="1.2" fill="#f1e4bd" stroke="#fff" stroke-width="0.9"/>
<circle cx="226.5" cy="315.2" r="1.2" fill="#f1e4bd" stroke="#fff" stroke-width="0.9"/>
<circle cx="272.5" cy="254.2" r="1.2" fill="#f1e4bd" stroke="#fff" stroke-width="0.9"/>
<circle cx="338.4" cy="252.1" r="1.2" fill="#f1e4bd" stroke="#fff" stroke-width="0.9"/>
<circle cx="386.7" cy="241.4" r="1.2" fill="#f1e4bd" stroke="#fff" stroke-width="0.9"/>
<circle cx="388.0" cy="205.6" r="1.2" fill="#f1e4bd" stroke="#fff" stroke-width="0.9"/>
<circle cx="383.3" cy="253.9" r="1.2" fill="#f1e4bd" stroke="#fff" stroke-width="0.9"/>
<circle cx="326.7" cy="248.1" r="1.2" fill="#f1e4bd" stroke="#fff" stroke-width="0.9"/>
<circle cx="398.4" cy="207.9" r="1.2" fill="#f1e4bd" stroke="#fff" stroke-width="0.9"/>
<circle cx="332.8" cy="213.3" r="1.2" fill="#f1e4bd" stroke="#fff" stroke-width="0.9"/>
<circle cx="405.0" cy="250.1" r="1.2" fill="#f1e4bd" stroke="#fff" stroke-width="0.9"/>
<circle cx="351.0" cy="213.3" r="1.2" fill="#f1e4bd" stroke="#fff" stroke-width="0.9"/>
<circle cx="541.5" cy="304.1" r="1.2" fill="#f1e4bd" stroke="#fff" stroke-width="0.9"/>
<circle cx="421.1" cy="302.7" r="1.2" fill="#f1e4bd" stroke="#fff" stroke-width="0.9"/>
<circle cx="453.9" cy="255.9" r="1.2" fill="#f1e4bd" stroke="#fff" stroke-width="0.9"/>
<circle cx="498.8" cy="265.4" r="1.2" fill="#f1e4bd" stroke="#fff" stroke-width="0.9"/>
<circle cx="487.6" cy="322.8" r="1.2" fill="#f1e4bd" stroke="#fff" stroke-width="0.9"/>
<circle cx="488.1" cy="323.3" r="1.2" fill="#f1e4bd" stroke="#fff" stroke-width="0.9"/>
<circle cx="460.4" cy="265.8" r="1.2" fill="#f1e4bd" stroke="#fff" stroke-width="0.9"/>
<circle cx="452.9" cy="321.0" r="1.2" fill="#f1e4bd" stroke="#fff" stroke-width="0.9"/>
<circle cx="473.8" cy="313.3" r="1.2" fill="#f1e4bd" stroke="#fff" stroke-width="0.9"/>
<circle cx="430.0" cy="292.0" r="1.2" fill="#f1e4bd" stroke="#fff" stroke-width="0.9"/>
<circle cx="539.1" cy="320.5" r="1.2" fill="#f1e4bd" stroke="#fff" stroke-width="0.9"/>
<circle cx="445.7" cy="254.6" r="1.2" fill="#f1e4bd" stroke="#fff" stroke-width="0.9"/>
<circle cx="209.1" cy="364.1" r="1.2" fill="#f1e4bd" stroke="#fff" stroke-width="0.9"/>
<circle cx="210.6" cy="353.9" r="1.2" fill="#f1e4bd" stroke="#fff" stroke-width="0.9"/>
<circle cx="218.0" cy="364.4" r="1.2" fill="#f1e4bd" stroke="#fff" stroke-width="0.9"/>
<circle cx="206.6" cy="366.1" r="1.2" fill="#f1e4bd" stroke="#fff" stroke-width="0.9"/>
<circle cx="157.6" cy="342.2" r="1.2" fill="#f1e4bd" stroke="#fff" stroke-width="0.9"/>
<circle cx="185.2" cy="358.9" r="1.2" fill="#f1e4bd" stroke="#fff" stroke-width="0.9"/>
<circle cx="216.0" cy="335.3" r="1.2" fill="#f1e4bd" stroke="#fff" stroke-width="0.9"/>
<circle cx="210.0" cy="333.7" r="1.2" fill="#f1e4bd" stroke="#fff" stroke-width="0.9"/>
<circle cx="174.2" cy="283.5" r="1.2" fill="#f1e4bd" stroke="#fff" stroke-width="0.9"/>
<circle cx="244.6" cy="387.2" r="1.2" fill="#f1e4bd" stroke="#fff" stroke-width="0.9"/>
<circle cx="254.4" cy="328.0" r="1.2" fill="#f1e4bd" stroke="#fff" stroke-width="0.9"/>
<circle cx="157.6" cy="289.6" r="1.2" fill="#f1e4bd" stroke="#fff" stroke-width="0.9"/>
<circle cx="197.9" cy="324.4" r="1.2" fill="#f1e4bd" stroke="#fff" stroke-width="0.9"/>
<circle cx="208.3" cy="380.9" r="1.2" fill="#f1e4bd" stroke="#fff" stroke-width="0.9"/>
<circle cx="184.9" cy="319.2" r="1.2" fill="#f1e4bd" stroke="#fff" stroke-width="0.9"/>
<circle cx="211.0" cy="344.1" r="1.2" fill="#f1e4bd" stroke="#fff" stroke-width="0.9"/>
<circle cx="181.0" cy="328.6" r="1.2" fill="#f1e4bd" stroke="#fff" stroke-width="0.9"/>
<circle cx="234.0" cy="293.7" r="1.2" fill="#f1e4bd" stroke="#fff" stroke-width="0.9"/>
<circle cx="192.0" cy="303.7" r="1.2" fill="#f1e4bd" stroke="#fff" stroke-width="0.9"/>
<circle cx="208.1" cy="390.0" r="1.2" fill="#f1e4bd" stroke="#fff" stroke-width="0.9"/>
<circle cx="188.6" cy="298.5" r="1.2" fill="#f1e4bd" stroke="#fff" stroke-width="0.9"/>
<circle cx="233.2" cy="352.9" r="1.2" fill="#f1e4bd" stroke="#fff" stroke-width="0.9"/>
<circle cx="178.4" cy="360.3" r="1.2" fill="#f1e4bd" stroke="#fff" stroke-width="0.9"/>
<circle cx="204.7" cy="361.1" r="1.2" fill="#f1e4bd" stroke="#fff" stroke-width="0.9"/>
<circle cx="252.3" cy="465.8" r="1.2" fill="#f1e4bd" stroke="#fff" stroke-width="0.9"/>
<circle cx="212.4" cy="416.9" r="1.2" fill="#f1e4bd" stroke="#fff" stroke-width="0.9"/>
<circle cx="237.8" cy="416.7" r="1.2" fill="#f1e4bd" stroke="#fff" stroke-width="0.9"/>
<circle cx="222.5" cy="444.3" r="1.2" fill="#f1e4bd" stroke="#fff" stroke-width="0.9"/>
<circle cx="322.0" cy="443.4" r="1.2" fill="#f1e4bd" stroke="#fff" stroke-width="0.9"/>
<circle cx="215.1" cy="485.9" r="1.2" fill="#f1e4bd" stroke="#fff" stroke-width="0.9"/>
<circle cx="284.3" cy="446.8" r="1.2" fill="#f1e4bd" stroke="#fff" stroke-width="0.9"/>
<circle cx="287.8" cy="477.7" r="1.2" fill="#f1e4bd" stroke="#fff" stroke-width="0.9"/>
<circle cx="223.4" cy="492.4" r="1.2" fill="#f1e4bd" stroke="#fff" stroke-width="0.9"/>
<circle cx="281.1" cy="464.4" r="1.2" fill="#f1e4bd" stroke="#fff" stroke-width="0.9"/>
<circle cx="274.0" cy="485.2" r="1.2" fill="#f1e4bd" stroke="#fff" stroke-width="0.9"/>
<circle cx="300.0" cy="491.1" r="1.2" fill="#f1e4bd" stroke="#fff" stroke-width="0.9"/>
<circle cx="311.3" cy="413.5" r="1.2" fill="#f1e4bd" stroke="#fff" stroke-width="0.9"/>
<circle cx="245.1" cy="506.9" r="1.2" fill="#f1e4bd" stroke="#fff" stroke-width="0.9"/>
<circle cx="310.8" cy="431.6" r="1.2" fill="#f1e4bd" stroke="#fff" stroke-width="0.9"/>
<circle cx="306.1" cy="457.5" r="1.2" fill="#f1e4bd" stroke="#fff" stroke-width="0.9"/>
<circle cx="265.4" cy="491.6" r="1.2" fill="#f1e4bd" stroke="#fff" stroke-width="0.9"/>
<circle cx="245.3" cy="479.4" r="1.2" fill="#f1e4bd" stroke="#fff" stroke-width="0.9"/>
<circle cx="286.1" cy="461.2" r="1.2" fill="#f1e4bd" stroke="#fff" stroke-width="0.9"/>
<circle cx="247.6" cy="465.7" r="1.2" fill="#f1e4bd" stroke="#fff" stroke-width="0.9"/>
<circle cx="226.0" cy="419.1" r="1.2" fill="#f1e4bd" stroke="#fff" stroke-width="0.9"/>
<circle cx="443.8" cy="409.0" r="1.2" fill="#f1e4bd" stroke="#fff" stroke-width="0.9"/>
<circle cx="462.1" cy="409.3" r="1.2" fill="#f1e4bd" stroke="#fff" stroke-width="0.9"/>
<circle cx="447.5" cy="413.4" r="1.2" fill="#f1e4bd" stroke="#fff" stroke-width="0.9"/>
<circle cx="505.8" cy="371.0" r="1.2" fill="#f1e4bd" stroke="#fff" stroke-width="0.9"/>
<circle cx="495.2" cy="372.8" r="1.2" fill="#f1e4bd" stroke="#fff" stroke-width="0.9"/>
<circle cx="458.7" cy="413.6" r="1.2" fill="#f1e4bd" stroke="#fff" stroke-width="0.9"/>
<circle cx="478.5" cy="368.4" r="1.2" fill="#f1e4bd" stroke="#fff" stroke-width="0.9"/>
<circle cx="494.1" cy="397.2" r="1.2" fill="#f1e4bd" stroke="#fff" stroke-width="0.9"/>
<circle cx="456.7" cy="367.5" r="1.2" fill="#f1e4bd" stroke="#fff" stroke-width="0.9"/>
<circle cx="496.7" cy="347.9" r="1.2" fill="#f1e4bd" stroke="#fff" stroke-width="0.9"/>
<circle cx="535.1" cy="335.7" r="1.2" fill="#f1e4bd" stroke="#fff" stroke-width="0.9"/>
<circle cx="539.0" cy="322.8" r="1.2" fill="#f1e4bd" stroke="#fff" stroke-width="0.9"/>
<circle cx="489.4" cy="328.5" r="1.2" fill="#f1e4bd" stroke="#fff" stroke-width="0.9"/>
<circle cx="490.7" cy="321.4" r="1.2" fill="#f1e4bd" stroke="#fff" stroke-width="0.9"/>
<circle cx="526.4" cy="330.4" r="1.2" fill="#f1e4bd" stroke="#fff" stroke-width="0.9"/>
<circle cx="356.8" cy="387.8" r="1.2" fill="#f1e4bd" stroke="#fff" stroke-width="0.9"/>
<circle cx="411.3" cy="339.1" r="1.2" fill="#f1e4bd" stroke="#fff" stroke-width="0.9"/>
<circle cx="407.4" cy="386.0" r="1.2" fill="#f1e4bd" stroke="#fff" stroke-width="0.9"/>
<circle cx="365.0" cy="373.3" r="1.2" fill="#f1e4bd" stroke="#fff" stroke-width="0.9"/>
<circle cx="399.6" cy="391.9" r="1.2" fill="#f1e4bd" stroke="#fff" stroke-width="0.9"/>
<circle cx="400.4" cy="351.9" r="1.2" fill="#f1e4bd" stroke="#fff" stroke-width="0.9"/>
<circle cx="387.7" cy="330.7" r="1.2" fill="#f1e4bd" stroke="#fff" stroke-width="0.9"/>
<circle cx="391.7" cy="424.2" r="1.2" fill="#f1e4bd" stroke="#fff" stroke-width="0.9"/>
<circle cx="388.1" cy="414.6" r="1.2" fill="#f1e4bd" stroke="#fff" stroke-width="0.9"/>
<circle cx="405.9" cy="309.4" r="1.2" fill="#f1e4bd" stroke="#fff" stroke-width="0.9"/>
<circle cx="415.8" cy="296.1" r="1.2" fill="#f1e4bd" stroke="#fff" stroke-width="0.9"/>
<circle cx="459.2" cy="318.1" r="1.2" fill="#f1e4bd" stroke="#fff" stroke-width="0.9"/>
<circle cx="415.8" cy="322.4" r="1.2" fill="#f1e4bd" stroke="#fff" stroke-width="0.9"/>
<circle cx="440.7" cy="319.3" r="1.2" fill="#f1e4bd" stroke="#fff" stroke-width="0.9"/>
<circle cx="437.2" cy="287.9" r="1.2" fill="#f1e4bd" stroke="#fff" stroke-width="0.9"/>
<circle cx="422.9" cy="333.0" r="1.2" fill="#f1e4bd" stroke="#fff" stroke-width="0.9"/>
<circle cx="451.3" cy="258.0" r="1.2" fill="#f1e4bd" stroke="#fff" stroke-width="0.9"/>
<circle cx="454.0" cy="302.7" r="1.2" fill="#f1e4bd" stroke="#fff" stroke-width="0.9"/>
<circle cx="342.3" cy="483.5" r="1.2" fill="#f1e4bd" stroke="#fff" stroke-width="0.9"/>
<circle cx="343.6" cy="513.1" r="1.2" fill="#f1e4bd" stroke="#fff" stroke-width="0.9"/>
<circle cx="331.9" cy="497.4" r="1.2" fill="#f1e4bd" stroke="#fff" stroke-width="0.9"/>
<circle cx="337.1" cy="511.9" r="1.2" fill="#f1e4bd" stroke="#fff" stroke-width="0.9"/>
<circle cx="324.6" cy="517.2" r="1.2" fill="#f1e4bd" stroke="#fff" stroke-width="0.9"/>
<circle cx="296.1" cy="469.6" r="1.2" fill="#f1e4bd" stroke="#fff" stroke-width="0.9"/>
<circle cx="284.2" cy="456.3" r="1.2" fill="#f1e4bd" stroke="#fff" stroke-width="0.9"/>
<circle cx="314.9" cy="457.2" r="1.2" fill="#f1e4bd" stroke="#fff" stroke-width="0.9"/>
<circle cx="298.3" cy="421.7" r="1.2" fill="#f1e4bd" stroke="#fff" stroke-width="0.9"/>
<circle cx="283.6" cy="426.8" r="1.2" fill="#f1e4bd" stroke="#fff" stroke-width="0.9"/>
<circle cx="307.5" cy="442.8" r="1.2" fill="#f1e4bd" stroke="#fff" stroke-width="0.9"/>
<circle cx="328.3" cy="464.4" r="1.2" fill="#f1e4bd" stroke="#fff" stroke-width="0.9"/>
<circle cx="324.4" cy="488.3" r="1.2" fill="#f1e4bd" stroke="#fff" stroke-width="0.9"/>
<circle cx="319.9" cy="455.6" r="1.2" fill="#f1e4bd" stroke="#fff" stroke-width="0.9"/>
<circle cx="421.5" cy="219.9" r="1.2" fill="#f1e4bd" stroke="#fff" stroke-width="0.9"/>
<circle cx="418.3" cy="210.4" r="1.2" fill="#f1e4bd" stroke="#fff" stroke-width="0.9"/>
<circle cx="411.5" cy="221.0" r="1.2" fill="#f1e4bd" stroke="#fff" stroke-width="0.9"/>
<circle cx="376.7" cy="217.7" r="1.2" fill="#f1e4bd" stroke="#fff" stroke-width="0.9"/>
<circle cx="423.2" cy="187.6" r="1.2" fill="#f1e4bd" stroke="#fff" stroke-width="0.9"/>
<circle cx="380.8" cy="193.7" r="1.2" fill="#f1e4bd" stroke="#fff" stroke-width="0.9"/>
<circle cx="196.0" cy="314.9" r="1.2" fill="#f1e4bd" stroke="#fff" stroke-width="0.9"/>
<circle cx="196.4" cy="227.2" r="1.2" fill="#f1e4bd" stroke="#fff" stroke-width="0.9"/>
<circle cx="178.8" cy="243.4" r="1.2" fill="#f1e4bd" stroke="#fff" stroke-width="0.9"/>
<circle cx="146.7" cy="268.2" r="1.2" fill="#f1e4bd" stroke="#fff" stroke-width="0.9"/>
<circle cx="190.7" cy="295.8" r="1.2" fill="#f1e4bd" stroke="#fff" stroke-width="0.9"/>
<circle cx="211.8" cy="237.4" r="1.2" fill="#f1e4bd" stroke="#fff" stroke-width="0.9"/>
<circle cx="232.4" cy="195.8" r="1.2" fill="#f1e4bd" stroke="#fff" stroke-width="0.9"/>
<circle cx="245.5" cy="202.0" r="1.2" fill="#f1e4bd" stroke="#fff" stroke-width="0.9"/>
<circle cx="222.2" cy="196.1" r="1.2" fill="#f1e4bd" stroke="#fff" stroke-width="0.9"/>
<circle cx="219.4" cy="258.4" r="1.2" fill="#f1e4bd" stroke="#fff" stroke-width="0.9"/>
<circle cx="196.4" cy="244.7" r="1.2" fill="#f1e4bd" stroke="#fff" stroke-width="0.9"/>
<circle cx="241.1" cy="215.3" r="1.2" fill="#f1e4bd" stroke="#fff" stroke-width="0.9"/>
<circle cx="194.5" cy="217.8" r="1.2" fill="#f1e4bd" stroke="#fff" stroke-width="0.9"/>
<circle cx="194.4" cy="194.9" r="1.2" fill="#f1e4bd" stroke="#fff" stroke-width="0.9"/>
<circle cx="229.1" cy="191.7" r="1.2" fill="#f1e4bd" stroke="#fff" stroke-width="0.9"/>
<circle cx="169.1" cy="199.1" r="1.2" fill="#f1e4bd" stroke="#fff" stroke-width="0.9"/>
<circle cx="174.6" cy="210.5" r="1.2" fill="#f1e4bd" stroke="#fff" stroke-width="0.9"/>
<circle cx="252.5" cy="374.1" r="1.2" fill="#f1e4bd" stroke="#fff" stroke-width="0.9"/>
<circle cx="202.3" cy="412.5" r="1.2" fill="#f1e4bd" stroke="#fff" stroke-width="0.9"/>
<circle cx="256.2" cy="425.9" r="1.2" fill="#f1e4bd" stroke="#fff" stroke-width="0.9"/>
<circle cx="238.7" cy="433.4" r="1.2" fill="#f1e4bd" stroke="#fff" stroke-width="0.9"/>
<circle cx="215.0" cy="432.4" r="1.2" fill="#f1e4bd" stroke="#fff" stroke-width="0.9"/>
<circle cx="207.9" cy="418.6" r="1.2" fill="#f1e4bd" stroke="#fff" stroke-width="0.9"/>
<circle cx="258.9" cy="357.1" r="1.2" fill="#f1e4bd" stroke="#fff" stroke-width="0.9"/>
<circle cx="277.3" cy="391.4" r="1.2" fill="#f1e4bd" stroke="#fff" stroke-width="0.9"/>
<circle cx="265.8" cy="440.9" r="1.2" fill="#f1e4bd" stroke="#fff" stroke-width="0.9"/>
<circle cx="267.9" cy="415.1" r="1.2" fill="#f1e4bd" stroke="#fff" stroke-width="0.9"/>
<circle cx="205.0" cy="437.6" r="1.2" fill="#f1e4bd" stroke="#fff" stroke-width="0.9"/>
<circle cx="223.9" cy="449.6" r="1.2" fill="#f1e4bd" stroke="#fff" stroke-width="0.9"/>
<circle cx="245.6" cy="388.0" r="1.2" fill="#f1e4bd" stroke="#fff" stroke-width="0.9"/>
<circle cx="278.5" cy="416.4" r="1.2" fill="#f1e4bd" stroke="#fff" stroke-width="0.9"/>
<circle cx="219.6" cy="378.2" r="1.2" fill="#f1e4bd" stroke="#fff" stroke-width="0.9"/>
<circle cx="216.2" cy="346.8" r="1.2" fill="#f1e4bd" stroke="#fff" stroke-width="0.9"/>
<circle cx="196.6" cy="390.3" r="1.2" fill="#f1e4bd" stroke="#fff" stroke-width="0.9"/>
<circle cx="208.4" cy="413.3" r="1.2" fill="#f1e4bd" stroke="#fff" stroke-width="0.9"/>
<circle cx="209.2" cy="385.0" r="1.2" fill="#f1e4bd" stroke="#fff" stroke-width="0.9"/>
<circle cx="253.6" cy="386.7" r="1.2" fill="#f1e4bd" stroke="#fff" stroke-width="0.9"/>
<circle cx="189.4" cy="396.3" r="1.2" fill="#f1e4bd" stroke="#fff" stroke-width="0.9"/>
<circle cx="280.8" cy="296.0" r="1.2" fill="#f1e4bd" stroke="#fff" stroke-width="0.9"/>
<circle cx="292.4" cy="275.7" r="1.2" fill="#f1e4bd" stroke="#fff" stroke-width="0.9"/>
<circle cx="332.6" cy="348.6" r="1.2" fill="#f1e4bd" stroke="#fff" stroke-width="0.9"/>
<circle cx="262.0" cy="341.1" r="1.2" fill="#f1e4bd" stroke="#fff" stroke-width="0.9"/>
<circle cx="288.7" cy="314.9" r="1.2" fill="#f1e4bd" stroke="#fff" stroke-width="0.9"/>
<circle cx="289.4" cy="283.8" r="1.2" fill="#f1e4bd" stroke="#fff" stroke-width="0.9"/>
<circle cx="295.9" cy="351.9" r="1.2" fill="#f1e4bd" stroke="#fff" stroke-width="0.9"/>
<circle cx="263.1" cy="287.0" r="1.2" fill="#f1e4bd" stroke="#fff" stroke-width="0.9"/>
<circle cx="311.5" cy="334.8" r="1.2" fill="#f1e4bd" stroke="#fff" stroke-width="0.9"/>
<circle cx="285.1" cy="308.6" r="1.2" fill="#f1e4bd" stroke="#fff" stroke-width="0.9"/>
<circle cx="254.4" cy="337.9" r="1.2" fill="#f1e4bd" stroke="#fff" stroke-width="0.9"/>
<circle cx="320.7" cy="300.5" r="1.2" fill="#f1e4bd" stroke="#fff" stroke-width="0.9"/>
<circle cx="307.2" cy="412.6" r="1.2" fill="#f1e4bd" stroke="#fff" stroke-width="0.9"/>
<circle cx="288.5" cy="324.2" r="1.2" fill="#f1e4bd" stroke="#fff" stroke-width="0.9"/>
<circle cx="329.8" cy="390.8" r="1.2" fill="#f1e4bd" stroke="#fff" stroke-width="0.9"/>
<circle cx="299.9" cy="329.3" r="1.2" fill="#f1e4bd" stroke="#fff" stroke-width="0.9"/>
<circle cx="273.7" cy="339.3" r="1.2" fill="#f1e4bd" stroke="#fff" stroke-width="0.9"/>
<circle cx="324.1" cy="369.3" r="1.2" fill="#f1e4bd" stroke="#fff" stroke-width="0.9"/>
<circle cx="317.1" cy="399.9" r="1.2" fill="#f1e4bd" stroke="#fff" stroke-width="0.9"/>
<circle cx="306.9" cy="396.1" r="1.2" fill="#f1e4bd" stroke="#fff" stroke-width="0.9"/>
<circle cx="294.2" cy="348.1" r="1.2" fill="#f1e4bd" stroke="#fff" stroke-width="0.9"/>
<circle cx="249.7" cy="393.2" r="1.2" fill="#f1e4bd" stroke="#fff" stroke-width="0.9"/>
<circle cx="248.8" cy="390.8" r="1.2" fill="#f1e4bd" stroke="#fff" stroke-width="0.9"/>
<circle cx="286.6" cy="406.0" r="1.2" fill="#f1e4bd" stroke="#fff" stroke-width="0.9"/>
<circle cx="440.0" cy="411.2" r="1.2" fill="#f1e4bd" stroke="#fff" stroke-width="0.9"/>
<circle cx="419.1" cy="419.9" r="1.2" fill="#f1e4bd" stroke="#fff" stroke-width="0.9"/>
<circle cx="423.9" cy="418.2" r="1.2" fill="#f1e4bd" stroke="#fff" stroke-width="0.9"/>
<circle cx="455.6" cy="408.5" r="1.2" fill="#f1e4bd" stroke="#fff" stroke-width="0.9"/>
<circle cx="413.1" cy="441.4" r="1.2" fill="#f1e4bd" stroke="#fff" stroke-width="0.9"/>
<circle cx="399.0" cy="361.6" r="1.2" fill="#f1e4bd" stroke="#fff" stroke-width="0.9"/>
<circle cx="404.7" cy="384.8" r="1.2" fill="#f1e4bd" stroke="#fff" stroke-width="0.9"/>
<circle cx="455.3" cy="430.7" r="1.2" fill="#f1e4bd" stroke="#fff" stroke-width="0.9"/>
<circle cx="407.7" cy="408.5" r="1.2" fill="#f1e4bd" stroke="#fff" stroke-width="0.9"/>
<circle cx="330.4" cy="401.3" r="1.2" fill="#f1e4bd" stroke="#fff" stroke-width="0.9"/>
<circle cx="326.2" cy="388.1" r="1.2" fill="#f1e4bd" stroke="#fff" stroke-width="0.9"/>
<circle cx="311.4" cy="451.4" r="1.2" fill="#f1e4bd" stroke="#fff" stroke-width="0.9"/>
<circle cx="342.5" cy="393.9" r="1.2" fill="#f1e4bd" stroke="#fff" stroke-width="0.9"/>
<circle cx="403.6" cy="392.3" r="1.2" fill="#f1e4bd" stroke="#fff" stroke-width="0.9"/>
<circle cx="382.0" cy="475.5" r="1.2" fill="#f1e4bd" stroke="#fff" stroke-width="0.9"/>
<circle cx="366.5" cy="447.4" r="1.2" fill="#f1e4bd" stroke="#fff" stroke-width="0.9"/>
<circle cx="334.0" cy="404.2" r="1.2" fill="#f1e4bd" stroke="#fff" stroke-width="0.9"/>
<circle cx="466.9" cy="227.5" r="1.2" fill="#f1e4bd" stroke="#fff" stroke-width="0.9"/>
<circle cx="162.4" cy="279.2" r="1.2" fill="#f1e4bd" stroke="#fff" stroke-width="0.9"/>
<circle cx="177.2" cy="339.9" r="1.2" fill="#f1e4bd" stroke="#fff" stroke-width="0.9"/>
<circle cx="149.4" cy="309.4" r="1.2" fill="#f1e4bd" stroke="#fff" stroke-width="0.9"/>
<circle cx="165.3" cy="274.6" r="1.2" fill="#f1e4bd" stroke="#fff" stroke-width="0.9"/>
<circle cx="197.5" cy="418.2" r="1.2" fill="#f1e4bd" stroke="#fff" stroke-width="0.9"/>
<circle cx="232.5" cy="435.7" r="1.2" fill="#f1e4bd" stroke="#fff" stroke-width="0.9"/>
<circle cx="221.0" cy="430.7" r="1.2" fill="#f1e4bd" stroke="#fff" stroke-width="0.9"/>
<circle cx="288.5" cy="517.7" r="1.2" fill="#f1e4bd" stroke="#fff" stroke-width="0.9"/>
<circle cx="245.5" cy="483.0" r="1.2" fill="#f1e4bd" stroke="#fff" stroke-width="0.9"/>
<circle cx="278.5" cy="516.1" r="1.2" fill="#f1e4bd" stroke="#fff" stroke-width="0.9"/>
<circle cx="283.2" cy="251.7" r="1.2" fill="#f1e4bd" stroke="#fff" stroke-width="0.9"/>
<circle cx="327.5" cy="226.3" r="1.2" fill="#f1e4bd" stroke="#fff" stroke-width="0.9"/>
<circle cx="279.6" cy="226.4" r="1.2" fill="#f1e4bd" stroke="#fff" stroke-width="0.9"/>
<circle cx="309.4" cy="186.1" r="1.2" fill="#f1e4bd" stroke="#fff" stroke-width="0.9"/>
<circle cx="299.1" cy="248.6" r="1.2" fill="#f1e4bd" stroke="#fff" stroke-width="0.9"/>
<circle cx="296.8" cy="253.1" r="1.2" fill="#f1e4bd" stroke="#fff" stroke-width="0.9"/>
<circle cx="318.9" cy="211.4" r="1.2" fill="#f1e4bd" stroke="#fff" stroke-width="0.9"/>
<circle cx="349.5" cy="218.9" r="1.2" fill="#f1e4bd" stroke="#fff" stroke-width="0.9"/>
<circle cx="310.9" cy="218.9" r="1.2" fill="#f1e4bd" stroke="#fff" stroke-width="0.9"/>
<circle cx="331.9" cy="236.7" r="1.2" fill="#f1e4bd" stroke="#fff" stroke-width="0.9"/>
<circle cx="361.1" cy="204.7" r="1.2" fill="#f1e4bd" stroke="#fff" stroke-width="0.9"/>
<circle cx="534.7" cy="372.4" r="1.2" fill="#f1e4bd" stroke="#fff" stroke-width="0.9"/>
<circle cx="512.7" cy="375.5" r="1.2" fill="#f1e4bd" stroke="#fff" stroke-width="0.9"/>
<circle cx="522.9" cy="400.5" r="1.2" fill="#f1e4bd" stroke="#fff" stroke-width="0.9"/>
<circle cx="477.2" cy="249.5" r="1.2" fill="#f1e4bd" stroke="#fff" stroke-width="0.9"/>
<circle cx="463.3" cy="256.2" r="1.2" fill="#f1e4bd" stroke="#fff" stroke-width="0.9"/>
<circle cx="490.6" cy="237.2" r="1.2" fill="#f1e4bd" stroke="#fff" stroke-width="0.9"/>
<circle cx="470.2" cy="261.2" r="1.2" fill="#f1e4bd" stroke="#fff" stroke-width="0.9"/>
<circle cx="490.5" cy="244.9" r="1.2" fill="#f1e4bd" stroke="#fff" stroke-width="0.9"/>
<circle cx="498.2" cy="281.2" r="1.2" fill="#f1e4bd" stroke="#fff" stroke-width="0.9"/>
<circle cx="506.5" cy="234.7" r="1.2" fill="#f1e4bd" stroke="#fff" stroke-width="0.9"/>
<circle cx="498.7" cy="239.6" r="1.2" fill="#f1e4bd" stroke="#fff" stroke-width="0.9"/>
<circle cx="281.9" cy="304.8" r="1.2" fill="#f1e4bd" stroke="#fff" stroke-width="0.9"/>
<circle cx="295.0" cy="284.1" r="1.2" fill="#f1e4bd" stroke="#fff" stroke-width="0.9"/>
<circle cx="458.8" cy="338.2" r="1.2" fill="#f1e4bd" stroke="#fff" stroke-width="0.9"/>
<circle cx="455.7" cy="251.4" r="1.2" fill="#f1e4bd" stroke="#fff" stroke-width="0.9"/>
<circle cx="471.9" cy="250.2" r="1.2" fill="#f1e4bd" stroke="#fff" stroke-width="0.9"/>
<circle cx="251.7" cy="431.7" r="1.2" fill="#f1e4bd" stroke="#fff" stroke-width="0.9"/>
<circle cx="237.0" cy="398.7" r="1.2" fill="#f1e4bd" stroke="#fff" stroke-width="0.9"/>
<circle cx="376.9" cy="325.8" r="1.2" fill="#f1e4bd" stroke="#fff" stroke-width="0.9"/>
<circle cx="381.1" cy="374.3" r="1.2" fill="#f1e4bd" stroke="#fff" stroke-width="0.9"/>
<circle cx="363.4" cy="380.3" r="1.2" fill="#f1e4bd" stroke="#fff" stroke-width="0.9"/>
<circle cx="220.3" cy="250.6" r="1.2" fill="#f1e4bd" stroke="#fff" stroke-width="0.9"/>
<circle cx="224.0" cy="242.8" r="1.2" fill="#f1e4bd" stroke="#fff" stroke-width="0.9"/>
<circle cx="429.5" cy="309.5" r="1.2" fill="#f1e4bd" stroke="#fff" stroke-width="0.9"/>
<circle cx="341.4" cy="235.5" r="1.2" fill="#f1e4bd" stroke="#fff" stroke-width="0.9"/>
<circle cx="338.7" cy="240.5" r="1.2" fill="#f1e4bd" stroke="#fff" stroke-width="0.9"/>
<circle cx="272.9" cy="370.3" r="1.2" fill="#f1e4bd" stroke="#fff" stroke-width="0.9"/>
<circle cx="311.0" cy="374.2" r="1.2" fill="#f1e4bd" stroke="#fff" stroke-width="0.9"/>
<circle cx="305.3" cy="240.6" r="1.2" fill="#f1e4bd" stroke="#fff" stroke-width="0.9"/>
<circle cx="342.6" cy="274.4" r="1.2" fill="#f1e4bd" stroke="#fff" stroke-width="0.9"/>
<circle cx="455.8" cy="290.6" r="1.2" fill="#f1e4bd" stroke="#fff" stroke-width="0.9"/>
<circle cx="444.4" cy="276.7" r="1.2" fill="#f1e4bd" stroke="#fff" stroke-width="0.9"/>
<circle cx="472.2" cy="278.9" r="1.2" fill="#f1e4bd" stroke="#fff" stroke-width="0.9"/>
<circle cx="208.8" cy="315.2" r="1.2" fill="#f1e4bd" stroke="#fff" stroke-width="0.9"/>
<circle cx="215.7" cy="360.4" r="1.2" fill="#f1e4bd" stroke="#fff" stroke-width="0.9"/>
<circle cx="421.4" cy="211.8" r="1.2" fill="#f1e4bd" stroke="#fff" stroke-width="0.9"/>
<circle cx="407.5" cy="232.5" r="1.2" fill="#f1e4bd" stroke="#fff" stroke-width="0.9"/>
<circle cx="494.9" cy="369.7" r="1.2" fill="#f1e4bd" stroke="#fff" stroke-width="0.9"/>
<circle cx="480.1" cy="371.4" r="1.2" fill="#f1e4bd" stroke="#fff" stroke-width="0.9"/>
<circle cx="498.7" cy="377.1" r="1.2" fill="#f1e4bd" stroke="#fff" stroke-width="0.9"/>
<circle cx="514.6" cy="311.6" r="1.2" fill="#f1e4bd" stroke="#fff" stroke-width="0.9"/>
<circle cx="534.4" cy="303.7" r="1.2" fill="#f1e4bd" stroke="#fff" stroke-width="0.9"/>
<circle cx="508.3" cy="292.0" r="1.2" fill="#f1e4bd" stroke="#fff" stroke-width="0.9"/>
<circle cx="506.5" cy="267.0" r="1.2" fill="#f1e4bd" stroke="#fff" stroke-width="0.9"/>
<circle cx="513.1" cy="260.9" r="1.2" fill="#f1e4bd" stroke="#fff" stroke-width="0.9"/>
<circle cx="331.0" cy="301.5" r="1.2" fill="#f1e4bd" stroke="#fff" stroke-width="0.9"/>
<circle cx="339.5" cy="302.5" r="1.2" fill="#f1e4bd" stroke="#fff" stroke-width="0.9"/>
<circle cx="469.7" cy="349.6" r="1.2" fill="#f1e4bd" stroke="#fff" stroke-width="0.9"/>
<circle cx="483.2" cy="315.7" r="1.2" fill="#f1e4bd" stroke="#fff" stroke-width="0.9"/>
<circle cx="414.3" cy="253.2" r="1.2" fill="#f1e4bd" stroke="#fff" stroke-width="0.9"/>
<circle cx="403.7" cy="230.4" r="1.2" fill="#f1e4bd" stroke="#fff" stroke-width="0.9"/>
<circle cx="364.3" cy="354.1" r="1.2" fill="#f1e4bd" stroke="#fff" stroke-width="0.9"/>
<circle cx="359.8" cy="354.5" r="1.2" fill="#f1e4bd" stroke="#fff" stroke-width="0.9"/>
<circle cx="361.2" cy="370.9" r="1.2" fill="#f1e4bd" stroke="#fff" stroke-width="0.9"/>
<circle cx="250.2" cy="257.3" r="1.2" fill="#f1e4bd" stroke="#fff" stroke-width="0.9"/>
<circle cx="263.5" cy="294.3" r="1.2" fill="#f1e4bd" stroke="#fff" stroke-width="0.9"/>
<circle cx="234.2" cy="294.9" r="1.2" fill="#f1e4bd" stroke="#fff" stroke-width="0.9"/>
<circle cx="286.6" cy="356.4" r="1.2" fill="#f1e4bd" stroke="#fff" stroke-width="0.9"/>
<circle cx="353.1" cy="197.7" r="1.2" fill="#f1e4bd" stroke="#fff" stroke-width="0.9"/>
<circle cx="394.9" cy="295.8" r="1.2" fill="#f1e4bd" stroke="#fff" stroke-width="0.9"/>
<circle cx="306.4" cy="392.2" r="1.2" fill="#f1e4bd" stroke="#fff" stroke-width="0.9"/>
<circle cx="305.1" cy="379.2" r="1.2" fill="#f1e4bd" stroke="#fff" stroke-width="0.9"/>
<circle cx="295.4" cy="487.8" r="1.2" fill="#f1e4bd" stroke="#fff" stroke-width="0.9"/>
<circle cx="264.9" cy="290.4" r="1.2" fill="#f1e4bd" stroke="#fff" stroke-width="0.9"/>
<circle cx="293.3" cy="535.0" r="1.2" fill="#f1e4bd" stroke="#fff" stroke-width="0.9"/>
<circle cx="254.2" cy="327.7" r="1.2" fill="#f1e4bd" stroke="#fff" stroke-width="0.9"/>
<circle cx="291.2" cy="357.8" r="1.2" fill="#f1e4bd" stroke="#fff" stroke-width="0.9"/>
<circle cx="283.5" cy="493.5" r="1.2" fill="#f1e4bd" stroke="#fff" stroke-width="0.9"/>
<circle cx="288.6" cy="482.0" r="1.2" fill="#f1e4bd" stroke="#fff" stroke-width="0.9"/>
<circle cx="273.0" cy="535.3" r="1.2" fill="#f1e4bd" stroke="#fff" stroke-width="0.9"/>
<circle cx="281.9" cy="542.0" r="1.2" fill="#f1e4bd" stroke="#fff" stroke-width="0.9"/>
<circle cx="269.7" cy="539.9" r="1.2" fill="#f1e4bd" stroke="#fff" stroke-width="0.9"/>
<circle cx="391.8" cy="209.1" r="1.2" fill="#f1e4bd" stroke="#fff" stroke-width="0.9"/>
<circle cx="393.8" cy="229.2" r="1.2" fill="#f1e4bd" stroke="#fff" stroke-width="0.9"/>
<circle cx="320.2" cy="306.4" r="1.2" fill="#f1e4bd" stroke="#fff" stroke-width="0.9"/>
<circle cx="318.1" cy="300.7" r="1.2" fill="#f1e4bd" stroke="#fff" stroke-width="0.9"/>
<circle cx="335.2" cy="318.4" r="1.2" fill="#f1e4bd" stroke="#fff" stroke-width="0.9"/>
<circle cx="302.7" cy="385.5" r="1.2" fill="#f1e4bd" stroke="#fff" stroke-width="0.9"/>
<circle cx="265.2" cy="460.9" r="1.2" fill="#f1e4bd" stroke="#fff" stroke-width="0.9"/>
<circle cx="258.3" cy="471.0" r="1.2" fill="#f1e4bd" stroke="#fff" stroke-width="0.9"/>
<circle cx="331.4" cy="353.5" r="1.2" fill="#f1e4bd" stroke="#fff" stroke-width="0.9"/>
<circle cx="443.4" cy="280.1" r="1.2" fill="#f1e4bd" stroke="#fff" stroke-width="0.9"/>
<circle cx="452.3" cy="265.0" r="1.2" fill="#f1e4bd" stroke="#fff" stroke-width="0.9"/>
<circle cx="456.9" cy="330.7" r="1.2" fill="#f1e4bd" stroke="#fff" stroke-width="0.9"/>
<circle cx="374.1" cy="301.6" r="1.2" fill="#f1e4bd" stroke="#fff" stroke-width="0.9"/>
<circle cx="398.6" cy="283.6" r="1.2" fill="#f1e4bd" stroke="#fff" stroke-width="0.9"/>
<circle cx="324.4" cy="279.0" r="1.2" fill="#f1e4bd" stroke="#fff" stroke-width="0.9"/>
<circle cx="368.9" cy="351.7" r="1.2" fill="#f1e4bd" stroke="#fff" stroke-width="0.9"/>
<circle cx="375.3" cy="334.3" r="1.2" fill="#f1e4bd" stroke="#fff" stroke-width="0.9"/>
<circle cx="318.9" cy="431.2" r="1.2" fill="#f1e4bd" stroke="#fff" stroke-width="0.9"/>
<circle cx="290.3" cy="440.3" r="1.2" fill="#f1e4bd" stroke="#fff" stroke-width="0.9"/>
<circle cx="391.7" cy="469.1" r="1.2" fill="#f1e4bd" stroke="#fff" stroke-width="0.9"/>
<circle cx="393.4" cy="475.4" r="1.2" fill="#f1e4bd" stroke="#fff" stroke-width="0.9"/>
<circle cx="403.4" cy="268.7" r="1.2" fill="#f1e4bd" stroke="#fff" stroke-width="0.9"/>
<circle cx="287.9" cy="189.5" r="1.2" fill="#f1e4bd" stroke="#fff" stroke-width="0.9"/>
<circle cx="282.3" cy="207.6" r="1.2" fill="#f1e4bd" stroke="#fff" stroke-width="0.9"/>
<circle cx="382.3" cy="324.1" r="1.2" fill="#f1e4bd" stroke="#fff" stroke-width="0.9"/>
<circle cx="409.6" cy="332.3" r="1.2" fill="#f1e4bd" stroke="#fff" stroke-width="0.9"/>
<circle cx="418.7" cy="336.9" r="1.2" fill="#f1e4bd" stroke="#fff" stroke-width="0.9"/>
<circle cx="329.8" cy="363.8" r="1.2" fill="#f1e4bd" stroke="#fff" stroke-width="0.9"/>
<circle cx="312.9" cy="394.7" r="1.2" fill="#f1e4bd" stroke="#fff" stroke-width="0.9"/>
<circle cx="459.0" cy="390.7" r="1.2" fill="#f1e4bd" stroke="#fff" stroke-width="0.9"/>
<circle cx="487.4" cy="421.1" r="1.2" fill="#f1e4bd" stroke="#fff" stroke-width="0.9"/>
<circle cx="372.3" cy="446.4" r="1.2" fill="#f1e4bd" stroke="#fff" stroke-width="0.9"/>
<circle cx="386.0" cy="423.7" r="1.2" fill="#f1e4bd" stroke="#fff" stroke-width="0.9"/>
<circle cx="304.5" cy="305.7" r="1.2" fill="#f1e4bd" stroke="#fff" stroke-width="0.9"/>
<circle cx="287.6" cy="286.0" r="1.2" fill="#f1e4bd" stroke="#fff" stroke-width="0.9"/>
<circle cx="363.1" cy="396.6" r="1.2" fill="#f1e4bd" stroke="#fff" stroke-width="0.9"/>
<circle cx="266.4" cy="370.5" r="1.2" fill="#f1e4bd" stroke="#fff" stroke-width="0.9"/>
<circle cx="256.3" cy="359.2" r="1.2" fill="#f1e4bd" stroke="#fff" stroke-width="0.9"/>
<circle cx="256.9" cy="359.0" r="1.2" fill="#f1e4bd" stroke="#fff" stroke-width="0.9"/>
<circle cx="277.6" cy="360.3" r="1.2" fill="#f1e4bd" stroke="#fff" stroke-width="0.9"/>
<circle cx="359.6" cy="379.3" r="1.2" fill="#f1e4bd" stroke="#fff" stroke-width="0.9"/>
<circle cx="381.5" cy="374.6" r="1.2" fill="#f1e4bd" stroke="#fff" stroke-width="0.9"/>
<circle cx="174.3" cy="258.3" r="1.2" fill="#f1e4bd" stroke="#fff" stroke-width="0.9"/>
<circle cx="175.9" cy="236.6" r="1.2" fill="#f1e4bd" stroke="#fff" stroke-width="0.9"/>
<circle cx="203.4" cy="310.3" r="1.2" fill="#f1e4bd" stroke="#fff" stroke-width="0.9"/>
<circle cx="448.3" cy="326.5" r="1.2" fill="#f1e4bd" stroke="#fff" stroke-width="0.9"/>
<circle cx="448.1" cy="322.8" r="1.2" fill="#f1e4bd" stroke="#fff" stroke-width="0.9"/>
<circle cx="413.4" cy="364.1" r="1.2" fill="#f1e4bd" stroke="#fff" stroke-width="0.9"/>
<circle cx="412.6" cy="345.2" r="1.2" fill="#f1e4bd" stroke="#fff" stroke-width="0.9"/>
<circle cx="425.9" cy="320.0" r="1.2" fill="#f1e4bd" stroke="#fff" stroke-width="0.9"/>
<circle cx="470.5" cy="377.8" r="1.2" fill="#f1e4bd" stroke="#fff" stroke-width="0.9"/>
<circle cx="473.4" cy="375.0" r="1.2" fill="#f1e4bd" stroke="#fff" stroke-width="0.9"/>
<circle cx="239.6" cy="449.0" r="1.2" fill="#f1e4bd" stroke="#fff" stroke-width="0.9"/>
<circle cx="475.0" cy="280.3" r="1.2" fill="#f1e4bd" stroke="#fff" stroke-width="0.9"/>
<circle cx="459.7" cy="298.3" r="1.2" fill="#f1e4bd" stroke="#fff" stroke-width="0.9"/>
<circle cx="476.2" cy="325.6" r="1.2" fill="#f1e4bd" stroke="#fff" stroke-width="0.9"/>
<circle cx="348.4" cy="234.1" r="1.2" fill="#f1e4bd" stroke="#fff" stroke-width="0.9"/>
<circle cx="343.4" cy="361.3" r="1.2" fill="#f1e4bd" stroke="#fff" stroke-width="0.9"/>
<circle cx="341.6" cy="362.3" r="1.2" fill="#f1e4bd" stroke="#fff" stroke-width="0.9"/>
<circle cx="212.6" cy="307.9" r="1.2" fill="#f1e4bd" stroke="#fff" stroke-width="0.9"/>
<circle cx="231.8" cy="287.6" r="1.2" fill="#f1e4bd" stroke="#fff" stroke-width="0.9"/>
<circle cx="257.0" cy="355.1" r="1.2" fill="#f1e4bd" stroke="#fff" stroke-width="0.9"/>
<circle cx="221.0" cy="374.6" r="1.2" fill="#f1e4bd" stroke="#fff" stroke-width="0.9"/>
<circle cx="290.0" cy="304.4" r="1.2" fill="#f1e4bd" stroke="#fff" stroke-width="0.9"/>
<circle cx="309.9" cy="302.6" r="1.2" fill="#f1e4bd" stroke="#fff" stroke-width="0.9"/>
<circle cx="182.4" cy="357.2" r="1.2" fill="#f1e4bd" stroke="#fff" stroke-width="0.9"/>
<circle cx="179.2" cy="348.4" r="1.2" fill="#f1e4bd" stroke="#fff" stroke-width="0.9"/>
<circle cx="259.5" cy="396.8" r="1.2" fill="#f1e4bd" stroke="#fff" stroke-width="0.9"/>
<circle cx="372.3" cy="347.7" r="1.2" fill="#f1e4bd" stroke="#fff" stroke-width="0.9"/>
<circle cx="385.9" cy="361.7" r="1.2" fill="#f1e4bd" stroke="#fff" stroke-width="0.9"/>
<circle cx="301.4" cy="403.7" r="1.2" fill="#f1e4bd" stroke="#fff" stroke-width="0.9"/>
<circle cx="284.4" cy="425.1" r="1.2" fill="#f1e4bd" stroke="#fff" stroke-width="0.9"/>
<circle cx="297.5" cy="407.2" r="1.2" fill="#f1e4bd" stroke="#fff" stroke-width="0.9"/>
<circle cx="279.2" cy="291.0" r="1.2" fill="#f1e4bd" stroke="#fff" stroke-width="0.9"/>
<circle cx="432.3" cy="307.2" r="1.2" fill="#f1e4bd" stroke="#fff" stroke-width="0.9"/>
<circle cx="453.4" cy="451.9" r="1.2" fill="#f1e4bd" stroke="#fff" stroke-width="0.9"/>
<circle cx="395.1" cy="442.0" r="1.2" fill="#f1e4bd" stroke="#fff" stroke-width="0.9"/>
<circle cx="170.9" cy="321.5" r="1.2" fill="#f1e4bd" stroke="#fff" stroke-width="0.9"/>
<circle cx="167.2" cy="309.9" r="1.2" fill="#f1e4bd" stroke="#fff" stroke-width="0.9"/>
<circle cx="325.0" cy="480.8" r="1.2" fill="#f1e4bd" stroke="#fff" stroke-width="0.9"/>
<circle cx="316.9" cy="479.6" r="1.2" fill="#f1e4bd" stroke="#fff" stroke-width="0.9"/>
<circle cx="209.8" cy="375.0" r="1.2" fill="#f1e4bd" stroke="#fff" stroke-width="0.9"/>
<circle cx="484.2" cy="415.5" r="1.2" fill="#f1e4bd" stroke="#fff" stroke-width="0.9"/>
<circle cx="235.4" cy="270.3" r="1.2" fill="#f1e4bd" stroke="#fff" stroke-width="0.9"/>
<circle cx="223.7" cy="299.9" r="1.2" fill="#f1e4bd" stroke="#fff" stroke-width="0.9"/>
<circle cx="357.9" cy="380.4" r="1.2" fill="#f1e4bd" stroke="#fff" stroke-width="0.9"/>
<circle cx="434.1" cy="464.2" r="1.2" fill="#f1e4bd" stroke="#fff" stroke-width="0.9"/>
<circle cx="271.6" cy="483.8" r="1.2" fill="#f1e4bd" stroke="#fff" stroke-width="0.9"/>
<circle cx="288.6" cy="446.5" r="1.2" fill="#f1e4bd" stroke="#fff" stroke-width="0.9"/>
<circle cx="279.9" cy="475.9" r="1.2" fill="#f1e4bd" stroke="#fff" stroke-width="0.9"/>
<circle cx="269.6" cy="466.2" r="1.2" fill="#f1e4bd" stroke="#fff" stroke-width="0.9"/>
<circle cx="420.5" cy="394.2" r="1.2" fill="#f1e4bd" stroke="#fff" stroke-width="0.9"/>
<circle cx="327.5" cy="377.1" r="1.2" fill="#f1e4bd" stroke="#fff" stroke-width="0.9"/>
<circle cx="325.0" cy="377.6" r="1.2" fill="#f1e4bd" stroke="#fff" stroke-width="0.9"/>
<circle cx="266.0" cy="410.4" r="1.2" fill="#f1e4bd" stroke="#fff" stroke-width="0.9"/>
<circle cx="248.2" cy="396.7" r="1.2" fill="#f1e4bd" stroke="#fff" stroke-width="0.9"/>
<circle cx="488.7" cy="354.5" r="1.2" fill="#f1e4bd" stroke="#fff" stroke-width="0.9"/>
<circle cx="478.4" cy="327.6" r="1.2" fill="#f1e4bd" stroke="#fff" stroke-width="0.9"/>
<circle cx="292.9" cy="307.0" r="1.2" fill="#f1e4bd" stroke="#fff" stroke-width="0.9"/>
<circle cx="292.6" cy="302.1" r="1.2" fill="#f1e4bd" stroke="#fff" stroke-width="0.9"/>
<circle cx="148.7" cy="329.3" r="1.2" fill="#f1e4bd" stroke="#fff" stroke-width="0.9"/>
<circle cx="163.2" cy="344.7" r="1.2" fill="#f1e4bd" stroke="#fff" stroke-width="0.9"/>
<circle cx="366.2" cy="363.4" r="1.2" fill="#f1e4bd" stroke="#fff" stroke-width="0.9"/>
<circle cx="366.1" cy="369.1" r="1.2" fill="#f1e4bd" stroke="#fff" stroke-width="0.9"/>
<circle cx="232.1" cy="413.5" r="1.2" fill="#f1e4bd" stroke="#fff" stroke-width="0.9"/>
<circle cx="387.7" cy="303.3" r="1.2" fill="#f1e4bd" stroke="#fff" stroke-width="0.9"/>
<circle cx="392.4" cy="306.3" r="1.2" fill="#f1e4bd" stroke="#fff" stroke-width="0.9"/>
<circle cx="308.3" cy="326.9" r="1.2" fill="#f1e4bd" stroke="#fff" stroke-width="0.9"/>
<circle cx="441.9" cy="361.9" r="1.2" fill="#f1e4bd" stroke="#fff" stroke-width="0.9"/>
<circle cx="438.5" cy="351.8" r="1.2" fill="#f1e4bd" stroke="#fff" stroke-width="0.9"/>
<circle cx="353.5" cy="335.2" r="1.2" fill="#f1e4bd" stroke="#fff" stroke-width="0.9"/>
<circle cx="370.2" cy="305.1" r="1.2" fill="#f1e4bd" stroke="#fff" stroke-width="0.9"/>
<circle cx="233.5" cy="475.1" r="1.2" fill="#f1e4bd" stroke="#fff" stroke-width="0.9"/>
<circle cx="235.1" cy="479.5" r="1.2" fill="#f1e4bd" stroke="#fff" stroke-width="0.9"/>
<circle cx="331.8" cy="427.5" r="1.2" fill="#f1e4bd" stroke="#fff" stroke-width="0.9"/>
<circle cx="528.4" cy="384.9" r="1.2" fill="#f1e4bd" stroke="#fff" stroke-width="0.9"/>
<circle cx="521.5" cy="412.3" r="1.2" fill="#f1e4bd" stroke="#fff" stroke-width="0.9"/>
<circle cx="335.7" cy="278.5" r="1.2" fill="#f1e4bd" stroke="#fff" stroke-width="0.9"/>
<circle cx="330.0" cy="312.5" r="1.2" fill="#f1e4bd" stroke="#fff" stroke-width="0.9"/>
<circle cx="277.1" cy="416.9" r="1.2" fill="#f1e4bd" stroke="#fff" stroke-width="0.9"/>
<circle cx="344.2" cy="233.6" r="1.2" fill="#f1e4bd" stroke="#fff" stroke-width="0.9"/>
<circle cx="142.6" cy="364.0" r="1.2" fill="#f1e4bd" stroke="#fff" stroke-width="0.9"/>
<circle cx="290.4" cy="338.1" r="1.2" fill="#f1e4bd" stroke="#fff" stroke-width="0.9"/>
<circle cx="318.1" cy="349.9" r="1.2" fill="#f1e4bd" stroke="#fff" stroke-width="0.9"/>
<circle cx="514.3" cy="352.9" r="1.2" fill="#f1e4bd" stroke="#fff" stroke-width="0.9"/>
<circle cx="520.3" cy="364.7" r="1.2" fill="#f1e4bd" stroke="#fff" stroke-width="0.9"/>
<circle cx="484.4" cy="361.4" r="1.2" fill="#f1e4bd" stroke="#fff" stroke-width="0.9"/>
<circle cx="368.8" cy="433.3" r="1.2" fill="#f1e4bd" stroke="#fff" stroke-width="0.9"/>
<circle cx="384.1" cy="459.4" r="1.2" fill="#f1e4bd" stroke="#fff" stroke-width="0.9"/>
<circle cx="265.1" cy="384.7" r="1.2" fill="#f1e4bd" stroke="#fff" stroke-width="0.9"/>
<circle cx="277.8" cy="414.0" r="1.2" fill="#f1e4bd" stroke="#fff" stroke-width="0.9"/>
<circle cx="264.1" cy="376.8" r="1.2" fill="#f1e4bd" stroke="#fff" stroke-width="0.9"/>
<circle cx="518.4" cy="342.3" r="1.2" fill="#f1e4bd" stroke="#fff" stroke-width="0.9"/>
<circle cx="409.4" cy="229.3" r="1.2" fill="#f1e4bd" stroke="#fff" stroke-width="0.9"/>
<circle cx="356.1" cy="386.5" r="1.2" fill="#f1e4bd" stroke="#fff" stroke-width="0.9"/>
<circle cx="345.0" cy="383.2" r="1.2" fill="#f1e4bd" stroke="#fff" stroke-width="0.9"/>
<circle cx="454.2" cy="336.8" r="1.2" fill="#f1e4bd" stroke="#fff" stroke-width="0.9"/>
<circle cx="493.0" cy="322.5" r="1.2" fill="#f1e4bd" stroke="#fff" stroke-width="0.9"/>
<circle cx="273.5" cy="277.4" r="1.2" fill="#f1e4bd" stroke="#fff" stroke-width="0.9"/>
<circle cx="283.3" cy="268.0" r="1.2" fill="#f1e4bd" stroke="#fff" stroke-width="0.9"/>
<circle cx="186.5" cy="333.4" r="1.2" fill="#f1e4bd" stroke="#fff" stroke-width="0.9"/>
<circle cx="182.8" cy="344.3" r="1.2" fill="#f1e4bd" stroke="#fff" stroke-width="0.9"/>
<circle cx="335.8" cy="491.6" r="1.2" fill="#f1e4bd" stroke="#fff" stroke-width="0.9"/>
<circle cx="347.8" cy="507.2" r="1.2" fill="#f1e4bd" stroke="#fff" stroke-width="0.9"/>
<circle cx="446.0" cy="402.0" r="1.2" fill="#f1e4bd" stroke="#fff" stroke-width="0.9"/>
<circle cx="441.9" cy="423.1" r="1.2" fill="#f1e4bd" stroke="#fff" stroke-width="0.9"/>
<circle cx="463.8" cy="419.5" r="1.2" fill="#f1e4bd" stroke="#fff" stroke-width="0.9"/>
<circle cx="448.9" cy="454.7" r="1.2" fill="#f1e4bd" stroke="#fff" stroke-width="0.9"/>
<circle cx="293.1" cy="408.9" r="1.2" fill="#f1e4bd" stroke="#fff" stroke-width="0.9"/>
<circle cx="296.8" cy="405.1" r="1.2" fill="#f1e4bd" stroke="#fff" stroke-width="0.9"/>
<circle cx="349.3" cy="365.3" r="1.2" fill="#f1e4bd" stroke="#fff" stroke-width="0.9"/>
<circle cx="357.9" cy="371.4" r="1.2" fill="#f1e4bd" stroke="#fff" stroke-width="0.9"/>
<circle cx="294.2" cy="423.1" r="1.2" fill="#f1e4bd" stroke="#fff" stroke-width="0.9"/>
<circle cx="239.4" cy="533.8" r="1.2" fill="#f1e4bd" stroke="#fff" stroke-width="0.9"/>
<circle cx="376.7" cy="271.1" r="1.2" fill="#f1e4bd" stroke="#fff" stroke-width="0.9"/>
<circle cx="400.0" cy="334.6" r="1.2" fill="#f1e4bd" stroke="#fff" stroke-width="0.9"/>
<circle cx="482.8" cy="314.9" r="1.2" fill="#f1e4bd" stroke="#fff" stroke-width="0.9"/>
<circle cx="314.1" cy="215.2" r="1.2" fill="#f1e4bd" stroke="#fff" stroke-width="0.9"/>
<circle cx="323.9" cy="219.8" r="1.2" fill="#f1e4bd" stroke="#fff" stroke-width="0.9"/>
<circle cx="292.0" cy="238.4" r="1.2" fill="#f1e4bd" stroke="#fff" stroke-width="0.9"/>
<circle cx="262.1" cy="239.4" r="1.2" fill="#f1e4bd" stroke="#fff" stroke-width="0.9"/>
<circle cx="444.1" cy="253.5" r="1.2" fill="#f1e4bd" stroke="#fff" stroke-width="0.9"/>
<circle cx="460.1" cy="272.7" r="1.2" fill="#f1e4bd" stroke="#fff" stroke-width="0.9"/>
<circle cx="179.7" cy="291.9" r="1.2" fill="#f1e4bd" stroke="#fff" stroke-width="0.9"/>
<circle cx="209.0" cy="284.8" r="1.2" fill="#f1e4bd" stroke="#fff" stroke-width="0.9"/>
<circle cx="183.7" cy="294.2" r="1.2" fill="#f1e4bd" stroke="#fff" stroke-width="0.9"/>
<circle cx="426.3" cy="301.9" r="1.2" fill="#f1e4bd" stroke="#fff" stroke-width="0.9"/>
<circle cx="410.8" cy="313.5" r="1.2" fill="#f1e4bd" stroke="#fff" stroke-width="0.9"/>
<circle cx="206.3" cy="238.2" r="1.2" fill="#f1e4bd" stroke="#fff" stroke-width="0.9"/>
<circle cx="291.0" cy="447.0" r="1.2" fill="#f1e4bd" stroke="#fff" stroke-width="0.9"/>
<circle cx="295.0" cy="243.9" r="1.2" fill="#f1e4bd" stroke="#fff" stroke-width="0.9"/>
<circle cx="262.0" cy="294.5" r="1.2" fill="#f1e4bd" stroke="#fff" stroke-width="0.9"/>
<circle cx="252.3" cy="266.1" r="1.2" fill="#f1e4bd" stroke="#fff" stroke-width="0.9"/>
<circle cx="294.8" cy="480.7" r="1.2" fill="#f1e4bd" stroke="#fff" stroke-width="0.9"/>
<circle cx="320.7" cy="463.2" r="1.2" fill="#f1e4bd" stroke="#fff" stroke-width="0.9"/>
<circle cx="213.0" cy="352.3" r="1.2" fill="#f1e4bd" stroke="#fff" stroke-width="0.9"/>
<circle cx="246.4" cy="344.3" r="1.2" fill="#f1e4bd" stroke="#fff" stroke-width="0.9"/>
<circle cx="421.6" cy="245.2" r="1.2" fill="#f1e4bd" stroke="#fff" stroke-width="0.9"/>
<circle cx="423.6" cy="262.6" r="1.2" fill="#f1e4bd" stroke="#fff" stroke-width="0.9"/>
<circle cx="257.4" cy="483.2" r="1.2" fill="#f1e4bd" stroke="#fff" stroke-width="0.9"/>
<circle cx="461.2" cy="318.7" r="1.2" fill="#f1e4bd" stroke="#fff" stroke-width="0.9"/>
<circle cx="374.1" cy="465.7" r="1.2" fill="#f1e4bd" stroke="#fff" stroke-width="0.9"/>
<circle cx="388.2" cy="445.2" r="1.2" fill="#f1e4bd" stroke="#fff" stroke-width="0.9"/>
<circle cx="398.9" cy="452.4" r="1.2" fill="#f1e4bd" stroke="#fff" stroke-width="0.9"/>
<circle cx="233.4" cy="213.0" r="1.2" fill="#f1e4bd" stroke="#fff" stroke-width="0.9"/>
<circle cx="200.5" cy="196.5" r="1.2" fill="#f1e4bd" stroke="#fff" stroke-width="0.9"/>
<circle cx="230.2" cy="208.9" r="1.2" fill="#f1e4bd" stroke="#fff" stroke-width="0.9"/>
<circle cx="154.5" cy="329.0" r="1.2" fill="#f1e4bd" stroke="#fff" stroke-width="0.9"/>
<circle cx="372.2" cy="501.4" r="1.2" fill="#f1e4bd" stroke="#fff" stroke-width="0.9"/>
<circle cx="386.0" cy="499.6" r="1.2" fill="#f1e4bd" stroke="#fff" stroke-width="0.9"/>
<circle cx="304.7" cy="426.2" r="1.2" fill="#f1e4bd" stroke="#fff" stroke-width="0.9"/>
<circle cx="185.2" cy="324.4" r="1.2" fill="#f1e4bd" stroke="#fff" stroke-width="0.9"/>
<circle cx="165.4" cy="331.9" r="1.2" fill="#f1e4bd" stroke="#fff" stroke-width="0.9"/>
<circle cx="359.4" cy="307.0" r="1.2" fill="#f1e4bd" stroke="#fff" stroke-width="0.9"/>
<circle cx="385.2" cy="318.8" r="1.2" fill="#f1e4bd" stroke="#fff" stroke-width="0.9"/>
<circle cx="355.8" cy="384.8" r="1.2" fill="#f1e4bd" stroke="#fff" stroke-width="0.9"/>
<circle cx="366.0" cy="384.0" r="1.2" fill="#f1e4bd" stroke="#fff" stroke-width="0.9"/>
<circle cx="402.4" cy="431.6" r="1.2" fill="#f1e4bd" stroke="#fff" stroke-width="0.9"/>
<circle cx="198.3" cy="395.2" r="1.2" fill="#f1e4bd" stroke="#fff" stroke-width="0.9"/>
<circle cx="283.3" cy="263.6" r="1.2" fill="#f1e4bd" stroke="#fff" stroke-width="0.9"/>
<circle cx="285.3" cy="287.0" r="1.2" fill="#f1e4bd" stroke="#fff" stroke-width="0.9"/>
<circle cx="412.1" cy="357.2" r="1.2" fill="#f1e4bd" stroke="#fff" stroke-width="0.9"/>
<circle cx="416.4" cy="266.3" r="1.2" fill="#f1e4bd" stroke="#fff" stroke-width="0.9"/>
<circle cx="344.1" cy="330.6" r="1.2" fill="#f1e4bd" stroke="#fff" stroke-width="0.9"/>
<circle cx="343.1" cy="302.0" r="1.2" fill="#f1e4bd" stroke="#fff" stroke-width="0.9"/>
<circle cx="436.1" cy="334.6" r="1.2" fill="#f1e4bd" stroke="#fff" stroke-width="0.9"/>
<circle cx="448.5" cy="265.3" r="1.2" fill="#f1e4bd" stroke="#fff" stroke-width="0.9"/>
<circle cx="252.5" cy="239.6" r="1.2" fill="#f1e4bd" stroke="#fff" stroke-width="0.9"/>
<circle cx="228.1" cy="331.1" r="1.2" fill="#f1e4bd" stroke="#fff" stroke-width="0.9"/>
<circle cx="233.1" cy="314.3" r="1.2" fill="#f1e4bd" stroke="#fff" stroke-width="0.9"/>
<circle cx="378.4" cy="306.2" r="1.2" fill="#f1e4bd" stroke="#fff" stroke-width="0.9"/>
<circle cx="367.0" cy="291.2" r="1.2" fill="#f1e4bd" stroke="#fff" stroke-width="0.9"/>
<circle cx="445.2" cy="372.2" r="1.2" fill="#f1e4bd" stroke="#fff" stroke-width="0.9"/>
<circle cx="470.9" cy="366.1" r="1.2" fill="#f1e4bd" stroke="#fff" stroke-width="0.9"/>
<circle cx="388.6" cy="369.8" r="1.2" fill="#f1e4bd" stroke="#fff" stroke-width="0.9"/>
<circle cx="365.3" cy="351.8" r="1.2" fill="#f1e4bd" stroke="#fff" stroke-width="0.9"/>
<circle cx="501.8" cy="275.2" r="1.2" fill="#f1e4bd" stroke="#fff" stroke-width="0.9"/>
<circle cx="280.7" cy="447.2" r="1.2" fill="#f1e4bd" stroke="#fff" stroke-width="0.9"/>
<circle cx="271.6" cy="423.8" r="1.2" fill="#f1e4bd" stroke="#fff" stroke-width="0.9"/>
<circle cx="244.7" cy="262.1" r="1.2" fill="#f1e4bd" stroke="#fff" stroke-width="0.9"/>
<circle cx="223.5" cy="270.5" r="1.2" fill="#f1e4bd" stroke="#fff" stroke-width="0.9"/>
<circle cx="270.5" cy="510.9" r="1.2" fill="#f1e4bd" stroke="#fff" stroke-width="0.9"/>
<circle cx="256.5" cy="502.7" r="1.2" fill="#f1e4bd" stroke="#fff" stroke-width="0.9"/>
<circle cx="374.1" cy="463.1" r="1.2" fill="#f1e4bd" stroke="#fff" stroke-width="0.9"/>
<circle cx="374.6" cy="454.9" r="1.2" fill="#f1e4bd" stroke="#fff" stroke-width="0.9"/>
<circle cx="212.8" cy="395.7" r="1.2" fill="#f1e4bd" stroke="#fff" stroke-width="0.9"/>
<circle cx="228.0" cy="401.6" r="1.2" fill="#f1e4bd" stroke="#fff" stroke-width="0.9"/>
<circle cx="388.8" cy="363.9" r="1.2" fill="#f1e4bd" stroke="#fff" stroke-width="0.9"/>
<circle cx="378.3" cy="345.2" r="1.2" fill="#f1e4bd" stroke="#fff" stroke-width="0.9"/>
<circle cx="471.1" cy="389.9" r="1.2" fill="#f1e4bd" stroke="#fff" stroke-width="0.9"/>
<circle cx="440.4" cy="375.2" r="1.2" fill="#f1e4bd" stroke="#fff" stroke-width="0.9"/>
<circle cx="464.1" cy="382.6" r="1.2" fill="#f1e4bd" stroke="#fff" stroke-width="0.9"/>
<circle cx="437.1" cy="391.7" r="1.2" fill="#f1e4bd" stroke="#fff" stroke-width="0.9"/>
<circle cx="496.8" cy="370.0" r="1.2" fill="#f1e4bd" stroke="#fff" stroke-width="0.9"/>
<circle cx="411.0" cy="508.7" r="1.2" fill="#f1e4bd" stroke="#fff" stroke-width="0.9"/>
<circle cx="489.1" cy="271.1" r="1.2" fill="#f1e4bd" stroke="#fff" stroke-width="0.9"/>
<circle cx="237.9" cy="498.8" r="1.2" fill="#f1e4bd" stroke="#fff" stroke-width="0.9"/>
<circle cx="479.9" cy="335.6" r="1.2" fill="#f1e4bd" stroke="#fff" stroke-width="0.9"/>
<circle cx="489.8" cy="327.9" r="1.2" fill="#f1e4bd" stroke="#fff" stroke-width="0.9"/>
<circle cx="345.8" cy="252.7" r="1.2" fill="#f1e4bd" stroke="#fff" stroke-width="0.9"/>
<circle cx="333.0" cy="269.9" r="1.2" fill="#f1e4bd" stroke="#fff" stroke-width="0.9"/>
<circle cx="332.2" cy="233.6" r="1.2" fill="#f1e4bd" stroke="#fff" stroke-width="0.9"/>
<circle cx="393.1" cy="249.1" r="1.2" fill="#f1e4bd" stroke="#fff" stroke-width="0.9"/>
<circle cx="401.0" cy="250.6" r="1.2" fill="#f1e4bd" stroke="#fff" stroke-width="0.9"/>
<circle cx="311.6" cy="289.7" r="1.2" fill="#f1e4bd" stroke="#fff" stroke-width="0.9"/>
<circle cx="489.2" cy="267.5" r="1.2" fill="#f1e4bd" stroke="#fff" stroke-width="0.9"/>
<circle cx="484.0" cy="353.4" r="1.2" fill="#f1e4bd" stroke="#fff" stroke-width="0.9"/>
<circle cx="441.1" cy="280.9" r="1.2" fill="#f1e4bd" stroke="#fff" stroke-width="0.9"/>
<circle cx="368.5" cy="306.7" r="1.2" fill="#f1e4bd" stroke="#fff" stroke-width="0.9"/>
<circle cx="233.4" cy="269.3" r="1.2" fill="#f1e4bd" stroke="#fff" stroke-width="0.9"/>
<circle cx="270.2" cy="363.9" r="1.2" fill="#f1e4bd" stroke="#fff" stroke-width="0.9"/>
<circle cx="350.2" cy="368.5" r="1.2" fill="#f1e4bd" stroke="#fff" stroke-width="0.9"/>
<circle cx="241.2" cy="401.9" r="1.2" fill="#f1e4bd" stroke="#fff" stroke-width="0.9"/>
<circle cx="303.0" cy="271.8" r="1.2" fill="#f1e4bd" stroke="#fff" stroke-width="0.9"/>
<circle cx="321.8" cy="252.1" r="1.2" fill="#f1e4bd" stroke="#fff" stroke-width="0.9"/>
<circle cx="418.2" cy="311.7" r="1.2" fill="#f1e4bd" stroke="#fff" stroke-width="0.9"/>
<circle cx="414.5" cy="332.0" r="1.2" fill="#f1e4bd" stroke="#fff" stroke-width="0.9"/>
<circle cx="325.2" cy="388.5" r="1.2" fill="#f1e4bd" stroke="#fff" stroke-width="0.9"/>
<circle cx="553.1" cy="264.6" r="1.2" fill="#f1e4bd" stroke="#fff" stroke-width="0.9"/>
<circle cx="324.6" cy="301.6" r="1.2" fill="#f1e4bd" stroke="#fff" stroke-width="0.9"/>
<circle cx="305.4" cy="203.2" r="1.2" fill="#f1e4bd" stroke="#fff" stroke-width="0.9"/>
<circle cx="479.2" cy="204.0" r="1.2" fill="#f1e4bd" stroke="#fff" stroke-width="0.9"/>
<circle cx="269.7" cy="468.6" r="1.2" fill="#f1e4bd" stroke="#fff" stroke-width="0.9"/>
<circle cx="116.4" cy="313.6" r="1.2" fill="#f1e4bd" stroke="#fff" stroke-width="0.9"/>
<circle cx="324.6" cy="209.4" r="1.2" fill="#f1e4bd" stroke="#fff" stroke-width="0.9"/>
<circle cx="362.3" cy="465.3" r="1.2" fill="#f1e4bd" stroke="#fff" stroke-width="0.9"/>
<circle cx="418.9" cy="289.0" r="1.2" fill="#f1e4bd" stroke="#fff" stroke-width="0.9"/>
<circle cx="322.3" cy="380.1" r="1.2" fill="#f1e4bd" stroke="#fff" stroke-width="0.9"/>
<circle cx="286.9" cy="351.4" r="1.2" fill="#f1e4bd" stroke="#fff" stroke-width="0.9"/>
<circle cx="382.9" cy="480.3" r="1.2" fill="#f1e4bd" stroke="#fff" stroke-width="0.9"/>
<circle cx="406.7" cy="502.3" r="1.2" fill="#f1e4bd" stroke="#fff" stroke-width="0.9"/>
<circle cx="401.6" cy="488.1" r="1.2" fill="#f1e4bd" stroke="#fff" stroke-width="0.9"/>
<circle cx="409.9" cy="499.0" r="1.2" fill="#f1e4bd" stroke="#fff" stroke-width="0.9"/>
<path d="M185.4,274.4 L234.0,204.4" fill="none" stroke="#386a2a" stroke-width="1.9"/>
<path d="M185.4,274.4 L229.0,206.0" fill="none" stroke="#386a2a" stroke-width="1.9"/>
<path d="M185.4,274.4 L203.8,218.3 L234.0,204.4" fill="none" stroke="#386a2a" stroke-width="1.9"/>
<path d="M185.4,274.4 L277.7,231.9 L366.3,231.1" fill="none" stroke="#386a2a" stroke-width="1.9"/>
<path d="M185.4,274.4 L287.1,253.7" fill="none" stroke="#386a2a" stroke-width="1.9"/>
<path d="M185.4,274.4 L113.8,311.0" fill="none" stroke="#386a2a" stroke-width="1.9"/>
<path d="M185.4,274.4 L116.3,315.8" fill="none" stroke="#386a2a" stroke-width="1.9"/>
<path d="M185.4,274.4 L117.9,333.5" fill="none" stroke="#386a2a" stroke-width="1.9"/>
<path d="M113.8,311.0 L117.9,333.5" fill="none" stroke="#386a2a" stroke-width="1.9"/>
<path d="M136.4,315.8 L136.4,333.5 L147.7,335.9 L194.1,344.0" fill="none" stroke="#386a2a" stroke-width="1.9"/>
<path d="M136.4,315.8 L141.2,314.2 L194.1,344.0" fill="none" stroke="#386a2a" stroke-width="1.9"/>
<path d="M146.9,343.2 L126.7,354.5" fill="none" stroke="#386a2a" stroke-width="1.9"/>
<path d="M164.5,208.2 L366.3,231.1" fill="none" stroke="#386a2a" stroke-width="1.9"/>
<path d="M287.1,253.7 L366.3,231.1" fill="none" stroke="#386a2a" stroke-width="1.9"/>
<path d="M366.3,231.1 L369.3,191.3" fill="none" stroke="#386a2a" stroke-width="1.9"/>
<path d="M366.3,231.1 L377.4,195.4" fill="none" stroke="#386a2a" stroke-width="1.9"/>
<path d="M369.3,191.3 L379.0,195.4 L395.9,205.6" fill="none" stroke="#386a2a" stroke-width="1.9"/>
<path d="M395.9,205.6 L393.0,182.3" fill="none" stroke="#386a2a" stroke-width="1.9"/>
<path d="M395.9,205.6 L397.1,180.7" fill="none" stroke="#386a2a" stroke-width="1.9"/>
<path d="M395.9,205.6 L400.3,182.3" fill="none" stroke="#386a2a" stroke-width="1.9"/>
<path d="M395.9,205.6 L408.5,186.4" fill="none" stroke="#386a2a" stroke-width="1.9"/>
<path d="M395.9,205.6 L406.9,188.9" fill="none" stroke="#386a2a" stroke-width="1.9"/>
<path d="M393.0,182.3 L400.3,182.3" fill="none" stroke="#386a2a" stroke-width="1.9"/>
<path d="M394.6,226.5 L388.9,250.0" fill="none" stroke="#386a2a" stroke-width="1.9"/>
<path d="M390.2,163.2 L427.3,172.9 L438.8,177.4" fill="none" stroke="#386a2a" stroke-width="1.9"/>
<path d="M347.2,147.7 L359.4,149.6" fill="none" stroke="#386a2a" stroke-width="1.9"/>
<path d="M362.0,151.0 L375.0,153.0 L390.2,163.2" fill="none" stroke="#386a2a" stroke-width="1.9"/>
<path d="M365.0,157.0 L390.2,163.2" fill="none" stroke="#386a2a" stroke-width="1.9"/>
<path d="M372.5,160.3 L390.2,163.2" fill="none" stroke="#386a2a" stroke-width="1.9"/>
<path d="M382.3,167.6 L390.2,163.2" fill="none" stroke="#386a2a" stroke-width="1.9"/>
<path d="M330.0,158.0 L340.0,162.0" fill="none" stroke="#386a2a" stroke-width="1.9"/>
<path d="M391.3,266.2 L413.4,244.9" fill="none" stroke="#386a2a" stroke-width="1.9"/>
<path d="M391.3,266.2 L403.6,248.2" fill="none" stroke="#386a2a" stroke-width="1.9"/>
<path d="M397.6,261.6 L440.3,253.9" fill="none" stroke="#386a2a" stroke-width="1.9"/>
<path d="M402.0,265.4 L431.4,262.9 L439.6,254.7" fill="none" stroke="#386a2a" stroke-width="1.9"/>
<path d="M344.7,251.4 L336.5,269.4" fill="none" stroke="#386a2a" stroke-width="1.9"/>
<path d="M330.0,306.2 L355.4,306.2" fill="none" stroke="#386a2a" stroke-width="1.9"/>
<path d="M393.0,320.0 L354.5,352.9" fill="none" stroke="#386a2a" stroke-width="1.9"/>
<path d="M396.0,322.0 L357.0,355.0" fill="none" stroke="#386a2a" stroke-width="1.9"/>
<path d="M330.0,368.0 L289.0,397.0 L245.3,417.4 L215.0,436.0" fill="none" stroke="#386a2a" stroke-width="1.9"/>
<path d="M330.0,372.0 L291.0,400.0" fill="none" stroke="#386a2a" stroke-width="1.9"/>
<path d="M485.6,291.9 L298.0,454.6 L252.5,498.5" fill="none" stroke="#386a2a" stroke-width="1.9"/>
<path d="M298.0,454.6 L255.0,502.0" fill="none" stroke="#386a2a" stroke-width="1.9"/>
<path d="M516.5,323.9 L542.0,302.3" fill="none" stroke="#386a2a" stroke-width="1.9"/>
<path d="M516.5,323.9 L543.1,310.4" fill="none" stroke="#386a2a" stroke-width="1.9"/>
<path d="M516.5,323.9 L542.0,315.0" fill="none" stroke="#386a2a" stroke-width="1.9"/>
<path d="M542.0,302.3 L543.0,315.0" fill="none" stroke="#386a2a" stroke-width="1.9"/>
<path d="M518.8,343.6 L542.0,349.1" fill="none" stroke="#386a2a" stroke-width="1.9"/>
<path d="M518.8,343.6 L533.9,369.5" fill="none" stroke="#386a2a" stroke-width="1.9"/>
<path d="M542.0,349.1 L533.9,369.5" fill="none" stroke="#386a2a" stroke-width="1.9"/>
<path d="M533.9,369.5 L531.5,397.3" fill="none" stroke="#386a2a" stroke-width="1.9"/>
<path d="M539.7,364.9 L535.5,383.4" fill="none" stroke="#386a2a" stroke-width="1.9"/>
<path d="M545.4,338.2 L548.9,342.9 L542.0,349.1" fill="none" stroke="#386a2a" stroke-width="1.9"/>
<path d="M480.6,384.6 L501.4,386.2" fill="none" stroke="#386a2a" stroke-width="1.9"/>
<path d="M480.6,384.6 L502.0,392.0" fill="none" stroke="#386a2a" stroke-width="1.9"/>
<path d="M480.6,384.6 L505.0,396.0" fill="none" stroke="#386a2a" stroke-width="1.9"/>
<path d="M480.6,384.6 L484.0,413.0" fill="none" stroke="#386a2a" stroke-width="1.9"/>
<path d="M480.6,384.6 L490.0,410.0" fill="none" stroke="#386a2a" stroke-width="1.9"/>
<path d="M480.6,384.6 L500.0,409.0" fill="none" stroke="#386a2a" stroke-width="1.9"/>
<path d="M480.6,384.6 L507.0,412.0" fill="none" stroke="#386a2a" stroke-width="1.9"/>
<path d="M480.6,384.6 L464.3,427.5 L454.4,453.4" fill="none" stroke="#386a2a" stroke-width="1.9"/>
<path d="M454.4,453.4 L482.0,418.0" fill="none" stroke="#386a2a" stroke-width="1.9"/>
<path d="M454.4,453.4 L484.0,430.0" fill="none" stroke="#386a2a" stroke-width="1.9"/>
<path d="M454.4,453.4 L490.0,432.0" fill="none" stroke="#386a2a" stroke-width="1.9"/>
<path d="M454.4,453.4 L500.0,431.0" fill="none" stroke="#386a2a" stroke-width="1.9"/>
<path d="M454.4,453.4 L508.0,424.0" fill="none" stroke="#386a2a" stroke-width="1.9"/>
<path d="M454.4,453.4 L486.0,410.0" fill="none" stroke="#386a2a" stroke-width="1.9"/>
<path d="M454.4,453.4 L478.0,425.0" fill="none" stroke="#386a2a" stroke-width="1.9"/>
<path d="M298.0,454.6 L242.3,454.0" fill="none" stroke="#386a2a" stroke-width="1.9"/>
<path d="M298.0,454.6 L297.4,431.0 L296.8,416.4" fill="none" stroke="#386a2a" stroke-width="1.9"/>
<path d="M298.0,454.6 L380.2,486.3" fill="none" stroke="#386a2a" stroke-width="1.9"/>
<path d="M298.0,454.6 L327.1,507.7" fill="none" stroke="#386a2a" stroke-width="1.9"/>
<path d="M298.0,454.6 L245.3,417.4" fill="none" stroke="#386a2a" stroke-width="1.9"/>
<path d="M298.0,454.6 L383.0,380.0" fill="none" stroke="#386a2a" stroke-width="1.9"/>
<path d="M327.1,507.7 L363.1,498.1" fill="none" stroke="#386a2a" stroke-width="1.9"/>
<path d="M327.1,507.7 L352.8,513.0" fill="none" stroke="#386a2a" stroke-width="1.9"/>
<path d="M327.1,507.7 L352.8,520.6" fill="none" stroke="#386a2a" stroke-width="1.9"/>
<path d="M327.1,507.7 L330.6,526.8" fill="none" stroke="#386a2a" stroke-width="1.9"/>
<path d="M327.1,507.7 L336.8,525.0" fill="none" stroke="#386a2a" stroke-width="1.9"/>
<path d="M327.1,507.7 L283.0,476.0 L265.1,446.8" fill="none" stroke="#386a2a" stroke-width="1.9"/>
<path d="M363.1,498.1 L354.5,518.0" fill="none" stroke="#386a2a" stroke-width="1.9"/>
<path d="M363.1,498.1 L362.5,512.6" fill="none" stroke="#386a2a" stroke-width="1.9"/>
<path d="M363.1,498.1 L373.2,508.2" fill="none" stroke="#386a2a" stroke-width="1.9"/>
<path d="M363.1,498.1 L360.8,486.0 L358.0,466.6 L360.4,445.0" fill="none" stroke="#386a2a" stroke-width="1.9"/>
<path d="M346.0,379.0 L359.7,498.5" fill="none" stroke="#386a2a" stroke-width="1.9"/>
<path d="M320.0,468.3 L381.1,486.4" fill="none" stroke="#386a2a" stroke-width="1.9"/>
<path d="M320.0,452.4 L351.0,462.1" fill="none" stroke="#386a2a" stroke-width="1.9"/>
<path d="M360.4,445.0 L374.9,451.5" fill="none" stroke="#386a2a" stroke-width="1.9"/>
<path d="M360.4,445.0 L367.8,457.7" fill="none" stroke="#386a2a" stroke-width="1.9"/>
<path d="M401.5,460.9 L392.6,451.5" fill="none" stroke="#386a2a" stroke-width="1.9"/>
<path d="M195.8,470.3 L265.1,446.8" fill="none" stroke="#386a2a" stroke-width="1.9"/>
<path d="M181.5,468.0 L193.8,472.0 L183.0,476.0" fill="none" stroke="#386a2a" stroke-width="1.9"/>
<path d="M225.0,394.9 L216.3,435.2" fill="none" stroke="#386a2a" stroke-width="1.9"/>
<path d="M225.0,394.9 L244.9,417.8 L265.1,446.8" fill="none" stroke="#386a2a" stroke-width="1.9"/>
<path d="M223.4,483.2 L257.1,459.7" fill="none" stroke="#386a2a" stroke-width="1.9"/>
<path d="M226.0,486.0 L259.0,462.0" fill="none" stroke="#386a2a" stroke-width="1.9"/>
<path d="M216.3,502.6 L224.4,498.1" fill="none" stroke="#386a2a" stroke-width="1.9"/>
<path d="M246.0,380.2 L234.7,400.0" fill="none" stroke="#386a2a" stroke-width="1.9"/>
<path d="M243.6,331.1 L222.6,336.7" fill="none" stroke="#386a2a" stroke-width="1.9"/>
<path d="M269.7,305.1 L308.5,348.3" fill="none" stroke="#386a2a" stroke-width="1.9"/>
<path d="M308.5,348.3 L316.5,329.1" fill="none" stroke="#386a2a" stroke-width="1.9"/>
<path d="M271.9,325.8 L268.6,357.4" fill="none" stroke="#386a2a" stroke-width="1.9"/>
<path d="M271.9,330.2 L290.4,361.8" fill="none" stroke="#386a2a" stroke-width="1.9"/>
<path d="M414.0,370.0 L447.8,372.7" fill="none" stroke="#386a2a" stroke-width="1.9"/>
<path d="M414.0,372.0 L447.0,376.0" fill="none" stroke="#386a2a" stroke-width="1.9"/>
<path d="M216.3,434.1 L230.6,441.3 L260.2,450.5" fill="none" stroke="#386a2a" stroke-width="1.9"/>
<path d="M232.6,416.8 L244.9,418.8" fill="none" stroke="#386a2a" stroke-width="1.9"/>
<path d="M244.9,418.8 L253.0,433.1 L265.1,446.8" fill="none" stroke="#386a2a" stroke-width="1.9"/>
<path d="M240.8,404.5 L265.3,418.8" fill="none" stroke="#386a2a" stroke-width="1.9"/>
<path d="M251.0,419.8 L277.6,435.2" fill="none" stroke="#386a2a" stroke-width="1.9"/>
<path d="M271.9,325.8 L270.0,362.6 L259.0,392.6" fill="none" stroke="#386a2a" stroke-width="1.9"/>
<path d="M310.8,308.1 L316.3,332.7 L308.5,348.3" fill="none" stroke="#386a2a" stroke-width="1.9"/>
<path d="M319.0,280.9 L327.2,305.4 L355.4,306.8" fill="none" stroke="#386a2a" stroke-width="1.9"/>
<path d="M173.2,206.4 L164.5,208.2" fill="none" stroke="#386a2a" stroke-width="1.9"/>
<circle cx="223.7" cy="219.2" r="1.1" fill="#f1e4bd" stroke="#fff" stroke-width="1.1"/>
<circle cx="219.4" cy="225.4" r="1.1" fill="#f1e4bd" stroke="#fff" stroke-width="1.1"/>
<circle cx="211.8" cy="236.4" r="1.1" fill="#f1e4bd" stroke="#fff" stroke-width="1.1"/>
<circle cx="194.8" cy="259.7" r="1.1" fill="#f1e4bd" stroke="#fff" stroke-width="1.1"/>
<circle cx="211.9" cy="232.9" r="1.1" fill="#f1e4bd" stroke="#fff" stroke-width="1.1"/>
<circle cx="196.1" cy="257.6" r="1.1" fill="#f1e4bd" stroke="#fff" stroke-width="1.1"/>
<circle cx="195.5" cy="243.7" r="1.1" fill="#f1e4bd" stroke="#fff" stroke-width="1.1"/>
<circle cx="198.6" cy="234.0" r="1.1" fill="#f1e4bd" stroke="#fff" stroke-width="1.1"/>
<circle cx="209.4" cy="215.7" r="1.1" fill="#f1e4bd" stroke="#fff" stroke-width="1.1"/>
<circle cx="258.4" cy="240.8" r="1.1" fill="#f1e4bd" stroke="#fff" stroke-width="1.1"/>
<circle cx="232.6" cy="252.7" r="1.1" fill="#f1e4bd" stroke="#fff" stroke-width="1.1"/>
<circle cx="217.6" cy="259.6" r="1.1" fill="#f1e4bd" stroke="#fff" stroke-width="1.1"/>
<circle cx="240.0" cy="249.3" r="1.1" fill="#f1e4bd" stroke="#fff" stroke-width="1.1"/>
<circle cx="319.1" cy="231.5" r="1.1" fill="#f1e4bd" stroke="#fff" stroke-width="1.1"/>
<circle cx="294.7" cy="231.7" r="1.1" fill="#f1e4bd" stroke="#fff" stroke-width="1.1"/>
<circle cx="332.3" cy="231.4" r="1.1" fill="#f1e4bd" stroke="#fff" stroke-width="1.1"/>
<circle cx="352.8" cy="231.2" r="1.1" fill="#f1e4bd" stroke="#fff" stroke-width="1.1"/>
<circle cx="268.6" cy="257.5" r="1.1" fill="#f1e4bd" stroke="#fff" stroke-width="1.1"/>
<circle cx="239.2" cy="263.5" r="1.1" fill="#f1e4bd" stroke="#fff" stroke-width="1.1"/>
<circle cx="207.0" cy="270.0" r="1.1" fill="#f1e4bd" stroke="#fff" stroke-width="1.1"/>
<circle cx="244.8" cy="262.3" r="1.1" fill="#f1e4bd" stroke="#fff" stroke-width="1.1"/>
<circle cx="169.4" cy="282.6" r="1.1" fill="#f1e4bd" stroke="#fff" stroke-width="1.1"/>
<circle cx="171.7" cy="281.4" r="1.1" fill="#f1e4bd" stroke="#fff" stroke-width="1.1"/>
<circle cx="138.4" cy="298.4" r="1.1" fill="#f1e4bd" stroke="#fff" stroke-width="1.1"/>
<circle cx="136.8" cy="303.5" r="1.1" fill="#f1e4bd" stroke="#fff" stroke-width="1.1"/>
<circle cx="164.2" cy="287.1" r="1.1" fill="#f1e4bd" stroke="#fff" stroke-width="1.1"/>
<circle cx="149.4" cy="296.0" r="1.1" fill="#f1e4bd" stroke="#fff" stroke-width="1.1"/>
<circle cx="129.6" cy="323.3" r="1.1" fill="#f1e4bd" stroke="#fff" stroke-width="1.1"/>
<circle cx="139.8" cy="314.3" r="1.1" fill="#f1e4bd" stroke="#fff" stroke-width="1.1"/>
<circle cx="169.6" cy="288.2" r="1.1" fill="#f1e4bd" stroke="#fff" stroke-width="1.1"/>
<circle cx="153.0" cy="302.8" r="1.1" fill="#f1e4bd" stroke="#fff" stroke-width="1.1"/>
<circle cx="116.6" cy="326.4" r="1.1" fill="#f1e4bd" stroke="#fff" stroke-width="1.1"/>
<circle cx="159.0" cy="337.9" r="1.1" fill="#f1e4bd" stroke="#fff" stroke-width="1.1"/>
<circle cx="168.0" cy="339.4" r="1.1" fill="#f1e4bd" stroke="#fff" stroke-width="1.1"/>
<circle cx="149.2" cy="318.7" r="1.1" fill="#f1e4bd" stroke="#fff" stroke-width="1.1"/>
<circle cx="170.7" cy="330.8" r="1.1" fill="#f1e4bd" stroke="#fff" stroke-width="1.1"/>
<circle cx="135.1" cy="349.8" r="1.1" fill="#f1e4bd" stroke="#fff" stroke-width="1.1"/>
<circle cx="233.6" cy="216.0" r="1.1" fill="#f1e4bd" stroke="#fff" stroke-width="1.1"/>
<circle cx="232.8" cy="215.9" r="1.1" fill="#f1e4bd" stroke="#fff" stroke-width="1.1"/>
<circle cx="299.5" cy="223.5" r="1.1" fill="#f1e4bd" stroke="#fff" stroke-width="1.1"/>
<circle cx="257.2" cy="218.7" r="1.1" fill="#f1e4bd" stroke="#fff" stroke-width="1.1"/>
<circle cx="335.3" cy="227.6" r="1.1" fill="#f1e4bd" stroke="#fff" stroke-width="1.1"/>
<circle cx="303.2" cy="223.9" r="1.1" fill="#f1e4bd" stroke="#fff" stroke-width="1.1"/>
<circle cx="195.8" cy="211.7" r="1.1" fill="#f1e4bd" stroke="#fff" stroke-width="1.1"/>
<circle cx="328.7" cy="226.8" r="1.1" fill="#f1e4bd" stroke="#fff" stroke-width="1.1"/>
<circle cx="257.1" cy="218.7" r="1.1" fill="#f1e4bd" stroke="#fff" stroke-width="1.1"/>
<circle cx="320.0" cy="244.3" r="1.1" fill="#f1e4bd" stroke="#fff" stroke-width="1.1"/>
<circle cx="342.0" cy="238.0" r="1.1" fill="#f1e4bd" stroke="#fff" stroke-width="1.1"/>
<circle cx="333.7" cy="240.4" r="1.1" fill="#f1e4bd" stroke="#fff" stroke-width="1.1"/>
<circle cx="368.5" cy="202.1" r="1.1" fill="#f1e4bd" stroke="#fff" stroke-width="1.1"/>
<circle cx="371.9" cy="213.0" r="1.1" fill="#f1e4bd" stroke="#fff" stroke-width="1.1"/>
<circle cx="393.6" cy="187.3" r="1.1" fill="#f1e4bd" stroke="#fff" stroke-width="1.1"/>
<circle cx="396.9" cy="184.7" r="1.1" fill="#f1e4bd" stroke="#fff" stroke-width="1.1"/>
<circle cx="397.7" cy="196.1" r="1.1" fill="#f1e4bd" stroke="#fff" stroke-width="1.1"/>
<circle cx="402.0" cy="196.4" r="1.1" fill="#f1e4bd" stroke="#fff" stroke-width="1.1"/>
<circle cx="393.3" cy="231.8" r="1.1" fill="#f1e4bd" stroke="#fff" stroke-width="1.1"/>
<circle cx="397.6" cy="165.1" r="1.1" fill="#f1e4bd" stroke="#fff" stroke-width="1.1"/>
<circle cx="369.7" cy="158.2" r="1.1" fill="#f1e4bd" stroke="#fff" stroke-width="1.1"/>
<circle cx="402.1" cy="255.7" r="1.1" fill="#f1e4bd" stroke="#fff" stroke-width="1.1"/>
<circle cx="425.4" cy="256.6" r="1.1" fill="#f1e4bd" stroke="#fff" stroke-width="1.1"/>
<circle cx="409.1" cy="264.8" r="1.1" fill="#f1e4bd" stroke="#fff" stroke-width="1.1"/>
<circle cx="346.3" cy="306.2" r="1.1" fill="#f1e4bd" stroke="#fff" stroke-width="1.1"/>
<circle cx="382.9" cy="328.6" r="1.1" fill="#f1e4bd" stroke="#fff" stroke-width="1.1"/>
<circle cx="365.4" cy="343.6" r="1.1" fill="#f1e4bd" stroke="#fff" stroke-width="1.1"/>
<circle cx="373.6" cy="340.9" r="1.1" fill="#f1e4bd" stroke="#fff" stroke-width="1.1"/>
<circle cx="389.9" cy="327.1" r="1.1" fill="#f1e4bd" stroke="#fff" stroke-width="1.1"/>
<circle cx="295.2" cy="392.6" r="1.1" fill="#f1e4bd" stroke="#fff" stroke-width="1.1"/>
<circle cx="306.7" cy="384.5" r="1.1" fill="#f1e4bd" stroke="#fff" stroke-width="1.1"/>
<circle cx="278.6" cy="401.9" r="1.1" fill="#f1e4bd" stroke="#fff" stroke-width="1.1"/>
<circle cx="281.3" cy="400.6" r="1.1" fill="#f1e4bd" stroke="#fff" stroke-width="1.1"/>
<circle cx="230.0" cy="426.8" r="1.1" fill="#f1e4bd" stroke="#fff" stroke-width="1.1"/>
<circle cx="306.3" cy="389.0" r="1.1" fill="#f1e4bd" stroke="#fff" stroke-width="1.1"/>
<circle cx="299.5" cy="393.9" r="1.1" fill="#f1e4bd" stroke="#fff" stroke-width="1.1"/>
<circle cx="446.0" cy="326.2" r="1.1" fill="#f1e4bd" stroke="#fff" stroke-width="1.1"/>
<circle cx="332.0" cy="425.1" r="1.1" fill="#f1e4bd" stroke="#fff" stroke-width="1.1"/>
<circle cx="414.6" cy="353.5" r="1.1" fill="#f1e4bd" stroke="#fff" stroke-width="1.1"/>
<circle cx="385.5" cy="378.7" r="1.1" fill="#f1e4bd" stroke="#fff" stroke-width="1.1"/>
<circle cx="403.9" cy="362.7" r="1.1" fill="#f1e4bd" stroke="#fff" stroke-width="1.1"/>
<circle cx="350.6" cy="409.0" r="1.1" fill="#f1e4bd" stroke="#fff" stroke-width="1.1"/>
<circle cx="379.7" cy="383.7" r="1.1" fill="#f1e4bd" stroke="#fff" stroke-width="1.1"/>
<circle cx="364.4" cy="397.1" r="1.1" fill="#f1e4bd" stroke="#fff" stroke-width="1.1"/>
<circle cx="328.4" cy="428.2" r="1.1" fill="#f1e4bd" stroke="#fff" stroke-width="1.1"/>
<circle cx="368.1" cy="393.8" r="1.1" fill="#f1e4bd" stroke="#fff" stroke-width="1.1"/>
<circle cx="412.7" cy="355.1" r="1.1" fill="#f1e4bd" stroke="#fff" stroke-width="1.1"/>
<circle cx="273.6" cy="478.1" r="1.1" fill="#f1e4bd" stroke="#fff" stroke-width="1.1"/>
<circle cx="282.8" cy="469.2" r="1.1" fill="#f1e4bd" stroke="#fff" stroke-width="1.1"/>
<circle cx="273.8" cy="481.3" r="1.1" fill="#f1e4bd" stroke="#fff" stroke-width="1.1"/>
<circle cx="285.6" cy="468.3" r="1.1" fill="#f1e4bd" stroke="#fff" stroke-width="1.1"/>
<circle cx="533.2" cy="309.8" r="1.1" fill="#f1e4bd" stroke="#fff" stroke-width="1.1"/>
<circle cx="534.5" cy="314.8" r="1.1" fill="#f1e4bd" stroke="#fff" stroke-width="1.1"/>
<circle cx="530.5" cy="319.0" r="1.1" fill="#f1e4bd" stroke="#fff" stroke-width="1.1"/>
<circle cx="537.9" cy="348.1" r="1.1" fill="#f1e4bd" stroke="#fff" stroke-width="1.1"/>
<circle cx="524.9" cy="354.1" r="1.1" fill="#f1e4bd" stroke="#fff" stroke-width="1.1"/>
<circle cx="532.1" cy="390.6" r="1.1" fill="#f1e4bd" stroke="#fff" stroke-width="1.1"/>
<circle cx="486.2" cy="386.5" r="1.1" fill="#f1e4bd" stroke="#fff" stroke-width="1.1"/>
<circle cx="492.8" cy="390.3" r="1.1" fill="#f1e4bd" stroke="#fff" stroke-width="1.1"/>
<circle cx="481.8" cy="394.9" r="1.1" fill="#f1e4bd" stroke="#fff" stroke-width="1.1"/>
<circle cx="482.9" cy="390.9" r="1.1" fill="#f1e4bd" stroke="#fff" stroke-width="1.1"/>
<circle cx="490.2" cy="396.7" r="1.1" fill="#f1e4bd" stroke="#fff" stroke-width="1.1"/>
<circle cx="488.3" cy="392.6" r="1.1" fill="#f1e4bd" stroke="#fff" stroke-width="1.1"/>
<circle cx="470.7" cy="410.8" r="1.1" fill="#f1e4bd" stroke="#fff" stroke-width="1.1"/>
<circle cx="477.1" cy="393.9" r="1.1" fill="#f1e4bd" stroke="#fff" stroke-width="1.1"/>
<circle cx="461.8" cy="433.9" r="1.1" fill="#f1e4bd" stroke="#fff" stroke-width="1.1"/>
<circle cx="466.2" cy="438.3" r="1.1" fill="#f1e4bd" stroke="#fff" stroke-width="1.1"/>
<circle cx="469.7" cy="433.8" r="1.1" fill="#f1e4bd" stroke="#fff" stroke-width="1.1"/>
<circle cx="470.8" cy="440.5" r="1.1" fill="#f1e4bd" stroke="#fff" stroke-width="1.1"/>
<circle cx="464.4" cy="447.4" r="1.1" fill="#f1e4bd" stroke="#fff" stroke-width="1.1"/>
<circle cx="492.6" cy="434.6" r="1.1" fill="#f1e4bd" stroke="#fff" stroke-width="1.1"/>
<circle cx="473.5" cy="444.0" r="1.1" fill="#f1e4bd" stroke="#fff" stroke-width="1.1"/>
<circle cx="485.7" cy="436.2" r="1.1" fill="#f1e4bd" stroke="#fff" stroke-width="1.1"/>
<circle cx="490.5" cy="433.6" r="1.1" fill="#f1e4bd" stroke="#fff" stroke-width="1.1"/>
<circle cx="468.5" cy="434.0" r="1.1" fill="#f1e4bd" stroke="#fff" stroke-width="1.1"/>
<circle cx="475.3" cy="424.6" r="1.1" fill="#f1e4bd" stroke="#fff" stroke-width="1.1"/>
<circle cx="461.6" cy="444.8" r="1.1" fill="#f1e4bd" stroke="#fff" stroke-width="1.1"/>
<circle cx="277.9" cy="454.4" r="1.1" fill="#f1e4bd" stroke="#fff" stroke-width="1.1"/>
<circle cx="255.6" cy="454.1" r="1.1" fill="#f1e4bd" stroke="#fff" stroke-width="1.1"/>
<circle cx="297.7" cy="444.3" r="1.1" fill="#f1e4bd" stroke="#fff" stroke-width="1.1"/>
<circle cx="366.9" cy="481.2" r="1.1" fill="#f1e4bd" stroke="#fff" stroke-width="1.1"/>
<circle cx="341.3" cy="471.3" r="1.1" fill="#f1e4bd" stroke="#fff" stroke-width="1.1"/>
<circle cx="341.2" cy="471.3" r="1.1" fill="#f1e4bd" stroke="#fff" stroke-width="1.1"/>
<circle cx="345.8" cy="473.0" r="1.1" fill="#f1e4bd" stroke="#fff" stroke-width="1.1"/>
<circle cx="318.0" cy="491.0" r="1.1" fill="#f1e4bd" stroke="#fff" stroke-width="1.1"/>
<circle cx="315.1" cy="485.8" r="1.1" fill="#f1e4bd" stroke="#fff" stroke-width="1.1"/>
<circle cx="289.1" cy="448.3" r="1.1" fill="#f1e4bd" stroke="#fff" stroke-width="1.1"/>
<circle cx="271.4" cy="435.8" r="1.1" fill="#f1e4bd" stroke="#fff" stroke-width="1.1"/>
<circle cx="358.8" cy="401.2" r="1.1" fill="#f1e4bd" stroke="#fff" stroke-width="1.1"/>
<circle cx="353.5" cy="405.9" r="1.1" fill="#f1e4bd" stroke="#fff" stroke-width="1.1"/>
<circle cx="314.2" cy="440.3" r="1.1" fill="#f1e4bd" stroke="#fff" stroke-width="1.1"/>
<circle cx="315.6" cy="439.1" r="1.1" fill="#f1e4bd" stroke="#fff" stroke-width="1.1"/>
<circle cx="359.0" cy="401.0" r="1.1" fill="#f1e4bd" stroke="#fff" stroke-width="1.1"/>
<circle cx="341.1" cy="504.0" r="1.1" fill="#f1e4bd" stroke="#fff" stroke-width="1.1"/>
<circle cx="343.5" cy="511.1" r="1.1" fill="#f1e4bd" stroke="#fff" stroke-width="1.1"/>
<circle cx="346.2" cy="517.3" r="1.1" fill="#f1e4bd" stroke="#fff" stroke-width="1.1"/>
<circle cx="315.5" cy="499.3" r="1.1" fill="#f1e4bd" stroke="#fff" stroke-width="1.1"/>
<circle cx="317.2" cy="500.6" r="1.1" fill="#f1e4bd" stroke="#fff" stroke-width="1.1"/>
<circle cx="276.6" cy="465.6" r="1.1" fill="#f1e4bd" stroke="#fff" stroke-width="1.1"/>
<circle cx="357.5" cy="479.4" r="1.1" fill="#f1e4bd" stroke="#fff" stroke-width="1.1"/>
<circle cx="352.4" cy="434.5" r="1.1" fill="#f1e4bd" stroke="#fff" stroke-width="1.1"/>
<circle cx="351.0" cy="422.6" r="1.1" fill="#f1e4bd" stroke="#fff" stroke-width="1.1"/>
<circle cx="349.4" cy="408.5" r="1.1" fill="#f1e4bd" stroke="#fff" stroke-width="1.1"/>
<circle cx="355.4" cy="460.7" r="1.1" fill="#f1e4bd" stroke="#fff" stroke-width="1.1"/>
<circle cx="368.7" cy="482.7" r="1.1" fill="#f1e4bd" stroke="#fff" stroke-width="1.1"/>
<circle cx="330.5" cy="471.4" r="1.1" fill="#f1e4bd" stroke="#fff" stroke-width="1.1"/>
<circle cx="339.0" cy="458.3" r="1.1" fill="#f1e4bd" stroke="#fff" stroke-width="1.1"/>
<circle cx="208.0" cy="466.2" r="1.1" fill="#f1e4bd" stroke="#fff" stroke-width="1.1"/>
<circle cx="247.3" cy="452.8" r="1.1" fill="#f1e4bd" stroke="#fff" stroke-width="1.1"/>
<circle cx="213.6" cy="464.3" r="1.1" fill="#f1e4bd" stroke="#fff" stroke-width="1.1"/>
<circle cx="220.2" cy="417.1" r="1.1" fill="#f1e4bd" stroke="#fff" stroke-width="1.1"/>
<circle cx="230.9" cy="401.7" r="1.1" fill="#f1e4bd" stroke="#fff" stroke-width="1.1"/>
<circle cx="254.9" cy="432.1" r="1.1" fill="#f1e4bd" stroke="#fff" stroke-width="1.1"/>
<circle cx="244.9" cy="468.2" r="1.1" fill="#f1e4bd" stroke="#fff" stroke-width="1.1"/>
<circle cx="235.8" cy="478.9" r="1.1" fill="#f1e4bd" stroke="#fff" stroke-width="1.1"/>
<circle cx="238.1" cy="394.0" r="1.1" fill="#f1e4bd" stroke="#fff" stroke-width="1.1"/>
<circle cx="291.0" cy="328.8" r="1.1" fill="#f1e4bd" stroke="#fff" stroke-width="1.1"/>
<circle cx="279.9" cy="316.5" r="1.1" fill="#f1e4bd" stroke="#fff" stroke-width="1.1"/>
<circle cx="270.0" cy="344.1" r="1.1" fill="#f1e4bd" stroke="#fff" stroke-width="1.1"/>
<circle cx="285.0" cy="352.5" r="1.1" fill="#f1e4bd" stroke="#fff" stroke-width="1.1"/>
<circle cx="440.9" cy="372.1" r="1.1" fill="#f1e4bd" stroke="#fff" stroke-width="1.1"/>
<circle cx="420.9" cy="372.8" r="1.1" fill="#f1e4bd" stroke="#fff" stroke-width="1.1"/>
<circle cx="250.8" cy="447.6" r="1.1" fill="#f1e4bd" stroke="#fff" stroke-width="1.1"/>
<circle cx="254.4" cy="412.4" r="1.1" fill="#f1e4bd" stroke="#fff" stroke-width="1.1"/>
<circle cx="273.0" cy="432.6" r="1.1" fill="#f1e4bd" stroke="#fff" stroke-width="1.1"/>
<circle cx="270.7" cy="348.3" r="1.1" fill="#f1e4bd" stroke="#fff" stroke-width="1.1"/>
<circle cx="262.7" cy="382.5" r="1.1" fill="#f1e4bd" stroke="#fff" stroke-width="1.1"/>
<circle cx="314.4" cy="324.2" r="1.1" fill="#f1e4bd" stroke="#fff" stroke-width="1.1"/>
<circle cx="322.2" cy="290.6" r="1.1" fill="#f1e4bd" stroke="#fff" stroke-width="1.1"/>
<circle cx="338.3" cy="306.0" r="1.1" fill="#f1e4bd" stroke="#fff" stroke-width="1.1"/>
<path d="M507.5,419.3 L506.4,425.0 L502.5,429.8 L497.4,432.5 L491.8,432.8 L486.5,429.9 L484.0,426.4 L482.6,420.3 L483.6,415.5 L487.4,410.9 L492.4,408.2 L498.9,408.7 L503.4,410.8 L505.8,415.0Z M506.4,425.0 L483.6,415.5 M502.5,429.8 L487.4,410.9 M497.4,432.5 L484.0,426.4 M491.8,432.8 L482.6,420.3 M491.8,432.8 L498.9,408.7 M486.5,429.9 L492.4,408.2 M484.0,426.4 L487.4,410.9 M484.0,426.4 L498.9,408.7 M482.6,420.3 L492.4,408.2 M482.6,420.3 L507.5,419.3 M483.6,415.5 L506.4,425.0 M492.4,408.2 L497.4,432.5 M498.9,408.7 L491.8,432.8 M503.4,410.8 L497.4,432.5 M503.4,410.8 L486.5,429.9 M505.8,415.0 L502.5,429.8" fill="none" stroke="#386a2a" stroke-width="1.5"/>
<circle cx="507.5" cy="419.3" r="1.2" fill="#fff"/>
<circle cx="506.4" cy="425.0" r="1.2" fill="#fff"/>
<circle cx="502.5" cy="429.8" r="1.2" fill="#fff"/>
<circle cx="491.8" cy="432.8" r="1.2" fill="#fff"/>
<circle cx="484.0" cy="426.4" r="1.2" fill="#fff"/>
<circle cx="482.6" cy="420.3" r="1.2" fill="#fff"/>
<circle cx="483.6" cy="415.5" r="1.2" fill="#fff"/>
<circle cx="487.4" cy="410.9" r="1.2" fill="#fff"/>
<circle cx="492.4" cy="408.2" r="1.2" fill="#fff"/>
<circle cx="498.9" cy="408.7" r="1.2" fill="#fff"/>
<circle cx="503.4" cy="410.8" r="1.2" fill="#fff"/>
<circle cx="505.8" cy="415.0" r="1.2" fill="#fff"/>
<circle cx="492.9" cy="417.8" r="1.2" fill="#fff"/>
<circle cx="494.3" cy="421.3" r="1.2" fill="#fff"/>
<circle cx="488.4" cy="416.1" r="1.2" fill="#fff"/>
<circle cx="493.4" cy="415.2" r="1.2" fill="#fff"/>
<circle cx="494.2" cy="418.8" r="1.2" fill="#fff"/>
<circle cx="500.0" cy="415.8" r="1.2" fill="#fff"/>
<circle cx="496.1" cy="415.8" r="1.2" fill="#fff"/>
<path d="M103.3,369.5 L101.8,373.9 L97.1,376.6 L93.4,376.7 L88.8,374.0 L87.3,368.3 L88.5,364.3 L92.4,361.4 L97.6,361.2 L102.1,364.3Z M103.3,369.5 L87.3,368.3 M103.3,369.5 L92.4,361.4 M101.8,373.9 L88.8,374.0 M101.8,373.9 L88.5,364.3 M97.1,376.6 L102.1,364.3 M93.4,376.7 L103.3,369.5 M87.3,368.3 L97.1,376.6 M88.5,364.3 L101.8,373.9 M97.6,361.2 L101.8,373.9 M97.6,361.2 L93.4,376.7 M102.1,364.3 L97.1,376.6 M102.1,364.3 L88.5,364.3" fill="none" stroke="#386a2a" stroke-width="1.3"/>
<circle cx="103.3" cy="369.5" r="1.2" fill="#fff"/>
<circle cx="97.1" cy="376.6" r="1.2" fill="#fff"/>
<circle cx="93.4" cy="376.7" r="1.2" fill="#fff"/>
<circle cx="87.3" cy="368.3" r="1.2" fill="#fff"/>
<circle cx="92.4" cy="361.4" r="1.2" fill="#fff"/>
<circle cx="97.6" cy="361.2" r="1.2" fill="#fff"/>
<circle cx="102.1" cy="364.3" r="1.2" fill="#fff"/>
<circle cx="92.8" cy="371.3" r="1.2" fill="#fff"/>
<circle cx="96.8" cy="370.3" r="1.2" fill="#fff"/>
<circle cx="95.8" cy="369.0" r="1.2" fill="#fff"/>
<circle cx="91.7" cy="370.3" r="1.2" fill="#fff"/>
<circle cx="91.4" cy="372.7" r="1.2" fill="#fff"/>
<path d="M96.1,352 L95.8,361" stroke="#386a2a" stroke-width="2"/>
<path d="M451.7,221.5 L449.9,229.3 L444.4,235.5 L439.1,238.3 L432.2,237.9 L424.3,234.4 L420.0,227.8 L417.7,223.0 L419.0,214.0 L425.4,208.5 L430.3,204.9 L437.7,204.8 L444.2,208.7 L450.5,213.2Z M451.7,221.5 L424.3,234.4 M449.9,229.3 L420.0,227.8 M449.9,229.3 L419.0,214.0 M444.4,235.5 L424.3,234.4 M444.4,235.5 L417.7,223.0 M439.1,238.3 L420.0,227.8 M424.3,234.4 L419.0,214.0 M424.3,234.4 L430.3,204.9 M417.7,223.0 L430.3,204.9 M417.7,223.0 L444.2,208.7 M419.0,214.0 L437.7,204.8 M425.4,208.5 L444.2,208.7 M430.3,204.9 L449.9,229.3 M430.3,204.9 L439.1,238.3 M437.7,204.8 L444.4,235.5 M444.2,208.7 L439.1,238.3 M450.5,213.2 L420.0,227.8" fill="none" stroke="#d0d0d0" stroke-width="1.6"/>
<circle cx="451.7" cy="221.5" r="1.2" fill="#fff"/>
<circle cx="449.9" cy="229.3" r="1.2" fill="#fff"/>
<circle cx="444.4" cy="235.5" r="1.2" fill="#fff"/>
<circle cx="439.1" cy="238.3" r="1.2" fill="#fff"/>
<circle cx="432.2" cy="237.9" r="1.2" fill="#fff"/>
<circle cx="424.3" cy="234.4" r="1.2" fill="#fff"/>
<circle cx="420.0" cy="227.8" r="1.2" fill="#fff"/>
<circle cx="417.7" cy="223.0" r="1.2" fill="#fff"/>
<circle cx="425.4" cy="208.5" r="1.2" fill="#fff"/>
<circle cx="430.3" cy="204.9" r="1.2" fill="#fff"/>
<circle cx="428.0" cy="212.4" r="1.2" fill="#fff"/>
<circle cx="441.9" cy="227.5" r="1.2" fill="#fff"/>
<circle cx="430.7" cy="214.6" r="1.2" fill="#fff"/>
<circle cx="437.9" cy="218.5" r="1.2" fill="#fff"/>
<circle cx="433.5" cy="218.3" r="1.2" fill="#fff"/>
<circle cx="430.8" cy="219.9" r="1.2" fill="#fff"/>
<circle cx="440.7" cy="223.3" r="1.2" fill="#fff"/>
<path d="M120.6,234.0 L119.4,239.6 L116.9,242.6 L112.4,244.9 L107.7,244.6 L102.5,242.9 L99.6,238.0 L98.6,232.9 L100.2,230.1 L103.3,225.8 L107.7,223.2 L113.0,223.3 L115.6,225.6 L119.6,230.1Z M120.6,234.0 L102.5,242.9 M119.4,239.6 L107.7,244.6 M119.4,239.6 L100.2,230.1 M116.9,242.6 L102.5,242.9 M107.7,244.6 L113.0,223.3 M102.5,242.9 L100.2,230.1 M102.5,242.9 L107.7,223.2 M99.6,238.0 L103.3,225.8 M99.6,238.0 L113.0,223.3 M98.6,232.9 L120.6,234.0 M100.2,230.1 L119.6,230.1 M100.2,230.1 L119.4,239.6 M103.3,225.8 L116.9,242.6 M107.7,223.2 L119.4,239.6 M113.0,223.3 L120.6,234.0 M113.0,223.3 L107.7,244.6 M115.6,225.6 L119.4,239.6 M115.6,225.6 L102.5,242.9 M119.6,230.1 L99.6,238.0" fill="none" stroke="#d0d0d0" stroke-width="1.6"/>
<circle cx="119.4" cy="239.6" r="1.2" fill="#fff"/>
<circle cx="116.9" cy="242.6" r="1.2" fill="#fff"/>
<circle cx="107.7" cy="244.6" r="1.2" fill="#fff"/>
<circle cx="99.6" cy="238.0" r="1.2" fill="#fff"/>
<circle cx="98.6" cy="232.9" r="1.2" fill="#fff"/>
<circle cx="100.2" cy="230.1" r="1.2" fill="#fff"/>
<circle cx="103.3" cy="225.8" r="1.2" fill="#fff"/>
<circle cx="107.7" cy="223.2" r="1.2" fill="#fff"/>
<circle cx="113.0" cy="223.3" r="1.2" fill="#fff"/>
<circle cx="115.6" cy="225.6" r="1.2" fill="#fff"/>
<circle cx="119.6" cy="230.1" r="1.2" fill="#fff"/>
<circle cx="113.1" cy="231.4" r="1.2" fill="#fff"/>
<circle cx="109.8" cy="235.7" r="1.2" fill="#fff"/>
<circle cx="105.8" cy="231.6" r="1.2" fill="#fff"/>
<circle cx="111.8" cy="229.3" r="1.2" fill="#fff"/>
<circle cx="107.3" cy="239.5" r="1.2" fill="#fff"/>
<circle cx="109.8" cy="237.0" r="1.2" fill="#fff"/>
<circle cx="105.8" cy="231.7" r="1.2" fill="#fff"/>
<path d="M418.6,487.9 L417.8,491.6 L414.8,495.3 L410.1,497.7 L406.0,497.7 L402.5,495.3 L399.5,492.1 L398.6,487.6 L399.3,484.2 L401.9,480.1 L407.3,477.9 L411.0,478.3 L415.4,480.4 L417.9,483.5Z M418.6,487.9 L398.6,487.6 M417.8,491.6 L406.0,497.7 M410.1,497.7 L399.5,492.1 M410.1,497.7 L399.3,484.2 M410.1,497.7 L407.3,477.9 M406.0,497.7 L398.6,487.6 M406.0,497.7 L401.9,480.1 M402.5,495.3 L407.3,477.9 M402.5,495.3 L415.4,480.4 M398.6,487.6 L407.3,477.9 M398.6,487.6 L418.6,487.9 M399.3,484.2 L417.9,483.5 M399.3,484.2 L417.8,491.6 M401.9,480.1 L415.4,480.4 M407.3,477.9 L417.8,491.6 M415.4,480.4 L417.8,491.6 M415.4,480.4 L402.5,495.3 M417.9,483.5 L414.8,495.3 M417.9,483.5 L406.0,497.7" fill="none" stroke="#d0d0d0" stroke-width="1.6"/>
<circle cx="418.6" cy="487.9" r="1.2" fill="#fff"/>
<circle cx="417.8" cy="491.6" r="1.2" fill="#fff"/>
<circle cx="410.1" cy="497.7" r="1.2" fill="#fff"/>
<circle cx="406.0" cy="497.7" r="1.2" fill="#fff"/>
<circle cx="402.5" cy="495.3" r="1.2" fill="#fff"/>
<circle cx="399.5" cy="492.1" r="1.2" fill="#fff"/>
<circle cx="407.3" cy="477.9" r="1.2" fill="#fff"/>
<circle cx="411.0" cy="478.3" r="1.2" fill="#fff"/>
<circle cx="415.4" cy="480.4" r="1.2" fill="#fff"/>
<circle cx="406.2" cy="483.1" r="1.2" fill="#fff"/>
<circle cx="412.5" cy="491.4" r="1.2" fill="#fff"/>
<circle cx="406.8" cy="482.8" r="1.2" fill="#fff"/>
<circle cx="402.9" cy="485.9" r="1.2" fill="#fff"/>
<circle cx="403.8" cy="484.6" r="1.2" fill="#fff"/>
<circle cx="408.6" cy="491.1" r="1.2" fill="#fff"/>
<circle cx="405.3" cy="483.6" r="1.2" fill="#fff"/>
<path d="M154.0,241.4 L153.1,244.9 L150.5,247.0 L147.7,248.7 L144.3,248.6 L140.6,247.0 L138.6,244.1 L138.0,241.1 L138.6,237.6 L140.6,234.3 L143.7,233.1 L148.3,233.1 L150.6,235.1 L152.8,237.0Z M154.0,241.4 L140.6,247.0 M150.5,247.0 L140.6,247.0 M150.5,247.0 L140.6,234.3 M147.7,248.7 L138.6,244.1 M140.6,247.0 L138.6,237.6 M140.6,247.0 L143.7,233.1 M138.0,241.1 L143.7,233.1 M138.0,241.1 L150.6,235.1 M138.0,241.1 L154.0,241.4 M140.6,234.3 L150.5,247.0 M148.3,233.1 L154.0,241.4 M150.6,235.1 L147.7,248.7 M152.8,237.0 L150.5,247.0 M152.8,237.0 L144.3,248.6 M152.8,237.0 L138.6,244.1" fill="none" stroke="#d0d0d0" stroke-width="1.6"/>
<circle cx="154.0" cy="241.4" r="1.2" fill="#fff"/>
<circle cx="153.1" cy="244.9" r="1.2" fill="#fff"/>
<circle cx="140.6" cy="247.0" r="1.2" fill="#fff"/>
<circle cx="138.6" cy="244.1" r="1.2" fill="#fff"/>
<circle cx="138.0" cy="241.1" r="1.2" fill="#fff"/>
<circle cx="140.6" cy="234.3" r="1.2" fill="#fff"/>
<circle cx="148.3" cy="233.1" r="1.2" fill="#fff"/>
<circle cx="150.6" cy="235.1" r="1.2" fill="#fff"/>
<circle cx="152.8" cy="237.0" r="1.2" fill="#fff"/>
<circle cx="146.7" cy="243.5" r="1.2" fill="#fff"/>
<circle cx="148.2" cy="243.8" r="1.2" fill="#fff"/>
<circle cx="146.7" cy="238.8" r="1.2" fill="#fff"/>
<circle cx="150.4" cy="239.7" r="1.2" fill="#fff"/>
<circle cx="141.7" cy="242.6" r="1.2" fill="#fff"/>
<circle cx="142.8" cy="240.7" r="1.2" fill="#fff"/>
<circle cx="147.5" cy="238.0" r="1.2" fill="#fff"/>
<circle cx="341.6" cy="358.3" r="11.5" fill="#f0d68c" stroke="#fff" stroke-width="1.2"/>
<circle cx="401.5" cy="314.4" r="8" fill="#f2d790" stroke="#fff" stroke-width="1.2"/>
<circle cx="391.3" cy="266.2" r="8.5" fill="#ecd07e" stroke="#fff" stroke-width="1.2"/>
<circle cx="287.1" cy="253.7" r="7.6" fill="#f5da98" stroke="#fff" stroke-width="1.2"/>
<circle cx="232.3" cy="297.7" r="5" fill="#f4d995" stroke="#fff" stroke-width="1.2"/>
<circle cx="194.1" cy="344" r="3.5" fill="#f4d995" stroke="#fff" stroke-width="1.2"/>
<circle cx="433" cy="303.8" r="4.5" fill="#f4d995" stroke="#fff" stroke-width="1.2"/>
<circle cx="491" cy="346" r="3.5" fill="#f4d995" stroke="#fff" stroke-width="1.2"/>
<circle cx="488.7" cy="254.6" r="3.5" fill="#f4d995" stroke="#fff" stroke-width="1.2"/>
<circle cx="504.3" cy="253.1" r="3.5" fill="#f4d995" stroke="#fff" stroke-width="1.2"/>
<circle cx="266.4" cy="384.1" r="3.5" fill="#f4d995" stroke="#fff" stroke-width="1.2"/>
<circle cx="296.8" cy="416.4" r="4" fill="#f4d995" stroke="#fff" stroke-width="1.2"/>
<circle cx="339" cy="285.8" r="3" fill="#f4d995" stroke="#fff" stroke-width="1.2"/>
<circle cx="278.8" cy="287.9" r="3.5" fill="#f4d995" stroke="#fff" stroke-width="1.2"/>
<circle cx="245" cy="228.6" r="2.5" fill="#f4d995" stroke="#fff" stroke-width="1.2"/>
<circle cx="229.1" cy="145" r="1.8" fill="#f4d995" stroke="#fff" stroke-width="1.2"/>
<circle cx="263.5" cy="197.4" r="2" fill="#f4d995" stroke="#fff" stroke-width="1.2"/>
<circle cx="386" cy="376" r="4" fill="#f4d995" stroke="#fff" stroke-width="1.2"/>
<circle cx="313.6" cy="424" r="2.5" fill="#f4d995" stroke="#fff" stroke-width="1.2"/>
<circle cx="319.6" cy="471.7" r="2.5" fill="#f4d995" stroke="#fff" stroke-width="1.2"/>
<circle cx="335" cy="464" r="2.5" fill="#f4d995" stroke="#fff" stroke-width="1.2"/>
<circle cx="348" cy="483" r="2.5" fill="#f4d995" stroke="#fff" stroke-width="1.2"/>
<circle cx="335" cy="520" r="2.5" fill="#f4d995" stroke="#fff" stroke-width="1.2"/>
<circle cx="260" cy="362" r="2.5" fill="#f4d995" stroke="#fff" stroke-width="1.2"/>
<circle cx="215" cy="380" r="2.5" fill="#f4d995" stroke="#fff" stroke-width="1.2"/>
<circle cx="440" cy="480" r="2.5" fill="#f4d995" stroke="#fff" stroke-width="1.2"/>
<circle cx="455" cy="330" r="2.5" fill="#f4d995" stroke="#fff" stroke-width="1.2"/>
<circle cx="485.6" cy="291.9" r="6" fill="#c9a93c" stroke="#fff" stroke-width="1.2"/>
<circle cx="366.3" cy="231.1" r="3.8" fill="#c9a93c" stroke="#fff" stroke-width="1.2"/>
<circle cx="395.9" cy="205.6" r="3" fill="#c9a93c" stroke="#fff" stroke-width="1.2"/>
<circle cx="265.1" cy="446.8" r="5.5" fill="#c9a93c" stroke="#fff" stroke-width="1.2"/>
<circle cx="243.6" cy="331.1" r="4.5" fill="#c9a93c" stroke="#fff" stroke-width="1.2"/>
<circle cx="225" cy="394.9" r="4.5" fill="#c9a93c" stroke="#fff" stroke-width="1.2"/>
<circle cx="480.6" cy="384.6" r="3.5" fill="#c9a93c" stroke="#fff" stroke-width="1.2"/>
<circle cx="516.5" cy="323.9" r="2.5" fill="#c9a93c" stroke="#fff" stroke-width="1.2"/>
<circle cx="414" cy="370" r="3" fill="#c9a93c" stroke="#fff" stroke-width="1.2"/>
<circle cx="434" cy="143.1" r="2.5" fill="#c9a93c" stroke="#fff" stroke-width="1.2"/>
<circle cx="308.5" cy="348.3" r="2.5" fill="#c9a93c" stroke="#fff" stroke-width="1.2"/>
<circle cx="185.4" cy="274.4" r="2.5" fill="#c9a93c" stroke="#fff" stroke-width="1.2"/>
<circle cx="173.2" cy="206.4" r="2.5" fill="#c9a93c" stroke="#fff" stroke-width="1.2"/>
<circle cx="146.9" cy="343.2" r="2.5" fill="#c9a93c" stroke="#fff" stroke-width="1.2"/>
<circle cx="355.4" cy="306.2" r="2.5" fill="#c9a93c" stroke="#fff" stroke-width="1.2"/>
<circle cx="271.9" cy="325.8" r="2.5" fill="#c9a93c" stroke="#fff" stroke-width="1.2"/>
<circle cx="461.7" cy="204.1" r="2" fill="#c9a93c" stroke="#fff" stroke-width="1.2"/>
<circle cx="360.4" cy="445" r="3.2" fill="#a08f18" stroke="#fff" stroke-width="1.2"/>
<circle cx="390.2" cy="163.2" r="2.5" fill="#0f4650" stroke="#fff" stroke-width="1.2"/>
<circle cx="273.5" cy="411.1" r="2.8" fill="#0f4650" stroke="#fff" stroke-width="1.2"/>
<circle cx="298" cy="454.6" r="2.6" fill="#0f4650" stroke="#fff" stroke-width="1.2"/>
<circle cx="327.1" cy="507.7" r="2.6" fill="#0f4650" stroke="#fff" stroke-width="1.2"/>
<circle cx="363.1" cy="498.1" r="2.2" fill="#0f4650" stroke="#fff" stroke-width="1.2"/>
<circle cx="369.3" cy="191.3" r="2" fill="#0f4650" stroke="#fff" stroke-width="1.2"/>
<circle cx="401.5" cy="460.9" r="2" fill="#0f4650" stroke="#fff" stroke-width="1.2"/>
<circle cx="245.3" cy="417.4" r="2" fill="#0f4650" stroke="#fff" stroke-width="1.2"/>
<path d="M390.2,134.9 V160.3 M386.3,153.8 L390.2,160.3 L394.09999999999997,153.8" fill="none" stroke="#000" stroke-width="1.4"/>
<path d="M297.9,185.1 V208.1 M294.0,201.6 L297.9,208.1 L301.79999999999995,201.6" fill="none" stroke="#000" stroke-width="1.4"/>
<path d="M287.1,226.4 V250.4 M283.20000000000005,243.9 L287.1,250.4 L291.0,243.9" fill="none" stroke="#000" stroke-width="1.4"/>
<path d="M400.9,286.6 V309.5 M397.0,303.0 L400.9,309.5 L404.79999999999995,303.0" fill="none" stroke="#000" stroke-width="1.4"/>
<path d="M341.6,330.2 V354.2 M337.70000000000005,347.7 L341.6,354.2 L345.5,347.7" fill="none" stroke="#000" stroke-width="1.4"/>
<path d="M274,383.2 V406.5 M270.1,400.0 L274,406.5 L277.9,400.0" fill="none" stroke="#000" stroke-width="1.4"/>
<path d="M360,416.5 V441 M356.1,434.5 L360,441 L363.9,434.5" fill="none" stroke="#000" stroke-width="1.4"/>
<text x="372.6" y="128.6" font-size="17.5" font-weight="bold" textLength="36" lengthAdjust="spacingAndGlyphs" fill="#fff" stroke="#fff" stroke-width="2.6" stroke-linejoin="round">SCA</text>
<text x="372.6" y="128.6" font-size="17.5" font-weight="bold" textLength="36" lengthAdjust="spacingAndGlyphs" fill="#0b4a47" stroke="#0b4a47" stroke-width="0.9">SCA</text>
<text x="263.3" y="178.7" font-size="17.5" font-weight="bold" textLength="69" lengthAdjust="spacingAndGlyphs" fill="#fff" stroke="#fff" stroke-width="2.6" stroke-linejoin="round">Holmen</text>
<text x="263.3" y="178.7" font-size="17.5" font-weight="bold" textLength="69" lengthAdjust="spacingAndGlyphs" fill="#3a6a29" stroke="#3a6a29" stroke-width="0.9">Holmen</text>
<text x="248.7" y="220.4" font-size="17.5" font-weight="bold" textLength="77" lengthAdjust="spacingAndGlyphs" fill="#2a3550" stroke="#2a3550" stroke-width="5.2" stroke-linejoin="round">Ericsson</text>
<text x="248.7" y="220.4" font-size="17.5" font-weight="bold" textLength="77" lengthAdjust="spacingAndGlyphs" fill="#f8dc98" stroke="#f8dc98" stroke-width="0.9">Ericsson</text>
<text x="307.5" y="280" font-size="17.5" font-weight="bold" textLength="188" lengthAdjust="spacingAndGlyphs" fill="#2a3550" stroke="#2a3550" stroke-width="5.2" stroke-linejoin="round">Saab-Scania (group)</text>
<text x="307.5" y="280" font-size="17.5" font-weight="bold" textLength="188" lengthAdjust="spacingAndGlyphs" fill="#f8dc98" stroke="#f8dc98" stroke-width="0.9">Saab-Scania (group)</text>
<text x="297.5" y="323.5" font-size="17.5" font-weight="bold" textLength="87" lengthAdjust="spacingAndGlyphs" fill="#2a3550" stroke="#2a3550" stroke-width="5.2" stroke-linejoin="round">Asea/ABB</text>
<text x="297.5" y="323.5" font-size="17.5" font-weight="bold" textLength="87" lengthAdjust="spacingAndGlyphs" fill="#f8dc98" stroke="#f8dc98" stroke-width="0.9">Asea/ABB</text>
<text x="238.5" y="376" font-size="17.5" font-weight="bold" textLength="71" lengthAdjust="spacingAndGlyphs" fill="#fff" stroke="#fff" stroke-width="2.6" stroke-linejoin="round">Billerud</text>
<text x="238.5" y="376" font-size="17.5" font-weight="bold" textLength="71" lengthAdjust="spacingAndGlyphs" fill="#0b4a47" stroke="#0b4a47" stroke-width="0.9">Billerud</text>
<text x="297.7" y="409.9" font-size="17.5" font-weight="bold" textLength="125" lengthAdjust="spacingAndGlyphs" fill="#fff" stroke="#fff" stroke-width="2.6" stroke-linejoin="round">Stora (group)</text>
<text x="297.7" y="409.9" font-size="17.5" font-weight="bold" textLength="125" lengthAdjust="spacingAndGlyphs" fill="#a08f18" stroke="#a08f18" stroke-width="0.9">Stora (group)</text>
<rect x="756.0" y="74.0" width="10.6" height="195.3" fill="#375e2d" stroke="#000" stroke-width="1.4"/>
<rect x="776.1" y="122.0" width="10.3" height="147.3" fill="#375e2d" stroke="#000" stroke-width="1.4"/>
<rect x="786.4" y="204.5" width="10.2" height="64.8" fill="#375e2d" stroke="#000" stroke-width="1.4"/>
<rect x="796.6" y="198.0" width="10.6" height="71.3" fill="#375e2d" stroke="#000" stroke-width="1.4"/>
<rect x="807.2" y="260.4" width="10.0" height="8.9" fill="#375e2d" stroke="#000" stroke-width="1.4"/>
<rect x="817.2" y="235.9" width="10.5" height="33.4" fill="#375e2d" stroke="#000" stroke-width="1.4"/>
<rect x="929.3" y="260.2" width="10.4" height="9.1" fill="#375e2d" stroke="#000" stroke-width="1.4"/>
<path d="M736.3,65.0 V269.3 H949.5" fill="none" stroke="#000" stroke-width="1.1"/>
<line x1="731.3" y1="260.4" x2="736.3" y2="260.4" stroke="#000" stroke-width="1"/>
<line x1="733.3" y1="236.3" x2="736.3" y2="236.3" stroke="#000" stroke-width="0.8"/>
<line x1="733.3" y1="222.2" x2="736.3" y2="222.2" stroke="#000" stroke-width="0.8"/>
<line x1="733.3" y1="212.2" x2="736.3" y2="212.2" stroke="#000" stroke-width="0.8"/>
<line x1="733.3" y1="204.5" x2="736.3" y2="204.5" stroke="#000" stroke-width="0.8"/>
<line x1="733.3" y1="198.1" x2="736.3" y2="198.1" stroke="#000" stroke-width="0.8"/>
<line x1="733.3" y1="192.8" x2="736.3" y2="192.8" stroke="#000" stroke-width="0.8"/>
<line x1="733.3" y1="188.2" x2="736.3" y2="188.2" stroke="#000" stroke-width="0.8"/>
<line x1="733.3" y1="184.1" x2="736.3" y2="184.1" stroke="#000" stroke-width="0.8"/>
<line x1="731.3" y1="180.39999999999998" x2="736.3" y2="180.39999999999998" stroke="#000" stroke-width="1"/>
<line x1="733.3" y1="156.3" x2="736.3" y2="156.3" stroke="#000" stroke-width="0.8"/>
<line x1="733.3" y1="142.2" x2="736.3" y2="142.2" stroke="#000" stroke-width="0.8"/>
<line x1="733.3" y1="132.2" x2="736.3" y2="132.2" stroke="#000" stroke-width="0.8"/>
<line x1="733.3" y1="124.5" x2="736.3" y2="124.5" stroke="#000" stroke-width="0.8"/>
<line x1="733.3" y1="118.1" x2="736.3" y2="118.1" stroke="#000" stroke-width="0.8"/>
<line x1="733.3" y1="112.8" x2="736.3" y2="112.8" stroke="#000" stroke-width="0.8"/>
<line x1="733.3" y1="108.2" x2="736.3" y2="108.2" stroke="#000" stroke-width="0.8"/>
<line x1="733.3" y1="104.1" x2="736.3" y2="104.1" stroke="#000" stroke-width="0.8"/>
<line x1="731.3" y1="100.39999999999998" x2="736.3" y2="100.39999999999998" stroke="#000" stroke-width="1"/>
<line x1="733.3" y1="76.3" x2="736.3" y2="76.3" stroke="#000" stroke-width="0.8"/>
<line x1="733.3" y1="268.2" x2="736.3" y2="268.2" stroke="#000" stroke-width="0.8"/>
<line x1="733.3" y1="264.1" x2="736.3" y2="264.1" stroke="#000" stroke-width="0.8"/>
<line x1="738.9" y1="269.3" x2="738.9" y2="272.3" stroke="#000" stroke-width="0.8"/>
<line x1="742.3" y1="269.3" x2="742.3" y2="272.3" stroke="#000" stroke-width="0.8"/>
<line x1="745.4" y1="269.3" x2="745.4" y2="274.3" stroke="#000" stroke-width="1"/>
<line x1="765.6" y1="269.3" x2="765.6" y2="272.3" stroke="#000" stroke-width="0.8"/>
<line x1="777.5" y1="269.3" x2="777.5" y2="272.3" stroke="#000" stroke-width="0.8"/>
<line x1="785.9" y1="269.3" x2="785.9" y2="272.3" stroke="#000" stroke-width="0.8"/>
<line x1="792.4" y1="269.3" x2="792.4" y2="272.3" stroke="#000" stroke-width="0.8"/>
<line x1="797.7" y1="269.3" x2="797.7" y2="272.3" stroke="#000" stroke-width="0.8"/>
<line x1="802.2" y1="269.3" x2="802.2" y2="272.3" stroke="#000" stroke-width="0.8"/>
<line x1="806.1" y1="269.3" x2="806.1" y2="272.3" stroke="#000" stroke-width="0.8"/>
<line x1="809.5" y1="269.3" x2="809.5" y2="272.3" stroke="#000" stroke-width="0.8"/>
<line x1="812.6" y1="269.3" x2="812.6" y2="274.3" stroke="#000" stroke-width="1"/>
<line x1="832.8" y1="269.3" x2="832.8" y2="272.3" stroke="#000" stroke-width="0.8"/>
<line x1="844.7" y1="269.3" x2="844.7" y2="272.3" stroke="#000" stroke-width="0.8"/>
<line x1="853.1" y1="269.3" x2="853.1" y2="272.3" stroke="#000" stroke-width="0.8"/>
<line x1="859.6" y1="269.3" x2="859.6" y2="272.3" stroke="#000" stroke-width="0.8"/>
<line x1="864.9" y1="269.3" x2="864.9" y2="272.3" stroke="#000" stroke-width="0.8"/>
<line x1="869.4" y1="269.3" x2="869.4" y2="272.3" stroke="#000" stroke-width="0.8"/>
<line x1="873.3" y1="269.3" x2="873.3" y2="272.3" stroke="#000" stroke-width="0.8"/>
<line x1="876.7" y1="269.3" x2="876.7" y2="272.3" stroke="#000" stroke-width="0.8"/>
<line x1="879.8" y1="269.3" x2="879.8" y2="274.3" stroke="#000" stroke-width="1"/>
<line x1="900.0" y1="269.3" x2="900.0" y2="272.3" stroke="#000" stroke-width="0.8"/>
<line x1="911.9" y1="269.3" x2="911.9" y2="272.3" stroke="#000" stroke-width="0.8"/>
<line x1="920.3" y1="269.3" x2="920.3" y2="272.3" stroke="#000" stroke-width="0.8"/>
<line x1="926.8" y1="269.3" x2="926.8" y2="272.3" stroke="#000" stroke-width="0.8"/>
<line x1="932.1" y1="269.3" x2="932.1" y2="272.3" stroke="#000" stroke-width="0.8"/>
<line x1="936.6" y1="269.3" x2="936.6" y2="272.3" stroke="#000" stroke-width="0.8"/>
<line x1="940.5" y1="269.3" x2="940.5" y2="272.3" stroke="#000" stroke-width="0.8"/>
<line x1="943.9" y1="269.3" x2="943.9" y2="272.3" stroke="#000" stroke-width="0.8"/>
<line x1="947.0" y1="269.3" x2="947.0" y2="274.3" stroke="#000" stroke-width="1"/>
<text x="695.9" y="106.4" font-size="16.5" textLength="18.0" lengthAdjust="spacingAndGlyphs">10</text>
<text x="714.4" y="99.5" font-size="11.5" textLength="7.5" lengthAdjust="spacingAndGlyphs">2</text>
<text x="695.9" y="186.7" font-size="16.5" textLength="18.0" lengthAdjust="spacingAndGlyphs">10</text>
<text x="714.4" y="179.8" font-size="11.5" textLength="7.5" lengthAdjust="spacingAndGlyphs">1</text>
<text x="695.9" y="266.4" font-size="16.5" textLength="18.0" lengthAdjust="spacingAndGlyphs">10</text>
<text x="714.4" y="259.5" font-size="11.5" textLength="7.5" lengthAdjust="spacingAndGlyphs">0</text>
<text x="732.2" y="294.6" font-size="16.5" textLength="18.0" lengthAdjust="spacingAndGlyphs">10</text>
<text x="750.7" y="287.7" font-size="11.5" textLength="7.5" lengthAdjust="spacingAndGlyphs">0</text>
<text x="799.3" y="294.6" font-size="16.5" textLength="18.0" lengthAdjust="spacingAndGlyphs">10</text>
<text x="817.8" y="287.7" font-size="11.5" textLength="7.5" lengthAdjust="spacingAndGlyphs">1</text>
<text x="866.3" y="294.6" font-size="16.5" textLength="18.0" lengthAdjust="spacingAndGlyphs">10</text>
<text x="884.8" y="287.7" font-size="11.5" textLength="7.5" lengthAdjust="spacingAndGlyphs">2</text>
<text x="933.2" y="294.6" font-size="16.5" textLength="18.0" lengthAdjust="spacingAndGlyphs">10</text>
<text x="951.7" y="287.7" font-size="11.5" textLength="7.5" lengthAdjust="spacingAndGlyphs">3</text>
<text x="842.5" y="319.7" font-size="16.5" font-weight="normal" fill="#000" text-anchor="middle" textLength="134.8" lengthAdjust="spacingAndGlyphs" >Component Size</text>
<text transform="translate(685.5,167) rotate(-90)" font-size="16.5" text-anchor="middle" textLength="84.4" lengthAdjust="spacingAndGlyphs">Frequency</text>
<text x="643.6" y="55.5" font-size="21.2" font-weight="normal" fill="#000" text-anchor="start" textLength="398.4" lengthAdjust="spacingAndGlyphs" >Connected Component Size Distribution</text>
<text x="715.9" y="24.6" font-size="16.8" font-weight="normal" fill="#000" text-anchor="start" textLength="14.8" lengthAdjust="spacingAndGlyphs" >b)</text>
<path d="M736.2,396.0 V600.4 H950.0" fill="none" stroke="#000" stroke-width="1.1"/>
<line x1="731.2" y1="415.2" x2="736.2" y2="415.2" stroke="#000" stroke-width="1"/>
<line x1="733.2" y1="402.7" x2="736.2" y2="402.7" stroke="#000" stroke-width="0.8"/>
<line x1="731.2" y1="456.6" x2="736.2" y2="456.6" stroke="#000" stroke-width="1"/>
<line x1="733.2" y1="444.2" x2="736.2" y2="444.2" stroke="#000" stroke-width="0.8"/>
<line x1="733.2" y1="436.9" x2="736.2" y2="436.9" stroke="#000" stroke-width="0.8"/>
<line x1="733.2" y1="431.7" x2="736.2" y2="431.7" stroke="#000" stroke-width="0.8"/>
<line x1="733.2" y1="427.7" x2="736.2" y2="427.7" stroke="#000" stroke-width="0.8"/>
<line x1="733.2" y1="424.4" x2="736.2" y2="424.4" stroke="#000" stroke-width="0.8"/>
<line x1="733.2" y1="421.6" x2="736.2" y2="421.6" stroke="#000" stroke-width="0.8"/>
<line x1="733.2" y1="419.2" x2="736.2" y2="419.2" stroke="#000" stroke-width="0.8"/>
<line x1="733.2" y1="417.1" x2="736.2" y2="417.1" stroke="#000" stroke-width="0.8"/>
<line x1="731.2" y1="498.1" x2="736.2" y2="498.1" stroke="#000" stroke-width="1"/>
<line x1="733.2" y1="485.6" x2="736.2" y2="485.6" stroke="#000" stroke-width="0.8"/>
<line x1="733.2" y1="478.3" x2="736.2" y2="478.3" stroke="#000" stroke-width="0.8"/>
<line x1="733.2" y1="473.1" x2="736.2" y2="473.1" stroke="#000" stroke-width="0.8"/>
<line x1="733.2" y1="469.1" x2="736.2" y2="469.1" stroke="#000" stroke-width="0.8"/>
<line x1="733.2" y1="465.8" x2="736.2" y2="465.8" stroke="#000" stroke-width="0.8"/>
<line x1="733.2" y1="463.1" x2="736.2" y2="463.1" stroke="#000" stroke-width="0.8"/>
<line x1="733.2" y1="460.7" x2="736.2" y2="460.7" stroke="#000" stroke-width="0.8"/>
<line x1="733.2" y1="458.5" x2="736.2" y2="458.5" stroke="#000" stroke-width="0.8"/>
<line x1="731.2" y1="539.5" x2="736.2" y2="539.5" stroke="#000" stroke-width="1"/>
<line x1="733.2" y1="527.1" x2="736.2" y2="527.1" stroke="#000" stroke-width="0.8"/>
<line x1="733.2" y1="519.8" x2="736.2" y2="519.8" stroke="#000" stroke-width="0.8"/>
<line x1="733.2" y1="514.6" x2="736.2" y2="514.6" stroke="#000" stroke-width="0.8"/>
<line x1="733.2" y1="510.6" x2="736.2" y2="510.6" stroke="#000" stroke-width="0.8"/>
<line x1="733.2" y1="507.3" x2="736.2" y2="507.3" stroke="#000" stroke-width="0.8"/>
<line x1="733.2" y1="504.5" x2="736.2" y2="504.5" stroke="#000" stroke-width="0.8"/>
<line x1="733.2" y1="502.1" x2="736.2" y2="502.1" stroke="#000" stroke-width="0.8"/>
<line x1="733.2" y1="500.0" x2="736.2" y2="500.0" stroke="#000" stroke-width="0.8"/>
<line x1="731.2" y1="581.0" x2="736.2" y2="581.0" stroke="#000" stroke-width="1"/>
<line x1="733.2" y1="568.5" x2="736.2" y2="568.5" stroke="#000" stroke-width="0.8"/>
<line x1="733.2" y1="561.2" x2="736.2" y2="561.2" stroke="#000" stroke-width="0.8"/>
<line x1="733.2" y1="556.0" x2="736.2" y2="556.0" stroke="#000" stroke-width="0.8"/>
<line x1="733.2" y1="552.0" x2="736.2" y2="552.0" stroke="#000" stroke-width="0.8"/>
<line x1="733.2" y1="548.7" x2="736.2" y2="548.7" stroke="#000" stroke-width="0.8"/>
<line x1="733.2" y1="546.0" x2="736.2" y2="546.0" stroke="#000" stroke-width="0.8"/>
<line x1="733.2" y1="543.6" x2="736.2" y2="543.6" stroke="#000" stroke-width="0.8"/>
<line x1="733.2" y1="541.4" x2="736.2" y2="541.4" stroke="#000" stroke-width="0.8"/>
<line x1="733.2" y1="597.5" x2="736.2" y2="597.5" stroke="#000" stroke-width="0.8"/>
<line x1="733.2" y1="593.5" x2="736.2" y2="593.5" stroke="#000" stroke-width="0.8"/>
<line x1="733.2" y1="590.2" x2="736.2" y2="590.2" stroke="#000" stroke-width="0.8"/>
<line x1="733.2" y1="587.4" x2="736.2" y2="587.4" stroke="#000" stroke-width="0.8"/>
<line x1="733.2" y1="585.0" x2="736.2" y2="585.0" stroke="#000" stroke-width="0.8"/>
<line x1="733.2" y1="582.9" x2="736.2" y2="582.9" stroke="#000" stroke-width="0.8"/>
<line x1="740.4" y1="600.4" x2="740.4" y2="605.4" stroke="#000" stroke-width="1"/>
<line x1="770.4" y1="600.4" x2="770.4" y2="603.4" stroke="#000" stroke-width="0.8"/>
<line x1="788.0" y1="600.4" x2="788.0" y2="603.4" stroke="#000" stroke-width="0.8"/>
<line x1="800.5" y1="600.4" x2="800.5" y2="603.4" stroke="#000" stroke-width="0.8"/>
<line x1="810.2" y1="600.4" x2="810.2" y2="603.4" stroke="#000" stroke-width="0.8"/>
<line x1="818.1" y1="600.4" x2="818.1" y2="603.4" stroke="#000" stroke-width="0.8"/>
<line x1="824.7" y1="600.4" x2="824.7" y2="603.4" stroke="#000" stroke-width="0.8"/>
<line x1="830.5" y1="600.4" x2="830.5" y2="603.4" stroke="#000" stroke-width="0.8"/>
<line x1="835.6" y1="600.4" x2="835.6" y2="603.4" stroke="#000" stroke-width="0.8"/>
<line x1="840.2" y1="600.4" x2="840.2" y2="605.4" stroke="#000" stroke-width="1"/>
<line x1="870.2" y1="600.4" x2="870.2" y2="603.4" stroke="#000" stroke-width="0.8"/>
<line x1="887.8" y1="600.4" x2="887.8" y2="603.4" stroke="#000" stroke-width="0.8"/>
<line x1="900.3" y1="600.4" x2="900.3" y2="603.4" stroke="#000" stroke-width="0.8"/>
<line x1="910.0" y1="600.4" x2="910.0" y2="603.4" stroke="#000" stroke-width="0.8"/>
<line x1="917.9" y1="600.4" x2="917.9" y2="603.4" stroke="#000" stroke-width="0.8"/>
<line x1="924.5" y1="600.4" x2="924.5" y2="603.4" stroke="#000" stroke-width="0.8"/>
<line x1="930.3" y1="600.4" x2="930.3" y2="603.4" stroke="#000" stroke-width="0.8"/>
<line x1="935.4" y1="600.4" x2="935.4" y2="603.4" stroke="#000" stroke-width="0.8"/>
<line x1="940.0" y1="600.4" x2="940.0" y2="605.4" stroke="#000" stroke-width="1"/>
<circle cx="745.9" cy="405.7" r="5.8" fill="#3a622f"/>
<circle cx="767.3" cy="428.7" r="5.8" fill="#3a622f"/>
<circle cx="789.1" cy="451.7" r="5.8" fill="#3a622f"/>
<circle cx="799.8" cy="465.2" r="5.8" fill="#3a622f"/>
<circle cx="810.4" cy="479.1" r="5.8" fill="#3a622f"/>
<circle cx="821.4" cy="483.5" r="5.8" fill="#3a622f"/>
<circle cx="832.0" cy="493.4" r="5.8" fill="#3a622f"/>
<circle cx="842.6" cy="513.9" r="5.8" fill="#3a622f"/>
<circle cx="853.4" cy="519.5" r="5.8" fill="#3a622f"/>
<circle cx="864.0" cy="540.2" r="5.8" fill="#3a622f"/>
<circle cx="875.2" cy="542.2" r="5.8" fill="#3a622f"/>
<circle cx="885.8" cy="561.8" r="5.8" fill="#3a622f"/>
<circle cx="896.6" cy="573.4" r="5.8" fill="#3a622f"/>
<circle cx="918.1" cy="575.0" r="5.8" fill="#3a622f"/>
<circle cx="928.8" cy="586.7" r="5.8" fill="#3a622f"/>
<circle cx="939.5" cy="591.4" r="5.8" fill="#3a622f"/>
<text x="695.7" y="420.9" font-size="16.5" textLength="18.0" lengthAdjust="spacingAndGlyphs">10</text>
<text x="714.2" y="414.0" font-size="11.5" textLength="7.5" lengthAdjust="spacingAndGlyphs">0</text>
<text x="685.7" y="462.5" font-size="16.5" textLength="18.0" lengthAdjust="spacingAndGlyphs">10</text>
<text x="704.2" y="455.6" font-size="11.5" textLength="17.0" lengthAdjust="spacingAndGlyphs">−1</text>
<text x="685.7" y="503.9" font-size="16.5" textLength="18.0" lengthAdjust="spacingAndGlyphs">10</text>
<text x="704.2" y="497.0" font-size="11.5" textLength="17.0" lengthAdjust="spacingAndGlyphs">−2</text>
<text x="685.7" y="545.3" font-size="16.5" textLength="18.0" lengthAdjust="spacingAndGlyphs">10</text>
<text x="704.2" y="538.4" font-size="11.5" textLength="17.0" lengthAdjust="spacingAndGlyphs">−3</text>
<text x="685.7" y="586.7" font-size="16.5" textLength="18.0" lengthAdjust="spacingAndGlyphs">10</text>
<text x="704.2" y="579.8" font-size="11.5" textLength="17.0" lengthAdjust="spacingAndGlyphs">−4</text>
<text x="726.8" y="625.3" font-size="16.5" textLength="18.0" lengthAdjust="spacingAndGlyphs">10</text>
<text x="745.3" y="618.4" font-size="11.5" textLength="7.5" lengthAdjust="spacingAndGlyphs">0</text>
<text x="826.2" y="625.3" font-size="16.5" textLength="18.0" lengthAdjust="spacingAndGlyphs">10</text>
<text x="844.7" y="618.4" font-size="11.5" textLength="7.5" lengthAdjust="spacingAndGlyphs">1</text>
<text x="926.3" y="625.3" font-size="16.5" textLength="18.0" lengthAdjust="spacingAndGlyphs">10</text>
<text x="944.8" y="618.4" font-size="11.5" textLength="7.5" lengthAdjust="spacingAndGlyphs">2</text>
<text x="805" y="649.6" font-size="16.5" textLength="60" lengthAdjust="spacingAndGlyphs">Degree </text>
<text x="870" y="649.6" font-size="16.5" font-style="italic">k</text>
<text transform="translate(672.3,498.6) rotate(-90)" font-size="16.5" text-anchor="middle">P(<tspan font-style="italic">k</tspan>)</text>
<text x="686.9" y="386.0" font-size="21.2" font-weight="normal" fill="#000" text-anchor="start" textLength="311.5" lengthAdjust="spacingAndGlyphs" >Log-Binned Degree Distribution</text>
<text x="715.3" y="356.0" font-size="16.8" font-weight="normal" fill="#000" text-anchor="start" textLength="14.1" lengthAdjust="spacingAndGlyphs" >c)</text>
<text x="279.0" y="610.1" font-size="16.5" font-weight="normal" fill="#000" text-anchor="start" textLength="105.4" lengthAdjust="spacingAndGlyphs" ># Innovation</text>
<circle cx="197.9" cy="628.2" r="2.0" fill="#808080"/>
<text x="225.7" y="632.8" font-size="16.5" font-weight="normal" fill="#000" text-anchor="start" textLength="17.8" lengthAdjust="spacingAndGlyphs" >10</text>
<circle cx="270.1" cy="628.2" r="5.1" fill="#808080"/>
<text x="297.7" y="632.8" font-size="16.5" font-weight="normal" fill="#000" text-anchor="start" textLength="17.9" lengthAdjust="spacingAndGlyphs" >50</text>
<circle cx="342.6" cy="628.2" r="7.7" fill="#808080"/>
<text x="370.4" y="632.8" font-size="16.5" font-weight="normal" fill="#000" text-anchor="start" textLength="27.3" lengthAdjust="spacingAndGlyphs" >100</text>
<circle cx="424.5" cy="628.2" r="10.6" fill="#808080"/>
<text x="451.8" y="632.8" font-size="16.5" font-weight="normal" fill="#000" text-anchor="start" textLength="28.1" lengthAdjust="spacingAndGlyphs" >200</text>
<defs><linearGradient id="cb" x1="0" x2="1" y1="0" y2="0">
<stop offset="0" stop-color="#fae3a9"/>
<stop offset="0.15" stop-color="#e4c878"/>
<stop offset="0.29" stop-color="#b89c2c"/>
<stop offset="0.36" stop-color="#9c8b08"/>
<stop offset="0.45" stop-color="#7f8a0b"/>
<stop offset="0.55" stop-color="#627e1c"/>
<stop offset="0.7" stop-color="#416a2e"/>
<stop offset="0.85" stop-color="#1f4f3c"/>
<stop offset="1" stop-color="#043a4d"/>
</linearGradient></defs>
<rect x="171.1" y="661.1" width="320.6" height="15.3" fill="url(#cb)"/>
<text x="171.1" y="695.7" font-size="16.5" font-weight="normal" fill="#000" text-anchor="middle" textLength="9.4" lengthAdjust="spacingAndGlyphs" >0</text>
<text x="235.2" y="695.7" font-size="16.5" font-weight="normal" fill="#000" text-anchor="middle" textLength="19.5" lengthAdjust="spacingAndGlyphs" >20</text>
<text x="299.3" y="695.7" font-size="16.5" font-weight="normal" fill="#000" text-anchor="middle" textLength="20.1" lengthAdjust="spacingAndGlyphs" >40</text>
<text x="363.5" y="695.7" font-size="16.5" font-weight="normal" fill="#000" text-anchor="middle" textLength="20.0" lengthAdjust="spacingAndGlyphs" >60</text>
<text x="427.6" y="695.7" font-size="16.5" font-weight="normal" fill="#000" text-anchor="middle" textLength="19.9" lengthAdjust="spacingAndGlyphs" >80</text>
<text x="491.7" y="695.7" font-size="16.5" font-weight="normal" fill="#000" text-anchor="middle" textLength="28.6" lengthAdjust="spacingAndGlyphs" >100</text>
<text x="331.3" y="718.2" font-size="16.5" font-weight="normal" fill="#000" text-anchor="middle" textLength="215.7" lengthAdjust="spacingAndGlyphs" >% Bioeconomy Innovation</text>
<text x="77.0" y="38.6" font-size="19.5" font-weight="normal" fill="#000" text-anchor="start" textLength="14.6" lengthAdjust="spacingAndGlyphs" >a)</text>
</svg></body></html>
